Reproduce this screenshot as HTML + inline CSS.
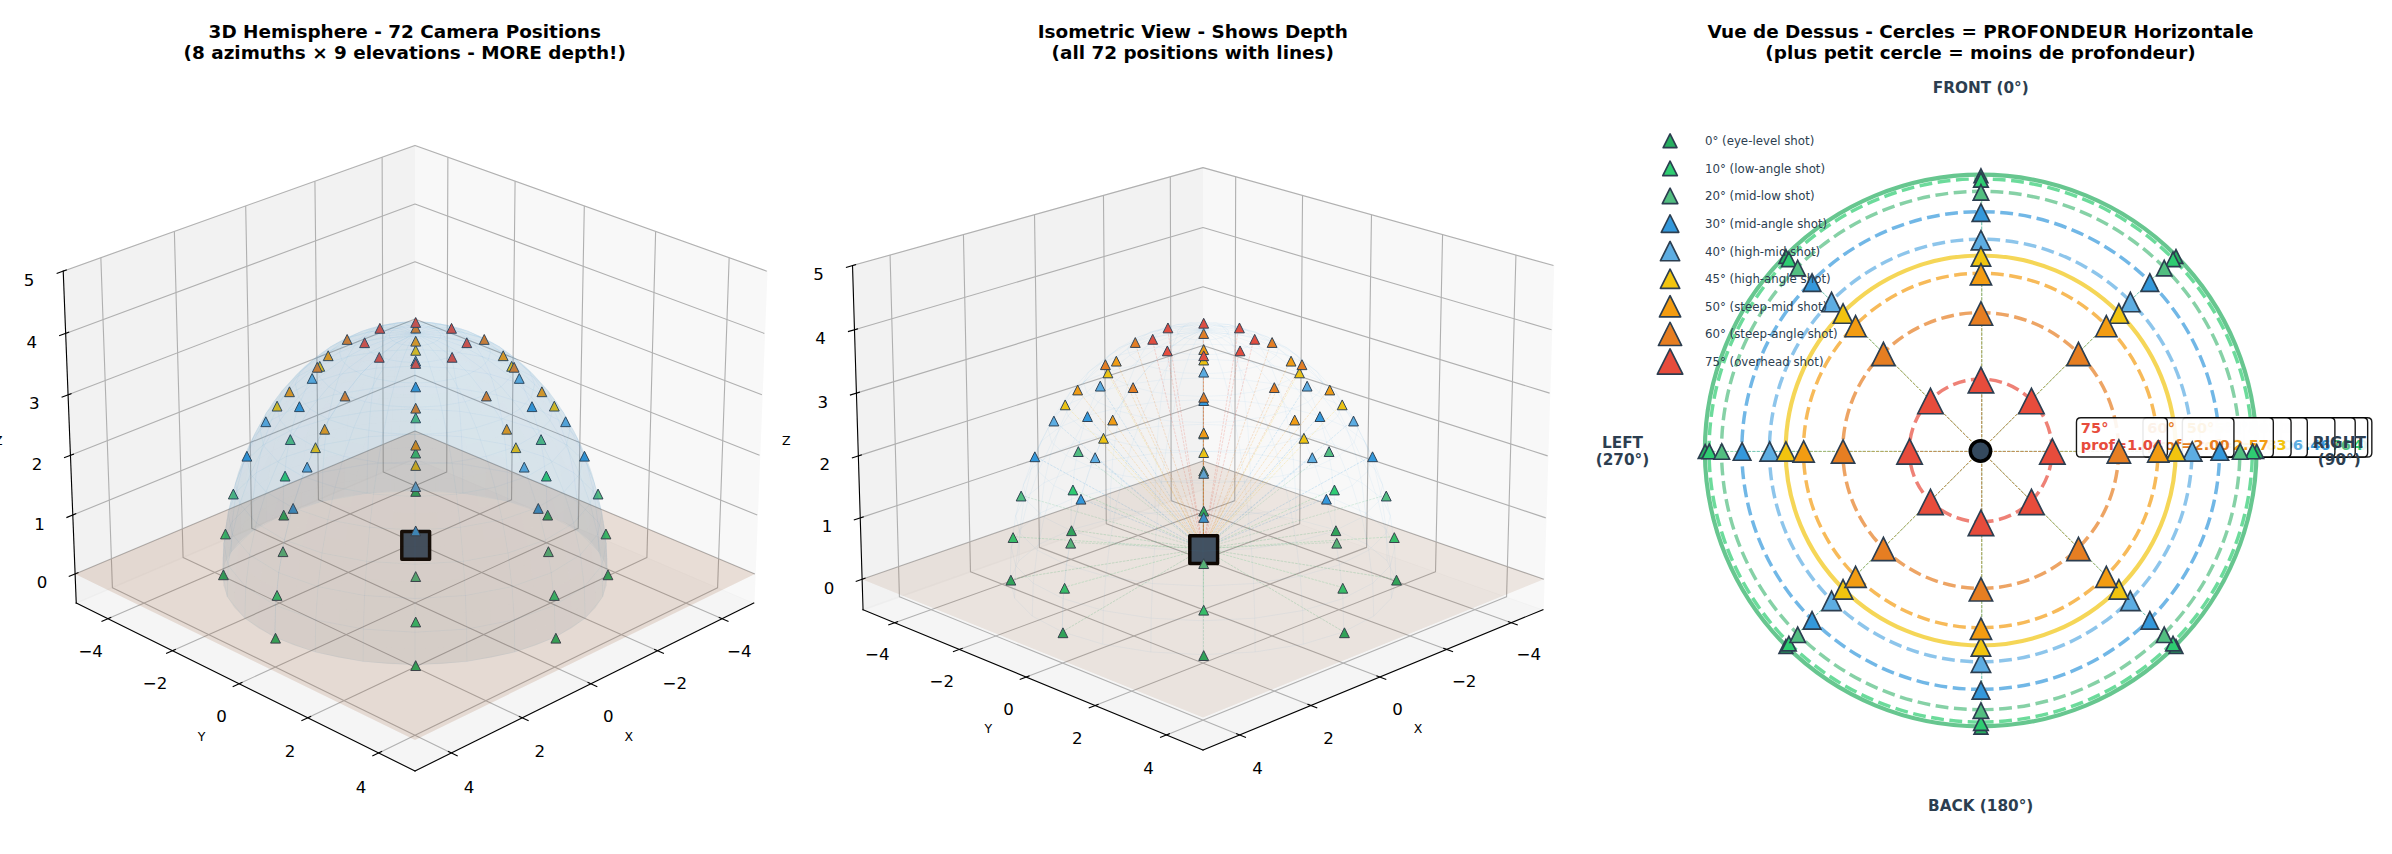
<!DOCTYPE html>
<html lang="en"><head><meta charset="utf-8"><title>72 Camera Positions</title>
<style>html,body{margin:0;padding:0;background:#fff;width:2392px;height:854px;overflow:hidden}svg{display:block}</style>
</head><body>
<svg width="2392" height="854" viewBox="0 0 1722.24 614.88" version="1.1">
<defs>
<style type="text/css">*{stroke-linejoin: round; stroke-linecap: butt}</style>
</defs>
<g id="figure_1">
<g id="patch_1">
<path d="M 0 614.88  L 1722.24 614.88  L 1722.24 0  L 0 0  z
" style="fill: #ffffff"/>
</g>
<g id="patch_2">
<path d="M 18.36 597.42  L 564.48 597.42  L 564.48 51.3  L 18.36 51.3  z
" style="fill: #ffffff"/>
</g>
<g id="pane3d_1">
<g id="patch_3">
<path d="M 298.8 330.15  L 542.7 434.21  L 552.08 195.24  L 298.8 104.71
" style="fill: #f2f2f2; opacity: 0.5; stroke: #f2f2f2; stroke-linejoin: miter"/>
</g>
</g>
<g id="pane3d_2">
<g id="patch_4">
<path d="M 298.8 330.15  L 54.9 434.21  L 45.52 195.24  L 298.8 104.71
" style="fill: #e6e6e6; opacity: 0.5; stroke: #e6e6e6; stroke-linejoin: miter"/>
</g>
</g>
<g id="pane3d_3">
<g id="patch_5">
<path d="M 298.8 330.15  L 54.9 434.21  L 298.8 555.11  L 542.7 434.21
" style="fill: #ececec; opacity: 0.5; stroke: #ececec; stroke-linejoin: miter"/>
</g>
</g>
<g id="grid3d_1">
<g id="Line3DCollection_1">
<path d="M 519.96 445.48  L 275.95 339.9  L 275.13 113.17
" style="fill: none; stroke: #b0b0b0; stroke-width: 0.8"/>
<path d="M 473.45 468.53  L 229.28 359.81  L 226.74 130.47
" style="fill: none; stroke: #b0b0b0; stroke-width: 0.8"/>
<path d="M 425.49 492.31  L 181.25 380.3  L 176.9 148.28
" style="fill: none; stroke: #b0b0b0; stroke-width: 0.8"/>
<path d="M 376.02 516.83  L 131.82 401.39  L 125.55 166.64
" style="fill: none; stroke: #b0b0b0; stroke-width: 0.8"/>
<path d="M 324.95 542.15  L 80.93 423.1  L 72.61 185.56
" style="fill: none; stroke: #b0b0b0; stroke-width: 0.8"/>
</g>
</g>
<g id="grid3d_2">
<g id="Line3DCollection_2">
<path d="M 322.47 113.17  L 321.65 339.9  L 77.64 445.48
" style="fill: none; stroke: #b0b0b0; stroke-width: 0.8"/>
<path d="M 370.86 130.47  L 368.32 359.81  L 124.15 468.53
" style="fill: none; stroke: #b0b0b0; stroke-width: 0.8"/>
<path d="M 420.7 148.28  L 416.35 380.3  L 172.11 492.31
" style="fill: none; stroke: #b0b0b0; stroke-width: 0.8"/>
<path d="M 472.05 166.64  L 465.78 401.39  L 221.58 516.83
" style="fill: none; stroke: #b0b0b0; stroke-width: 0.8"/>
<path d="M 524.99 185.56  L 516.67 423.1  L 272.65 542.15
" style="fill: none; stroke: #b0b0b0; stroke-width: 0.8"/>
</g>
</g>
<g id="grid3d_3">
<g id="Line3DCollection_3">
<path d="M 54.08 413.22  L 298.8 310.3  L 543.52 413.22
" style="fill: none; stroke: #b0b0b0; stroke-width: 0.8"/>
<path d="M 52.42 370.81  L 298.8 270.22  L 545.18 370.81
" style="fill: none; stroke: #b0b0b0; stroke-width: 0.8"/>
<path d="M 50.73 327.82  L 298.8 229.63  L 546.87 327.82
" style="fill: none; stroke: #b0b0b0; stroke-width: 0.8"/>
<path d="M 49.02 284.24  L 298.8 188.53  L 548.58 284.24
" style="fill: none; stroke: #b0b0b0; stroke-width: 0.8"/>
<path d="M 47.28 240.05  L 298.8 146.89  L 550.32 240.05
" style="fill: none; stroke: #b0b0b0; stroke-width: 0.8"/>
<path d="M 45.52 195.24  L 298.8 104.71  L 552.08 195.24
" style="fill: none; stroke: #b0b0b0; stroke-width: 0.8"/>
</g>
</g>
<g id="axis3d_1">
<g id="line2d_1">
<path d="M 542.7 434.21  L 298.8 555.11
" style="fill: none; stroke: #000000; stroke-width: 0.8; stroke-linecap: square"/>
</g>
<g id="xtick_1">
<g id="line2d_2">
<path d="M 517.86 444.57  L 524.17 447.3
" style="fill: none; stroke: #000000; stroke-width: 0.8; stroke-linecap: square"/>
</g>
<g id="text_1">
<text style="font-size: 12px; font-family: 'DejaVu Sans', 'Liberation Sans', sans-serif; text-anchor: middle" x="532.32" y="472.73" transform="rotate(-0 532.32 472.73)">−4</text>
</g>
</g>
<g id="xtick_2">
<g id="line2d_3">
<path d="M 471.35 467.6  L 477.66 470.41
" style="fill: none; stroke: #000000; stroke-width: 0.8; stroke-linecap: square"/>
</g>
<g id="text_2">
<text style="font-size: 12px; font-family: 'DejaVu Sans', 'Liberation Sans', sans-serif; text-anchor: middle" x="485.91" y="496.09" transform="rotate(-0 485.91 496.09)">−2</text>
</g>
</g>
<g id="xtick_3">
<g id="line2d_4">
<path d="M 423.39 491.34  L 429.71 494.24
" style="fill: none; stroke: #000000; stroke-width: 0.8; stroke-linecap: square"/>
</g>
<g id="text_3">
<text style="font-size: 12px; font-family: 'DejaVu Sans', 'Liberation Sans', sans-serif; text-anchor: middle" x="438.05" y="520.17" transform="rotate(-0 438.05 520.17)">0</text>
</g>
</g>
<g id="xtick_4">
<g id="line2d_5">
<path d="M 373.91 515.84  L 380.24 518.83
" style="fill: none; stroke: #000000; stroke-width: 0.8; stroke-linecap: square"/>
</g>
<g id="text_4">
<text style="font-size: 12px; font-family: 'DejaVu Sans', 'Liberation Sans', sans-serif; text-anchor: middle" x="388.68" y="545.02" transform="rotate(-0 388.68 545.02)">2</text>
</g>
</g>
<g id="xtick_5">
<g id="line2d_6">
<path d="M 322.84 541.12  L 329.18 544.21
" style="fill: none; stroke: #000000; stroke-width: 0.8; stroke-linecap: square"/>
</g>
<g id="text_5">
<text style="font-size: 12px; font-family: 'DejaVu Sans', 'Liberation Sans', sans-serif; text-anchor: middle" x="337.72" y="570.67" transform="rotate(-0 337.72 570.67)">4</text>
</g>
</g>
<g id="text_6">
<text style="font-size: 9px; font-family: 'DejaVu Sans', 'Liberation Sans', sans-serif; text-anchor: middle" x="452.67" y="533.77" transform="rotate(-0 452.67 533.77)">X</text>
</g>
</g>
<g id="axis3d_2">
<g id="line2d_7">
<path d="M 54.9 434.21  L 298.8 555.11
" style="fill: none; stroke: #000000; stroke-width: 0.8; stroke-linecap: square"/>
</g>
<g id="xtick_6">
<g id="line2d_8">
<path d="M 79.74 444.57  L 73.43 447.3
" style="fill: none; stroke: #000000; stroke-width: 0.8; stroke-linecap: square"/>
</g>
<g id="text_7">
<text style="font-size: 12px; font-family: 'DejaVu Sans', 'Liberation Sans', sans-serif; text-anchor: middle" x="65.28" y="472.73" transform="rotate(-0 65.28 472.73)">−4</text>
</g>
</g>
<g id="xtick_7">
<g id="line2d_9">
<path d="M 126.25 467.6  L 119.94 470.41
" style="fill: none; stroke: #000000; stroke-width: 0.8; stroke-linecap: square"/>
</g>
<g id="text_8">
<text style="font-size: 12px; font-family: 'DejaVu Sans', 'Liberation Sans', sans-serif; text-anchor: middle" x="111.69" y="496.09" transform="rotate(-0 111.69 496.09)">−2</text>
</g>
</g>
<g id="xtick_8">
<g id="line2d_10">
<path d="M 174.21 491.34  L 167.89 494.24
" style="fill: none; stroke: #000000; stroke-width: 0.8; stroke-linecap: square"/>
</g>
<g id="text_9">
<text style="font-size: 12px; font-family: 'DejaVu Sans', 'Liberation Sans', sans-serif; text-anchor: middle" x="159.55" y="520.17" transform="rotate(-0 159.55 520.17)">0</text>
</g>
</g>
<g id="xtick_9">
<g id="line2d_11">
<path d="M 223.69 515.84  L 217.36 518.83
" style="fill: none; stroke: #000000; stroke-width: 0.8; stroke-linecap: square"/>
</g>
<g id="text_10">
<text style="font-size: 12px; font-family: 'DejaVu Sans', 'Liberation Sans', sans-serif; text-anchor: middle" x="208.92" y="545.02" transform="rotate(-0 208.92 545.02)">2</text>
</g>
</g>
<g id="xtick_10">
<g id="line2d_12">
<path d="M 274.76 541.12  L 268.42 544.21
" style="fill: none; stroke: #000000; stroke-width: 0.8; stroke-linecap: square"/>
</g>
<g id="text_11">
<text style="font-size: 12px; font-family: 'DejaVu Sans', 'Liberation Sans', sans-serif; text-anchor: middle" x="259.88" y="570.67" transform="rotate(-0 259.88 570.67)">4</text>
</g>
</g>
<g id="text_12">
<text style="font-size: 9px; font-family: 'DejaVu Sans', 'Liberation Sans', sans-serif; text-anchor: middle" x="145.2" y="533.39" transform="rotate(-0 145.2 533.39)">Y</text>
</g>
</g>
<g id="axis3d_3">
<g id="line2d_13">
<path d="M 54.9 434.21  L 45.52 195.24
" style="fill: none; stroke: #000000; stroke-width: 0.8; stroke-linecap: square"/>
</g>
<g id="xtick_11">
<g id="line2d_14">
<path d="M 56.18 412.33  L 49.87 414.99
" style="fill: none; stroke: #000000; stroke-width: 0.8; stroke-linecap: square"/>
</g>
<g id="text_13">
<text style="font-size: 12px; font-family: 'DejaVu Sans', 'Liberation Sans', sans-serif; text-anchor: middle" x="30.33" y="423.7" transform="rotate(-0 30.33 423.7)">0</text>
</g>
</g>
<g id="xtick_12">
<g id="line2d_15">
<path d="M 54.53 369.94  L 48.17 372.54
" style="fill: none; stroke: #000000; stroke-width: 0.8; stroke-linecap: square"/>
</g>
<g id="text_14">
<text style="font-size: 12px; font-family: 'DejaVu Sans', 'Liberation Sans', sans-serif; text-anchor: middle" x="28.51" y="381.29" transform="rotate(-0 28.51 381.29)">1</text>
</g>
</g>
<g id="xtick_13">
<g id="line2d_16">
<path d="M 52.86 326.97  L 46.45 329.51
" style="fill: none; stroke: #000000; stroke-width: 0.8; stroke-linecap: square"/>
</g>
<g id="text_15">
<text style="font-size: 12px; font-family: 'DejaVu Sans', 'Liberation Sans', sans-serif; text-anchor: middle" x="26.66" y="338.31" transform="rotate(-0 26.66 338.31)">2</text>
</g>
</g>
<g id="xtick_14">
<g id="line2d_17">
<path d="M 51.17 283.41  L 44.71 285.89
" style="fill: none; stroke: #000000; stroke-width: 0.8; stroke-linecap: square"/>
</g>
<g id="text_16">
<text style="font-size: 12px; font-family: 'DejaVu Sans', 'Liberation Sans', sans-serif; text-anchor: middle" x="24.78" y="294.72" transform="rotate(-0 24.78 294.72)">3</text>
</g>
</g>
<g id="xtick_15">
<g id="line2d_18">
<path d="M 49.45 239.25  L 42.94 241.66
" style="fill: none; stroke: #000000; stroke-width: 0.8; stroke-linecap: square"/>
</g>
<g id="text_17">
<text style="font-size: 12px; font-family: 'DejaVu Sans', 'Liberation Sans', sans-serif; text-anchor: middle" x="22.88" y="250.54" transform="rotate(-0 22.88 250.54)">4</text>
</g>
</g>
<g id="xtick_16">
<g id="line2d_19">
<path d="M 47.71 194.46  L 41.15 196.81
" style="fill: none; stroke: #000000; stroke-width: 0.8; stroke-linecap: square"/>
</g>
<g id="text_18">
<text style="font-size: 12px; font-family: 'DejaVu Sans', 'Liberation Sans', sans-serif; text-anchor: middle" x="20.95" y="205.73" transform="rotate(-0 20.95 205.73)">5</text>
</g>
</g>
<g id="text_19">
<text style="font-size: 9px; font-family: 'DejaVu Sans', 'Liberation Sans', sans-serif; text-anchor: middle" x="-1.29" y="320.54" transform="rotate(-0 -1.29 320.54)">Z</text>
</g>
</g>
<g id="axes_1">
<g id="Path3DCollection_1">
<g clip-path="url(#pf00ca0ee67)">
<path d="M 0 -3.54 L -3.54 3.54 L 3.54 3.54 z" transform="translate(299.3 353.82)" style="fill: #27ae60; stroke: #2c3e50; stroke-width: 0.7"/>
</g>
</g>
<g id="Path3DCollection_2">
<g clip-path="url(#pf00ca0ee67)">
<path d="M 0 -3.54 L -3.54 3.54 L 3.54 3.54 z" transform="translate(299.3 326.22)" style="fill: #2ecc71; stroke: #2c3e50; stroke-width: 0.7"/>
</g>
</g>
<g id="Path3DCollection_3">
<g clip-path="url(#pf00ca0ee67)">
<path d="M 0 -3.54 L -3.54 3.54 L 3.54 3.54 z" transform="translate(299.3 300.89)" style="fill: #52be80; stroke: #2c3e50; stroke-width: 0.7"/>
</g>
</g>
<g id="Path3DCollection_4">
<g clip-path="url(#pf00ca0ee67)">
<path d="M 0 -3.54 L -3.54 3.54 L 3.54 3.54 z" transform="translate(204.27 370.89)" style="fill: #27ae60; stroke: #2c3e50; stroke-width: 0.7"/>
</g>
</g>
<g id="Path3DCollection_5">
<g clip-path="url(#pf00ca0ee67)">
<path d="M 0 -3.54 L -3.54 3.54 L 3.54 3.54 z" transform="translate(394.34 370.89)" style="fill: #27ae60; stroke: #2c3e50; stroke-width: 0.7"/>
</g>
</g>
<g id="Path3DCollection_6">
<g clip-path="url(#pf00ca0ee67)">
<path d="M 0 -3.54 L -3.54 3.54 L 3.54 3.54 z" transform="translate(205.25 342.79)" style="fill: #2ecc71; stroke: #2c3e50; stroke-width: 0.7"/>
</g>
</g>
<g id="Path3DCollection_7">
<g clip-path="url(#pf00ca0ee67)">
<path d="M 0 -3.54 L -3.54 3.54 L 3.54 3.54 z" transform="translate(393.36 342.79)" style="fill: #2ecc71; stroke: #2c3e50; stroke-width: 0.7"/>
</g>
</g>
<g id="Path3DCollection_8">
<g clip-path="url(#pf00ca0ee67)">
<path d="M 0 -3.54 L -3.54 3.54 L 3.54 3.54 z" transform="translate(299.3 278.56)" style="fill: #3498db; stroke: #2c3e50; stroke-width: 0.7"/>
</g>
</g>
<g id="Path3DCollection_9">
<g clip-path="url(#pf00ca0ee67)">
<path d="M 0 -3.54 L -3.54 3.54 L 3.54 3.54 z" transform="translate(209.03 316.5)" style="fill: #52be80; stroke: #2c3e50; stroke-width: 0.7"/>
</g>
</g>
<g id="Path3DCollection_10">
<g clip-path="url(#pf00ca0ee67)">
<path d="M 0 -3.54 L -3.54 3.54 L 3.54 3.54 z" transform="translate(389.57 316.5)" style="fill: #52be80; stroke: #2c3e50; stroke-width: 0.7"/>
</g>
</g>
<g id="Path3DCollection_11">
<g clip-path="url(#pf00ca0ee67)">
<path d="M 0 -3.54 L -3.54 3.54 L 3.54 3.54 z" transform="translate(299.3 259.95)" style="fill: #5dade2; stroke: #2c3e50; stroke-width: 0.7"/>
</g>
</g>
<g id="Path3DCollection_12">
<g clip-path="url(#pf00ca0ee67)">
<path d="M 0 -3.54 L -3.54 3.54 L 3.54 3.54 z" transform="translate(215.58 292.8)" style="fill: #3498db; stroke: #2c3e50; stroke-width: 0.7"/>
</g>
</g>
<g id="Path3DCollection_13">
<g clip-path="url(#pf00ca0ee67)">
<path d="M 0 -3.54 L -3.54 3.54 L 3.54 3.54 z" transform="translate(383.03 292.8)" style="fill: #3498db; stroke: #2c3e50; stroke-width: 0.7"/>
</g>
</g>
<g id="Path3DCollection_14">
<g clip-path="url(#pf00ca0ee67)">
<path d="M 0 -3.54 L -3.54 3.54 L 3.54 3.54 z" transform="translate(299.3 252.23)" style="fill: #f1c40f; stroke: #2c3e50; stroke-width: 0.7"/>
</g>
</g>
<g id="Path3DCollection_15">
<g clip-path="url(#pf00ca0ee67)">
<path d="M 0 -3.54 L -3.54 3.54 L 3.54 3.54 z" transform="translate(299.3 245.67)" style="fill: #f39c12; stroke: #2c3e50; stroke-width: 0.7"/>
</g>
</g>
<g id="Path3DCollection_16">
<g clip-path="url(#pf00ca0ee67)">
<path d="M 0 -3.54 L -3.54 3.54 L 3.54 3.54 z" transform="translate(224.74 272.46)" style="fill: #5dade2; stroke: #2c3e50; stroke-width: 0.7"/>
</g>
</g>
<g id="Path3DCollection_17">
<g clip-path="url(#pf00ca0ee67)">
<path d="M 0 -3.54 L -3.54 3.54 L 3.54 3.54 z" transform="translate(373.87 272.46)" style="fill: #5dade2; stroke: #2c3e50; stroke-width: 0.7"/>
</g>
</g>
<g id="Path3DCollection_18">
<g clip-path="url(#pf00ca0ee67)">
<path d="M 0 -3.54 L -3.54 3.54 L 3.54 3.54 z" transform="translate(230.23 263.75)" style="fill: #f1c40f; stroke: #2c3e50; stroke-width: 0.7"/>
</g>
</g>
<g id="Path3DCollection_19">
<g clip-path="url(#pf00ca0ee67)">
<path d="M 0 -3.54 L -3.54 3.54 L 3.54 3.54 z" transform="translate(368.37 263.75)" style="fill: #f1c40f; stroke: #2c3e50; stroke-width: 0.7"/>
</g>
</g>
<g id="Path3DCollection_20">
<g clip-path="url(#pf00ca0ee67)">
<path d="M 0 -3.54 L -3.54 3.54 L 3.54 3.54 z" transform="translate(160.87 413.86)" style="fill: #27ae60; stroke: #2c3e50; stroke-width: 0.7"/>
</g>
</g>
<g id="Path3DCollection_21">
<g clip-path="url(#pf00ca0ee67)">
<path d="M 0 -3.54 L -3.54 3.54 L 3.54 3.54 z" transform="translate(437.74 413.86)" style="fill: #27ae60; stroke: #2c3e50; stroke-width: 0.7"/>
</g>
</g>
<g id="Path3DCollection_22">
<g clip-path="url(#pf00ca0ee67)">
<path d="M 0 -3.54 L -3.54 3.54 L 3.54 3.54 z" transform="translate(362.31 256.13)" style="fill: #f39c12; stroke: #2c3e50; stroke-width: 0.7"/>
</g>
</g>
<g id="Path3DCollection_23">
<g clip-path="url(#pf00ca0ee67)">
<path d="M 0 -3.54 L -3.54 3.54 L 3.54 3.54 z" transform="translate(236.3 256.13)" style="fill: #f39c12; stroke: #2c3e50; stroke-width: 0.7"/>
</g>
</g>
<g id="Path3DCollection_24">
<g clip-path="url(#pf00ca0ee67)">
<path d="M 0 -3.54 L -3.54 3.54 L 3.54 3.54 z" transform="translate(299.3 236.27)" style="fill: #e67e22; stroke: #2c3e50; stroke-width: 0.7"/>
</g>
</g>
<g id="Path3DCollection_25">
<g clip-path="url(#pf00ca0ee67)">
<path d="M -10 10 L 10 10 L 10 -10 L -10 -10 z" transform="translate(299.3 392.73)" style="fill: #3a536a; stroke: #000000; stroke-width: 2.5"/>
</g>
</g>
<g id="Path3DCollection_26">
<g clip-path="url(#pf00ca0ee67)">
<path d="M 0 -3.54 L -3.54 3.54 L 3.54 3.54 z" transform="translate(436.28 384.47)" style="fill: #2ecc71; stroke: #2c3e50; stroke-width: 0.7"/>
</g>
</g>
<g id="Path3DCollection_27">
<g clip-path="url(#pf00ca0ee67)">
<path d="M 0 -3.54 L -3.54 3.54 L 3.54 3.54 z" transform="translate(162.33 384.47)" style="fill: #2ecc71; stroke: #2c3e50; stroke-width: 0.7"/>
</g>
</g>
<g id="Path3DCollection_28">
<g clip-path="url(#pf00ca0ee67)">
<path d="M 0 -3.54 L -3.54 3.54 L 3.54 3.54 z" transform="translate(249.95 244.4)" style="fill: #e67e22; stroke: #2c3e50; stroke-width: 0.7"/>
</g>
</g>
<g id="Path3DCollection_29">
<g clip-path="url(#pf00ca0ee67)">
<path d="M 0 -3.54 L -3.54 3.54 L 3.54 3.54 z" transform="translate(348.66 244.4)" style="fill: #e67e22; stroke: #2c3e50; stroke-width: 0.7"/>
</g>
</g>
<g id="Path3DCollection_30">
<g clip-path="url(#pf00ca0ee67)">
<path d="M 0 -3.54 L -3.54 3.54 L 3.54 3.54 z" transform="translate(430.6 355.7)" style="fill: #52be80; stroke: #2c3e50; stroke-width: 0.7"/>
</g>
</g>
<g id="Path3DCollection_31">
<g clip-path="url(#pf00ca0ee67)">
<path d="M 0 -3.54 L -3.54 3.54 L 3.54 3.54 z" transform="translate(168 355.7)" style="fill: #52be80; stroke: #2c3e50; stroke-width: 0.7"/>
</g>
</g>
<g id="Path3DCollection_32">
<g clip-path="url(#pf00ca0ee67)">
<path d="M 0 -3.54 L -3.54 3.54 L 3.54 3.54 z" transform="translate(420.83 328.47)" style="fill: #3498db; stroke: #2c3e50; stroke-width: 0.7"/>
</g>
</g>
<g id="Path3DCollection_33">
<g clip-path="url(#pf00ca0ee67)">
<path d="M 0 -3.54 L -3.54 3.54 L 3.54 3.54 z" transform="translate(177.77 328.47)" style="fill: #3498db; stroke: #2c3e50; stroke-width: 0.7"/>
</g>
</g>
<g id="Path3DCollection_34">
<g clip-path="url(#pf00ca0ee67)">
<path d="M 0 -3.54 L -3.54 3.54 L 3.54 3.54 z" transform="translate(299.3 232.17)" style="fill: #e74c3c; stroke: #2c3e50; stroke-width: 0.7"/>
</g>
</g>
<g id="Path3DCollection_35">
<g clip-path="url(#pf00ca0ee67)">
<path d="M 0 -3.54 L -3.54 3.54 L 3.54 3.54 z" transform="translate(407.23 303.65)" style="fill: #5dade2; stroke: #2c3e50; stroke-width: 0.7"/>
</g>
</g>
<g id="Path3DCollection_36">
<g clip-path="url(#pf00ca0ee67)">
<path d="M 0 -3.54 L -3.54 3.54 L 3.54 3.54 z" transform="translate(191.38 303.65)" style="fill: #5dade2; stroke: #2c3e50; stroke-width: 0.7"/>
</g>
</g>
<g id="Path3DCollection_37">
<g clip-path="url(#pf00ca0ee67)">
<path d="M 0 -3.54 L -3.54 3.54 L 3.54 3.54 z" transform="translate(273.5 236.41)" style="fill: #e74c3c; stroke: #2c3e50; stroke-width: 0.7"/>
</g>
</g>
<g id="Path3DCollection_38">
<g clip-path="url(#pf00ca0ee67)">
<path d="M 0 -3.54 L -3.54 3.54 L 3.54 3.54 z" transform="translate(325.11 236.41)" style="fill: #e74c3c; stroke: #2c3e50; stroke-width: 0.7"/>
</g>
</g>
<g id="Path3DCollection_39">
<g clip-path="url(#pf00ca0ee67)">
<path d="M 0 -3.54 L -3.54 3.54 L 3.54 3.54 z" transform="translate(199.51 292.41)" style="fill: #f1c40f; stroke: #2c3e50; stroke-width: 0.7"/>
</g>
</g>
<g id="Path3DCollection_40">
<g clip-path="url(#pf00ca0ee67)">
<path d="M 0 -3.54 L -3.54 3.54 L 3.54 3.54 z" transform="translate(399.1 292.41)" style="fill: #f1c40f; stroke: #2c3e50; stroke-width: 0.7"/>
</g>
</g>
<g id="Path3DCollection_41">
<g clip-path="url(#pf00ca0ee67)">
<path d="M 0 -3.54 L -3.54 3.54 L 3.54 3.54 z" transform="translate(208.44 282.07)" style="fill: #f39c12; stroke: #2c3e50; stroke-width: 0.7"/>
</g>
</g>
<g id="Path3DCollection_42">
<g clip-path="url(#pf00ca0ee67)">
<path d="M 0 -3.54 L -3.54 3.54 L 3.54 3.54 z" transform="translate(390.17 282.07)" style="fill: #f39c12; stroke: #2c3e50; stroke-width: 0.7"/>
</g>
</g>
<g id="Path3DCollection_43">
<g clip-path="url(#pf00ca0ee67)">
<path d="M 0 -3.54 L -3.54 3.54 L 3.54 3.54 z" transform="translate(228.43 264.45)" style="fill: #e67e22; stroke: #2c3e50; stroke-width: 0.7"/>
</g>
</g>
<g id="Path3DCollection_44">
<g clip-path="url(#pf00ca0ee67)">
<path d="M 0 -3.54 L -3.54 3.54 L 3.54 3.54 z" transform="translate(370.18 264.45)" style="fill: #e67e22; stroke: #2c3e50; stroke-width: 0.7"/>
</g>
</g>
<g id="Path3DCollection_45">
<g clip-path="url(#pf00ca0ee67)">
<path d="M 0 -3.54 L -3.54 3.54 L 3.54 3.54 z" transform="translate(336.09 246.76)" style="fill: #e74c3c; stroke: #2c3e50; stroke-width: 0.7"/>
</g>
</g>
<g id="Path3DCollection_46">
<g clip-path="url(#pf00ca0ee67)">
<path d="M 0 -3.54 L -3.54 3.54 L 3.54 3.54 z" transform="translate(262.51 246.76)" style="fill: #e74c3c; stroke: #2c3e50; stroke-width: 0.7"/>
</g>
</g>
<g id="Path3DCollection_47">
<g clip-path="url(#pf00ca0ee67)">
<path d="M 0 -3.54 L -3.54 3.54 L 3.54 3.54 z" transform="translate(400.22 459.5)" style="fill: #27ae60; stroke: #2c3e50; stroke-width: 0.7"/>
</g>
</g>
<g id="Path3DCollection_48">
<g clip-path="url(#pf00ca0ee67)">
<path d="M 0 -3.54 L -3.54 3.54 L 3.54 3.54 z" transform="translate(198.38 459.5)" style="fill: #27ae60; stroke: #2c3e50; stroke-width: 0.7"/>
</g>
</g>
<g id="Path3DCollection_49">
<g clip-path="url(#pf00ca0ee67)">
<path d="M 0 -3.54 L -3.54 3.54 L 3.54 3.54 z" transform="translate(325.53 257.27)" style="fill: #e74c3c; stroke: #2c3e50; stroke-width: 0.7"/>
</g>
</g>
<g id="Path3DCollection_50">
<g clip-path="url(#pf00ca0ee67)">
<path d="M 0 -3.54 L -3.54 3.54 L 3.54 3.54 z" transform="translate(273.08 257.27)" style="fill: #e74c3c; stroke: #2c3e50; stroke-width: 0.7"/>
</g>
</g>
<g id="Path3DCollection_51">
<g clip-path="url(#pf00ca0ee67)">
<path d="M 0 -3.54 L -3.54 3.54 L 3.54 3.54 z" transform="translate(399.13 428.71)" style="fill: #2ecc71; stroke: #2c3e50; stroke-width: 0.7"/>
</g>
</g>
<g id="Path3DCollection_52">
<g clip-path="url(#pf00ca0ee67)">
<path d="M 0 -3.54 L -3.54 3.54 L 3.54 3.54 z" transform="translate(199.48 428.71)" style="fill: #2ecc71; stroke: #2c3e50; stroke-width: 0.7"/>
</g>
</g>
<g id="Path3DCollection_53">
<g clip-path="url(#pf00ca0ee67)">
<path d="M 0 -3.54 L -3.54 3.54 L 3.54 3.54 z" transform="translate(299.3 261.67)" style="fill: #e74c3c; stroke: #2c3e50; stroke-width: 0.7"/>
</g>
</g>
<g id="Path3DCollection_54">
<g clip-path="url(#pf00ca0ee67)">
<path d="M 0 -3.54 L -3.54 3.54 L 3.54 3.54 z" transform="translate(203.74 397.21)" style="fill: #52be80; stroke: #2c3e50; stroke-width: 0.7"/>
</g>
</g>
<g id="Path3DCollection_55">
<g clip-path="url(#pf00ca0ee67)">
<path d="M 0 -3.54 L -3.54 3.54 L 3.54 3.54 z" transform="translate(394.87 397.21)" style="fill: #52be80; stroke: #2c3e50; stroke-width: 0.7"/>
</g>
</g>
<g id="Path3DCollection_56">
<g clip-path="url(#pf00ca0ee67)">
<path d="M 0 -3.54 L -3.54 3.54 L 3.54 3.54 z" transform="translate(350.2 285.13)" style="fill: #e67e22; stroke: #2c3e50; stroke-width: 0.7"/>
</g>
</g>
<g id="Path3DCollection_57">
<g clip-path="url(#pf00ca0ee67)">
<path d="M 0 -3.54 L -3.54 3.54 L 3.54 3.54 z" transform="translate(248.4 285.13)" style="fill: #e67e22; stroke: #2c3e50; stroke-width: 0.7"/>
</g>
</g>
<g id="Path3DCollection_58">
<g clip-path="url(#pf00ca0ee67)">
<path d="M 0 -3.54 L -3.54 3.54 L 3.54 3.54 z" transform="translate(387.57 366.06)" style="fill: #3498db; stroke: #2c3e50; stroke-width: 0.7"/>
</g>
</g>
<g id="Path3DCollection_59">
<g clip-path="url(#pf00ca0ee67)">
<path d="M 0 -3.54 L -3.54 3.54 L 3.54 3.54 z" transform="translate(211.04 366.06)" style="fill: #3498db; stroke: #2c3e50; stroke-width: 0.7"/>
</g>
</g>
<g id="Path3DCollection_60">
<g clip-path="url(#pf00ca0ee67)">
<path d="M 0 -3.54 L -3.54 3.54 L 3.54 3.54 z" transform="translate(364.85 309.05)" style="fill: #f39c12; stroke: #2c3e50; stroke-width: 0.7"/>
</g>
</g>
<g id="Path3DCollection_61">
<g clip-path="url(#pf00ca0ee67)">
<path d="M 0 -3.54 L -3.54 3.54 L 3.54 3.54 z" transform="translate(233.76 309.05)" style="fill: #f39c12; stroke: #2c3e50; stroke-width: 0.7"/>
</g>
</g>
<g id="Path3DCollection_62">
<g clip-path="url(#pf00ca0ee67)">
<path d="M 0 -3.54 L -3.54 3.54 L 3.54 3.54 z" transform="translate(371.43 322.33)" style="fill: #f1c40f; stroke: #2c3e50; stroke-width: 0.7"/>
</g>
</g>
<g id="Path3DCollection_63">
<g clip-path="url(#pf00ca0ee67)">
<path d="M 0 -3.54 L -3.54 3.54 L 3.54 3.54 z" transform="translate(227.18 322.33)" style="fill: #f1c40f; stroke: #2c3e50; stroke-width: 0.7"/>
</g>
</g>
<g id="Path3DCollection_64">
<g clip-path="url(#pf00ca0ee67)">
<path d="M 0 -3.54 L -3.54 3.54 L 3.54 3.54 z" transform="translate(377.45 336.34)" style="fill: #5dade2; stroke: #2c3e50; stroke-width: 0.7"/>
</g>
</g>
<g id="Path3DCollection_65">
<g clip-path="url(#pf00ca0ee67)">
<path d="M 0 -3.54 L -3.54 3.54 L 3.54 3.54 z" transform="translate(221.16 336.34)" style="fill: #5dade2; stroke: #2c3e50; stroke-width: 0.7"/>
</g>
</g>
<g id="Path3DCollection_66">
<g clip-path="url(#pf00ca0ee67)">
<path d="M 0 -3.54 L -3.54 3.54 L 3.54 3.54 z" transform="translate(299.3 479.24)" style="fill: #27ae60; stroke: #2c3e50; stroke-width: 0.7"/>
</g>
</g>
<g id="Path3DCollection_67">
<g clip-path="url(#pf00ca0ee67)">
<path d="M 0 -3.54 L -3.54 3.54 L 3.54 3.54 z" transform="translate(299.3 293.89)" style="fill: #e67e22; stroke: #2c3e50; stroke-width: 0.7"/>
</g>
</g>
<g id="Path3DCollection_68">
<g clip-path="url(#pf00ca0ee67)">
<path d="M 0 -3.54 L -3.54 3.54 L 3.54 3.54 z" transform="translate(299.3 447.83)" style="fill: #2ecc71; stroke: #2c3e50; stroke-width: 0.7"/>
</g>
</g>
<g id="Path3DCollection_69">
<g clip-path="url(#pf00ca0ee67)">
<path d="M 0 -3.54 L -3.54 3.54 L 3.54 3.54 z" transform="translate(299.3 320.55)" style="fill: #f39c12; stroke: #2c3e50; stroke-width: 0.7"/>
</g>
</g>
<g id="Path3DCollection_70">
<g clip-path="url(#pf00ca0ee67)">
<path d="M 0 -3.54 L -3.54 3.54 L 3.54 3.54 z" transform="translate(299.3 335.12)" style="fill: #f1c40f; stroke: #2c3e50; stroke-width: 0.7"/>
</g>
</g>
<g id="Path3DCollection_71">
<g clip-path="url(#pf00ca0ee67)">
<path d="M 0 -3.54 L -3.54 3.54 L 3.54 3.54 z" transform="translate(299.3 415.12)" style="fill: #52be80; stroke: #2c3e50; stroke-width: 0.7"/>
</g>
</g>
<g id="Path3DCollection_72">
<g clip-path="url(#pf00ca0ee67)">
<path d="M 0 -3.54 L -3.54 3.54 L 3.54 3.54 z" transform="translate(299.3 350.34)" style="fill: #5dade2; stroke: #2c3e50; stroke-width: 0.7"/>
</g>
</g>
<g id="Path3DCollection_73">
<g clip-path="url(#pf00ca0ee67)">
<path d="M 0 -3.54 L -3.54 3.54 L 3.54 3.54 z" transform="translate(299.3 382.24)" style="fill: #3498db; stroke: #2c3e50; stroke-width: 0.7"/>
</g>
</g>
<g id="Line3DCollection_4">
<path d="M 298.8 240.05  L 285.62 246.84  L 272.58 256.62  L 259.92 269.24  L 247.9 284.49  L 236.74 302.08  L 226.67 321.68  L 217.88 342.93  L 210.54 365.41  L 204.78 388.7  L 200.71 412.33  L 198.4 435.86  L 197.88 458.85
" clip-path="url(#pf00ca0ee67)" style="fill: none; stroke: #3498db; stroke-opacity: 0.09; stroke-width: 0.5"/>
<path d="M 298.8 240.05  L 289.47 248.03  L 280.22 259.01  L 271.24 272.82  L 262.68 289.22  L 254.73 307.93  L 247.54 328.59  L 241.26 350.81  L 236.01 374.15  L 231.88 398.15  L 228.97 422.36  L 227.31 446.29  L 226.94 469.5
" clip-path="url(#pf00ca0ee67)" style="fill: none; stroke: #3498db; stroke-opacity: 0.09; stroke-width: 0.5"/>
<path d="M 298.8 240.05  L 293.97 248.78  L 289.17 260.51  L 284.51 275.07  L 280.06 292.22  L 275.93 311.64  L 272.18 332.97  L 268.91 355.8  L 266.17 379.69  L 264.02 404.16  L 262.5 428.74  L 261.63 452.93  L 261.44 476.27
" clip-path="url(#pf00ca0ee67)" style="fill: none; stroke: #3498db; stroke-opacity: 0.09; stroke-width: 0.5"/>
<path d="M 298.8 240.05  L 298.8 249.03  L 298.8 261.02  L 298.8 275.85  L 298.8 293.24  L 298.8 312.91  L 298.8 334.47  L 298.8 357.51  L 298.8 381.59  L 298.8 406.22  L 298.8 430.92  L 298.8 455.2  L 298.8 478.59
" clip-path="url(#pf00ca0ee67)" style="fill: none; stroke: #3498db; stroke-opacity: 0.09; stroke-width: 0.5"/>
<path d="M 298.8 240.05  L 303.63 248.78  L 308.43 260.51  L 313.09 275.07  L 317.54 292.22  L 321.67 311.64  L 325.42 332.97  L 328.69 355.8  L 331.43 379.69  L 333.58 404.16  L 335.1 428.74  L 335.97 452.93  L 336.16 476.27
" clip-path="url(#pf00ca0ee67)" style="fill: none; stroke: #3498db; stroke-opacity: 0.09; stroke-width: 0.5"/>
<path d="M 298.8 240.05  L 308.13 248.03  L 317.38 259.01  L 326.36 272.82  L 334.92 289.22  L 342.87 307.93  L 350.06 328.59  L 356.34 350.81  L 361.59 374.15  L 365.72 398.15  L 368.63 422.36  L 370.29 446.29  L 370.66 469.5
" clip-path="url(#pf00ca0ee67)" style="fill: none; stroke: #3498db; stroke-opacity: 0.09; stroke-width: 0.5"/>
<path d="M 298.8 240.05  L 311.98 246.84  L 325.02 256.62  L 337.68 269.24  L 349.7 284.49  L 360.86 302.08  L 370.93 321.68  L 379.72 342.93  L 387.06 365.41  L 392.82 388.7  L 396.89 412.33  L 399.2 435.86  L 399.72 458.85
" clip-path="url(#pf00ca0ee67)" style="fill: none; stroke: #3498db; stroke-opacity: 0.09; stroke-width: 0.5"/>
<path d="M 298.8 240.05  L 314.93 245.29  L 330.84 253.52  L 346.25 264.61  L 360.86 278.36  L 374.38 294.52  L 386.57 312.78  L 397.19 332.8  L 406.05 354.19  L 412.98 376.56  L 417.88 399.46  L 420.66 422.48  L 421.29 445.19
" clip-path="url(#pf00ca0ee67)" style="fill: none; stroke: #3498db; stroke-opacity: 0.09; stroke-width: 0.5"/>
<path d="M 298.8 240.05  L 316.76 243.49  L 334.44 249.94  L 351.51 259.26  L 367.65 271.3  L 382.56 285.83  L 395.97 302.56  L 407.63 321.18  L 417.33 341.35  L 424.93 362.67  L 430.28 384.76  L 433.32 407.2  L 434 429.6
" clip-path="url(#pf00ca0ee67)" style="fill: none; stroke: #3498db; stroke-opacity: 0.09; stroke-width: 0.5"/>
<path d="M 298.8 240.05  L 317.37 241.57  L 335.59 246.11  L 353.13 253.57  L 369.68 263.81  L 384.92 276.62  L 398.6 291.76  L 410.46 308.93  L 420.33 327.82  L 428.03 348.07  L 433.46 369.3  L 436.54 391.15  L 437.23 413.22
" clip-path="url(#pf00ca0ee67)" style="fill: none; stroke: #3498db; stroke-opacity: 0.09; stroke-width: 0.5"/>
<path d="M 298.8 240.05  L 316.71 239.66  L 334.23 242.3  L 351.06 247.92  L 366.88 256.39  L 381.42 267.54  L 394.44 281.13  L 405.71 296.9  L 415.07 314.55  L 422.36 333.76  L 427.49 354.17  L 430.4 375.44  L 431.06 397.19
" clip-path="url(#pf00ca0ee67)" style="fill: none; stroke: #3498db; stroke-opacity: 0.09; stroke-width: 0.5"/>
<path d="M 298.8 240.05  L 314.83 237.87  L 330.48 238.78  L 345.46 242.71  L 359.52 249.56  L 372.41 259.18  L 383.92 271.37  L 393.87 285.87  L 402.12 302.41  L 408.54 320.68  L 413.06 340.36  L 415.61 361.11  L 416.19 382.57
" clip-path="url(#pf00ca0ee67)" style="fill: none; stroke: #3498db; stroke-opacity: 0.09; stroke-width: 0.5"/>
<path d="M 298.8 240.05  L 311.88 236.35  L 324.61 235.76  L 336.77 238.26  L 348.16 243.75  L 358.58 252.1  L 367.87 263.1  L 375.89 276.54  L 382.53 292.16  L 387.69 309.65  L 391.31 328.72  L 393.37 349.03  L 393.83 370.25
" clip-path="url(#pf00ca0ee67)" style="fill: none; stroke: #3498db; stroke-opacity: 0.09; stroke-width: 0.5"/>
<path d="M 298.8 240.05  L 308.04 235.18  L 317.02 233.46  L 325.58 234.87  L 333.58 239.33  L 340.9 246.71  L 347.41 256.83  L 353.02 269.47  L 357.66 284.39  L 361.27 301.31  L 363.8 319.91  L 365.24 339.9  L 365.56 360.93
" clip-path="url(#pf00ca0ee67)" style="fill: none; stroke: #3498db; stroke-opacity: 0.09; stroke-width: 0.5"/>
<path d="M 298.8 240.05  L 303.58 234.45  L 308.22 232.02  L 312.64 232.75  L 316.77 236.56  L 320.53 243.34  L 323.89 252.92  L 326.77 265.07  L 329.16 279.56  L 331.01 296.11  L 332.31 314.43  L 333.05 334.22  L 333.22 355.14
" clip-path="url(#pf00ca0ee67)" style="fill: none; stroke: #3498db; stroke-opacity: 0.09; stroke-width: 0.5"/>
<path d="M 298.8 240.05  L 298.8 234.2  L 298.8 231.53  L 298.8 232.02  L 298.8 235.62  L 298.8 242.2  L 298.8 251.59  L 298.8 263.57  L 298.8 277.92  L 298.8 294.35  L 298.8 312.57  L 298.8 332.29  L 298.8 353.17
" clip-path="url(#pf00ca0ee67)" style="fill: none; stroke: #3498db; stroke-opacity: 0.09; stroke-width: 0.5"/>
<path d="M 298.8 240.05  L 294.02 234.45  L 289.38 232.02  L 284.96 232.75  L 280.83 236.56  L 277.07 243.34  L 273.71 252.92  L 270.83 265.07  L 268.44 279.56  L 266.59 296.11  L 265.29 314.43  L 264.55 334.22  L 264.38 355.14
" clip-path="url(#pf00ca0ee67)" style="fill: none; stroke: #3498db; stroke-opacity: 0.09; stroke-width: 0.5"/>
<path d="M 298.8 240.05  L 289.56 235.18  L 280.58 233.46  L 272.02 234.87  L 264.02 239.33  L 256.7 246.71  L 250.19 256.83  L 244.58 269.47  L 239.94 284.39  L 236.33 301.31  L 233.8 319.91  L 232.36 339.9  L 232.04 360.93
" clip-path="url(#pf00ca0ee67)" style="fill: none; stroke: #3498db; stroke-opacity: 0.09; stroke-width: 0.5"/>
<path d="M 298.8 240.05  L 285.72 236.35  L 272.99 235.76  L 260.83 238.26  L 249.44 243.75  L 239.02 252.1  L 229.73 263.1  L 221.71 276.54  L 215.07 292.16  L 209.91 309.65  L 206.29 328.72  L 204.23 349.03  L 203.77 370.25
" clip-path="url(#pf00ca0ee67)" style="fill: none; stroke: #3498db; stroke-opacity: 0.09; stroke-width: 0.5"/>
<path d="M 298.8 240.05  L 282.77 237.87  L 267.12 238.78  L 252.14 242.71  L 238.08 249.56  L 225.19 259.18  L 213.68 271.37  L 203.73 285.87  L 195.48 302.41  L 189.06 320.68  L 184.54 340.36  L 181.99 361.11  L 181.41 382.57
" clip-path="url(#pf00ca0ee67)" style="fill: none; stroke: #3498db; stroke-opacity: 0.09; stroke-width: 0.5"/>
<path d="M 298.8 240.05  L 280.89 239.66  L 263.37 242.3  L 246.54 247.92  L 230.72 256.39  L 216.18 267.54  L 203.16 281.13  L 191.89 296.9  L 182.53 314.55  L 175.24 333.76  L 170.11 354.17  L 167.2 375.44  L 166.54 397.19
" clip-path="url(#pf00ca0ee67)" style="fill: none; stroke: #3498db; stroke-opacity: 0.09; stroke-width: 0.5"/>
<path d="M 298.8 240.05  L 280.23 241.57  L 262.01 246.11  L 244.47 253.57  L 227.92 263.81  L 212.68 276.62  L 199 291.76  L 187.14 308.93  L 177.27 327.82  L 169.57 348.07  L 164.14 369.3  L 161.06 391.15  L 160.37 413.22
" clip-path="url(#pf00ca0ee67)" style="fill: none; stroke: #3498db; stroke-opacity: 0.09; stroke-width: 0.5"/>
<path d="M 298.8 240.05  L 280.84 243.49  L 263.16 249.94  L 246.09 259.26  L 229.95 271.3  L 215.04 285.83  L 201.63 302.56  L 189.97 321.18  L 180.27 341.35  L 172.67 362.67  L 167.32 384.76  L 164.28 407.2  L 163.6 429.6
" clip-path="url(#pf00ca0ee67)" style="fill: none; stroke: #3498db; stroke-opacity: 0.09; stroke-width: 0.5"/>
<path d="M 298.8 240.05  L 282.67 245.29  L 266.76 253.52  L 251.35 264.61  L 236.74 278.36  L 223.22 294.52  L 211.03 312.78  L 200.41 332.8  L 191.55 354.19  L 184.62 376.56  L 179.72 399.46  L 176.94 422.48  L 176.31 445.19
" clip-path="url(#pf00ca0ee67)" style="fill: none; stroke: #3498db; stroke-opacity: 0.09; stroke-width: 0.5"/>
<path d="M 298.8 240.05  L 285.62 246.84  L 272.58 256.62  L 259.92 269.24  L 247.9 284.49  L 236.74 302.08  L 226.67 321.68  L 217.88 342.93  L 210.54 365.41  L 204.78 388.7  L 200.71 412.33  L 198.4 435.86  L 197.88 458.85
" clip-path="url(#pf00ca0ee67)" style="fill: none; stroke: #3498db; stroke-opacity: 0.09; stroke-width: 0.5"/>
<path d="M 298.8 240.05  L 298.8 240.05  L 298.8 240.05  L 298.8 240.05  L 298.8 240.05  L 298.8 240.05  L 298.8 240.05  L 298.8 240.05  L 298.8 240.05  L 298.8 240.05  L 298.8 240.05  L 298.8 240.05  L 298.8 240.05  L 298.8 240.05  L 298.8 240.05  L 298.8 240.05  L 298.8 240.05  L 298.8 240.05  L 298.8 240.05  L 298.8 240.05  L 298.8 240.05  L 298.8 240.05  L 298.8 240.05  L 298.8 240.05  L 298.8 240.05
" clip-path="url(#pf00ca0ee67)" style="fill: none; stroke: #3498db; stroke-opacity: 0.09; stroke-width: 0.5"/>
<path d="M 285.62 246.84  L 289.47 248.03  L 293.97 248.78  L 298.8 249.03  L 303.63 248.78  L 308.13 248.03  L 311.98 246.84  L 314.93 245.29  L 316.76 243.49  L 317.37 241.57  L 316.71 239.66  L 314.83 237.87  L 311.88 236.35  L 308.04 235.18  L 303.58 234.45  L 298.8 234.2  L 294.02 234.45  L 289.56 235.18  L 285.72 236.35  L 282.77 237.87  L 280.89 239.66  L 280.23 241.57  L 280.84 243.49  L 282.67 245.29  L 285.62 246.84
" clip-path="url(#pf00ca0ee67)" style="fill: none; stroke: #3498db; stroke-opacity: 0.09; stroke-width: 0.5"/>
<path d="M 272.58 256.62  L 280.22 259.01  L 289.17 260.51  L 298.8 261.02  L 308.43 260.51  L 317.38 259.01  L 325.02 256.62  L 330.84 253.52  L 334.44 249.94  L 335.59 246.11  L 334.23 242.3  L 330.48 238.78  L 324.61 235.76  L 317.02 233.46  L 308.22 232.02  L 298.8 231.53  L 289.38 232.02  L 280.58 233.46  L 272.99 235.76  L 267.12 238.78  L 263.37 242.3  L 262.01 246.11  L 263.16 249.94  L 266.76 253.52  L 272.58 256.62
" clip-path="url(#pf00ca0ee67)" style="fill: none; stroke: #3498db; stroke-opacity: 0.09; stroke-width: 0.5"/>
<path d="M 259.92 269.24  L 271.24 272.82  L 284.51 275.07  L 298.8 275.85  L 313.09 275.07  L 326.36 272.82  L 337.68 269.24  L 346.25 264.61  L 351.51 259.26  L 353.13 253.57  L 351.06 247.92  L 345.46 242.71  L 336.77 238.26  L 325.58 234.87  L 312.64 232.75  L 298.8 232.02  L 284.96 232.75  L 272.02 234.87  L 260.83 238.26  L 252.14 242.71  L 246.54 247.92  L 244.47 253.57  L 246.09 259.26  L 251.35 264.61  L 259.92 269.24
" clip-path="url(#pf00ca0ee67)" style="fill: none; stroke: #3498db; stroke-opacity: 0.09; stroke-width: 0.5"/>
<path d="M 247.9 284.49  L 262.68 289.22  L 280.06 292.22  L 298.8 293.24  L 317.54 292.22  L 334.92 289.22  L 349.7 284.49  L 360.86 278.36  L 367.65 271.3  L 369.68 263.81  L 366.88 256.39  L 359.52 249.56  L 348.16 243.75  L 333.58 239.33  L 316.77 236.56  L 298.8 235.62  L 280.83 236.56  L 264.02 239.33  L 249.44 243.75  L 238.08 249.56  L 230.72 256.39  L 227.92 263.81  L 229.95 271.3  L 236.74 278.36  L 247.9 284.49
" clip-path="url(#pf00ca0ee67)" style="fill: none; stroke: #3498db; stroke-opacity: 0.09; stroke-width: 0.5"/>
<path d="M 236.74 302.08  L 254.73 307.93  L 275.93 311.64  L 298.8 312.91  L 321.67 311.64  L 342.87 307.93  L 360.86 302.08  L 374.38 294.52  L 382.56 285.83  L 384.92 276.62  L 381.42 267.54  L 372.41 259.18  L 358.58 252.1  L 340.9 246.71  L 320.53 243.34  L 298.8 242.2  L 277.07 243.34  L 256.7 246.71  L 239.02 252.1  L 225.19 259.18  L 216.18 267.54  L 212.68 276.62  L 215.04 285.83  L 223.22 294.52  L 236.74 302.08
" clip-path="url(#pf00ca0ee67)" style="fill: none; stroke: #3498db; stroke-opacity: 0.09; stroke-width: 0.5"/>
<path d="M 226.67 321.68  L 247.54 328.59  L 272.18 332.97  L 298.8 334.47  L 325.42 332.97  L 350.06 328.59  L 370.93 321.68  L 386.57 312.78  L 395.97 302.56  L 398.6 291.76  L 394.44 281.13  L 383.92 271.37  L 367.87 263.1  L 347.41 256.83  L 323.89 252.92  L 298.8 251.59  L 273.71 252.92  L 250.19 256.83  L 229.73 263.1  L 213.68 271.37  L 203.16 281.13  L 199 291.76  L 201.63 302.56  L 211.03 312.78  L 226.67 321.68
" clip-path="url(#pf00ca0ee67)" style="fill: none; stroke: #3498db; stroke-opacity: 0.09; stroke-width: 0.5"/>
<path d="M 217.88 342.93  L 241.26 350.81  L 268.91 355.8  L 298.8 357.51  L 328.69 355.8  L 356.34 350.81  L 379.72 342.93  L 397.19 332.8  L 407.63 321.18  L 410.46 308.93  L 405.71 296.9  L 393.87 285.87  L 375.89 276.54  L 353.02 269.47  L 326.77 265.07  L 298.8 263.57  L 270.83 265.07  L 244.58 269.47  L 221.71 276.54  L 203.73 285.87  L 191.89 296.9  L 187.14 308.93  L 189.97 321.18  L 200.41 332.8  L 217.88 342.93
" clip-path="url(#pf00ca0ee67)" style="fill: none; stroke: #3498db; stroke-opacity: 0.09; stroke-width: 0.5"/>
<path d="M 210.54 365.41  L 236.01 374.15  L 266.17 379.69  L 298.8 381.59  L 331.43 379.69  L 361.59 374.15  L 387.06 365.41  L 406.05 354.19  L 417.33 341.35  L 420.33 327.82  L 415.07 314.55  L 402.12 302.41  L 382.53 292.16  L 357.66 284.39  L 329.16 279.56  L 298.8 277.92  L 268.44 279.56  L 239.94 284.39  L 215.07 292.16  L 195.48 302.41  L 182.53 314.55  L 177.27 327.82  L 180.27 341.35  L 191.55 354.19  L 210.54 365.41
" clip-path="url(#pf00ca0ee67)" style="fill: none; stroke: #3498db; stroke-opacity: 0.09; stroke-width: 0.5"/>
<path d="M 204.78 388.7  L 231.88 398.15  L 264.02 404.16  L 298.8 406.22  L 333.58 404.16  L 365.72 398.15  L 392.82 388.7  L 412.98 376.56  L 424.93 362.67  L 428.03 348.07  L 422.36 333.76  L 408.54 320.68  L 387.69 309.65  L 361.27 301.31  L 331.01 296.11  L 298.8 294.35  L 266.59 296.11  L 236.33 301.31  L 209.91 309.65  L 189.06 320.68  L 175.24 333.76  L 169.57 348.07  L 172.67 362.67  L 184.62 376.56  L 204.78 388.7
" clip-path="url(#pf00ca0ee67)" style="fill: none; stroke: #3498db; stroke-opacity: 0.09; stroke-width: 0.5"/>
<path d="M 200.71 412.33  L 228.97 422.36  L 262.5 428.74  L 298.8 430.92  L 335.1 428.74  L 368.63 422.36  L 396.89 412.33  L 417.88 399.46  L 430.28 384.76  L 433.46 369.3  L 427.49 354.17  L 413.06 340.36  L 391.31 328.72  L 363.8 319.91  L 332.31 314.43  L 298.8 312.57  L 265.29 314.43  L 233.8 319.91  L 206.29 328.72  L 184.54 340.36  L 170.11 354.17  L 164.14 369.3  L 167.32 384.76  L 179.72 399.46  L 200.71 412.33
" clip-path="url(#pf00ca0ee67)" style="fill: none; stroke: #3498db; stroke-opacity: 0.09; stroke-width: 0.5"/>
<path d="M 198.4 435.86  L 227.31 446.29  L 261.63 452.93  L 298.8 455.2  L 335.97 452.93  L 370.29 446.29  L 399.2 435.86  L 420.66 422.48  L 433.32 407.2  L 436.54 391.15  L 430.4 375.44  L 415.61 361.11  L 393.37 349.03  L 365.24 339.9  L 333.05 334.22  L 298.8 332.29  L 264.55 334.22  L 232.36 339.9  L 204.23 349.03  L 181.99 361.11  L 167.2 375.44  L 161.06 391.15  L 164.28 407.2  L 176.94 422.48  L 198.4 435.86
" clip-path="url(#pf00ca0ee67)" style="fill: none; stroke: #3498db; stroke-opacity: 0.09; stroke-width: 0.5"/>
<path d="M 197.88 458.85  L 226.94 469.5  L 261.44 476.27  L 298.8 478.59  L 336.16 476.27  L 370.66 469.5  L 399.72 458.85  L 421.29 445.19  L 434 429.6  L 437.23 413.22  L 431.06 397.19  L 416.19 382.57  L 393.83 370.25  L 365.56 360.93  L 333.22 355.14  L 298.8 353.17  L 264.38 355.14  L 232.04 360.93  L 203.77 370.25  L 181.41 382.57  L 166.54 397.19  L 160.37 413.22  L 163.6 429.6  L 176.31 445.19  L 197.88 458.85
" clip-path="url(#pf00ca0ee67)" style="fill: none; stroke: #3498db; stroke-opacity: 0.09; stroke-width: 0.5"/>
</g>
<g id="Poly3DCollection_1">
<path d="M 316.13 343.09  L 316.14 353.67  L 298.8 353.17  L 298.8 342.61  z
" clip-path="url(#pf00ca0ee67)" style="fill: #3395d7; fill-opacity: 0.08"/>
<path d="M 298.8 342.61  L 298.8 353.17  L 281.46 353.67  L 281.47 343.09  z
" clip-path="url(#pf00ca0ee67)" style="fill: #3395d7; fill-opacity: 0.08"/>
<path d="M 333.2 344.56  L 333.22 355.14  L 316.14 353.67  L 316.13 343.09  z
" clip-path="url(#pf00ca0ee67)" style="fill: #3395d6; fill-opacity: 0.08"/>
<path d="M 281.47 343.09  L 281.46 353.67  L 264.38 355.14  L 264.4 344.56  z
" clip-path="url(#pf00ca0ee67)" style="fill: #3395d6; fill-opacity: 0.08"/>
<path d="M 298.8 332.29  L 298.8 342.61  L 281.47 343.09  L 281.55 332.77  z
" clip-path="url(#pf00ca0ee67)" style="fill: #3396d9; fill-opacity: 0.08"/>
<path d="M 316.05 332.77  L 316.13 343.09  L 298.8 342.61  L 298.8 332.29  z
" clip-path="url(#pf00ca0ee67)" style="fill: #3396d9; fill-opacity: 0.08"/>
<path d="M 349.76 346.97  L 349.77 357.57  L 333.22 355.14  L 333.2 344.56  z
" clip-path="url(#pf00ca0ee67)" style="fill: #3293d4; fill-opacity: 0.08"/>
<path d="M 264.4 344.56  L 264.38 355.14  L 247.83 357.57  L 247.84 346.97  z
" clip-path="url(#pf00ca0ee67)" style="fill: #3293d4; fill-opacity: 0.08"/>
<path d="M 333.05 334.22  L 333.2 344.56  L 316.13 343.09  L 316.05 332.77  z
" clip-path="url(#pf00ca0ee67)" style="fill: #3395d7; fill-opacity: 0.08"/>
<path d="M 281.55 332.77  L 281.47 343.09  L 264.4 344.56  L 264.55 334.22  z
" clip-path="url(#pf00ca0ee67)" style="fill: #3395d7; fill-opacity: 0.08"/>
<path d="M 298.8 322.27  L 298.8 332.29  L 281.55 332.77  L 281.69 322.74  z
" clip-path="url(#pf00ca0ee67)" style="fill: #3497da; fill-opacity: 0.08"/>
<path d="M 315.91 322.74  L 316.05 332.77  L 298.8 332.29  L 298.8 322.27  z
" clip-path="url(#pf00ca0ee67)" style="fill: #3497da; fill-opacity: 0.08"/>
<path d="M 349.53 336.6  L 349.76 346.97  L 333.2 344.56  L 333.05 334.22  z
" clip-path="url(#pf00ca0ee67)" style="fill: #3394d5; fill-opacity: 0.08"/>
<path d="M 264.55 334.22  L 264.4 344.56  L 247.84 346.97  L 248.07 336.6  z
" clip-path="url(#pf00ca0ee67)" style="fill: #3394d5; fill-opacity: 0.08"/>
<path d="M 247.84 346.97  L 247.83 357.57  L 232.04 360.93  L 232.06 350.3  z
" clip-path="url(#pf00ca0ee67)" style="fill: #3190d0; fill-opacity: 0.08"/>
<path d="M 365.54 350.3  L 365.56 360.93  L 349.77 357.57  L 349.76 346.97  z
" clip-path="url(#pf00ca0ee67)" style="fill: #3190d0; fill-opacity: 0.08"/>
<path d="M 332.75 324.16  L 333.05 334.22  L 316.05 332.77  L 315.91 322.74  z
" clip-path="url(#pf00ca0ee67)" style="fill: #3396d8; fill-opacity: 0.08"/>
<path d="M 281.69 322.74  L 281.55 332.77  L 264.55 334.22  L 264.85 324.16  z
" clip-path="url(#pf00ca0ee67)" style="fill: #3396d8; fill-opacity: 0.08"/>
<path d="M 349.09 326.51  L 349.53 336.6  L 333.05 334.22  L 332.75 324.16  z
" clip-path="url(#pf00ca0ee67)" style="fill: #3395d6; fill-opacity: 0.08"/>
<path d="M 264.85 324.16  L 264.55 334.22  L 248.07 336.6  L 248.51 326.51  z
" clip-path="url(#pf00ca0ee67)" style="fill: #3395d6; fill-opacity: 0.08"/>
<path d="M 248.07 336.6  L 247.84 346.97  L 232.06 350.3  L 232.36 339.9  z
" clip-path="url(#pf00ca0ee67)" style="fill: #3291d1; fill-opacity: 0.08"/>
<path d="M 365.24 339.9  L 365.54 350.3  L 349.76 346.97  L 349.53 336.6  z
" clip-path="url(#pf00ca0ee67)" style="fill: #3291d1; fill-opacity: 0.08"/>
<path d="M 315.68 313.04  L 315.91 322.74  L 298.8 322.27  L 298.8 312.57  z
" clip-path="url(#pf00ca0ee67)" style="fill: #3498da; fill-opacity: 0.08"/>
<path d="M 298.8 312.57  L 298.8 322.27  L 281.69 322.74  L 281.92 313.04  z
" clip-path="url(#pf00ca0ee67)" style="fill: #3498da; fill-opacity: 0.08"/>
<path d="M 332.31 314.43  L 332.75 324.16  L 315.91 322.74  L 315.68 313.04  z
" clip-path="url(#pf00ca0ee67)" style="fill: #3497d9; fill-opacity: 0.08"/>
<path d="M 281.92 313.04  L 281.69 322.74  L 264.85 324.16  L 265.29 314.43  z
" clip-path="url(#pf00ca0ee67)" style="fill: #3497d9; fill-opacity: 0.08"/>
<path d="M 380.3 354.51  L 380.32 365.18  L 365.56 360.93  L 365.54 350.3  z
" clip-path="url(#pf00ca0ee67)" style="fill: #308dcb; fill-opacity: 0.08"/>
<path d="M 232.06 350.3  L 232.04 360.93  L 217.28 365.18  L 217.3 354.51  z
" clip-path="url(#pf00ca0ee67)" style="fill: #308dcb; fill-opacity: 0.08"/>
<path d="M 364.66 329.75  L 365.24 339.9  L 349.53 336.6  L 349.09 326.51  z
" clip-path="url(#pf00ca0ee67)" style="fill: #3292d2; fill-opacity: 0.08"/>
<path d="M 248.51 326.51  L 248.07 336.6  L 232.36 339.9  L 232.94 329.75  z
" clip-path="url(#pf00ca0ee67)" style="fill: #3292d2; fill-opacity: 0.08"/>
<path d="M 348.44 316.73  L 349.09 326.51  L 332.75 324.16  L 332.31 314.43  z
" clip-path="url(#pf00ca0ee67)" style="fill: #3395d7; fill-opacity: 0.08"/>
<path d="M 265.29 314.43  L 264.85 324.16  L 248.51 326.51  L 249.16 316.73  z
" clip-path="url(#pf00ca0ee67)" style="fill: #3395d7; fill-opacity: 0.08"/>
<path d="M 315.39 303.71  L 315.68 313.04  L 298.8 312.57  L 298.8 303.26  z
" clip-path="url(#pf00ca0ee67)" style="fill: #3498db; fill-opacity: 0.08"/>
<path d="M 298.8 303.26  L 298.8 312.57  L 281.92 313.04  L 282.21 303.71  z
" clip-path="url(#pf00ca0ee67)" style="fill: #3498db; fill-opacity: 0.08"/>
<path d="M 379.93 344.06  L 380.3 354.51  L 365.54 350.3  L 365.24 339.9  z
" clip-path="url(#pf00ca0ee67)" style="fill: #318ecd; fill-opacity: 0.08"/>
<path d="M 232.36 339.9  L 232.06 350.3  L 217.3 354.51  L 217.67 344.06  z
" clip-path="url(#pf00ca0ee67)" style="fill: #318ecd; fill-opacity: 0.08"/>
<path d="M 331.73 305.07  L 332.31 314.43  L 315.68 313.04  L 315.39 303.71  z
" clip-path="url(#pf00ca0ee67)" style="fill: #3497da; fill-opacity: 0.08"/>
<path d="M 282.21 303.71  L 281.92 313.04  L 265.29 314.43  L 265.87 305.07  z
" clip-path="url(#pf00ca0ee67)" style="fill: #3497da; fill-opacity: 0.08"/>
<path d="M 393.8 359.55  L 393.83 370.25  L 380.32 365.18  L 380.3 354.51  z
" clip-path="url(#pf00ca0ee67)" style="fill: #2f89c5; fill-opacity: 0.08"/>
<path d="M 217.3 354.51  L 217.28 365.18  L 203.77 370.25  L 203.8 359.55  z
" clip-path="url(#pf00ca0ee67)" style="fill: #2f89c5; fill-opacity: 0.08"/>
<path d="M 363.8 319.91  L 364.66 329.75  L 349.09 326.51  L 348.44 316.73  z
" clip-path="url(#pf00ca0ee67)" style="fill: #3293d3; fill-opacity: 0.08"/>
<path d="M 249.16 316.73  L 248.51 326.51  L 232.94 329.75  L 233.8 319.91  z
" clip-path="url(#pf00ca0ee67)" style="fill: #3293d3; fill-opacity: 0.08"/>
<path d="M 347.58 307.31  L 348.44 316.73  L 332.31 314.43  L 331.73 305.07  z
" clip-path="url(#pf00ca0ee67)" style="fill: #3395d7; fill-opacity: 0.08"/>
<path d="M 265.87 305.07  L 265.29 314.43  L 249.16 316.73  L 250.02 307.31  z
" clip-path="url(#pf00ca0ee67)" style="fill: #3395d7; fill-opacity: 0.08"/>
<path d="M 379.22 333.85  L 379.93 344.06  L 365.24 339.9  L 364.66 329.75  z
" clip-path="url(#pf00ca0ee67)" style="fill: #318fce; fill-opacity: 0.08"/>
<path d="M 232.94 329.75  L 232.36 339.9  L 217.67 344.06  L 218.38 333.85  z
" clip-path="url(#pf00ca0ee67)" style="fill: #318fce; fill-opacity: 0.08"/>
<path d="M 315.03 294.79  L 315.39 303.71  L 298.8 303.26  L 298.8 294.35  z
" clip-path="url(#pf00ca0ee67)" style="fill: #3498db; fill-opacity: 0.08"/>
<path d="M 298.8 294.35  L 298.8 303.26  L 282.21 303.71  L 282.57 294.79  z
" clip-path="url(#pf00ca0ee67)" style="fill: #3498db; fill-opacity: 0.08"/>
<path d="M 331.01 296.11  L 331.73 305.07  L 315.39 303.71  L 315.03 294.79  z
" clip-path="url(#pf00ca0ee67)" style="fill: #3497da; fill-opacity: 0.08"/>
<path d="M 282.57 294.79  L 282.21 303.71  L 265.87 305.07  L 266.59 296.11  z
" clip-path="url(#pf00ca0ee67)" style="fill: #3497da; fill-opacity: 0.08"/>
<path d="M 217.67 344.06  L 217.3 354.51  L 203.8 359.55  L 204.23 349.03  z
" clip-path="url(#pf00ca0ee67)" style="fill: #2f8ac7; fill-opacity: 0.08"/>
<path d="M 393.37 349.03  L 393.8 359.55  L 380.3 354.51  L 379.93 344.06  z
" clip-path="url(#pf00ca0ee67)" style="fill: #2f8ac7; fill-opacity: 0.08"/>
<path d="M 362.67 310.42  L 363.8 319.91  L 348.44 316.73  L 347.58 307.31  z
" clip-path="url(#pf00ca0ee67)" style="fill: #3293d4; fill-opacity: 0.08"/>
<path d="M 250.02 307.31  L 249.16 316.73  L 233.8 319.91  L 234.93 310.42  z
" clip-path="url(#pf00ca0ee67)" style="fill: #3293d4; fill-opacity: 0.08"/>
<path d="M 378.17 323.92  L 379.22 333.85  L 364.66 329.75  L 363.8 319.91  z
" clip-path="url(#pf00ca0ee67)" style="fill: #318fcf; fill-opacity: 0.08"/>
<path d="M 233.8 319.91  L 232.94 329.75  L 218.38 333.85  L 219.43 323.92  z
" clip-path="url(#pf00ca0ee67)" style="fill: #318fcf; fill-opacity: 0.08"/>
<path d="M 346.51 298.29  L 347.58 307.31  L 331.73 305.07  L 331.01 296.11  z
" clip-path="url(#pf00ca0ee67)" style="fill: #3395d7; fill-opacity: 0.08"/>
<path d="M 266.59 296.11  L 265.87 305.07  L 250.02 307.31  L 251.09 298.29  z
" clip-path="url(#pf00ca0ee67)" style="fill: #3395d7; fill-opacity: 0.08"/>
<path d="M 314.6 286.32  L 315.03 294.79  L 298.8 294.35  L 298.8 285.89  z
" clip-path="url(#pf00ca0ee67)" style="fill: #3498db; fill-opacity: 0.08"/>
<path d="M 298.8 285.89  L 298.8 294.35  L 282.57 294.79  L 283 286.32  z
" clip-path="url(#pf00ca0ee67)" style="fill: #3498db; fill-opacity: 0.08"/>
<path d="M 405.82 365.33  L 405.86 376.07  L 393.83 370.25  L 393.8 359.55  z
" clip-path="url(#pf00ca0ee67)" style="fill: #2d84bf; fill-opacity: 0.08"/>
<path d="M 203.8 359.55  L 203.77 370.25  L 191.74 376.07  L 191.78 365.33  z
" clip-path="url(#pf00ca0ee67)" style="fill: #2d84bf; fill-opacity: 0.08"/>
<path d="M 392.54 338.74  L 393.37 349.03  L 379.93 344.06  L 379.22 333.85  z
" clip-path="url(#pf00ca0ee67)" style="fill: #308bc8; fill-opacity: 0.08"/>
<path d="M 218.38 333.85  L 217.67 344.06  L 204.23 349.03  L 205.06 338.74  z
" clip-path="url(#pf00ca0ee67)" style="fill: #308bc8; fill-opacity: 0.08"/>
<path d="M 330.15 287.59  L 331.01 296.11  L 315.03 294.79  L 314.6 286.32  z
" clip-path="url(#pf00ca0ee67)" style="fill: #3497d9; fill-opacity: 0.08"/>
<path d="M 283 286.32  L 282.57 294.79  L 266.59 296.11  L 267.45 287.59  z
" clip-path="url(#pf00ca0ee67)" style="fill: #3497d9; fill-opacity: 0.08"/>
<path d="M 361.27 301.31  L 362.67 310.42  L 347.58 307.31  L 346.51 298.29  z
" clip-path="url(#pf00ca0ee67)" style="fill: #3293d4; fill-opacity: 0.08"/>
<path d="M 251.09 298.29  L 250.02 307.31  L 234.93 310.42  L 236.33 301.31  z
" clip-path="url(#pf00ca0ee67)" style="fill: #3293d4; fill-opacity: 0.08"/>
<path d="M 376.79 314.33  L 378.17 323.92  L 363.8 319.91  L 362.67 310.42  z
" clip-path="url(#pf00ca0ee67)" style="fill: #3190cf; fill-opacity: 0.08"/>
<path d="M 234.93 310.42  L 233.8 319.91  L 219.43 323.92  L 220.81 314.33  z
" clip-path="url(#pf00ca0ee67)" style="fill: #3190cf; fill-opacity: 0.08"/>
<path d="M 345.23 289.7  L 346.51 298.29  L 331.01 296.11  L 330.15 287.59  z
" clip-path="url(#pf00ca0ee67)" style="fill: #3395d7; fill-opacity: 0.08"/>
<path d="M 267.45 287.59  L 266.59 296.11  L 251.09 298.29  L 252.37 289.7  z
" clip-path="url(#pf00ca0ee67)" style="fill: #3395d7; fill-opacity: 0.08"/>
<path d="M 405.33 354.74  L 405.82 365.33  L 393.8 359.55  L 393.37 349.03  z
" clip-path="url(#pf00ca0ee67)" style="fill: #2e85c0; fill-opacity: 0.08"/>
<path d="M 204.23 349.03  L 203.8 359.55  L 191.78 365.33  L 192.27 354.74  z
" clip-path="url(#pf00ca0ee67)" style="fill: #2e85c0; fill-opacity: 0.08"/>
<path d="M 219.43 323.92  L 218.38 333.85  L 205.06 338.74  L 206.29 328.72  z
" clip-path="url(#pf00ca0ee67)" style="fill: #308cc9; fill-opacity: 0.08"/>
<path d="M 391.31 328.72  L 392.54 338.74  L 379.22 333.85  L 378.17 323.92  z
" clip-path="url(#pf00ca0ee67)" style="fill: #308cc9; fill-opacity: 0.08"/>
<path d="M 298.8 277.92  L 298.8 285.89  L 283 286.32  L 283.5 278.33  z
" clip-path="url(#pf00ca0ee67)" style="fill: #3497da; fill-opacity: 0.08"/>
<path d="M 314.1 278.33  L 314.6 286.32  L 298.8 285.89  L 298.8 277.92  z
" clip-path="url(#pf00ca0ee67)" style="fill: #3497da; fill-opacity: 0.08"/>
<path d="M 329.16 279.56  L 330.15 287.59  L 314.6 286.32  L 314.1 278.33  z
" clip-path="url(#pf00ca0ee67)" style="fill: #3497d9; fill-opacity: 0.08"/>
<path d="M 283.5 278.33  L 283 286.32  L 267.45 287.59  L 268.44 279.56  z
" clip-path="url(#pf00ca0ee67)" style="fill: #3497d9; fill-opacity: 0.08"/>
<path d="M 359.6 292.62  L 361.27 301.31  L 346.51 298.29  L 345.23 289.7  z
" clip-path="url(#pf00ca0ee67)" style="fill: #3293d4; fill-opacity: 0.08"/>
<path d="M 252.37 289.7  L 251.09 298.29  L 236.33 301.31  L 238 292.62  z
" clip-path="url(#pf00ca0ee67)" style="fill: #3293d4; fill-opacity: 0.08"/>
<path d="M 375.07 305.11  L 376.79 314.33  L 362.67 310.42  L 361.27 301.31  z
" clip-path="url(#pf00ca0ee67)" style="fill: #3190d0; fill-opacity: 0.08"/>
<path d="M 236.33 301.31  L 234.93 310.42  L 220.81 314.33  L 222.53 305.11  z
" clip-path="url(#pf00ca0ee67)" style="fill: #3190d0; fill-opacity: 0.08"/>
<path d="M 404.39 344.36  L 405.33 354.74  L 393.37 349.03  L 392.54 338.74  z
" clip-path="url(#pf00ca0ee67)" style="fill: #2e86c2; fill-opacity: 0.08"/>
<path d="M 205.06 338.74  L 204.23 349.03  L 192.27 354.74  L 193.21 344.36  z
" clip-path="url(#pf00ca0ee67)" style="fill: #2e86c2; fill-opacity: 0.08"/>
<path d="M 343.76 281.59  L 345.23 289.7  L 330.15 287.59  L 329.16 279.56  z
" clip-path="url(#pf00ca0ee67)" style="fill: #3395d7; fill-opacity: 0.08"/>
<path d="M 268.44 279.56  L 267.45 287.59  L 252.37 289.7  L 253.84 281.59  z
" clip-path="url(#pf00ca0ee67)" style="fill: #3395d7; fill-opacity: 0.08"/>
<path d="M 389.7 319.01  L 391.31 328.72  L 378.17 323.92  L 376.79 314.33  z
" clip-path="url(#pf00ca0ee67)" style="fill: #308cca; fill-opacity: 0.08"/>
<path d="M 220.81 314.33  L 219.43 323.92  L 206.29 328.72  L 207.9 319.01  z
" clip-path="url(#pf00ca0ee67)" style="fill: #308cca; fill-opacity: 0.08"/>
<path d="M 416.15 371.77  L 416.19 382.57  L 405.86 376.07  L 405.82 365.33  z
" clip-path="url(#pf00ca0ee67)" style="fill: #2c7fb7; fill-opacity: 0.08"/>
<path d="M 191.78 365.33  L 191.74 376.07  L 181.41 382.57  L 181.45 371.77  z
" clip-path="url(#pf00ca0ee67)" style="fill: #2c7fb7; fill-opacity: 0.08"/>
<path d="M 313.53 270.86  L 314.1 278.33  L 298.8 277.92  L 298.8 270.47  z
" clip-path="url(#pf00ca0ee67)" style="fill: #3497d9; fill-opacity: 0.08"/>
<path d="M 298.8 270.47  L 298.8 277.92  L 283.5 278.33  L 284.07 270.86  z
" clip-path="url(#pf00ca0ee67)" style="fill: #3497d9; fill-opacity: 0.08"/>
<path d="M 403.01 334.22  L 404.39 344.36  L 392.54 338.74  L 391.31 328.72  z
" clip-path="url(#pf00ca0ee67)" style="fill: #2e87c3; fill-opacity: 0.08"/>
<path d="M 206.29 328.72  L 205.06 338.74  L 193.21 344.36  L 194.59 334.22  z
" clip-path="url(#pf00ca0ee67)" style="fill: #2e87c3; fill-opacity: 0.08"/>
<path d="M 328.03 272.04  L 329.16 279.56  L 314.1 278.33  L 313.53 270.86  z
" clip-path="url(#pf00ca0ee67)" style="fill: #3396d8; fill-opacity: 0.08"/>
<path d="M 284.07 270.86  L 283.5 278.33  L 268.44 279.56  L 269.57 272.04  z
" clip-path="url(#pf00ca0ee67)" style="fill: #3396d8; fill-opacity: 0.08"/>
<path d="M 373.03 296.3  L 375.07 305.11  L 361.27 301.31  L 359.6 292.62  z
" clip-path="url(#pf00ca0ee67)" style="fill: #3190d0; fill-opacity: 0.08"/>
<path d="M 238 292.62  L 236.33 301.31  L 222.53 305.11  L 224.57 296.3  z
" clip-path="url(#pf00ca0ee67)" style="fill: #3190d0; fill-opacity: 0.08"/>
<path d="M 357.66 284.39  L 359.6 292.62  L 345.23 289.7  L 343.76 281.59  z
" clip-path="url(#pf00ca0ee67)" style="fill: #3293d4; fill-opacity: 0.08"/>
<path d="M 253.84 281.59  L 252.37 289.7  L 238 292.62  L 239.94 284.39  z
" clip-path="url(#pf00ca0ee67)" style="fill: #3293d4; fill-opacity: 0.08"/>
<path d="M 415.61 361.11  L 416.15 371.77  L 405.82 365.33  L 405.33 354.74  z
" clip-path="url(#pf00ca0ee67)" style="fill: #2c80b9; fill-opacity: 0.08"/>
<path d="M 192.27 354.74  L 191.78 365.33  L 181.45 371.77  L 181.99 361.11  z
" clip-path="url(#pf00ca0ee67)" style="fill: #2c80b9; fill-opacity: 0.08"/>
<path d="M 387.69 309.65  L 389.7 319.01  L 376.79 314.33  L 375.07 305.11  z
" clip-path="url(#pf00ca0ee67)" style="fill: #308cca; fill-opacity: 0.08"/>
<path d="M 222.53 305.11  L 220.81 314.33  L 207.9 319.01  L 209.91 309.65  z
" clip-path="url(#pf00ca0ee67)" style="fill: #308cca; fill-opacity: 0.08"/>
<path d="M 269.57 272.04  L 268.44 279.56  L 253.84 281.59  L 255.51 273.98  z
" clip-path="url(#pf00ca0ee67)" style="fill: #3395d6; fill-opacity: 0.08"/>
<path d="M 342.09 273.98  L 343.76 281.59  L 329.16 279.56  L 328.03 272.04  z
" clip-path="url(#pf00ca0ee67)" style="fill: #3395d6; fill-opacity: 0.08"/>
<path d="M 401.18 324.38  L 403.01 334.22  L 391.31 328.72  L 389.7 319.01  z
" clip-path="url(#pf00ca0ee67)" style="fill: #2e88c3; fill-opacity: 0.08"/>
<path d="M 207.9 319.01  L 206.29 328.72  L 194.59 334.22  L 196.42 324.38  z
" clip-path="url(#pf00ca0ee67)" style="fill: #2e88c3; fill-opacity: 0.08"/>
<path d="M 414.58 350.62  L 415.61 361.11  L 405.33 354.74  L 404.39 344.36  z
" clip-path="url(#pf00ca0ee67)" style="fill: #2c81ba; fill-opacity: 0.08"/>
<path d="M 193.21 344.36  L 192.27 354.74  L 181.99 361.11  L 183.02 350.62  z
" clip-path="url(#pf00ca0ee67)" style="fill: #2c81ba; fill-opacity: 0.08"/>
<path d="M 312.9 263.95  L 313.53 270.86  L 298.8 270.47  L 298.8 263.57  z
" clip-path="url(#pf00ca0ee67)" style="fill: #3396d8; fill-opacity: 0.08"/>
<path d="M 298.8 263.57  L 298.8 270.47  L 284.07 270.86  L 284.7 263.95  z
" clip-path="url(#pf00ca0ee67)" style="fill: #3396d8; fill-opacity: 0.08"/>
<path d="M 239.94 284.39  L 238 292.62  L 224.57 296.3  L 226.94 287.93  z
" clip-path="url(#pf00ca0ee67)" style="fill: #3190cf; fill-opacity: 0.08"/>
<path d="M 370.66 287.93  L 373.03 296.3  L 359.6 292.62  L 357.66 284.39  z
" clip-path="url(#pf00ca0ee67)" style="fill: #3190cf; fill-opacity: 0.08"/>
<path d="M 326.77 265.07  L 328.03 272.04  L 313.53 270.86  L 312.9 263.95  z
" clip-path="url(#pf00ca0ee67)" style="fill: #3395d7; fill-opacity: 0.08"/>
<path d="M 284.7 263.95  L 284.07 270.86  L 269.57 272.04  L 270.83 265.07  z
" clip-path="url(#pf00ca0ee67)" style="fill: #3395d7; fill-opacity: 0.08"/>
<path d="M 355.47 276.67  L 357.66 284.39  L 343.76 281.59  L 342.09 273.98  z
" clip-path="url(#pf00ca0ee67)" style="fill: #3292d3; fill-opacity: 0.08"/>
<path d="M 255.51 273.98  L 253.84 281.59  L 239.94 284.39  L 242.13 276.67  z
" clip-path="url(#pf00ca0ee67)" style="fill: #3292d3; fill-opacity: 0.08"/>
<path d="M 385.3 300.69  L 387.69 309.65  L 375.07 305.11  L 373.03 296.3  z
" clip-path="url(#pf00ca0ee67)" style="fill: #308cca; fill-opacity: 0.08"/>
<path d="M 224.57 296.3  L 222.53 305.11  L 209.91 309.65  L 212.3 300.69  z
" clip-path="url(#pf00ca0ee67)" style="fill: #308cca; fill-opacity: 0.08"/>
<path d="M 181.45 371.77  L 181.41 382.57  L 172.95 389.65  L 173 378.79  z
" clip-path="url(#pf00ca0ee67)" style="fill: #2a7aaf; fill-opacity: 0.08"/>
<path d="M 424.6 378.79  L 424.65 389.65  L 416.19 382.57  L 416.15 371.77  z
" clip-path="url(#pf00ca0ee67)" style="fill: #2a7aaf; fill-opacity: 0.08"/>
<path d="M 340.22 266.92  L 342.09 273.98  L 328.03 272.04  L 326.77 265.07  z
" clip-path="url(#pf00ca0ee67)" style="fill: #3394d5; fill-opacity: 0.08"/>
<path d="M 270.83 265.07  L 269.57 272.04  L 255.51 273.98  L 257.38 266.92  z
" clip-path="url(#pf00ca0ee67)" style="fill: #3394d5; fill-opacity: 0.08"/>
<path d="M 413.06 340.36  L 414.58 350.62  L 404.39 344.36  L 403.01 334.22  z
" clip-path="url(#pf00ca0ee67)" style="fill: #2c82bb; fill-opacity: 0.08"/>
<path d="M 194.59 334.22  L 193.21 344.36  L 183.02 350.62  L 184.54 340.36  z
" clip-path="url(#pf00ca0ee67)" style="fill: #2c82bb; fill-opacity: 0.08"/>
<path d="M 209.91 309.65  L 207.9 319.01  L 196.42 324.38  L 198.69 314.87  z
" clip-path="url(#pf00ca0ee67)" style="fill: #2f88c4; fill-opacity: 0.08"/>
<path d="M 398.91 314.87  L 401.18 324.38  L 389.7 319.01  L 387.69 309.65  z
" clip-path="url(#pf00ca0ee67)" style="fill: #2f88c4; fill-opacity: 0.08"/>
<path d="M 424.03 368.04  L 424.6 378.79  L 416.15 371.77  L 415.61 361.11  z
" clip-path="url(#pf00ca0ee67)" style="fill: #2a7bb1; fill-opacity: 0.08"/>
<path d="M 181.99 361.11  L 181.45 371.77  L 173 378.79  L 173.57 368.04  z
" clip-path="url(#pf00ca0ee67)" style="fill: #2a7bb1; fill-opacity: 0.08"/>
<path d="M 367.97 280.05  L 370.66 287.93  L 357.66 284.39  L 355.47 276.67  z
" clip-path="url(#pf00ca0ee67)" style="fill: #3190cf; fill-opacity: 0.08"/>
<path d="M 242.13 276.67  L 239.94 284.39  L 226.94 287.93  L 229.63 280.05  z
" clip-path="url(#pf00ca0ee67)" style="fill: #3190cf; fill-opacity: 0.08"/>
<path d="M 298.8 257.27  L 298.8 263.57  L 284.7 263.95  L 285.4 257.62  z
" clip-path="url(#pf00ca0ee67)" style="fill: #3395d6; fill-opacity: 0.08"/>
<path d="M 312.2 257.62  L 312.9 263.95  L 298.8 263.57  L 298.8 257.27  z
" clip-path="url(#pf00ca0ee67)" style="fill: #3395d6; fill-opacity: 0.08"/>
<path d="M 226.94 287.93  L 224.57 296.3  L 212.3 300.69  L 215.07 292.16  z
" clip-path="url(#pf00ca0ee67)" style="fill: #308cca; fill-opacity: 0.08"/>
<path d="M 382.53 292.16  L 385.3 300.69  L 373.03 296.3  L 370.66 287.93  z
" clip-path="url(#pf00ca0ee67)" style="fill: #308cca; fill-opacity: 0.08"/>
<path d="M 353.02 269.47  L 355.47 276.67  L 342.09 273.98  L 340.22 266.92  z
" clip-path="url(#pf00ca0ee67)" style="fill: #3292d2; fill-opacity: 0.08"/>
<path d="M 257.38 266.92  L 255.51 273.98  L 242.13 276.67  L 244.58 269.47  z
" clip-path="url(#pf00ca0ee67)" style="fill: #3292d2; fill-opacity: 0.08"/>
<path d="M 285.4 257.62  L 284.7 263.95  L 270.83 265.07  L 272.21 258.68  z
" clip-path="url(#pf00ca0ee67)" style="fill: #3394d5; fill-opacity: 0.08"/>
<path d="M 325.39 258.68  L 326.77 265.07  L 312.9 263.95  L 312.2 257.62  z
" clip-path="url(#pf00ca0ee67)" style="fill: #3394d5; fill-opacity: 0.08"/>
<path d="M 411.04 330.37  L 413.06 340.36  L 403.01 334.22  L 401.18 324.38  z
" clip-path="url(#pf00ca0ee67)" style="fill: #2d83bc; fill-opacity: 0.08"/>
<path d="M 196.42 324.38  L 194.59 334.22  L 184.54 340.36  L 186.56 330.37  z
" clip-path="url(#pf00ca0ee67)" style="fill: #2d83bc; fill-opacity: 0.08"/>
<path d="M 396.21 305.73  L 398.91 314.87  L 387.69 309.65  L 385.3 300.69  z
" clip-path="url(#pf00ca0ee67)" style="fill: #2f88c4; fill-opacity: 0.08"/>
<path d="M 212.3 300.69  L 209.91 309.65  L 198.69 314.87  L 201.39 305.73  z
" clip-path="url(#pf00ca0ee67)" style="fill: #2f88c4; fill-opacity: 0.08"/>
<path d="M 183.02 350.62  L 181.99 361.11  L 173.57 368.04  L 174.69 357.45  z
" clip-path="url(#pf00ca0ee67)" style="fill: #2a7cb2; fill-opacity: 0.08"/>
<path d="M 422.91 357.45  L 424.03 368.04  L 415.61 361.11  L 414.58 350.62  z
" clip-path="url(#pf00ca0ee67)" style="fill: #2a7cb2; fill-opacity: 0.08"/>
<path d="M 272.21 258.68  L 270.83 265.07  L 257.38 266.92  L 259.43 260.43  z
" clip-path="url(#pf00ca0ee67)" style="fill: #3293d3; fill-opacity: 0.08"/>
<path d="M 338.17 260.43  L 340.22 266.92  L 326.77 265.07  L 325.39 258.68  z
" clip-path="url(#pf00ca0ee67)" style="fill: #3293d3; fill-opacity: 0.08"/>
<path d="M 364.98 272.7  L 367.97 280.05  L 355.47 276.67  L 353.02 269.47  z
" clip-path="url(#pf00ca0ee67)" style="fill: #318fce; fill-opacity: 0.08"/>
<path d="M 244.58 269.47  L 242.13 276.67  L 229.63 280.05  L 232.62 272.7  z
" clip-path="url(#pf00ca0ee67)" style="fill: #318fce; fill-opacity: 0.08"/>
<path d="M 379.39 284.1  L 382.53 292.16  L 370.66 287.93  L 367.97 280.05  z
" clip-path="url(#pf00ca0ee67)" style="fill: #308cca; fill-opacity: 0.08"/>
<path d="M 229.63 280.05  L 226.94 287.93  L 215.07 292.16  L 218.21 284.1  z
" clip-path="url(#pf00ca0ee67)" style="fill: #308cca; fill-opacity: 0.08"/>
<path d="M 431.01 386.28  L 431.06 397.19  L 424.65 389.65  L 424.6 378.79  z
" clip-path="url(#pf00ca0ee67)" style="fill: #2873a6; fill-opacity: 0.08"/>
<path d="M 173 378.79  L 172.95 389.65  L 166.54 397.19  L 166.59 386.28  z
" clip-path="url(#pf00ca0ee67)" style="fill: #2873a6; fill-opacity: 0.08"/>
<path d="M 408.54 320.68  L 411.04 330.37  L 401.18 324.38  L 398.91 314.87  z
" clip-path="url(#pf00ca0ee67)" style="fill: #2d83bd; fill-opacity: 0.08"/>
<path d="M 198.69 314.87  L 196.42 324.38  L 186.56 330.37  L 189.06 320.68  z
" clip-path="url(#pf00ca0ee67)" style="fill: #2d83bd; fill-opacity: 0.08"/>
<path d="M 298.8 251.59  L 298.8 257.27  L 285.4 257.62  L 286.16 251.92  z
" clip-path="url(#pf00ca0ee67)" style="fill: #3293d4; fill-opacity: 0.08"/>
<path d="M 311.44 251.92  L 312.2 257.62  L 298.8 257.27  L 298.8 251.59  z
" clip-path="url(#pf00ca0ee67)" style="fill: #3293d4; fill-opacity: 0.08"/>
<path d="M 350.33 262.85  L 353.02 269.47  L 340.22 266.92  L 338.17 260.43  z
" clip-path="url(#pf00ca0ee67)" style="fill: #3291d1; fill-opacity: 0.08"/>
<path d="M 259.43 260.43  L 257.38 266.92  L 244.58 269.47  L 247.27 262.85  z
" clip-path="url(#pf00ca0ee67)" style="fill: #3291d1; fill-opacity: 0.08"/>
<path d="M 184.54 340.36  L 183.02 350.62  L 174.69 357.45  L 176.33 347.05  z
" clip-path="url(#pf00ca0ee67)" style="fill: #2b7cb3; fill-opacity: 0.08"/>
<path d="M 421.27 347.05  L 422.91 357.45  L 414.58 350.62  L 413.06 340.36  z
" clip-path="url(#pf00ca0ee67)" style="fill: #2b7cb3; fill-opacity: 0.08"/>
<path d="M 393.07 297.01  L 396.21 305.73  L 385.3 300.69  L 382.53 292.16  z
" clip-path="url(#pf00ca0ee67)" style="fill: #2f88c4; fill-opacity: 0.08"/>
<path d="M 215.07 292.16  L 212.3 300.69  L 201.39 305.73  L 204.53 297.01  z
" clip-path="url(#pf00ca0ee67)" style="fill: #2f88c4; fill-opacity: 0.08"/>
<path d="M 323.89 252.92  L 325.39 258.68  L 312.2 257.62  L 311.44 251.92  z
" clip-path="url(#pf00ca0ee67)" style="fill: #3293d4; fill-opacity: 0.08"/>
<path d="M 286.16 251.92  L 285.4 257.62  L 272.21 258.68  L 273.71 252.92  z
" clip-path="url(#pf00ca0ee67)" style="fill: #3293d4; fill-opacity: 0.08"/>
<path d="M 430.4 375.44  L 431.01 386.28  L 424.6 378.79  L 424.03 368.04  z
" clip-path="url(#pf00ca0ee67)" style="fill: #2875a8; fill-opacity: 0.08"/>
<path d="M 173.57 368.04  L 173 378.79  L 166.59 386.28  L 167.2 375.44  z
" clip-path="url(#pf00ca0ee67)" style="fill: #2875a8; fill-opacity: 0.08"/>
<path d="M 273.71 252.92  L 272.21 258.68  L 259.43 260.43  L 261.66 254.56  z
" clip-path="url(#pf00ca0ee67)" style="fill: #3292d2; fill-opacity: 0.08"/>
<path d="M 335.94 254.56  L 338.17 260.43  L 325.39 258.68  L 323.89 252.92  z
" clip-path="url(#pf00ca0ee67)" style="fill: #3292d2; fill-opacity: 0.08"/>
<path d="M 405.57 311.35  L 408.54 320.68  L 398.91 314.87  L 396.21 305.73  z
" clip-path="url(#pf00ca0ee67)" style="fill: #2d83bd; fill-opacity: 0.08"/>
<path d="M 201.39 305.73  L 198.69 314.87  L 189.06 320.68  L 192.03 311.35  z
" clip-path="url(#pf00ca0ee67)" style="fill: #2d83bd; fill-opacity: 0.08"/>
<path d="M 375.89 276.54  L 379.39 284.1  L 367.97 280.05  L 364.98 272.7  z
" clip-path="url(#pf00ca0ee67)" style="fill: #308cc9; fill-opacity: 0.08"/>
<path d="M 232.62 272.7  L 229.63 280.05  L 218.21 284.1  L 221.71 276.54  z
" clip-path="url(#pf00ca0ee67)" style="fill: #308cc9; fill-opacity: 0.08"/>
<path d="M 361.69 265.9  L 364.98 272.7  L 353.02 269.47  L 350.33 262.85  z
" clip-path="url(#pf00ca0ee67)" style="fill: #318ecd; fill-opacity: 0.08"/>
<path d="M 247.27 262.85  L 244.58 269.47  L 232.62 272.7  L 235.91 265.9  z
" clip-path="url(#pf00ca0ee67)" style="fill: #318ecd; fill-opacity: 0.08"/>
<path d="M 186.56 330.37  L 184.54 340.36  L 176.33 347.05  L 178.5 336.89  z
" clip-path="url(#pf00ca0ee67)" style="fill: #2b7db4; fill-opacity: 0.08"/>
<path d="M 419.1 336.89  L 421.27 347.05  L 413.06 340.36  L 411.04 330.37  z
" clip-path="url(#pf00ca0ee67)" style="fill: #2b7db4; fill-opacity: 0.08"/>
<path d="M 389.53 288.74  L 393.07 297.01  L 382.53 292.16  L 379.39 284.1  z
" clip-path="url(#pf00ca0ee67)" style="fill: #2f88c4; fill-opacity: 0.08"/>
<path d="M 218.21 284.1  L 215.07 292.16  L 204.53 297.01  L 208.07 288.74  z
" clip-path="url(#pf00ca0ee67)" style="fill: #2f88c4; fill-opacity: 0.08"/>
<path d="M 261.66 254.56  L 259.43 260.43  L 247.27 262.85  L 250.19 256.83  z
" clip-path="url(#pf00ca0ee67)" style="fill: #3190cf; fill-opacity: 0.08"/>
<path d="M 347.41 256.83  L 350.33 262.85  L 338.17 260.43  L 335.94 254.56  z
" clip-path="url(#pf00ca0ee67)" style="fill: #3190cf; fill-opacity: 0.08"/>
<path d="M 310.63 246.86  L 311.44 251.92  L 298.8 251.59  L 298.8 246.55  z
" clip-path="url(#pf00ca0ee67)" style="fill: #3292d2; fill-opacity: 0.08"/>
<path d="M 298.8 246.55  L 298.8 251.59  L 286.16 251.92  L 286.97 246.86  z
" clip-path="url(#pf00ca0ee67)" style="fill: #3292d2; fill-opacity: 0.08"/>
<path d="M 429.23 364.72  L 430.4 375.44  L 424.03 368.04  L 422.91 357.45  z
" clip-path="url(#pf00ca0ee67)" style="fill: #2876a9; fill-opacity: 0.08"/>
<path d="M 174.69 357.45  L 173.57 368.04  L 167.2 375.44  L 168.37 364.72  z
" clip-path="url(#pf00ca0ee67)" style="fill: #2876a9; fill-opacity: 0.08"/>
<path d="M 322.27 247.79  L 323.89 252.92  L 311.44 251.92  L 310.63 246.86  z
" clip-path="url(#pf00ca0ee67)" style="fill: #3291d1; fill-opacity: 0.08"/>
<path d="M 286.97 246.86  L 286.16 251.92  L 273.71 252.92  L 275.33 247.79  z
" clip-path="url(#pf00ca0ee67)" style="fill: #3291d1; fill-opacity: 0.08"/>
<path d="M 204.53 297.01  L 201.39 305.73  L 192.03 311.35  L 195.48 302.41  z
" clip-path="url(#pf00ca0ee67)" style="fill: #2d84be; fill-opacity: 0.08"/>
<path d="M 402.12 302.41  L 405.57 311.35  L 396.21 305.73  L 393.07 297.01  z
" clip-path="url(#pf00ca0ee67)" style="fill: #2d84be; fill-opacity: 0.08"/>
<path d="M 189.06 320.68  L 186.56 330.37  L 178.5 336.89  L 181.19 327.01  z
" clip-path="url(#pf00ca0ee67)" style="fill: #2b7eb5; fill-opacity: 0.08"/>
<path d="M 416.41 327.01  L 419.1 336.89  L 411.04 330.37  L 408.54 320.68  z
" clip-path="url(#pf00ca0ee67)" style="fill: #2b7eb5; fill-opacity: 0.08"/>
<path d="M 333.54 249.32  L 335.94 254.56  L 323.89 252.92  L 322.27 247.79  z
" clip-path="url(#pf00ca0ee67)" style="fill: #3190d0; fill-opacity: 0.08"/>
<path d="M 275.33 247.79  L 273.71 252.92  L 261.66 254.56  L 264.06 249.32  z
" clip-path="url(#pf00ca0ee67)" style="fill: #3190d0; fill-opacity: 0.08"/>
<path d="M 372.05 269.53  L 375.89 276.54  L 364.98 272.7  L 361.69 265.9  z
" clip-path="url(#pf00ca0ee67)" style="fill: #308bc9; fill-opacity: 0.08"/>
<path d="M 235.91 265.9  L 232.62 272.7  L 221.71 276.54  L 225.55 269.53  z
" clip-path="url(#pf00ca0ee67)" style="fill: #308bc9; fill-opacity: 0.08"/>
<path d="M 435.24 394.12  L 435.29 405.09  L 431.06 397.19  L 431.01 386.28  z
" clip-path="url(#pf00ca0ee67)" style="fill: #256d9d; fill-opacity: 0.08"/>
<path d="M 166.59 386.28  L 166.54 397.19  L 162.31 405.09  L 162.36 394.12  z
" clip-path="url(#pf00ca0ee67)" style="fill: #256d9d; fill-opacity: 0.08"/>
<path d="M 358.11 259.69  L 361.69 265.9  L 350.33 262.85  L 347.41 256.83  z
" clip-path="url(#pf00ca0ee67)" style="fill: #308dcc; fill-opacity: 0.08"/>
<path d="M 250.19 256.83  L 247.27 262.85  L 235.91 265.9  L 239.49 259.69  z
" clip-path="url(#pf00ca0ee67)" style="fill: #308dcc; fill-opacity: 0.08"/>
<path d="M 176.33 347.05  L 174.69 357.45  L 168.37 364.72  L 170.11 354.17  z
" clip-path="url(#pf00ca0ee67)" style="fill: #2977ab; fill-opacity: 0.08"/>
<path d="M 427.49 354.17  L 429.23 364.72  L 422.91 357.45  L 421.27 347.05  z
" clip-path="url(#pf00ca0ee67)" style="fill: #2977ab; fill-opacity: 0.08"/>
<path d="M 385.58 280.96  L 389.53 288.74  L 379.39 284.1  L 375.89 276.54  z
" clip-path="url(#pf00ca0ee67)" style="fill: #2f88c4; fill-opacity: 0.08"/>
<path d="M 221.71 276.54  L 218.21 284.1  L 208.07 288.74  L 212.02 280.96  z
" clip-path="url(#pf00ca0ee67)" style="fill: #2f88c4; fill-opacity: 0.08"/>
<path d="M 264.06 249.32  L 261.66 254.56  L 250.19 256.83  L 253.34 251.44  z
" clip-path="url(#pf00ca0ee67)" style="fill: #318fcd; fill-opacity: 0.08"/>
<path d="M 344.26 251.44  L 347.41 256.83  L 335.94 254.56  L 333.54 249.32  z
" clip-path="url(#pf00ca0ee67)" style="fill: #318fcd; fill-opacity: 0.08"/>
<path d="M 298.8 242.2  L 298.8 246.55  L 286.97 246.86  L 287.85 242.49  z
" clip-path="url(#pf00ca0ee67)" style="fill: #3190d0; fill-opacity: 0.08"/>
<path d="M 309.75 242.49  L 310.63 246.86  L 298.8 246.55  L 298.8 242.2  z
" clip-path="url(#pf00ca0ee67)" style="fill: #3190d0; fill-opacity: 0.08"/>
<path d="M 413.21 317.47  L 416.41 327.01  L 408.54 320.68  L 405.57 311.35  z
" clip-path="url(#pf00ca0ee67)" style="fill: #2b7eb6; fill-opacity: 0.08"/>
<path d="M 192.03 311.35  L 189.06 320.68  L 181.19 327.01  L 184.39 317.47  z
" clip-path="url(#pf00ca0ee67)" style="fill: #2b7eb6; fill-opacity: 0.08"/>
<path d="M 208.07 288.74  L 204.53 297.01  L 195.48 302.41  L 199.38 293.9  z
" clip-path="url(#pf00ca0ee67)" style="fill: #2d84be; fill-opacity: 0.08"/>
<path d="M 398.22 293.9  L 402.12 302.41  L 393.07 297.01  L 389.53 288.74  z
" clip-path="url(#pf00ca0ee67)" style="fill: #2d84be; fill-opacity: 0.08"/>
<path d="M 434.61 383.18  L 435.24 394.12  L 431.01 386.28  L 430.4 375.44  z
" clip-path="url(#pf00ca0ee67)" style="fill: #266e9f; fill-opacity: 0.08"/>
<path d="M 167.2 375.44  L 166.59 386.28  L 162.36 394.12  L 162.99 383.18  z
" clip-path="url(#pf00ca0ee67)" style="fill: #266e9f; fill-opacity: 0.08"/>
<path d="M 320.53 243.34  L 322.27 247.79  L 310.63 246.86  L 309.75 242.49  z
" clip-path="url(#pf00ca0ee67)" style="fill: #3190cf; fill-opacity: 0.08"/>
<path d="M 287.85 242.49  L 286.97 246.86  L 275.33 247.79  L 277.07 243.34  z
" clip-path="url(#pf00ca0ee67)" style="fill: #3190cf; fill-opacity: 0.08"/>
<path d="M 178.5 336.89  L 176.33 347.05  L 170.11 354.17  L 172.4 343.84  z
" clip-path="url(#pf00ca0ee67)" style="fill: #2977ac; fill-opacity: 0.08"/>
<path d="M 425.2 343.84  L 427.49 354.17  L 421.27 347.05  L 419.1 336.89  z
" clip-path="url(#pf00ca0ee67)" style="fill: #2977ac; fill-opacity: 0.08"/>
<path d="M 367.87 263.1  L 372.05 269.53  L 361.69 265.9  L 358.11 259.69  z
" clip-path="url(#pf00ca0ee67)" style="fill: #2f8ac7; fill-opacity: 0.08"/>
<path d="M 239.49 259.69  L 235.91 265.9  L 225.55 269.53  L 229.73 263.1  z
" clip-path="url(#pf00ca0ee67)" style="fill: #2f8ac7; fill-opacity: 0.08"/>
<path d="M 330.97 244.76  L 333.54 249.32  L 322.27 247.79  L 320.53 243.34  z
" clip-path="url(#pf00ca0ee67)" style="fill: #318fce; fill-opacity: 0.08"/>
<path d="M 277.07 243.34  L 275.33 247.79  L 264.06 249.32  L 266.63 244.76  z
" clip-path="url(#pf00ca0ee67)" style="fill: #318fce; fill-opacity: 0.08"/>
<path d="M 225.55 269.53  L 221.71 276.54  L 212.02 280.96  L 216.36 273.7  z
" clip-path="url(#pf00ca0ee67)" style="fill: #2e88c3; fill-opacity: 0.08"/>
<path d="M 381.24 273.7  L 385.58 280.96  L 375.89 276.54  L 372.05 269.53  z
" clip-path="url(#pf00ca0ee67)" style="fill: #2e88c3; fill-opacity: 0.08"/>
<path d="M 354.26 254.1  L 358.11 259.69  L 347.41 256.83  L 344.26 251.44  z
" clip-path="url(#pf00ca0ee67)" style="fill: #308cca; fill-opacity: 0.08"/>
<path d="M 253.34 251.44  L 250.19 256.83  L 239.49 259.69  L 243.34 254.1  z
" clip-path="url(#pf00ca0ee67)" style="fill: #308cca; fill-opacity: 0.08"/>
<path d="M 409.5 308.29  L 413.21 317.47  L 405.57 311.35  L 402.12 302.41  z
" clip-path="url(#pf00ca0ee67)" style="fill: #2b7fb7; fill-opacity: 0.08"/>
<path d="M 195.48 302.41  L 192.03 311.35  L 184.39 317.47  L 188.1 308.29  z
" clip-path="url(#pf00ca0ee67)" style="fill: #2b7fb7; fill-opacity: 0.08"/>
<path d="M 168.37 364.72  L 167.2 375.44  L 162.99 383.18  L 164.21 372.34  z
" clip-path="url(#pf00ca0ee67)" style="fill: #266fa0; fill-opacity: 0.08"/>
<path d="M 433.39 372.34  L 434.61 383.18  L 430.4 375.44  L 429.23 364.72  z
" clip-path="url(#pf00ca0ee67)" style="fill: #266fa0; fill-opacity: 0.08"/>
<path d="M 212.02 280.96  L 208.07 288.74  L 199.38 293.9  L 203.73 285.87  z
" clip-path="url(#pf00ca0ee67)" style="fill: #2d84be; fill-opacity: 0.08"/>
<path d="M 393.87 285.87  L 398.22 293.9  L 389.53 288.74  L 385.58 280.96  z
" clip-path="url(#pf00ca0ee67)" style="fill: #2d84be; fill-opacity: 0.08"/>
<path d="M 340.9 246.71  L 344.26 251.44  L 333.54 249.32  L 330.97 244.76  z
" clip-path="url(#pf00ca0ee67)" style="fill: #308dcb; fill-opacity: 0.08"/>
<path d="M 266.63 244.76  L 264.06 249.32  L 253.34 251.44  L 256.7 246.71  z
" clip-path="url(#pf00ca0ee67)" style="fill: #308dcb; fill-opacity: 0.08"/>
<path d="M 422.36 333.76  L 425.2 343.84  L 419.1 336.89  L 416.41 327.01  z
" clip-path="url(#pf00ca0ee67)" style="fill: #2978ad; fill-opacity: 0.08"/>
<path d="M 181.19 327.01  L 178.5 336.89  L 172.4 343.84  L 175.24 333.76  z
" clip-path="url(#pf00ca0ee67)" style="fill: #2978ad; fill-opacity: 0.08"/>
<path d="M 298.8 238.55  L 298.8 242.2  L 287.85 242.49  L 288.77 238.81  z
" clip-path="url(#pf00ca0ee67)" style="fill: #318ecd; fill-opacity: 0.08"/>
<path d="M 308.83 238.81  L 309.75 242.49  L 298.8 242.2  L 298.8 238.55  z
" clip-path="url(#pf00ca0ee67)" style="fill: #318ecd; fill-opacity: 0.08"/>
<path d="M 318.7 239.59  L 320.53 243.34  L 309.75 242.49  L 308.83 238.81  z
" clip-path="url(#pf00ca0ee67)" style="fill: #318ecc; fill-opacity: 0.08"/>
<path d="M 288.77 238.81  L 287.85 242.49  L 277.07 243.34  L 278.9 239.59  z
" clip-path="url(#pf00ca0ee67)" style="fill: #318ecc; fill-opacity: 0.08"/>
<path d="M 243.34 254.1  L 239.49 259.69  L 229.73 263.1  L 234.23 257.28  z
" clip-path="url(#pf00ca0ee67)" style="fill: #2f8ac6; fill-opacity: 0.08"/>
<path d="M 363.37 257.28  L 367.87 263.1  L 358.11 259.69  L 354.26 254.1  z
" clip-path="url(#pf00ca0ee67)" style="fill: #2f8ac6; fill-opacity: 0.08"/>
<path d="M 376.52 267.01  L 381.24 273.7  L 372.05 269.53  L 367.87 263.1  z
" clip-path="url(#pf00ca0ee67)" style="fill: #2e87c3; fill-opacity: 0.08"/>
<path d="M 229.73 263.1  L 225.55 269.53  L 216.36 273.7  L 221.08 267.01  z
" clip-path="url(#pf00ca0ee67)" style="fill: #2e87c3; fill-opacity: 0.08"/>
<path d="M 431.59 361.63  L 433.39 372.34  L 429.23 364.72  L 427.49 354.17  z
" clip-path="url(#pf00ca0ee67)" style="fill: #2670a2; fill-opacity: 0.08"/>
<path d="M 170.11 354.17  L 168.37 364.72  L 164.21 372.34  L 166.01 361.63  z
" clip-path="url(#pf00ca0ee67)" style="fill: #2670a2; fill-opacity: 0.08"/>
<path d="M 437.18 402.18  L 437.23 413.22  L 435.29 405.09  L 435.24 394.12  z
" clip-path="url(#pf00ca0ee67)" style="fill: #236794; fill-opacity: 0.08"/>
<path d="M 162.36 394.12  L 162.31 405.09  L 160.37 413.22  L 160.42 402.18  z
" clip-path="url(#pf00ca0ee67)" style="fill: #236794; fill-opacity: 0.08"/>
<path d="M 405.3 299.52  L 409.5 308.29  L 402.12 302.41  L 398.22 293.9  z
" clip-path="url(#pf00ca0ee67)" style="fill: #2b7fb7; fill-opacity: 0.08"/>
<path d="M 199.38 293.9  L 195.48 302.41  L 188.1 308.29  L 192.3 299.52  z
" clip-path="url(#pf00ca0ee67)" style="fill: #2b7fb7; fill-opacity: 0.08"/>
<path d="M 350.15 249.17  L 354.26 254.1  L 344.26 251.44  L 340.9 246.71  z
" clip-path="url(#pf00ca0ee67)" style="fill: #308bc8; fill-opacity: 0.08"/>
<path d="M 256.7 246.71  L 253.34 251.44  L 243.34 254.1  L 247.45 249.17  z
" clip-path="url(#pf00ca0ee67)" style="fill: #308bc8; fill-opacity: 0.08"/>
<path d="M 278.9 239.59  L 277.07 243.34  L 266.63 244.76  L 269.35 240.88  z
" clip-path="url(#pf00ca0ee67)" style="fill: #308dcb; fill-opacity: 0.08"/>
<path d="M 328.25 240.88  L 330.97 244.76  L 320.53 243.34  L 318.7 239.59  z
" clip-path="url(#pf00ca0ee67)" style="fill: #308dcb; fill-opacity: 0.08"/>
<path d="M 418.98 323.98  L 422.36 333.76  L 416.41 327.01  L 413.21 317.47  z
" clip-path="url(#pf00ca0ee67)" style="fill: #2979ae; fill-opacity: 0.08"/>
<path d="M 184.39 317.47  L 181.19 327.01  L 175.24 333.76  L 178.62 323.98  z
" clip-path="url(#pf00ca0ee67)" style="fill: #2979ae; fill-opacity: 0.08"/>
<path d="M 389.1 278.35  L 393.87 285.87  L 385.58 280.96  L 381.24 273.7  z
" clip-path="url(#pf00ca0ee67)" style="fill: #2d84be; fill-opacity: 0.08"/>
<path d="M 216.36 273.7  L 212.02 280.96  L 203.73 285.87  L 208.5 278.35  z
" clip-path="url(#pf00ca0ee67)" style="fill: #2d84be; fill-opacity: 0.08"/>
<path d="M 337.33 242.66  L 340.9 246.71  L 330.97 244.76  L 328.25 240.88  z
" clip-path="url(#pf00ca0ee67)" style="fill: #308bc9; fill-opacity: 0.08"/>
<path d="M 269.35 240.88  L 266.63 244.76  L 256.7 246.71  L 260.27 242.66  z
" clip-path="url(#pf00ca0ee67)" style="fill: #308bc9; fill-opacity: 0.08"/>
<path d="M 436.54 391.15  L 437.18 402.18  L 435.24 394.12  L 434.61 383.18  z
" clip-path="url(#pf00ca0ee67)" style="fill: #246896; fill-opacity: 0.08"/>
<path d="M 162.99 383.18  L 162.36 394.12  L 160.42 402.18  L 161.06 391.15  z
" clip-path="url(#pf00ca0ee67)" style="fill: #246896; fill-opacity: 0.08"/>
<path d="M 429.21 351.11  L 431.59 361.63  L 427.49 354.17  L 425.2 343.84  z
" clip-path="url(#pf00ca0ee67)" style="fill: #2771a3; fill-opacity: 0.08"/>
<path d="M 172.4 343.84  L 170.11 354.17  L 166.01 361.63  L 168.39 351.11  z
" clip-path="url(#pf00ca0ee67)" style="fill: #2771a3; fill-opacity: 0.08"/>
<path d="M 203.73 285.87  L 199.38 293.9  L 192.3 299.52  L 196.97 291.21  z
" clip-path="url(#pf00ca0ee67)" style="fill: #2c7fb7; fill-opacity: 0.08"/>
<path d="M 400.63 291.21  L 405.3 299.52  L 398.22 293.9  L 393.87 285.87  z
" clip-path="url(#pf00ca0ee67)" style="fill: #2c7fb7; fill-opacity: 0.08"/>
<path d="M 298.8 235.62  L 298.8 238.55  L 288.77 238.81  L 289.74 235.86  z
" clip-path="url(#pf00ca0ee67)" style="fill: #308cca; fill-opacity: 0.08"/>
<path d="M 307.86 235.86  L 308.83 238.81  L 298.8 238.55  L 298.8 235.62  z
" clip-path="url(#pf00ca0ee67)" style="fill: #308cca; fill-opacity: 0.08"/>
<path d="M 371.45 260.92  L 376.52 267.01  L 367.87 263.1  L 363.37 257.28  z
" clip-path="url(#pf00ca0ee67)" style="fill: #2e86c2; fill-opacity: 0.08"/>
<path d="M 234.23 257.28  L 229.73 263.1  L 221.08 267.01  L 226.15 260.92  z
" clip-path="url(#pf00ca0ee67)" style="fill: #2e86c2; fill-opacity: 0.08"/>
<path d="M 247.45 249.17  L 243.34 254.1  L 234.23 257.28  L 239.02 252.1  z
" clip-path="url(#pf00ca0ee67)" style="fill: #2f88c5; fill-opacity: 0.08"/>
<path d="M 358.58 252.1  L 363.37 257.28  L 354.26 254.1  L 350.15 249.17  z
" clip-path="url(#pf00ca0ee67)" style="fill: #2f88c5; fill-opacity: 0.08"/>
<path d="M 415.07 314.55  L 418.98 323.98  L 413.21 317.47  L 409.5 308.29  z
" clip-path="url(#pf00ca0ee67)" style="fill: #2a79af; fill-opacity: 0.08"/>
<path d="M 188.1 308.29  L 184.39 317.47  L 178.62 323.98  L 182.53 314.55  z
" clip-path="url(#pf00ca0ee67)" style="fill: #2a79af; fill-opacity: 0.08"/>
<path d="M 316.77 236.56  L 318.7 239.59  L 308.83 238.81  L 307.86 235.86  z
" clip-path="url(#pf00ca0ee67)" style="fill: #308cca; fill-opacity: 0.08"/>
<path d="M 289.74 235.86  L 288.77 238.81  L 278.9 239.59  L 280.83 236.56  z
" clip-path="url(#pf00ca0ee67)" style="fill: #308cca; fill-opacity: 0.08"/>
<path d="M 383.92 271.37  L 389.1 278.35  L 381.24 273.7  L 376.52 267.01  z
" clip-path="url(#pf00ca0ee67)" style="fill: #2d83bd; fill-opacity: 0.08"/>
<path d="M 221.08 267.01  L 216.36 273.7  L 208.5 278.35  L 213.68 271.37  z
" clip-path="url(#pf00ca0ee67)" style="fill: #2d83bd; fill-opacity: 0.08"/>
<path d="M 260.27 242.66  L 256.7 246.71  L 247.45 249.17  L 251.8 244.91  z
" clip-path="url(#pf00ca0ee67)" style="fill: #2f8ac6; fill-opacity: 0.08"/>
<path d="M 345.8 244.91  L 350.15 249.17  L 340.9 246.71  L 337.33 242.66  z
" clip-path="url(#pf00ca0ee67)" style="fill: #2f8ac6; fill-opacity: 0.08"/>
<path d="M 435.29 380.17  L 436.54 391.15  L 434.61 383.18  L 433.39 372.34  z
" clip-path="url(#pf00ca0ee67)" style="fill: #246997; fill-opacity: 0.08"/>
<path d="M 164.21 372.34  L 162.99 383.18  L 161.06 391.15  L 162.31 380.17  z
" clip-path="url(#pf00ca0ee67)" style="fill: #246997; fill-opacity: 0.08"/>
<path d="M 325.39 237.73  L 328.25 240.88  L 318.7 239.59  L 316.77 236.56  z
" clip-path="url(#pf00ca0ee67)" style="fill: #308bc8; fill-opacity: 0.08"/>
<path d="M 280.83 236.56  L 278.9 239.59  L 269.35 240.88  L 272.21 237.73  z
" clip-path="url(#pf00ca0ee67)" style="fill: #308bc8; fill-opacity: 0.08"/>
<path d="M 426.27 340.81  L 429.21 351.11  L 425.2 343.84  L 422.36 333.76  z
" clip-path="url(#pf00ca0ee67)" style="fill: #2772a5; fill-opacity: 0.08"/>
<path d="M 175.24 333.76  L 172.4 343.84  L 168.39 351.11  L 171.33 340.81  z
" clip-path="url(#pf00ca0ee67)" style="fill: #2772a5; fill-opacity: 0.08"/>
<path d="M 395.5 283.39  L 400.63 291.21  L 393.87 285.87  L 389.1 278.35  z
" clip-path="url(#pf00ca0ee67)" style="fill: #2c7fb7; fill-opacity: 0.08"/>
<path d="M 208.5 278.35  L 203.73 285.87  L 196.97 291.21  L 202.1 283.39  z
" clip-path="url(#pf00ca0ee67)" style="fill: #2c7fb7; fill-opacity: 0.08"/>
<path d="M 410.64 305.51  L 415.07 314.55  L 409.5 308.29  L 405.3 299.52  z
" clip-path="url(#pf00ca0ee67)" style="fill: #2a7ab0; fill-opacity: 0.08"/>
<path d="M 192.3 299.52  L 188.1 308.29  L 182.53 314.55  L 186.96 305.51  z
" clip-path="url(#pf00ca0ee67)" style="fill: #2a7ab0; fill-opacity: 0.08"/>
<path d="M 333.58 239.33  L 337.33 242.66  L 328.25 240.88  L 325.39 237.73  z
" clip-path="url(#pf00ca0ee67)" style="fill: #2f8ac6; fill-opacity: 0.08"/>
<path d="M 272.21 237.73  L 269.35 240.88  L 260.27 242.66  L 264.02 239.33  z
" clip-path="url(#pf00ca0ee67)" style="fill: #2f8ac6; fill-opacity: 0.08"/>
<path d="M 366.04 255.45  L 371.45 260.92  L 363.37 257.28  L 358.58 252.1  z
" clip-path="url(#pf00ca0ee67)" style="fill: #2e86c0; fill-opacity: 0.08"/>
<path d="M 239.02 252.1  L 234.23 257.28  L 226.15 260.92  L 231.56 255.45  z
" clip-path="url(#pf00ca0ee67)" style="fill: #2e86c0; fill-opacity: 0.08"/>
<path d="M 353.5 247.58  L 358.58 252.1  L 350.15 249.17  L 345.8 244.91  z
" clip-path="url(#pf00ca0ee67)" style="fill: #2e87c3; fill-opacity: 0.08"/>
<path d="M 251.8 244.91  L 247.45 249.17  L 239.02 252.1  L 244.1 247.58  z
" clip-path="url(#pf00ca0ee67)" style="fill: #2e87c3; fill-opacity: 0.08"/>
<path d="M 433.46 369.3  L 435.29 380.17  L 433.39 372.34  L 431.59 361.63  z
" clip-path="url(#pf00ca0ee67)" style="fill: #246a99; fill-opacity: 0.08"/>
<path d="M 166.01 361.63  L 164.21 372.34  L 162.31 380.17  L 164.14 369.3  z
" clip-path="url(#pf00ca0ee67)" style="fill: #246a99; fill-opacity: 0.08"/>
<path d="M 378.35 264.97  L 383.92 271.37  L 376.52 267.01  L 371.45 260.92  z
" clip-path="url(#pf00ca0ee67)" style="fill: #2d83bc; fill-opacity: 0.08"/>
<path d="M 226.15 260.92  L 221.08 267.01  L 213.68 271.37  L 219.25 264.97  z
" clip-path="url(#pf00ca0ee67)" style="fill: #2d83bc; fill-opacity: 0.08"/>
<path d="M 422.76 330.79  L 426.27 340.81  L 422.36 333.76  L 418.98 323.98  z
" clip-path="url(#pf00ca0ee67)" style="fill: #2773a6; fill-opacity: 0.08"/>
<path d="M 178.62 323.98  L 175.24 333.76  L 171.33 340.81  L 174.84 330.79  z
" clip-path="url(#pf00ca0ee67)" style="fill: #2773a6; fill-opacity: 0.08"/>
<path d="M 160.42 402.18  L 160.37 413.22  L 160.78 421.43  L 160.84 410.33  z
" clip-path="url(#pf00ca0ee67)" style="fill: #21608a; fill-opacity: 0.08"/>
<path d="M 436.76 410.33  L 436.82 421.43  L 437.23 413.22  L 437.18 402.18  z
" clip-path="url(#pf00ca0ee67)" style="fill: #21608a; fill-opacity: 0.08"/>
<path d="M 306.84 233.65  L 307.86 235.86  L 298.8 235.62  L 298.8 233.44  z
" clip-path="url(#pf00ca0ee67)" style="fill: #2f8ac7; fill-opacity: 0.08"/>
<path d="M 298.8 233.44  L 298.8 235.62  L 289.74 235.86  L 290.76 233.65  z
" clip-path="url(#pf00ca0ee67)" style="fill: #2f8ac7; fill-opacity: 0.08"/>
<path d="M 290.76 233.65  L 289.74 235.86  L 280.83 236.56  L 282.86 234.28  z
" clip-path="url(#pf00ca0ee67)" style="fill: #2f8ac6; fill-opacity: 0.08"/>
<path d="M 314.74 234.28  L 316.77 236.56  L 307.86 235.86  L 306.84 233.65  z
" clip-path="url(#pf00ca0ee67)" style="fill: #2f8ac6; fill-opacity: 0.08"/>
<path d="M 264.02 239.33  L 260.27 242.66  L 251.8 244.91  L 256.39 241.35  z
" clip-path="url(#pf00ca0ee67)" style="fill: #2e88c4; fill-opacity: 0.08"/>
<path d="M 341.21 241.35  L 345.8 244.91  L 337.33 242.66  L 333.58 239.33  z
" clip-path="url(#pf00ca0ee67)" style="fill: #2e88c4; fill-opacity: 0.08"/>
<path d="M 405.71 296.9  L 410.64 305.51  L 405.3 299.52  L 400.63 291.21  z
" clip-path="url(#pf00ca0ee67)" style="fill: #2a7ab0; fill-opacity: 0.08"/>
<path d="M 196.97 291.21  L 192.3 299.52  L 186.96 305.51  L 191.89 296.9  z
" clip-path="url(#pf00ca0ee67)" style="fill: #2a7ab0; fill-opacity: 0.08"/>
<path d="M 213.68 271.37  L 208.5 278.35  L 202.1 283.39  L 207.67 276.1  z
" clip-path="url(#pf00ca0ee67)" style="fill: #2b7fb7; fill-opacity: 0.08"/>
<path d="M 389.93 276.1  L 395.5 283.39  L 389.1 278.35  L 383.92 271.37  z
" clip-path="url(#pf00ca0ee67)" style="fill: #2b7fb7; fill-opacity: 0.08"/>
<path d="M 322.39 235.31  L 325.39 237.73  L 316.77 236.56  L 314.74 234.28  z
" clip-path="url(#pf00ca0ee67)" style="fill: #2f89c5; fill-opacity: 0.08"/>
<path d="M 282.86 234.28  L 280.83 236.56  L 272.21 237.73  L 275.21 235.31  z
" clip-path="url(#pf00ca0ee67)" style="fill: #2f89c5; fill-opacity: 0.08"/>
<path d="M 168.39 351.11  L 166.01 361.63  L 164.14 369.3  L 166.56 358.58  z
" clip-path="url(#pf00ca0ee67)" style="fill: #256b9a; fill-opacity: 0.08"/>
<path d="M 431.04 358.58  L 433.46 369.3  L 431.59 361.63  L 429.21 351.11  z
" clip-path="url(#pf00ca0ee67)" style="fill: #256b9a; fill-opacity: 0.08"/>
<path d="M 161.06 391.15  L 160.42 402.18  L 160.84 410.33  L 161.48 399.2  z
" clip-path="url(#pf00ca0ee67)" style="fill: #21618c; fill-opacity: 0.08"/>
<path d="M 436.12 399.2  L 436.76 410.33  L 437.18 402.18  L 436.54 391.15  z
" clip-path="url(#pf00ca0ee67)" style="fill: #21618c; fill-opacity: 0.08"/>
<path d="M 418.71 321.1  L 422.76 330.79  L 418.98 323.98  L 415.07 314.55  z
" clip-path="url(#pf00ca0ee67)" style="fill: #2874a7; fill-opacity: 0.08"/>
<path d="M 182.53 314.55  L 178.62 323.98  L 174.84 330.79  L 178.89 321.1  z
" clip-path="url(#pf00ca0ee67)" style="fill: #2874a7; fill-opacity: 0.08"/>
<path d="M 360.31 250.64  L 366.04 255.45  L 358.58 252.1  L 353.5 247.58  z
" clip-path="url(#pf00ca0ee67)" style="fill: #2d84bf; fill-opacity: 0.08"/>
<path d="M 244.1 247.58  L 239.02 252.1  L 231.56 255.45  L 237.29 250.64  z
" clip-path="url(#pf00ca0ee67)" style="fill: #2d84bf; fill-opacity: 0.08"/>
<path d="M 329.66 236.72  L 333.58 239.33  L 325.39 237.73  L 322.39 235.31  z
" clip-path="url(#pf00ca0ee67)" style="fill: #2e88c3; fill-opacity: 0.08"/>
<path d="M 275.21 235.31  L 272.21 237.73  L 264.02 239.33  L 267.94 236.72  z
" clip-path="url(#pf00ca0ee67)" style="fill: #2e88c3; fill-opacity: 0.08"/>
<path d="M 372.41 259.18  L 378.35 264.97  L 371.45 260.92  L 366.04 255.45  z
" clip-path="url(#pf00ca0ee67)" style="fill: #2d82bc; fill-opacity: 0.08"/>
<path d="M 231.56 255.45  L 226.15 260.92  L 219.25 264.97  L 225.19 259.18  z
" clip-path="url(#pf00ca0ee67)" style="fill: #2d82bc; fill-opacity: 0.08"/>
<path d="M 348.16 243.75  L 353.5 247.58  L 345.8 244.91  L 341.21 241.35  z
" clip-path="url(#pf00ca0ee67)" style="fill: #2e86c1; fill-opacity: 0.08"/>
<path d="M 256.39 241.35  L 251.8 244.91  L 244.1 247.58  L 249.44 243.75  z
" clip-path="url(#pf00ca0ee67)" style="fill: #2e86c1; fill-opacity: 0.08"/>
<path d="M 400.3 288.76  L 405.71 296.9  L 400.63 291.21  L 395.5 283.39  z
" clip-path="url(#pf00ca0ee67)" style="fill: #2a7bb1; fill-opacity: 0.08"/>
<path d="M 202.1 283.39  L 196.97 291.21  L 191.89 296.9  L 197.3 288.76  z
" clip-path="url(#pf00ca0ee67)" style="fill: #2a7bb1; fill-opacity: 0.08"/>
<path d="M 219.25 264.97  L 213.68 271.37  L 207.67 276.1  L 213.65 269.37  z
" clip-path="url(#pf00ca0ee67)" style="fill: #2b7fb7; fill-opacity: 0.08"/>
<path d="M 383.95 269.37  L 389.93 276.1  L 383.92 271.37  L 378.35 264.97  z
" clip-path="url(#pf00ca0ee67)" style="fill: #2b7fb7; fill-opacity: 0.08"/>
<path d="M 428.03 348.07  L 431.04 358.58  L 429.21 351.11  L 426.27 340.81  z
" clip-path="url(#pf00ca0ee67)" style="fill: #256c9c; fill-opacity: 0.08"/>
<path d="M 171.33 340.81  L 168.39 351.11  L 166.56 358.58  L 169.57 348.07  z
" clip-path="url(#pf00ca0ee67)" style="fill: #256c9c; fill-opacity: 0.08"/>
<path d="M 434.87 388.09  L 436.12 399.2  L 436.54 391.15  L 435.29 380.17  z
" clip-path="url(#pf00ca0ee67)" style="fill: #22628e; fill-opacity: 0.08"/>
<path d="M 162.31 380.17  L 161.06 391.15  L 161.48 399.2  L 162.73 388.09  z
" clip-path="url(#pf00ca0ee67)" style="fill: #22628e; fill-opacity: 0.08"/>
<path d="M 305.78 232.21  L 306.84 233.65  L 298.8 233.44  L 298.8 232.02  z
" clip-path="url(#pf00ca0ee67)" style="fill: #2e88c3; fill-opacity: 0.08"/>
<path d="M 298.8 232.02  L 298.8 233.44  L 290.76 233.65  L 291.82 232.21  z
" clip-path="url(#pf00ca0ee67)" style="fill: #2e88c3; fill-opacity: 0.08"/>
<path d="M 336.42 238.51  L 341.21 241.35  L 333.58 239.33  L 329.66 236.72  z
" clip-path="url(#pf00ca0ee67)" style="fill: #2e86c1; fill-opacity: 0.08"/>
<path d="M 267.94 236.72  L 264.02 239.33  L 256.39 241.35  L 261.18 238.51  z
" clip-path="url(#pf00ca0ee67)" style="fill: #2e86c1; fill-opacity: 0.08"/>
<path d="M 414.12 311.76  L 418.71 321.1  L 415.07 314.55  L 410.64 305.51  z
" clip-path="url(#pf00ca0ee67)" style="fill: #2874a8; fill-opacity: 0.08"/>
<path d="M 186.96 305.51  L 182.53 314.55  L 178.89 321.1  L 183.48 311.76  z
" clip-path="url(#pf00ca0ee67)" style="fill: #2874a8; fill-opacity: 0.08"/>
<path d="M 312.64 232.75  L 314.74 234.28  L 306.84 233.65  L 305.78 232.21  z
" clip-path="url(#pf00ca0ee67)" style="fill: #2e87c3; fill-opacity: 0.08"/>
<path d="M 291.82 232.21  L 290.76 233.65  L 282.86 234.28  L 284.96 232.75  z
" clip-path="url(#pf00ca0ee67)" style="fill: #2e87c3; fill-opacity: 0.08"/>
<path d="M 319.28 233.64  L 322.39 235.31  L 314.74 234.28  L 312.64 232.75  z
" clip-path="url(#pf00ca0ee67)" style="fill: #2e87c2; fill-opacity: 0.08"/>
<path d="M 284.96 232.75  L 282.86 234.28  L 275.21 235.31  L 278.32 233.64  z
" clip-path="url(#pf00ca0ee67)" style="fill: #2e87c2; fill-opacity: 0.08"/>
<path d="M 249.44 243.75  L 244.1 247.58  L 237.29 250.64  L 243.31 246.51  z
" clip-path="url(#pf00ca0ee67)" style="fill: #2d83bd; fill-opacity: 0.08"/>
<path d="M 354.29 246.51  L 360.31 250.64  L 353.5 247.58  L 348.16 243.75  z
" clip-path="url(#pf00ca0ee67)" style="fill: #2d83bd; fill-opacity: 0.08"/>
<path d="M 366.12 254.04  L 372.41 259.18  L 366.04 255.45  L 360.31 250.64  z
" clip-path="url(#pf00ca0ee67)" style="fill: #2c81bb; fill-opacity: 0.08"/>
<path d="M 237.29 250.64  L 231.56 255.45  L 225.19 259.18  L 231.48 254.04  z
" clip-path="url(#pf00ca0ee67)" style="fill: #2c81bb; fill-opacity: 0.08"/>
<path d="M 394.44 281.13  L 400.3 288.76  L 395.5 283.39  L 389.93 276.1  z
" clip-path="url(#pf00ca0ee67)" style="fill: #2a7bb1; fill-opacity: 0.08"/>
<path d="M 207.67 276.1  L 202.1 283.39  L 197.3 288.76  L 203.16 281.13  z
" clip-path="url(#pf00ca0ee67)" style="fill: #2a7bb1; fill-opacity: 0.08"/>
<path d="M 424.46 337.8  L 428.03 348.07  L 426.27 340.81  L 422.76 330.79  z
" clip-path="url(#pf00ca0ee67)" style="fill: #256d9d; fill-opacity: 0.08"/>
<path d="M 174.84 330.79  L 171.33 340.81  L 169.57 348.07  L 173.14 337.8  z
" clip-path="url(#pf00ca0ee67)" style="fill: #256d9d; fill-opacity: 0.08"/>
<path d="M 342.57 240.64  L 348.16 243.75  L 341.21 241.35  L 336.42 238.51  z
" clip-path="url(#pf00ca0ee67)" style="fill: #2d84bf; fill-opacity: 0.08"/>
<path d="M 261.18 238.51  L 256.39 241.35  L 249.44 243.75  L 255.03 240.64  z
" clip-path="url(#pf00ca0ee67)" style="fill: #2d84bf; fill-opacity: 0.08"/>
<path d="M 164.14 369.3  L 162.31 380.17  L 162.73 388.09  L 164.57 377.05  z
" clip-path="url(#pf00ca0ee67)" style="fill: #226490; fill-opacity: 0.08"/>
<path d="M 433.03 377.05  L 434.87 388.09  L 435.29 380.17  L 433.46 369.3  z
" clip-path="url(#pf00ca0ee67)" style="fill: #226490; fill-opacity: 0.08"/>
<path d="M 278.32 233.64  L 275.21 235.31  L 267.94 236.72  L 272.02 234.87  z
" clip-path="url(#pf00ca0ee67)" style="fill: #2e86c0; fill-opacity: 0.08"/>
<path d="M 325.58 234.87  L 329.66 236.72  L 322.39 235.31  L 319.28 233.64  z
" clip-path="url(#pf00ca0ee67)" style="fill: #2e86c0; fill-opacity: 0.08"/>
<path d="M 377.57 263.23  L 383.95 269.37  L 378.35 264.97  L 372.41 259.18  z
" clip-path="url(#pf00ca0ee67)" style="fill: #2b7fb6; fill-opacity: 0.08"/>
<path d="M 225.19 259.18  L 219.25 264.97  L 213.65 269.37  L 220.03 263.23  z
" clip-path="url(#pf00ca0ee67)" style="fill: #2b7fb6; fill-opacity: 0.08"/>
<path d="M 191.89 296.9  L 186.96 305.51  L 183.48 311.76  L 188.58 302.84  z
" clip-path="url(#pf00ca0ee67)" style="fill: #2875a9; fill-opacity: 0.08"/>
<path d="M 409.02 302.84  L 414.12 311.76  L 410.64 305.51  L 405.71 296.9  z
" clip-path="url(#pf00ca0ee67)" style="fill: #2875a9; fill-opacity: 0.08"/>
<path d="M 433.95 418.43  L 434 429.6  L 436.82 421.43  L 436.76 410.33  z
" clip-path="url(#pf00ca0ee67)" style="fill: #1f5a81; fill-opacity: 0.08"/>
<path d="M 160.84 410.33  L 160.78 421.43  L 163.6 429.6  L 163.65 418.43  z
" clip-path="url(#pf00ca0ee67)" style="fill: #1f5a81; fill-opacity: 0.08"/>
<path d="M 272.02 234.87  L 267.94 236.72  L 261.18 238.51  L 266.16 236.42  z
" clip-path="url(#pf00ca0ee67)" style="fill: #2d84be; fill-opacity: 0.08"/>
<path d="M 331.44 236.42  L 336.42 238.51  L 329.66 236.72  L 325.58 234.87  z
" clip-path="url(#pf00ca0ee67)" style="fill: #2d84be; fill-opacity: 0.08"/>
<path d="M 178.89 321.1  L 174.84 330.79  L 173.14 337.8  L 177.27 327.82  z
" clip-path="url(#pf00ca0ee67)" style="fill: #266e9f; fill-opacity: 0.08"/>
<path d="M 420.33 327.82  L 424.46 337.8  L 422.76 330.79  L 418.71 321.1  z
" clip-path="url(#pf00ca0ee67)" style="fill: #266e9f; fill-opacity: 0.08"/>
<path d="M 304.68 231.53  L 305.78 232.21  L 298.8 232.02  L 298.8 231.38  z
" clip-path="url(#pf00ca0ee67)" style="fill: #2e85c0; fill-opacity: 0.08"/>
<path d="M 298.8 231.38  L 298.8 232.02  L 291.82 232.21  L 292.92 231.53  z
" clip-path="url(#pf00ca0ee67)" style="fill: #2e85c0; fill-opacity: 0.08"/>
<path d="M 388.13 274.04  L 394.44 281.13  L 389.93 276.1  L 383.95 269.37  z
" clip-path="url(#pf00ca0ee67)" style="fill: #2a7bb1; fill-opacity: 0.08"/>
<path d="M 213.65 269.37  L 207.67 276.1  L 203.16 281.13  L 209.47 274.04  z
" clip-path="url(#pf00ca0ee67)" style="fill: #2a7bb1; fill-opacity: 0.08"/>
<path d="M 430.6 366.14  L 433.03 377.05  L 433.46 369.3  L 431.04 358.58  z
" clip-path="url(#pf00ca0ee67)" style="fill: #226591; fill-opacity: 0.08"/>
<path d="M 166.56 358.58  L 164.14 369.3  L 164.57 377.05  L 167 366.14  z
" clip-path="url(#pf00ca0ee67)" style="fill: #226591; fill-opacity: 0.08"/>
<path d="M 359.52 249.56  L 366.12 254.04  L 360.31 250.64  L 354.29 246.51  z
" clip-path="url(#pf00ca0ee67)" style="fill: #2c81b9; fill-opacity: 0.08"/>
<path d="M 243.31 246.51  L 237.29 250.64  L 231.48 254.04  L 238.08 249.56  z
" clip-path="url(#pf00ca0ee67)" style="fill: #2c81b9; fill-opacity: 0.08"/>
<path d="M 292.92 231.53  L 291.82 232.21  L 284.96 232.75  L 287.14 231.99  z
" clip-path="url(#pf00ca0ee67)" style="fill: #2d85bf; fill-opacity: 0.08"/>
<path d="M 310.46 231.99  L 312.64 232.75  L 305.78 232.21  L 304.68 231.53  z
" clip-path="url(#pf00ca0ee67)" style="fill: #2d85bf; fill-opacity: 0.08"/>
<path d="M 348.01 243.07  L 354.29 246.51  L 348.16 243.75  L 342.57 240.64  z
" clip-path="url(#pf00ca0ee67)" style="fill: #2c82bb; fill-opacity: 0.08"/>
<path d="M 255.03 240.64  L 249.44 243.75  L 243.31 246.51  L 249.59 243.07  z
" clip-path="url(#pf00ca0ee67)" style="fill: #2c82bb; fill-opacity: 0.08"/>
<path d="M 197.3 288.76  L 191.89 296.9  L 188.58 302.84  L 194.18 294.36  z
" clip-path="url(#pf00ca0ee67)" style="fill: #2876a9; fill-opacity: 0.08"/>
<path d="M 403.42 294.36  L 409.02 302.84  L 405.71 296.9  L 400.3 288.76  z
" clip-path="url(#pf00ca0ee67)" style="fill: #2876a9; fill-opacity: 0.08"/>
<path d="M 433.32 407.2  L 433.95 418.43  L 436.76 410.33  L 436.12 399.2  z
" clip-path="url(#pf00ca0ee67)" style="fill: #1f5b83; fill-opacity: 0.08"/>
<path d="M 161.48 399.2  L 160.84 410.33  L 163.65 418.43  L 164.28 407.2  z
" clip-path="url(#pf00ca0ee67)" style="fill: #1f5b83; fill-opacity: 0.08"/>
<path d="M 231.48 254.04  L 225.19 259.18  L 220.03 263.23  L 226.78 257.73  z
" clip-path="url(#pf00ca0ee67)" style="fill: #2b7eb6; fill-opacity: 0.08"/>
<path d="M 370.82 257.73  L 377.57 263.23  L 372.41 259.18  L 366.12 254.04  z
" clip-path="url(#pf00ca0ee67)" style="fill: #2b7eb6; fill-opacity: 0.08"/>
<path d="M 316.05 232.74  L 319.28 233.64  L 312.64 232.75  L 310.46 231.99  z
" clip-path="url(#pf00ca0ee67)" style="fill: #2d84be; fill-opacity: 0.08"/>
<path d="M 287.14 231.99  L 284.96 232.75  L 278.32 233.64  L 281.55 232.74  z
" clip-path="url(#pf00ca0ee67)" style="fill: #2d84be; fill-opacity: 0.08"/>
<path d="M 336.77 238.26  L 342.57 240.64  L 336.42 238.51  L 331.44 236.42  z
" clip-path="url(#pf00ca0ee67)" style="fill: #2d83bc; fill-opacity: 0.08"/>
<path d="M 266.16 236.42  L 261.18 238.51  L 255.03 240.64  L 260.83 238.26  z
" clip-path="url(#pf00ca0ee67)" style="fill: #2d83bc; fill-opacity: 0.08"/>
<path d="M 321.36 233.78  L 325.58 234.87  L 319.28 233.64  L 316.05 232.74  z
" clip-path="url(#pf00ca0ee67)" style="fill: #2d83bd; fill-opacity: 0.08"/>
<path d="M 281.55 232.74  L 278.32 233.64  L 272.02 234.87  L 276.24 233.78  z
" clip-path="url(#pf00ca0ee67)" style="fill: #2d83bd; fill-opacity: 0.08"/>
<path d="M 415.66 318.18  L 420.33 327.82  L 418.71 321.1  L 414.12 311.76  z
" clip-path="url(#pf00ca0ee67)" style="fill: #266fa0; fill-opacity: 0.08"/>
<path d="M 183.48 311.76  L 178.89 321.1  L 177.27 327.82  L 181.94 318.18  z
" clip-path="url(#pf00ca0ee67)" style="fill: #266fa0; fill-opacity: 0.08"/>
<path d="M 427.59 355.39  L 430.6 366.14  L 431.04 358.58  L 428.03 348.07  z
" clip-path="url(#pf00ca0ee67)" style="fill: #236693; fill-opacity: 0.08"/>
<path d="M 169.57 348.07  L 166.56 358.58  L 167 366.14  L 170.01 355.39  z
" clip-path="url(#pf00ca0ee67)" style="fill: #236693; fill-opacity: 0.08"/>
<path d="M 381.42 267.54  L 388.13 274.04  L 383.95 269.37  L 377.57 263.23  z
" clip-path="url(#pf00ca0ee67)" style="fill: #2a7bb1; fill-opacity: 0.08"/>
<path d="M 220.03 263.23  L 213.65 269.37  L 209.47 274.04  L 216.18 267.54  z
" clip-path="url(#pf00ca0ee67)" style="fill: #2a7bb1; fill-opacity: 0.08"/>
<path d="M 397.35 286.37  L 403.42 294.36  L 400.3 288.76  L 394.44 281.13  z
" clip-path="url(#pf00ca0ee67)" style="fill: #2876aa; fill-opacity: 0.08"/>
<path d="M 203.16 281.13  L 197.3 288.76  L 194.18 294.36  L 200.25 286.37  z
" clip-path="url(#pf00ca0ee67)" style="fill: #2876aa; fill-opacity: 0.08"/>
<path d="M 162.73 388.09  L 161.48 399.2  L 164.28 407.2  L 165.51 395.96  z
" clip-path="url(#pf00ca0ee67)" style="fill: #1f5c85; fill-opacity: 0.08"/>
<path d="M 432.09 395.96  L 433.32 407.2  L 436.12 399.2  L 434.87 388.09  z
" clip-path="url(#pf00ca0ee67)" style="fill: #1f5c85; fill-opacity: 0.08"/>
<path d="M 249.59 243.07  L 243.31 246.51  L 238.08 249.56  L 244.98 245.78  z
" clip-path="url(#pf00ca0ee67)" style="fill: #2c80b8; fill-opacity: 0.08"/>
<path d="M 352.62 245.78  L 359.52 249.56  L 354.29 246.51  L 348.01 243.07  z
" clip-path="url(#pf00ca0ee67)" style="fill: #2c80b8; fill-opacity: 0.08"/>
<path d="M 326.29 235.08  L 331.44 236.42  L 325.58 234.87  L 321.36 233.78  z
" clip-path="url(#pf00ca0ee67)" style="fill: #2d82bb; fill-opacity: 0.08"/>
<path d="M 276.24 233.78  L 272.02 234.87  L 266.16 236.42  L 271.31 235.08  z
" clip-path="url(#pf00ca0ee67)" style="fill: #2d82bb; fill-opacity: 0.08"/>
<path d="M 238.08 249.56  L 231.48 254.04  L 226.78 257.73  L 233.86 252.88  z
" clip-path="url(#pf00ca0ee67)" style="fill: #2b7eb5; fill-opacity: 0.08"/>
<path d="M 363.74 252.88  L 370.82 257.73  L 366.12 254.04  L 359.52 249.56  z
" clip-path="url(#pf00ca0ee67)" style="fill: #2b7eb5; fill-opacity: 0.08"/>
<path d="M 341.47 240.37  L 348.01 243.07  L 342.57 240.64  L 336.77 238.26  z
" clip-path="url(#pf00ca0ee67)" style="fill: #2c81b9; fill-opacity: 0.08"/>
<path d="M 260.83 238.26  L 255.03 240.64  L 249.59 243.07  L 256.13 240.37  z
" clip-path="url(#pf00ca0ee67)" style="fill: #2c81b9; fill-opacity: 0.08"/>
<path d="M 188.58 302.84  L 183.48 311.76  L 181.94 318.18  L 187.14 308.93  z
" clip-path="url(#pf00ca0ee67)" style="fill: #2670a1; fill-opacity: 0.08"/>
<path d="M 410.46 308.93  L 415.66 318.18  L 414.12 311.76  L 409.02 302.84  z
" clip-path="url(#pf00ca0ee67)" style="fill: #2670a1; fill-opacity: 0.08"/>
<path d="M 303.55 231.65  L 304.68 231.53  L 298.8 231.38  L 298.8 231.53  z
" clip-path="url(#pf00ca0ee67)" style="fill: #2d82bc; fill-opacity: 0.08"/>
<path d="M 298.8 231.53  L 298.8 231.38  L 292.92 231.53  L 294.05 231.65  z
" clip-path="url(#pf00ca0ee67)" style="fill: #2d82bc; fill-opacity: 0.08"/>
<path d="M 173.14 337.8  L 169.57 348.07  L 170.01 355.39  L 173.58 344.87  z
" clip-path="url(#pf00ca0ee67)" style="fill: #236795; fill-opacity: 0.08"/>
<path d="M 424.02 344.87  L 427.59 355.39  L 428.03 348.07  L 424.46 337.8  z
" clip-path="url(#pf00ca0ee67)" style="fill: #236795; fill-opacity: 0.08"/>
<path d="M 294.05 231.65  L 292.92 231.53  L 287.14 231.99  L 289.38 232.02  z
" clip-path="url(#pf00ca0ee67)" style="fill: #2c82bb; fill-opacity: 0.08"/>
<path d="M 308.22 232.02  L 310.46 231.99  L 304.68 231.53  L 303.55 231.65  z
" clip-path="url(#pf00ca0ee67)" style="fill: #2c82bb; fill-opacity: 0.08"/>
<path d="M 226.78 257.73  L 220.03 263.23  L 216.18 267.54  L 223.28 261.64  z
" clip-path="url(#pf00ca0ee67)" style="fill: #2a7bb1; fill-opacity: 0.08"/>
<path d="M 374.32 261.64  L 381.42 267.54  L 377.57 263.23  L 370.82 257.73  z
" clip-path="url(#pf00ca0ee67)" style="fill: #2a7bb1; fill-opacity: 0.08"/>
<path d="M 271.31 235.08  L 266.16 236.42  L 260.83 238.26  L 266.83 236.63  z
" clip-path="url(#pf00ca0ee67)" style="fill: #2c81b9; fill-opacity: 0.08"/>
<path d="M 330.77 236.63  L 336.77 238.26  L 331.44 236.42  L 326.29 235.08  z
" clip-path="url(#pf00ca0ee67)" style="fill: #2c81b9; fill-opacity: 0.08"/>
<path d="M 390.83 278.92  L 397.35 286.37  L 394.44 281.13  L 388.13 274.04  z
" clip-path="url(#pf00ca0ee67)" style="fill: #2976ab; fill-opacity: 0.08"/>
<path d="M 209.47 274.04  L 203.16 281.13  L 200.25 286.37  L 206.77 278.92  z
" clip-path="url(#pf00ca0ee67)" style="fill: #2976ab; fill-opacity: 0.08"/>
<path d="M 164.57 377.05  L 162.73 388.09  L 165.51 395.96  L 167.32 384.76  z
" clip-path="url(#pf00ca0ee67)" style="fill: #205d86; fill-opacity: 0.08"/>
<path d="M 430.28 384.76  L 432.09 395.96  L 434.87 388.09  L 433.03 377.05  z
" clip-path="url(#pf00ca0ee67)" style="fill: #205d86; fill-opacity: 0.08"/>
<path d="M 312.73 232.62  L 316.05 232.74  L 310.46 231.99  L 308.22 232.02  z
" clip-path="url(#pf00ca0ee67)" style="fill: #2c82bb; fill-opacity: 0.08"/>
<path d="M 289.38 232.02  L 287.14 231.99  L 281.55 232.74  L 284.87 232.62  z
" clip-path="url(#pf00ca0ee67)" style="fill: #2c82bb; fill-opacity: 0.08"/>
<path d="M 163.65 418.43  L 163.6 429.6  L 168.79 437.57  L 168.84 426.34  z
" clip-path="url(#pf00ca0ee67)" style="fill: #1c5378; fill-opacity: 0.08"/>
<path d="M 428.76 426.34  L 428.81 437.57  L 434 429.6  L 433.95 418.43  z
" clip-path="url(#pf00ca0ee67)" style="fill: #1c5378; fill-opacity: 0.08"/>
<path d="M 317.02 233.46  L 321.36 233.78  L 316.05 232.74  L 312.73 232.62  z
" clip-path="url(#pf00ca0ee67)" style="fill: #2c81ba; fill-opacity: 0.08"/>
<path d="M 284.87 232.62  L 281.55 232.74  L 276.24 233.78  L 280.58 233.46  z
" clip-path="url(#pf00ca0ee67)" style="fill: #2c81ba; fill-opacity: 0.08"/>
<path d="M 345.46 242.71  L 352.62 245.78  L 348.01 243.07  L 341.47 240.37  z
" clip-path="url(#pf00ca0ee67)" style="fill: #2b7eb6; fill-opacity: 0.08"/>
<path d="M 256.13 240.37  L 249.59 243.07  L 244.98 245.78  L 252.14 242.71  z
" clip-path="url(#pf00ca0ee67)" style="fill: #2b7eb6; fill-opacity: 0.08"/>
<path d="M 244.98 245.78  L 238.08 249.56  L 233.86 252.88  L 241.25 248.71  z
" clip-path="url(#pf00ca0ee67)" style="fill: #2b7db4; fill-opacity: 0.08"/>
<path d="M 356.35 248.71  L 363.74 252.88  L 359.52 249.56  L 352.62 245.78  z
" clip-path="url(#pf00ca0ee67)" style="fill: #2b7db4; fill-opacity: 0.08"/>
<path d="M 194.18 294.36  L 188.58 302.84  L 187.14 308.93  L 192.83 300.11  z
" clip-path="url(#pf00ca0ee67)" style="fill: #2771a2; fill-opacity: 0.08"/>
<path d="M 404.77 300.11  L 410.46 308.93  L 409.02 302.84  L 403.42 294.36  z
" clip-path="url(#pf00ca0ee67)" style="fill: #2771a2; fill-opacity: 0.08"/>
<path d="M 419.88 334.61  L 424.02 344.87  L 424.46 337.8  L 420.33 327.82  z
" clip-path="url(#pf00ca0ee67)" style="fill: #246896; fill-opacity: 0.08"/>
<path d="M 177.27 327.82  L 173.14 337.8  L 173.58 344.87  L 177.72 334.61  z
" clip-path="url(#pf00ca0ee67)" style="fill: #246896; fill-opacity: 0.08"/>
<path d="M 334.72 238.4  L 341.47 240.37  L 336.77 238.26  L 330.77 236.63  z
" clip-path="url(#pf00ca0ee67)" style="fill: #2b7fb7; fill-opacity: 0.08"/>
<path d="M 266.83 236.63  L 260.83 238.26  L 256.13 240.37  L 262.88 238.4  z
" clip-path="url(#pf00ca0ee67)" style="fill: #2b7fb7; fill-opacity: 0.08"/>
<path d="M 321 234.51  L 326.29 235.08  L 321.36 233.78  L 317.02 233.46  z
" clip-path="url(#pf00ca0ee67)" style="fill: #2c80b8; fill-opacity: 0.08"/>
<path d="M 280.58 233.46  L 276.24 233.78  L 271.31 235.08  L 276.6 234.51  z
" clip-path="url(#pf00ca0ee67)" style="fill: #2c80b8; fill-opacity: 0.08"/>
<path d="M 383.89 272.02  L 390.83 278.92  L 388.13 274.04  L 381.42 267.54  z
" clip-path="url(#pf00ca0ee67)" style="fill: #2977ab; fill-opacity: 0.08"/>
<path d="M 216.18 267.54  L 209.47 274.04  L 206.77 278.92  L 213.71 272.02  z
" clip-path="url(#pf00ca0ee67)" style="fill: #2977ab; fill-opacity: 0.08"/>
<path d="M 366.88 256.39  L 374.32 261.64  L 370.82 257.73  L 363.74 252.88  z
" clip-path="url(#pf00ca0ee67)" style="fill: #2a7ab0; fill-opacity: 0.08"/>
<path d="M 233.86 252.88  L 226.78 257.73  L 223.28 261.64  L 230.72 256.39  z
" clip-path="url(#pf00ca0ee67)" style="fill: #2a7ab0; fill-opacity: 0.08"/>
<path d="M 427.89 373.64  L 430.28 384.76  L 433.03 377.05  L 430.6 366.14  z
" clip-path="url(#pf00ca0ee67)" style="fill: #205f88; fill-opacity: 0.08"/>
<path d="M 167 366.14  L 164.57 377.05  L 167.32 384.76  L 169.71 373.64  z
" clip-path="url(#pf00ca0ee67)" style="fill: #205f88; fill-opacity: 0.08"/>
<path d="M 428.14 415.01  L 428.76 426.34  L 433.95 418.43  L 433.32 407.2  z
" clip-path="url(#pf00ca0ee67)" style="fill: #1d547a; fill-opacity: 0.08"/>
<path d="M 164.28 407.2  L 163.65 418.43  L 168.84 426.34  L 169.46 415.01  z
" clip-path="url(#pf00ca0ee67)" style="fill: #1d547a; fill-opacity: 0.08"/>
<path d="M 398.6 291.76  L 404.77 300.11  L 403.42 294.36  L 397.35 286.37  z
" clip-path="url(#pf00ca0ee67)" style="fill: #2771a3; fill-opacity: 0.08"/>
<path d="M 200.25 286.37  L 194.18 294.36  L 192.83 300.11  L 199 291.76  z
" clip-path="url(#pf00ca0ee67)" style="fill: #2771a3; fill-opacity: 0.08"/>
<path d="M 324.61 235.76  L 330.77 236.63  L 326.29 235.08  L 321 234.51  z
" clip-path="url(#pf00ca0ee67)" style="fill: #2b7fb7; fill-opacity: 0.08"/>
<path d="M 276.6 234.51  L 271.31 235.08  L 266.83 236.63  L 272.99 235.76  z
" clip-path="url(#pf00ca0ee67)" style="fill: #2b7fb7; fill-opacity: 0.08"/>
<path d="M 415.2 324.67  L 419.88 334.61  L 420.33 327.82  L 415.66 318.18  z
" clip-path="url(#pf00ca0ee67)" style="fill: #246998; fill-opacity: 0.08"/>
<path d="M 181.94 318.18  L 177.27 327.82  L 177.72 334.61  L 182.4 324.67  z
" clip-path="url(#pf00ca0ee67)" style="fill: #246998; fill-opacity: 0.08"/>
<path d="M 302.39 232.56  L 303.55 231.65  L 298.8 231.53  L 298.8 232.46  z
" clip-path="url(#pf00ca0ee67)" style="fill: #2c7fb8; fill-opacity: 0.08"/>
<path d="M 298.8 232.46  L 298.8 231.53  L 294.05 231.65  L 295.21 232.56  z
" clip-path="url(#pf00ca0ee67)" style="fill: #2c7fb8; fill-opacity: 0.08"/>
<path d="M 295.21 232.56  L 294.05 231.65  L 289.38 232.02  L 291.68 232.84  z
" clip-path="url(#pf00ca0ee67)" style="fill: #2c7fb7; fill-opacity: 0.08"/>
<path d="M 305.92 232.84  L 308.22 232.02  L 303.55 231.65  L 302.39 232.56  z
" clip-path="url(#pf00ca0ee67)" style="fill: #2c7fb7; fill-opacity: 0.08"/>
<path d="M 348.68 245.24  L 356.35 248.71  L 352.62 245.78  L 345.46 242.71  z
" clip-path="url(#pf00ca0ee67)" style="fill: #2a7cb3; fill-opacity: 0.08"/>
<path d="M 252.14 242.71  L 244.98 245.78  L 241.25 248.71  L 248.92 245.24  z
" clip-path="url(#pf00ca0ee67)" style="fill: #2a7cb3; fill-opacity: 0.08"/>
<path d="M 338.07 240.37  L 345.46 242.71  L 341.47 240.37  L 334.72 238.4  z
" clip-path="url(#pf00ca0ee67)" style="fill: #2b7db4; fill-opacity: 0.08"/>
<path d="M 262.88 238.4  L 256.13 240.37  L 252.14 242.71  L 259.53 240.37  z
" clip-path="url(#pf00ca0ee67)" style="fill: #2b7db4; fill-opacity: 0.08"/>
<path d="M 376.56 265.73  L 383.89 272.02  L 381.42 267.54  L 374.32 261.64  z
" clip-path="url(#pf00ca0ee67)" style="fill: #2977ab; fill-opacity: 0.08"/>
<path d="M 223.28 261.64  L 216.18 267.54  L 213.71 272.02  L 221.04 265.73  z
" clip-path="url(#pf00ca0ee67)" style="fill: #2977ab; fill-opacity: 0.08"/>
<path d="M 309.33 233.29  L 312.73 232.62  L 308.22 232.02  L 305.92 232.84  z
" clip-path="url(#pf00ca0ee67)" style="fill: #2b7fb7; fill-opacity: 0.08"/>
<path d="M 291.68 232.84  L 289.38 232.02  L 284.87 232.62  L 288.27 233.29  z
" clip-path="url(#pf00ca0ee67)" style="fill: #2b7fb7; fill-opacity: 0.08"/>
<path d="M 424.93 362.67  L 427.89 373.64  L 430.6 366.14  L 427.59 355.39  z
" clip-path="url(#pf00ca0ee67)" style="fill: #21608a; fill-opacity: 0.08"/>
<path d="M 170.01 355.39  L 167 366.14  L 169.71 373.64  L 172.67 362.67  z
" clip-path="url(#pf00ca0ee67)" style="fill: #21608a; fill-opacity: 0.08"/>
<path d="M 359.11 251.81  L 366.88 256.39  L 363.74 252.88  L 356.35 248.71  z
" clip-path="url(#pf00ca0ee67)" style="fill: #2a7ab0; fill-opacity: 0.08"/>
<path d="M 241.25 248.71  L 233.86 252.88  L 230.72 256.39  L 238.49 251.81  z
" clip-path="url(#pf00ca0ee67)" style="fill: #2a7ab0; fill-opacity: 0.08"/>
<path d="M 312.57 233.93  L 317.02 233.46  L 312.73 232.62  L 309.33 233.29  z
" clip-path="url(#pf00ca0ee67)" style="fill: #2b7eb6; fill-opacity: 0.08"/>
<path d="M 288.27 233.29  L 284.87 232.62  L 280.58 233.46  L 285.03 233.93  z
" clip-path="url(#pf00ca0ee67)" style="fill: #2b7eb6; fill-opacity: 0.08"/>
<path d="M 327.79 237.19  L 334.72 238.4  L 330.77 236.63  L 324.61 235.76  z
" clip-path="url(#pf00ca0ee67)" style="fill: #2b7db5; fill-opacity: 0.08"/>
<path d="M 272.99 235.76  L 266.83 236.63  L 262.88 238.4  L 269.81 237.19  z
" clip-path="url(#pf00ca0ee67)" style="fill: #2b7db5; fill-opacity: 0.08"/>
<path d="M 391.97 283.91  L 398.6 291.76  L 397.35 286.37  L 390.83 278.92  z
" clip-path="url(#pf00ca0ee67)" style="fill: #2772a4; fill-opacity: 0.08"/>
<path d="M 206.77 278.92  L 200.25 286.37  L 199 291.76  L 205.63 283.91  z
" clip-path="url(#pf00ca0ee67)" style="fill: #2772a4; fill-opacity: 0.08"/>
<path d="M 426.96 403.64  L 428.14 415.01  L 433.32 407.2  L 432.09 395.96  z
" clip-path="url(#pf00ca0ee67)" style="fill: #1d567c; fill-opacity: 0.08"/>
<path d="M 165.51 395.96  L 164.28 407.2  L 169.46 415.01  L 170.64 403.64  z
" clip-path="url(#pf00ca0ee67)" style="fill: #1d567c; fill-opacity: 0.08"/>
<path d="M 410.01 315.08  L 415.2 324.67  L 415.66 318.18  L 410.46 308.93  z
" clip-path="url(#pf00ca0ee67)" style="fill: #246a99; fill-opacity: 0.08"/>
<path d="M 187.14 308.93  L 181.94 318.18  L 182.4 324.67  L 187.59 315.08  z
" clip-path="url(#pf00ca0ee67)" style="fill: #246a99; fill-opacity: 0.08"/>
<path d="M 315.58 234.72  L 321 234.51  L 317.02 233.46  L 312.57 233.93  z
" clip-path="url(#pf00ca0ee67)" style="fill: #2b7eb5; fill-opacity: 0.08"/>
<path d="M 285.03 233.93  L 280.58 233.46  L 276.6 234.51  L 282.02 234.72  z
" clip-path="url(#pf00ca0ee67)" style="fill: #2b7eb5; fill-opacity: 0.08"/>
<path d="M 368.87 260.06  L 376.56 265.73  L 374.32 261.64  L 366.88 256.39  z
" clip-path="url(#pf00ca0ee67)" style="fill: #2977ab; fill-opacity: 0.08"/>
<path d="M 230.72 256.39  L 223.28 261.64  L 221.04 265.73  L 228.73 260.06  z
" clip-path="url(#pf00ca0ee67)" style="fill: #2977ab; fill-opacity: 0.08"/>
<path d="M 340.77 242.5  L 348.68 245.24  L 345.46 242.71  L 338.07 240.37  z
" clip-path="url(#pf00ca0ee67)" style="fill: #2a7bb2; fill-opacity: 0.08"/>
<path d="M 259.53 240.37  L 252.14 242.71  L 248.92 245.24  L 256.83 242.5  z
" clip-path="url(#pf00ca0ee67)" style="fill: #2a7bb2; fill-opacity: 0.08"/>
<path d="M 421.4 351.89  L 424.93 362.67  L 427.59 355.39  L 424.02 344.87  z
" clip-path="url(#pf00ca0ee67)" style="fill: #21618c; fill-opacity: 0.08"/>
<path d="M 173.58 344.87  L 170.01 355.39  L 172.67 362.67  L 176.2 351.89  z
" clip-path="url(#pf00ca0ee67)" style="fill: #21618c; fill-opacity: 0.08"/>
<path d="M 351.06 247.92  L 359.11 251.81  L 356.35 248.71  L 348.68 245.24  z
" clip-path="url(#pf00ca0ee67)" style="fill: #2a7aaf; fill-opacity: 0.08"/>
<path d="M 248.92 245.24  L 241.25 248.71  L 238.49 251.81  L 246.54 247.92  z
" clip-path="url(#pf00ca0ee67)" style="fill: #2a7aaf; fill-opacity: 0.08"/>
<path d="M 330.48 238.78  L 338.07 240.37  L 334.72 238.4  L 327.79 237.19  z
" clip-path="url(#pf00ca0ee67)" style="fill: #2a7cb2; fill-opacity: 0.08"/>
<path d="M 269.81 237.19  L 262.88 238.4  L 259.53 240.37  L 267.12 238.78  z
" clip-path="url(#pf00ca0ee67)" style="fill: #2a7cb2; fill-opacity: 0.08"/>
<path d="M 318.3 235.67  L 324.61 235.76  L 321 234.51  L 315.58 234.72  z
" clip-path="url(#pf00ca0ee67)" style="fill: #2b7db4; fill-opacity: 0.08"/>
<path d="M 282.02 234.72  L 276.6 234.51  L 272.99 235.76  L 279.3 235.67  z
" clip-path="url(#pf00ca0ee67)" style="fill: #2b7db4; fill-opacity: 0.08"/>
<path d="M 384.92 276.62  L 391.97 283.91  L 390.83 278.92  L 383.89 272.02  z
" clip-path="url(#pf00ca0ee67)" style="fill: #2773a5; fill-opacity: 0.08"/>
<path d="M 213.71 272.02  L 206.77 278.92  L 205.63 283.91  L 212.68 276.62  z
" clip-path="url(#pf00ca0ee67)" style="fill: #2773a5; fill-opacity: 0.08"/>
<path d="M 404.31 305.91  L 410.01 315.08  L 410.46 308.93  L 404.77 300.11  z
" clip-path="url(#pf00ca0ee67)" style="fill: #256b9b; fill-opacity: 0.08"/>
<path d="M 192.83 300.11  L 187.14 308.93  L 187.59 315.08  L 193.29 305.91  z
" clip-path="url(#pf00ca0ee67)" style="fill: #256b9b; fill-opacity: 0.08"/>
<path d="M 425.21 392.27  L 426.96 403.64  L 432.09 395.96  L 430.28 384.76  z
" clip-path="url(#pf00ca0ee67)" style="fill: #1e577e; fill-opacity: 0.08"/>
<path d="M 167.32 384.76  L 165.51 395.96  L 170.64 403.64  L 172.39 392.27  z
" clip-path="url(#pf00ca0ee67)" style="fill: #1e577e; fill-opacity: 0.08"/>
<path d="M 421.24 433.9  L 421.29 445.19  L 428.81 437.57  L 428.76 426.34  z
" clip-path="url(#pf00ca0ee67)" style="fill: #1a4d6f; fill-opacity: 0.08"/>
<path d="M 168.84 426.34  L 168.79 437.57  L 176.31 445.19  L 176.36 433.9  z
" clip-path="url(#pf00ca0ee67)" style="fill: #1a4d6f; fill-opacity: 0.08"/>
<path d="M 301.21 234.26  L 302.39 232.56  L 298.8 232.46  L 298.8 234.2  z
" clip-path="url(#pf00ca0ee67)" style="fill: #2b7cb3; fill-opacity: 0.08"/>
<path d="M 298.8 234.2  L 298.8 232.46  L 295.21 232.56  L 296.39 234.26  z
" clip-path="url(#pf00ca0ee67)" style="fill: #2b7cb3; fill-opacity: 0.08"/>
<path d="M 303.58 234.45  L 305.92 232.84  L 302.39 232.56  L 301.21 234.26  z
" clip-path="url(#pf00ca0ee67)" style="fill: #2b7cb3; fill-opacity: 0.08"/>
<path d="M 296.39 234.26  L 295.21 232.56  L 291.68 232.84  L 294.02 234.45  z
" clip-path="url(#pf00ca0ee67)" style="fill: #2b7cb3; fill-opacity: 0.08"/>
<path d="M 360.86 255.05  L 368.87 260.06  L 366.88 256.39  L 359.11 251.81  z
" clip-path="url(#pf00ca0ee67)" style="fill: #2977ac; fill-opacity: 0.08"/>
<path d="M 238.49 251.81  L 230.72 256.39  L 228.73 260.06  L 236.74 255.05  z
" clip-path="url(#pf00ca0ee67)" style="fill: #2977ac; fill-opacity: 0.08"/>
<path d="M 320.7 236.75  L 327.79 237.19  L 324.61 235.76  L 318.3 235.67  z
" clip-path="url(#pf00ca0ee67)" style="fill: #2a7cb2; fill-opacity: 0.08"/>
<path d="M 279.3 235.67  L 272.99 235.76  L 269.81 237.19  L 276.9 236.75  z
" clip-path="url(#pf00ca0ee67)" style="fill: #2a7cb2; fill-opacity: 0.08"/>
<path d="M 417.33 341.35  L 421.4 351.89  L 424.02 344.87  L 419.88 334.61  z
" clip-path="url(#pf00ca0ee67)" style="fill: #22638e; fill-opacity: 0.08"/>
<path d="M 177.72 334.61  L 173.58 344.87  L 176.2 351.89  L 180.27 341.35  z
" clip-path="url(#pf00ca0ee67)" style="fill: #22638e; fill-opacity: 0.08"/>
<path d="M 305.87 234.76  L 309.33 233.29  L 305.92 232.84  L 303.58 234.45  z
" clip-path="url(#pf00ca0ee67)" style="fill: #2a7cb3; fill-opacity: 0.08"/>
<path d="M 294.02 234.45  L 291.68 232.84  L 288.27 233.29  L 291.73 234.76  z
" clip-path="url(#pf00ca0ee67)" style="fill: #2a7cb3; fill-opacity: 0.08"/>
<path d="M 377.48 269.9  L 384.92 276.62  L 383.89 272.02  L 376.56 265.73  z
" clip-path="url(#pf00ca0ee67)" style="fill: #2773a6; fill-opacity: 0.08"/>
<path d="M 221.04 265.73  L 213.71 272.02  L 212.68 276.62  L 220.12 269.9  z
" clip-path="url(#pf00ca0ee67)" style="fill: #2773a6; fill-opacity: 0.08"/>
<path d="M 332.64 240.49  L 340.77 242.5  L 338.07 240.37  L 330.48 238.78  z
" clip-path="url(#pf00ca0ee67)" style="fill: #2a7ab0; fill-opacity: 0.08"/>
<path d="M 267.12 238.78  L 259.53 240.37  L 256.83 242.5  L 264.96 240.49  z
" clip-path="url(#pf00ca0ee67)" style="fill: #2a7ab0; fill-opacity: 0.08"/>
<path d="M 308.04 235.18  L 312.57 233.93  L 309.33 233.29  L 305.87 234.76  z
" clip-path="url(#pf00ca0ee67)" style="fill: #2a7cb2; fill-opacity: 0.08"/>
<path d="M 291.73 234.76  L 288.27 233.29  L 285.03 233.93  L 289.56 235.18  z
" clip-path="url(#pf00ca0ee67)" style="fill: #2a7cb2; fill-opacity: 0.08"/>
<path d="M 342.75 244.75  L 351.06 247.92  L 348.68 245.24  L 340.77 242.5  z
" clip-path="url(#pf00ca0ee67)" style="fill: #2979ae; fill-opacity: 0.08"/>
<path d="M 256.83 242.5  L 248.92 245.24  L 246.54 247.92  L 254.85 244.75  z
" clip-path="url(#pf00ca0ee67)" style="fill: #2979ae; fill-opacity: 0.08"/>
<path d="M 199 291.76  L 192.83 300.11  L 193.29 305.91  L 199.46 297.18  z
" clip-path="url(#pf00ca0ee67)" style="fill: #256d9c; fill-opacity: 0.08"/>
<path d="M 398.14 297.18  L 404.31 305.91  L 404.77 300.11  L 398.6 291.76  z
" clip-path="url(#pf00ca0ee67)" style="fill: #256d9c; fill-opacity: 0.08"/>
<path d="M 422.9 380.96  L 425.21 392.27  L 430.28 384.76  L 427.89 373.64  z
" clip-path="url(#pf00ca0ee67)" style="fill: #1e5980; fill-opacity: 0.08"/>
<path d="M 169.71 373.64  L 167.32 384.76  L 172.39 392.27  L 174.7 380.96  z
" clip-path="url(#pf00ca0ee67)" style="fill: #1e5980; fill-opacity: 0.08"/>
<path d="M 310.05 235.71  L 315.58 234.72  L 312.57 233.93  L 308.04 235.18  z
" clip-path="url(#pf00ca0ee67)" style="fill: #2a7bb1; fill-opacity: 0.08"/>
<path d="M 289.56 235.18  L 285.03 233.93  L 282.02 234.72  L 287.55 235.71  z
" clip-path="url(#pf00ca0ee67)" style="fill: #2a7bb1; fill-opacity: 0.08"/>
<path d="M 322.72 237.94  L 330.48 238.78  L 327.79 237.19  L 320.7 236.75  z
" clip-path="url(#pf00ca0ee67)" style="fill: #2a7ab0; fill-opacity: 0.08"/>
<path d="M 276.9 236.75  L 269.81 237.19  L 267.12 238.78  L 274.88 237.94  z
" clip-path="url(#pf00ca0ee67)" style="fill: #2a7ab0; fill-opacity: 0.08"/>
<path d="M 352.55 250.72  L 360.86 255.05  L 359.11 251.81  L 351.06 247.92  z
" clip-path="url(#pf00ca0ee67)" style="fill: #2977ab; fill-opacity: 0.08"/>
<path d="M 246.54 247.92  L 238.49 251.81  L 236.74 255.05  L 245.05 250.72  z
" clip-path="url(#pf00ca0ee67)" style="fill: #2977ab; fill-opacity: 0.08"/>
<path d="M 412.73 331.1  L 417.33 341.35  L 419.88 334.61  L 415.2 324.67  z
" clip-path="url(#pf00ca0ee67)" style="fill: #226490; fill-opacity: 0.08"/>
<path d="M 182.4 324.67  L 177.72 334.61  L 180.27 341.35  L 184.87 331.1  z
" clip-path="url(#pf00ca0ee67)" style="fill: #226490; fill-opacity: 0.08"/>
<path d="M 420.66 422.48  L 421.24 433.9  L 428.76 426.34  L 428.14 415.01  z
" clip-path="url(#pf00ca0ee67)" style="fill: #1b4e71; fill-opacity: 0.08"/>
<path d="M 169.46 415.01  L 168.84 426.34  L 176.36 433.9  L 176.94 422.48  z
" clip-path="url(#pf00ca0ee67)" style="fill: #1b4e71; fill-opacity: 0.08"/>
<path d="M 311.88 236.35  L 318.3 235.67  L 315.58 234.72  L 310.05 235.71  z
" clip-path="url(#pf00ca0ee67)" style="fill: #2a7ab0; fill-opacity: 0.08"/>
<path d="M 287.55 235.71  L 282.02 234.72  L 279.3 235.67  L 285.72 236.35  z
" clip-path="url(#pf00ca0ee67)" style="fill: #2a7ab0; fill-opacity: 0.08"/>
<path d="M 369.68 263.81  L 377.48 269.9  L 376.56 265.73  L 368.87 260.06  z
" clip-path="url(#pf00ca0ee67)" style="fill: #2874a7; fill-opacity: 0.08"/>
<path d="M 228.73 260.06  L 221.04 265.73  L 220.12 269.9  L 227.92 263.81  z
" clip-path="url(#pf00ca0ee67)" style="fill: #2874a7; fill-opacity: 0.08"/>
<path d="M 391.52 288.95  L 398.14 297.18  L 398.6 291.76  L 391.97 283.91  z
" clip-path="url(#pf00ca0ee67)" style="fill: #256d9e; fill-opacity: 0.08"/>
<path d="M 205.63 283.91  L 199 291.76  L 199.46 297.18  L 206.08 288.95  z
" clip-path="url(#pf00ca0ee67)" style="fill: #256d9e; fill-opacity: 0.08"/>
<path d="M 334.23 242.3  L 342.75 244.75  L 340.77 242.5  L 332.64 240.49  z
" clip-path="url(#pf00ca0ee67)" style="fill: #2978ae; fill-opacity: 0.08"/>
<path d="M 264.96 240.49  L 256.83 242.5  L 254.85 244.75  L 263.37 242.3  z
" clip-path="url(#pf00ca0ee67)" style="fill: #2978ae; fill-opacity: 0.08"/>
<path d="M 324.35 239.23  L 332.64 240.49  L 330.48 238.78  L 322.72 237.94  z
" clip-path="url(#pf00ca0ee67)" style="fill: #2979af; fill-opacity: 0.08"/>
<path d="M 274.88 237.94  L 267.12 238.78  L 264.96 240.49  L 273.25 239.23  z
" clip-path="url(#pf00ca0ee67)" style="fill: #2979af; fill-opacity: 0.08"/>
<path d="M 313.48 237.07  L 320.7 236.75  L 318.3 235.67  L 311.88 236.35  z
" clip-path="url(#pf00ca0ee67)" style="fill: #2a7aaf; fill-opacity: 0.08"/>
<path d="M 285.72 236.35  L 279.3 235.67  L 276.9 236.75  L 284.12 237.07  z
" clip-path="url(#pf00ca0ee67)" style="fill: #2a7aaf; fill-opacity: 0.08"/>
<path d="M 420.04 369.77  L 422.9 380.96  L 427.89 373.64  L 424.93 362.67  z
" clip-path="url(#pf00ca0ee67)" style="fill: #1f5a82; fill-opacity: 0.08"/>
<path d="M 172.67 362.67  L 169.71 373.64  L 174.7 380.96  L 177.56 369.77  z
" clip-path="url(#pf00ca0ee67)" style="fill: #1f5a82; fill-opacity: 0.08"/>
<path d="M 343.99 247.09  L 352.55 250.72  L 351.06 247.92  L 342.75 244.75  z
" clip-path="url(#pf00ca0ee67)" style="fill: #2977ab; fill-opacity: 0.08"/>
<path d="M 254.85 244.75  L 246.54 247.92  L 245.05 250.72  L 253.61 247.09  z
" clip-path="url(#pf00ca0ee67)" style="fill: #2977ab; fill-opacity: 0.08"/>
<path d="M 187.59 315.08  L 182.4 324.67  L 184.87 331.1  L 189.97 321.18  z
" clip-path="url(#pf00ca0ee67)" style="fill: #236592; fill-opacity: 0.08"/>
<path d="M 407.63 321.18  L 412.73 331.1  L 415.2 324.67  L 410.01 315.08  z
" clip-path="url(#pf00ca0ee67)" style="fill: #236592; fill-opacity: 0.08"/>
<path d="M 361.55 258.35  L 369.68 263.81  L 368.87 260.06  L 360.86 255.05  z
" clip-path="url(#pf00ca0ee67)" style="fill: #2874a7; fill-opacity: 0.08"/>
<path d="M 236.74 255.05  L 228.73 260.06  L 227.92 263.81  L 236.05 258.35  z
" clip-path="url(#pf00ca0ee67)" style="fill: #2874a7; fill-opacity: 0.08"/>
<path d="M 384.48 281.25  L 391.52 288.95  L 391.97 283.91  L 384.92 276.62  z
" clip-path="url(#pf00ca0ee67)" style="fill: #266e9f; fill-opacity: 0.08"/>
<path d="M 212.68 276.62  L 205.63 283.91  L 206.08 288.95  L 213.12 281.25  z
" clip-path="url(#pf00ca0ee67)" style="fill: #266e9f; fill-opacity: 0.08"/>
<path d="M 300.01 236.76  L 301.21 234.26  L 298.8 234.2  L 298.8 236.73  z
" clip-path="url(#pf00ca0ee67)" style="fill: #2a79af; fill-opacity: 0.08"/>
<path d="M 298.8 236.73  L 298.8 234.2  L 296.39 234.26  L 297.59 236.76  z
" clip-path="url(#pf00ca0ee67)" style="fill: #2a79af; fill-opacity: 0.08"/>
<path d="M 301.2 236.85  L 303.58 234.45  L 301.21 234.26  L 300.01 236.76  z
" clip-path="url(#pf00ca0ee67)" style="fill: #2979af; fill-opacity: 0.08"/>
<path d="M 297.59 236.76  L 296.39 234.26  L 294.02 234.45  L 296.4 236.85  z
" clip-path="url(#pf00ca0ee67)" style="fill: #2979af; fill-opacity: 0.08"/>
<path d="M 314.83 237.87  L 322.72 237.94  L 320.7 236.75  L 313.48 237.07  z
" clip-path="url(#pf00ca0ee67)" style="fill: #2979ae; fill-opacity: 0.08"/>
<path d="M 284.12 237.07  L 276.9 236.75  L 274.88 237.94  L 282.77 237.87  z
" clip-path="url(#pf00ca0ee67)" style="fill: #2979ae; fill-opacity: 0.08"/>
<path d="M 419.54 410.98  L 420.66 422.48  L 428.14 415.01  L 426.96 403.64  z
" clip-path="url(#pf00ca0ee67)" style="fill: #1b5073; fill-opacity: 0.08"/>
<path d="M 170.64 403.64  L 169.46 415.01  L 176.94 422.48  L 178.06 410.98  z
" clip-path="url(#pf00ca0ee67)" style="fill: #1b5073; fill-opacity: 0.08"/>
<path d="M 302.35 237.01  L 305.87 234.76  L 303.58 234.45  L 301.2 236.85  z
" clip-path="url(#pf00ca0ee67)" style="fill: #2979ae; fill-opacity: 0.08"/>
<path d="M 296.4 236.85  L 294.02 234.45  L 291.73 234.76  L 295.25 237.01  z
" clip-path="url(#pf00ca0ee67)" style="fill: #2979ae; fill-opacity: 0.08"/>
<path d="M 303.44 237.22  L 308.04 235.18  L 305.87 234.76  L 302.35 237.01  z
" clip-path="url(#pf00ca0ee67)" style="fill: #2979ae; fill-opacity: 0.08"/>
<path d="M 295.25 237.01  L 291.73 234.76  L 289.56 235.18  L 294.16 237.22  z
" clip-path="url(#pf00ca0ee67)" style="fill: #2979ae; fill-opacity: 0.08"/>
<path d="M 325.54 240.6  L 334.23 242.3  L 332.64 240.49  L 324.35 239.23  z
" clip-path="url(#pf00ca0ee67)" style="fill: #2978ad; fill-opacity: 0.08"/>
<path d="M 273.25 239.23  L 264.96 240.49  L 263.37 242.3  L 272.06 240.6  z
" clip-path="url(#pf00ca0ee67)" style="fill: #2978ad; fill-opacity: 0.08"/>
<path d="M 304.45 237.49  L 310.05 235.71  L 308.04 235.18  L 303.44 237.22  z
" clip-path="url(#pf00ca0ee67)" style="fill: #2979ae; fill-opacity: 0.08"/>
<path d="M 294.16 237.22  L 289.56 235.18  L 287.55 235.71  L 293.15 237.49  z
" clip-path="url(#pf00ca0ee67)" style="fill: #2979ae; fill-opacity: 0.08"/>
<path d="M 335.22 244.19  L 343.99 247.09  L 342.75 244.75  L 334.23 242.3  z
" clip-path="url(#pf00ca0ee67)" style="fill: #2977ab; fill-opacity: 0.08"/>
<path d="M 263.37 242.3  L 254.85 244.75  L 253.61 247.09  L 262.38 244.19  z
" clip-path="url(#pf00ca0ee67)" style="fill: #2977ab; fill-opacity: 0.08"/>
<path d="M 353.13 253.57  L 361.55 258.35  L 360.86 255.05  L 352.55 250.72  z
" clip-path="url(#pf00ca0ee67)" style="fill: #2874a8; fill-opacity: 0.08"/>
<path d="M 245.05 250.72  L 236.74 255.05  L 236.05 258.35  L 244.47 253.57  z
" clip-path="url(#pf00ca0ee67)" style="fill: #2874a8; fill-opacity: 0.08"/>
<path d="M 402.03 311.66  L 407.63 321.18  L 410.01 315.08  L 404.31 305.91  z
" clip-path="url(#pf00ca0ee67)" style="fill: #236694; fill-opacity: 0.08"/>
<path d="M 193.29 305.91  L 187.59 315.08  L 189.97 321.18  L 195.57 311.66  z
" clip-path="url(#pf00ca0ee67)" style="fill: #236694; fill-opacity: 0.08"/>
<path d="M 416.63 358.73  L 420.04 369.77  L 424.93 362.67  L 421.4 351.89  z
" clip-path="url(#pf00ca0ee67)" style="fill: #1f5b84; fill-opacity: 0.08"/>
<path d="M 176.2 351.89  L 172.67 362.67  L 177.56 369.77  L 180.97 358.73  z
" clip-path="url(#pf00ca0ee67)" style="fill: #1f5b84; fill-opacity: 0.08"/>
<path d="M 377.05 274.11  L 384.48 281.25  L 384.92 276.62  L 377.48 269.9  z
" clip-path="url(#pf00ca0ee67)" style="fill: #266fa0; fill-opacity: 0.08"/>
<path d="M 220.12 269.9  L 212.68 276.62  L 213.12 281.25  L 220.55 274.11  z
" clip-path="url(#pf00ca0ee67)" style="fill: #266fa0; fill-opacity: 0.08"/>
<path d="M 315.92 238.74  L 324.35 239.23  L 322.72 237.94  L 314.83 237.87  z
" clip-path="url(#pf00ca0ee67)" style="fill: #2978ad; fill-opacity: 0.08"/>
<path d="M 282.77 237.87  L 274.88 237.94  L 273.25 239.23  L 281.68 238.74  z
" clip-path="url(#pf00ca0ee67)" style="fill: #2978ad; fill-opacity: 0.08"/>
<path d="M 305.37 237.81  L 311.88 236.35  L 310.05 235.71  L 304.45 237.49  z
" clip-path="url(#pf00ca0ee67)" style="fill: #2978ad; fill-opacity: 0.08"/>
<path d="M 293.15 237.49  L 287.55 235.71  L 285.72 236.35  L 292.23 237.81  z
" clip-path="url(#pf00ca0ee67)" style="fill: #2978ad; fill-opacity: 0.08"/>
<path d="M 306.17 238.17  L 313.48 237.07  L 311.88 236.35  L 305.37 237.81  z
" clip-path="url(#pf00ca0ee67)" style="fill: #2978ac; fill-opacity: 0.08"/>
<path d="M 292.23 237.81  L 285.72 236.35  L 284.12 237.07  L 291.43 238.17  z
" clip-path="url(#pf00ca0ee67)" style="fill: #2978ac; fill-opacity: 0.08"/>
<path d="M 344.47 249.48  L 353.13 253.57  L 352.55 250.72  L 343.99 247.09  z
" clip-path="url(#pf00ca0ee67)" style="fill: #2875a8; fill-opacity: 0.08"/>
<path d="M 253.61 247.09  L 245.05 250.72  L 244.47 253.57  L 253.13 249.48  z
" clip-path="url(#pf00ca0ee67)" style="fill: #2875a8; fill-opacity: 0.08"/>
<path d="M 417.88 399.46  L 419.54 410.98  L 426.96 403.64  L 425.21 392.27  z
" clip-path="url(#pf00ca0ee67)" style="fill: #1c5175; fill-opacity: 0.08"/>
<path d="M 172.39 392.27  L 170.64 403.64  L 178.06 410.98  L 179.72 399.46  z
" clip-path="url(#pf00ca0ee67)" style="fill: #1c5175; fill-opacity: 0.08"/>
<path d="M 369.27 267.58  L 377.05 274.11  L 377.48 269.9  L 369.68 263.81  z
" clip-path="url(#pf00ca0ee67)" style="fill: #2670a2; fill-opacity: 0.08"/>
<path d="M 227.92 263.81  L 220.12 269.9  L 220.55 274.11  L 228.33 267.58  z
" clip-path="url(#pf00ca0ee67)" style="fill: #2670a2; fill-opacity: 0.08"/>
<path d="M 411.5 440.99  L 411.54 452.33  L 421.29 445.19  L 421.24 433.9  z
" clip-path="url(#pf00ca0ee67)" style="fill: #184867; fill-opacity: 0.08"/>
<path d="M 176.36 433.9  L 176.31 445.19  L 186.06 452.33  L 186.1 440.99  z
" clip-path="url(#pf00ca0ee67)" style="fill: #184867; fill-opacity: 0.08"/>
<path d="M 326.27 242.02  L 335.22 244.19  L 334.23 242.3  L 325.54 240.6  z
" clip-path="url(#pf00ca0ee67)" style="fill: #2876aa; fill-opacity: 0.08"/>
<path d="M 272.06 240.6  L 263.37 242.3  L 262.38 244.19  L 271.33 242.02  z
" clip-path="url(#pf00ca0ee67)" style="fill: #2876aa; fill-opacity: 0.08"/>
<path d="M 316.71 239.66  L 325.54 240.6  L 324.35 239.23  L 315.92 238.74  z
" clip-path="url(#pf00ca0ee67)" style="fill: #2977ab; fill-opacity: 0.08"/>
<path d="M 281.68 238.74  L 273.25 239.23  L 272.06 240.6  L 280.89 239.66  z
" clip-path="url(#pf00ca0ee67)" style="fill: #2977ab; fill-opacity: 0.08"/>
<path d="M 395.97 302.56  L 402.03 311.66  L 404.31 305.91  L 398.14 297.18  z
" clip-path="url(#pf00ca0ee67)" style="fill: #236895; fill-opacity: 0.08"/>
<path d="M 199.46 297.18  L 193.29 305.91  L 195.57 311.66  L 201.63 302.56  z
" clip-path="url(#pf00ca0ee67)" style="fill: #236895; fill-opacity: 0.08"/>
<path d="M 306.85 238.58  L 314.83 237.87  L 313.48 237.07  L 306.17 238.17  z
" clip-path="url(#pf00ca0ee67)" style="fill: #2977ac; fill-opacity: 0.08"/>
<path d="M 291.43 238.17  L 284.12 237.07  L 282.77 237.87  L 290.75 238.58  z
" clip-path="url(#pf00ca0ee67)" style="fill: #2977ac; fill-opacity: 0.08"/>
<path d="M 180.27 341.35  L 176.2 351.89  L 180.97 358.73  L 184.89 347.92  z
" clip-path="url(#pf00ca0ee67)" style="fill: #205d86; fill-opacity: 0.08"/>
<path d="M 412.71 347.92  L 416.63 358.73  L 421.4 351.89  L 417.33 341.35  z
" clip-path="url(#pf00ca0ee67)" style="fill: #205d86; fill-opacity: 0.08"/>
<path d="M 307.39 239.01  L 315.92 238.74  L 314.83 237.87  L 306.85 238.58  z
" clip-path="url(#pf00ca0ee67)" style="fill: #2977ab; fill-opacity: 0.08"/>
<path d="M 290.75 238.58  L 282.77 237.87  L 281.68 238.74  L 290.21 239.01  z
" clip-path="url(#pf00ca0ee67)" style="fill: #2977ab; fill-opacity: 0.08"/>
<path d="M 335.59 246.11  L 344.47 249.48  L 343.99 247.09  L 335.22 244.19  z
" clip-path="url(#pf00ca0ee67)" style="fill: #2875a8; fill-opacity: 0.08"/>
<path d="M 262.38 244.19  L 253.61 247.09  L 253.13 249.48  L 262.01 246.11  z
" clip-path="url(#pf00ca0ee67)" style="fill: #2875a8; fill-opacity: 0.08"/>
<path d="M 236.05 258.35  L 227.92 263.81  L 228.33 267.58  L 236.43 261.67  z
" clip-path="url(#pf00ca0ee67)" style="fill: #2771a3; fill-opacity: 0.08"/>
<path d="M 361.17 261.67  L 369.27 267.58  L 369.68 263.81  L 361.55 258.35  z
" clip-path="url(#pf00ca0ee67)" style="fill: #2771a3; fill-opacity: 0.08"/>
<path d="M 280.89 239.66  L 272.06 240.6  L 271.33 242.02  L 280.41 240.6  z
" clip-path="url(#pf00ca0ee67)" style="fill: #2876aa; fill-opacity: 0.08"/>
<path d="M 317.19 240.6  L 326.27 242.02  L 325.54 240.6  L 316.71 239.66  z
" clip-path="url(#pf00ca0ee67)" style="fill: #2876aa; fill-opacity: 0.08"/>
<path d="M 389.47 293.93  L 395.97 302.56  L 398.14 297.18  L 391.52 288.95  z
" clip-path="url(#pf00ca0ee67)" style="fill: #246997; fill-opacity: 0.08"/>
<path d="M 206.08 288.95  L 199.46 297.18  L 201.63 302.56  L 208.13 293.93  z
" clip-path="url(#pf00ca0ee67)" style="fill: #246997; fill-opacity: 0.08"/>
<path d="M 307.78 239.47  L 316.71 239.66  L 315.92 238.74  L 307.39 239.01  z
" clip-path="url(#pf00ca0ee67)" style="fill: #2876aa; fill-opacity: 0.08"/>
<path d="M 290.21 239.01  L 281.68 238.74  L 280.89 239.66  L 289.82 239.47  z
" clip-path="url(#pf00ca0ee67)" style="fill: #2876aa; fill-opacity: 0.08"/>
<path d="M 298.8 240.05  L 300.01 236.76  L 298.8 236.73  L 298.8 240.05  z
" clip-path="url(#pf00ca0ee67)" style="fill: #2876aa; fill-opacity: 0.08"/>
<path d="M 298.8 240.05  L 298.8 236.73  L 297.59 236.76  L 298.8 240.05  z
" clip-path="url(#pf00ca0ee67)" style="fill: #2876aa; fill-opacity: 0.08"/>
<path d="M 298.8 240.05  L 301.2 236.85  L 300.01 236.76  L 298.8 240.05  z
" clip-path="url(#pf00ca0ee67)" style="fill: #2876aa; fill-opacity: 0.08"/>
<path d="M 298.8 240.05  L 297.59 236.76  L 296.4 236.85  L 298.8 240.05  z
" clip-path="url(#pf00ca0ee67)" style="fill: #2876aa; fill-opacity: 0.08"/>
<path d="M 326.54 243.47  L 335.59 246.11  L 335.22 244.19  L 326.27 242.02  z
" clip-path="url(#pf00ca0ee67)" style="fill: #2875a8; fill-opacity: 0.08"/>
<path d="M 271.33 242.02  L 262.38 244.19  L 262.01 246.11  L 271.06 243.47  z
" clip-path="url(#pf00ca0ee67)" style="fill: #2875a8; fill-opacity: 0.08"/>
<path d="M 298.8 240.05  L 302.35 237.01  L 301.2 236.85  L 298.8 240.05  z
" clip-path="url(#pf00ca0ee67)" style="fill: #2876aa; fill-opacity: 0.08"/>
<path d="M 298.8 240.05  L 296.4 236.85  L 295.25 237.01  L 298.8 240.05  z
" clip-path="url(#pf00ca0ee67)" style="fill: #2876aa; fill-opacity: 0.08"/>
<path d="M 352.79 256.43  L 361.17 261.67  L 361.55 258.35  L 353.13 253.57  z
" clip-path="url(#pf00ca0ee67)" style="fill: #2772a4; fill-opacity: 0.08"/>
<path d="M 244.47 253.57  L 236.05 258.35  L 236.43 261.67  L 244.81 256.43  z
" clip-path="url(#pf00ca0ee67)" style="fill: #2772a4; fill-opacity: 0.08"/>
<path d="M 298.8 240.05  L 303.44 237.22  L 302.35 237.01  L 298.8 240.05  z
" clip-path="url(#pf00ca0ee67)" style="fill: #2876aa; fill-opacity: 0.08"/>
<path d="M 298.8 240.05  L 295.25 237.01  L 294.16 237.22  L 298.8 240.05  z
" clip-path="url(#pf00ca0ee67)" style="fill: #2876aa; fill-opacity: 0.08"/>
<path d="M 415.69 387.97  L 417.88 399.46  L 425.21 392.27  L 422.9 380.96  z
" clip-path="url(#pf00ca0ee67)" style="fill: #1c5377; fill-opacity: 0.08"/>
<path d="M 174.7 380.96  L 172.39 392.27  L 179.72 399.46  L 181.91 387.97  z
" clip-path="url(#pf00ca0ee67)" style="fill: #1c5377; fill-opacity: 0.08"/>
<path d="M 184.87 331.1  L 180.27 341.35  L 184.89 347.92  L 189.33 337.36  z
" clip-path="url(#pf00ca0ee67)" style="fill: #205e88; fill-opacity: 0.08"/>
<path d="M 408.27 337.36  L 412.71 347.92  L 417.33 341.35  L 412.73 331.1  z
" clip-path="url(#pf00ca0ee67)" style="fill: #205e88; fill-opacity: 0.08"/>
<path d="M 298.8 240.05  L 294.16 237.22  L 293.15 237.49  L 298.8 240.05  z
" clip-path="url(#pf00ca0ee67)" style="fill: #2876aa; fill-opacity: 0.08"/>
<path d="M 298.8 240.05  L 304.45 237.49  L 303.44 237.22  L 298.8 240.05  z
" clip-path="url(#pf00ca0ee67)" style="fill: #2876aa; fill-opacity: 0.08"/>
<path d="M 298.8 240.05  L 305.37 237.81  L 304.45 237.49  L 298.8 240.05  z
" clip-path="url(#pf00ca0ee67)" style="fill: #2876aa; fill-opacity: 0.08"/>
<path d="M 298.8 240.05  L 293.15 237.49  L 292.23 237.81  L 298.8 240.05  z
" clip-path="url(#pf00ca0ee67)" style="fill: #2876aa; fill-opacity: 0.08"/>
<path d="M 308.02 239.95  L 317.19 240.6  L 316.71 239.66  L 307.78 239.47  z
" clip-path="url(#pf00ca0ee67)" style="fill: #2875a9; fill-opacity: 0.08"/>
<path d="M 289.82 239.47  L 280.89 239.66  L 280.41 240.6  L 289.58 239.95  z
" clip-path="url(#pf00ca0ee67)" style="fill: #2875a9; fill-opacity: 0.08"/>
<path d="M 298.8 240.05  L 292.23 237.81  L 291.43 238.17  L 298.8 240.05  z
" clip-path="url(#pf00ca0ee67)" style="fill: #2876a9; fill-opacity: 0.08"/>
<path d="M 298.8 240.05  L 306.17 238.17  L 305.37 237.81  L 298.8 240.05  z
" clip-path="url(#pf00ca0ee67)" style="fill: #2876a9; fill-opacity: 0.08"/>
<path d="M 410.96 429.48  L 411.5 440.99  L 421.24 433.9  L 420.66 422.48  z
" clip-path="url(#pf00ca0ee67)" style="fill: #194969; fill-opacity: 0.08"/>
<path d="M 176.94 422.48  L 176.36 433.9  L 186.1 440.99  L 186.64 429.48  z
" clip-path="url(#pf00ca0ee67)" style="fill: #194969; fill-opacity: 0.08"/>
<path d="M 382.56 285.83  L 389.47 293.93  L 391.52 288.95  L 384.48 281.25  z
" clip-path="url(#pf00ca0ee67)" style="fill: #246a99; fill-opacity: 0.08"/>
<path d="M 213.12 281.25  L 206.08 288.95  L 208.13 293.93  L 215.04 285.83  z
" clip-path="url(#pf00ca0ee67)" style="fill: #246a99; fill-opacity: 0.08"/>
<path d="M 317.37 241.57  L 326.54 243.47  L 326.27 242.02  L 317.19 240.6  z
" clip-path="url(#pf00ca0ee67)" style="fill: #2875a8; fill-opacity: 0.08"/>
<path d="M 280.41 240.6  L 271.33 242.02  L 271.06 243.47  L 280.23 241.57  z
" clip-path="url(#pf00ca0ee67)" style="fill: #2875a8; fill-opacity: 0.08"/>
<path d="M 298.8 240.05  L 306.85 238.58  L 306.17 238.17  L 298.8 240.05  z
" clip-path="url(#pf00ca0ee67)" style="fill: #2875a9; fill-opacity: 0.08"/>
<path d="M 298.8 240.05  L 291.43 238.17  L 290.75 238.58  L 298.8 240.05  z
" clip-path="url(#pf00ca0ee67)" style="fill: #2875a9; fill-opacity: 0.08"/>
<path d="M 344.16 251.88  L 352.79 256.43  L 353.13 253.57  L 344.47 249.48  z
" clip-path="url(#pf00ca0ee67)" style="fill: #2772a5; fill-opacity: 0.08"/>
<path d="M 253.13 249.48  L 244.47 253.57  L 244.81 256.43  L 253.44 251.88  z
" clip-path="url(#pf00ca0ee67)" style="fill: #2772a5; fill-opacity: 0.08"/>
<path d="M 298.8 240.05  L 307.39 239.01  L 306.85 238.58  L 298.8 240.05  z
" clip-path="url(#pf00ca0ee67)" style="fill: #2875a9; fill-opacity: 0.08"/>
<path d="M 298.8 240.05  L 290.75 238.58  L 290.21 239.01  L 298.8 240.05  z
" clip-path="url(#pf00ca0ee67)" style="fill: #2875a9; fill-opacity: 0.08"/>
<path d="M 298.8 240.05  L 307.78 239.47  L 307.39 239.01  L 298.8 240.05  z
" clip-path="url(#pf00ca0ee67)" style="fill: #2875a9; fill-opacity: 0.08"/>
<path d="M 298.8 240.05  L 290.21 239.01  L 289.82 239.47  L 298.8 240.05  z
" clip-path="url(#pf00ca0ee67)" style="fill: #2875a9; fill-opacity: 0.08"/>
<path d="M 308.1 240.43  L 317.37 241.57  L 317.19 240.6  L 308.02 239.95  z
" clip-path="url(#pf00ca0ee67)" style="fill: #2875a8; fill-opacity: 0.08"/>
<path d="M 289.58 239.95  L 280.41 240.6  L 280.23 241.57  L 289.5 240.43  z
" clip-path="url(#pf00ca0ee67)" style="fill: #2875a8; fill-opacity: 0.08"/>
<path d="M 335.33 248.04  L 344.16 251.88  L 344.47 249.48  L 335.59 246.11  z
" clip-path="url(#pf00ca0ee67)" style="fill: #2773a5; fill-opacity: 0.08"/>
<path d="M 262.01 246.11  L 253.13 249.48  L 253.44 251.88  L 262.27 248.04  z
" clip-path="url(#pf00ca0ee67)" style="fill: #2773a5; fill-opacity: 0.08"/>
<path d="M 298.8 240.05  L 308.02 239.95  L 307.78 239.47  L 298.8 240.05  z
" clip-path="url(#pf00ca0ee67)" style="fill: #2875a8; fill-opacity: 0.08"/>
<path d="M 298.8 240.05  L 289.82 239.47  L 289.58 239.95  L 298.8 240.05  z
" clip-path="url(#pf00ca0ee67)" style="fill: #2875a8; fill-opacity: 0.08"/>
<path d="M 375.28 278.27  L 382.56 285.83  L 384.48 281.25  L 377.05 274.11  z
" clip-path="url(#pf00ca0ee67)" style="fill: #256b9b; fill-opacity: 0.08"/>
<path d="M 220.55 274.11  L 213.12 281.25  L 215.04 285.83  L 222.32 278.27  z
" clip-path="url(#pf00ca0ee67)" style="fill: #256b9b; fill-opacity: 0.08"/>
<path d="M 403.34 327.13  L 408.27 337.36  L 412.73 331.1  L 407.63 321.18  z
" clip-path="url(#pf00ca0ee67)" style="fill: #21608a; fill-opacity: 0.08"/>
<path d="M 189.97 321.18  L 184.87 331.1  L 189.33 337.36  L 194.26 327.13  z
" clip-path="url(#pf00ca0ee67)" style="fill: #21608a; fill-opacity: 0.08"/>
<path d="M 298.8 240.05  L 308.1 240.43  L 308.02 239.95  L 298.8 240.05  z
" clip-path="url(#pf00ca0ee67)" style="fill: #2875a8; fill-opacity: 0.08"/>
<path d="M 298.8 240.05  L 289.58 239.95  L 289.5 240.43  L 298.8 240.05  z
" clip-path="url(#pf00ca0ee67)" style="fill: #2875a8; fill-opacity: 0.08"/>
<path d="M 326.34 244.92  L 335.33 248.04  L 335.59 246.11  L 326.54 243.47  z
" clip-path="url(#pf00ca0ee67)" style="fill: #2773a6; fill-opacity: 0.08"/>
<path d="M 271.06 243.47  L 262.01 246.11  L 262.27 248.04  L 271.26 244.92  z
" clip-path="url(#pf00ca0ee67)" style="fill: #2773a6; fill-opacity: 0.08"/>
<path d="M 412.98 376.56  L 415.69 387.97  L 422.9 380.96  L 420.04 369.77  z
" clip-path="url(#pf00ca0ee67)" style="fill: #1d5479; fill-opacity: 0.08"/>
<path d="M 177.56 369.77  L 174.7 380.96  L 181.91 387.97  L 184.62 376.56  z
" clip-path="url(#pf00ca0ee67)" style="fill: #1d5479; fill-opacity: 0.08"/>
<path d="M 298.8 240.05  L 308.03 240.92  L 308.1 240.43  L 298.8 240.05  z
" clip-path="url(#pf00ca0ee67)" style="fill: #2874a8; fill-opacity: 0.08"/>
<path d="M 298.8 240.05  L 289.5 240.43  L 289.57 240.92  L 298.8 240.05  z
" clip-path="url(#pf00ca0ee67)" style="fill: #2874a8; fill-opacity: 0.08"/>
<path d="M 317.22 242.54  L 326.34 244.92  L 326.54 243.47  L 317.37 241.57  z
" clip-path="url(#pf00ca0ee67)" style="fill: #2874a7; fill-opacity: 0.08"/>
<path d="M 280.23 241.57  L 271.06 243.47  L 271.26 244.92  L 280.38 242.54  z
" clip-path="url(#pf00ca0ee67)" style="fill: #2874a7; fill-opacity: 0.08"/>
<path d="M 308.03 240.92  L 317.22 242.54  L 317.37 241.57  L 308.1 240.43  z
" clip-path="url(#pf00ca0ee67)" style="fill: #2874a7; fill-opacity: 0.08"/>
<path d="M 289.5 240.43  L 280.23 241.57  L 280.38 242.54  L 289.57 240.92  z
" clip-path="url(#pf00ca0ee67)" style="fill: #2874a7; fill-opacity: 0.08"/>
<path d="M 298.8 240.05  L 307.79 241.39  L 308.03 240.92  L 298.8 240.05  z
" clip-path="url(#pf00ca0ee67)" style="fill: #2874a7; fill-opacity: 0.08"/>
<path d="M 298.8 240.05  L 289.57 240.92  L 289.81 241.39  L 298.8 240.05  z
" clip-path="url(#pf00ca0ee67)" style="fill: #2874a7; fill-opacity: 0.08"/>
<path d="M 367.65 271.3  L 375.28 278.27  L 377.05 274.11  L 369.27 267.58  z
" clip-path="url(#pf00ca0ee67)" style="fill: #256d9d; fill-opacity: 0.08"/>
<path d="M 228.33 267.58  L 220.55 274.11  L 222.32 278.27  L 229.95 271.3  z
" clip-path="url(#pf00ca0ee67)" style="fill: #256d9d; fill-opacity: 0.08"/>
<path d="M 298.8 240.05  L 307.41 241.85  L 307.79 241.39  L 298.8 240.05  z
" clip-path="url(#pf00ca0ee67)" style="fill: #2874a7; fill-opacity: 0.08"/>
<path d="M 298.8 240.05  L 289.81 241.39  L 290.19 241.85  L 298.8 240.05  z
" clip-path="url(#pf00ca0ee67)" style="fill: #2874a7; fill-opacity: 0.08"/>
<path d="M 298.8 240.05  L 306.87 242.29  L 307.41 241.85  L 298.8 240.05  z
" clip-path="url(#pf00ca0ee67)" style="fill: #2874a7; fill-opacity: 0.08"/>
<path d="M 298.8 240.05  L 290.19 241.85  L 290.73 242.29  L 298.8 240.05  z
" clip-path="url(#pf00ca0ee67)" style="fill: #2874a7; fill-opacity: 0.08"/>
<path d="M 409.92 417.86  L 410.96 429.48  L 420.66 422.48  L 419.54 410.98  z
" clip-path="url(#pf00ca0ee67)" style="fill: #194a6b; fill-opacity: 0.08"/>
<path d="M 178.06 410.98  L 176.94 422.48  L 186.64 429.48  L 187.68 417.86  z
" clip-path="url(#pf00ca0ee67)" style="fill: #194a6b; fill-opacity: 0.08"/>
<path d="M 397.94 317.25  L 403.34 327.13  L 407.63 321.18  L 402.03 311.66  z
" clip-path="url(#pf00ca0ee67)" style="fill: #21628d; fill-opacity: 0.08"/>
<path d="M 195.57 311.66  L 189.97 321.18  L 194.26 327.13  L 199.66 317.25  z
" clip-path="url(#pf00ca0ee67)" style="fill: #21628d; fill-opacity: 0.08"/>
<path d="M 307.79 241.39  L 316.76 243.49  L 317.22 242.54  L 308.03 240.92  z
" clip-path="url(#pf00ca0ee67)" style="fill: #2873a6; fill-opacity: 0.08"/>
<path d="M 289.57 240.92  L 280.38 242.54  L 280.84 243.49  L 289.81 241.39  z
" clip-path="url(#pf00ca0ee67)" style="fill: #2873a6; fill-opacity: 0.08"/>
<path d="M 359.71 264.96  L 367.65 271.3  L 369.27 267.58  L 361.17 261.67  z
" clip-path="url(#pf00ca0ee67)" style="fill: #266e9e; fill-opacity: 0.08"/>
<path d="M 236.43 261.67  L 228.33 267.58  L 229.95 271.3  L 237.89 264.96  z
" clip-path="url(#pf00ca0ee67)" style="fill: #266e9e; fill-opacity: 0.08"/>
<path d="M 298.8 240.05  L 306.19 242.7  L 306.87 242.29  L 298.8 240.05  z
" clip-path="url(#pf00ca0ee67)" style="fill: #2874a7; fill-opacity: 0.08"/>
<path d="M 298.8 240.05  L 290.73 242.29  L 291.41 242.7  L 298.8 240.05  z
" clip-path="url(#pf00ca0ee67)" style="fill: #2874a7; fill-opacity: 0.08"/>
<path d="M 298.8 240.05  L 305.39 243.06  L 306.19 242.7  L 298.8 240.05  z
" clip-path="url(#pf00ca0ee67)" style="fill: #2773a6; fill-opacity: 0.08"/>
<path d="M 298.8 240.05  L 291.41 242.7  L 292.21 243.06  L 298.8 240.05  z
" clip-path="url(#pf00ca0ee67)" style="fill: #2773a6; fill-opacity: 0.08"/>
<path d="M 316.76 243.49  L 325.66 246.35  L 326.34 244.92  L 317.22 242.54  z
" clip-path="url(#pf00ca0ee67)" style="fill: #2773a5; fill-opacity: 0.08"/>
<path d="M 280.38 242.54  L 271.26 244.92  L 271.94 246.35  L 280.84 243.49  z
" clip-path="url(#pf00ca0ee67)" style="fill: #2773a5; fill-opacity: 0.08"/>
<path d="M 244.81 256.43  L 236.43 261.67  L 237.89 264.96  L 246.09 259.26  z
" clip-path="url(#pf00ca0ee67)" style="fill: #266fa0; fill-opacity: 0.08"/>
<path d="M 351.51 259.26  L 359.71 264.96  L 361.17 261.67  L 352.79 256.43  z
" clip-path="url(#pf00ca0ee67)" style="fill: #266fa0; fill-opacity: 0.08"/>
<path d="M 298.8 240.05  L 292.21 243.06  L 293.12 243.38  L 298.8 240.05  z
" clip-path="url(#pf00ca0ee67)" style="fill: #2773a6; fill-opacity: 0.08"/>
<path d="M 298.8 240.05  L 304.48 243.38  L 305.39 243.06  L 298.8 240.05  z
" clip-path="url(#pf00ca0ee67)" style="fill: #2773a6; fill-opacity: 0.08"/>
<path d="M 298.8 240.05  L 293.12 243.38  L 294.14 243.66  L 298.8 240.05  z
" clip-path="url(#pf00ca0ee67)" style="fill: #2773a6; fill-opacity: 0.08"/>
<path d="M 298.8 240.05  L 303.46 243.66  L 304.48 243.38  L 298.8 240.05  z
" clip-path="url(#pf00ca0ee67)" style="fill: #2773a6; fill-opacity: 0.08"/>
<path d="M 325.66 246.35  L 334.44 249.94  L 335.33 248.04  L 326.34 244.92  z
" clip-path="url(#pf00ca0ee67)" style="fill: #2772a4; fill-opacity: 0.08"/>
<path d="M 271.26 244.92  L 262.27 248.04  L 263.16 249.94  L 271.94 246.35  z
" clip-path="url(#pf00ca0ee67)" style="fill: #2772a4; fill-opacity: 0.08"/>
<path d="M 343.07 254.25  L 351.51 259.26  L 352.79 256.43  L 344.16 251.88  z
" clip-path="url(#pf00ca0ee67)" style="fill: #2670a1; fill-opacity: 0.08"/>
<path d="M 253.44 251.88  L 244.81 256.43  L 246.09 259.26  L 254.53 254.25  z
" clip-path="url(#pf00ca0ee67)" style="fill: #2670a1; fill-opacity: 0.08"/>
<path d="M 307.41 241.85  L 315.99 244.42  L 316.76 243.49  L 307.79 241.39  z
" clip-path="url(#pf00ca0ee67)" style="fill: #2773a5; fill-opacity: 0.08"/>
<path d="M 289.81 241.39  L 280.84 243.49  L 281.61 244.42  L 290.19 241.85  z
" clip-path="url(#pf00ca0ee67)" style="fill: #2773a5; fill-opacity: 0.08"/>
<path d="M 409.77 365.28  L 412.98 376.56  L 420.04 369.77  L 416.63 358.73  z
" clip-path="url(#pf00ca0ee67)" style="fill: #1d567c; fill-opacity: 0.08"/>
<path d="M 180.97 358.73  L 177.56 369.77  L 184.62 376.56  L 187.83 365.28  z
" clip-path="url(#pf00ca0ee67)" style="fill: #1d567c; fill-opacity: 0.08"/>
<path d="M 298.8 240.05  L 294.14 243.66  L 295.23 243.87  L 298.8 240.05  z
" clip-path="url(#pf00ca0ee67)" style="fill: #2773a6; fill-opacity: 0.08"/>
<path d="M 298.8 240.05  L 302.37 243.87  L 303.46 243.66  L 298.8 240.05  z
" clip-path="url(#pf00ca0ee67)" style="fill: #2773a6; fill-opacity: 0.08"/>
<path d="M 334.44 249.94  L 343.07 254.25  L 344.16 251.88  L 335.33 248.04  z
" clip-path="url(#pf00ca0ee67)" style="fill: #2771a3; fill-opacity: 0.08"/>
<path d="M 262.27 248.04  L 253.44 251.88  L 254.53 254.25  L 263.16 249.94  z
" clip-path="url(#pf00ca0ee67)" style="fill: #2771a3; fill-opacity: 0.08"/>
<path d="M 298.8 240.05  L 295.23 243.87  L 296.39 244.03  L 298.8 240.05  z
" clip-path="url(#pf00ca0ee67)" style="fill: #2773a6; fill-opacity: 0.08"/>
<path d="M 298.8 240.05  L 301.21 244.03  L 302.37 243.87  L 298.8 240.05  z
" clip-path="url(#pf00ca0ee67)" style="fill: #2773a6; fill-opacity: 0.08"/>
<path d="M 298.8 240.05  L 296.39 244.03  L 297.58 244.12  L 298.8 240.05  z
" clip-path="url(#pf00ca0ee67)" style="fill: #2773a6; fill-opacity: 0.08"/>
<path d="M 298.8 240.05  L 300.02 244.12  L 301.21 244.03  L 298.8 240.05  z
" clip-path="url(#pf00ca0ee67)" style="fill: #2773a6; fill-opacity: 0.08"/>
<path d="M 298.8 240.05  L 297.58 244.12  L 298.8 244.16  L 298.8 240.05  z
" clip-path="url(#pf00ca0ee67)" style="fill: #2773a6; fill-opacity: 0.08"/>
<path d="M 298.8 240.05  L 298.8 244.16  L 300.02 244.12  L 298.8 240.05  z
" clip-path="url(#pf00ca0ee67)" style="fill: #2773a6; fill-opacity: 0.08"/>
<path d="M 201.63 302.56  L 195.57 311.66  L 199.66 317.25  L 205.51 307.79  z
" clip-path="url(#pf00ca0ee67)" style="fill: #22638f; fill-opacity: 0.08"/>
<path d="M 392.09 307.79  L 397.94 317.25  L 402.03 311.66  L 395.97 302.56  z
" clip-path="url(#pf00ca0ee67)" style="fill: #22638f; fill-opacity: 0.08"/>
<path d="M 306.87 242.29  L 314.93 245.29  L 315.99 244.42  L 307.41 241.85  z
" clip-path="url(#pf00ca0ee67)" style="fill: #2772a5; fill-opacity: 0.08"/>
<path d="M 290.19 241.85  L 281.61 244.42  L 282.67 245.29  L 290.73 242.29  z
" clip-path="url(#pf00ca0ee67)" style="fill: #2772a5; fill-opacity: 0.08"/>
<path d="M 399.68 447.45  L 399.72 458.85  L 411.54 452.33  L 411.5 440.99  z
" clip-path="url(#pf00ca0ee67)" style="fill: #174260; fill-opacity: 0.08"/>
<path d="M 186.1 440.99  L 186.06 452.33  L 197.88 458.85  L 197.92 447.45  z
" clip-path="url(#pf00ca0ee67)" style="fill: #174260; fill-opacity: 0.08"/>
<path d="M 315.99 244.42  L 324.51 247.73  L 325.66 246.35  L 316.76 243.49  z
" clip-path="url(#pf00ca0ee67)" style="fill: #2772a4; fill-opacity: 0.08"/>
<path d="M 280.84 243.49  L 271.94 246.35  L 273.09 247.73  L 281.61 244.42  z
" clip-path="url(#pf00ca0ee67)" style="fill: #2772a4; fill-opacity: 0.08"/>
<path d="M 385.83 298.78  L 392.09 307.79  L 395.97 302.56  L 389.47 293.93  z
" clip-path="url(#pf00ca0ee67)" style="fill: #226591; fill-opacity: 0.08"/>
<path d="M 208.13 293.93  L 201.63 302.56  L 205.51 307.79  L 211.77 298.78  z
" clip-path="url(#pf00ca0ee67)" style="fill: #226591; fill-opacity: 0.08"/>
<path d="M 408.39 406.19  L 409.92 417.86  L 419.54 410.98  L 417.88 399.46  z
" clip-path="url(#pf00ca0ee67)" style="fill: #1a4c6d; fill-opacity: 0.08"/>
<path d="M 179.72 399.46  L 178.06 410.98  L 187.68 417.86  L 189.21 406.19  z
" clip-path="url(#pf00ca0ee67)" style="fill: #1a4c6d; fill-opacity: 0.08"/>
<path d="M 306.19 242.7  L 313.58 246.1  L 314.93 245.29  L 306.87 242.29  z
" clip-path="url(#pf00ca0ee67)" style="fill: #2772a4; fill-opacity: 0.08"/>
<path d="M 290.73 242.29  L 282.67 245.29  L 284.02 246.1  L 291.41 242.7  z
" clip-path="url(#pf00ca0ee67)" style="fill: #2772a4; fill-opacity: 0.08"/>
<path d="M 406.05 354.19  L 409.77 365.28  L 416.63 358.73  L 412.71 347.92  z
" clip-path="url(#pf00ca0ee67)" style="fill: #1e587e; fill-opacity: 0.08"/>
<path d="M 184.89 347.92  L 180.97 358.73  L 187.83 365.28  L 191.55 354.19  z
" clip-path="url(#pf00ca0ee67)" style="fill: #1e587e; fill-opacity: 0.08"/>
<path d="M 324.51 247.73  L 332.94 251.78  L 334.44 249.94  L 325.66 246.35  z
" clip-path="url(#pf00ca0ee67)" style="fill: #2670a2; fill-opacity: 0.08"/>
<path d="M 271.94 246.35  L 263.16 249.94  L 264.66 251.78  L 273.09 247.73  z
" clip-path="url(#pf00ca0ee67)" style="fill: #2670a2; fill-opacity: 0.08"/>
<path d="M 379.18 290.28  L 385.83 298.78  L 389.47 293.93  L 382.56 285.83  z
" clip-path="url(#pf00ca0ee67)" style="fill: #236693; fill-opacity: 0.08"/>
<path d="M 215.04 285.83  L 208.13 293.93  L 211.77 298.78  L 218.42 290.28  z
" clip-path="url(#pf00ca0ee67)" style="fill: #236693; fill-opacity: 0.08"/>
<path d="M 305.39 243.06  L 311.98 246.84  L 313.58 246.1  L 306.19 242.7  z
" clip-path="url(#pf00ca0ee67)" style="fill: #2771a3; fill-opacity: 0.08"/>
<path d="M 291.41 242.7  L 284.02 246.1  L 285.62 246.84  L 292.21 243.06  z
" clip-path="url(#pf00ca0ee67)" style="fill: #2771a3; fill-opacity: 0.08"/>
<path d="M 314.93 245.29  L 322.93 249.04  L 324.51 247.73  L 315.99 244.42  z
" clip-path="url(#pf00ca0ee67)" style="fill: #2771a2; fill-opacity: 0.08"/>
<path d="M 281.61 244.42  L 273.09 247.73  L 274.67 249.04  L 282.67 245.29  z
" clip-path="url(#pf00ca0ee67)" style="fill: #2771a2; fill-opacity: 0.08"/>
<path d="M 332.94 251.78  L 341.22 256.54  L 343.07 254.25  L 334.44 249.94  z
" clip-path="url(#pf00ca0ee67)" style="fill: #266fa0; fill-opacity: 0.08"/>
<path d="M 263.16 249.94  L 254.53 254.25  L 256.38 256.54  L 264.66 251.78  z
" clip-path="url(#pf00ca0ee67)" style="fill: #266fa0; fill-opacity: 0.08"/>
<path d="M 372.17 282.31  L 379.18 290.28  L 382.56 285.83  L 375.28 278.27  z
" clip-path="url(#pf00ca0ee67)" style="fill: #246896; fill-opacity: 0.08"/>
<path d="M 222.32 278.27  L 215.04 285.83  L 218.42 290.28  L 225.43 282.31  z
" clip-path="url(#pf00ca0ee67)" style="fill: #246896; fill-opacity: 0.08"/>
<path d="M 292.21 243.06  L 285.62 246.84  L 287.45 247.48  L 293.12 243.38  z
" clip-path="url(#pf00ca0ee67)" style="fill: #2771a2; fill-opacity: 0.08"/>
<path d="M 304.48 243.38  L 310.15 247.48  L 311.98 246.84  L 305.39 243.06  z
" clip-path="url(#pf00ca0ee67)" style="fill: #2771a2; fill-opacity: 0.08"/>
<path d="M 341.22 256.54  L 349.32 262.01  L 351.51 259.26  L 343.07 254.25  z
" clip-path="url(#pf00ca0ee67)" style="fill: #266e9e; fill-opacity: 0.08"/>
<path d="M 254.53 254.25  L 246.09 259.26  L 248.28 262.01  L 256.38 256.54  z
" clip-path="url(#pf00ca0ee67)" style="fill: #266e9e; fill-opacity: 0.08"/>
<path d="M 364.83 274.92  L 372.17 282.31  L 375.28 278.27  L 367.65 271.3  z
" clip-path="url(#pf00ca0ee67)" style="fill: #246998; fill-opacity: 0.08"/>
<path d="M 229.95 271.3  L 222.32 278.27  L 225.43 282.31  L 232.77 274.92  z
" clip-path="url(#pf00ca0ee67)" style="fill: #246998; fill-opacity: 0.08"/>
<path d="M 189.33 337.36  L 184.89 347.92  L 191.55 354.19  L 195.75 343.35  z
" clip-path="url(#pf00ca0ee67)" style="fill: #1f5981; fill-opacity: 0.08"/>
<path d="M 401.85 343.35  L 406.05 354.19  L 412.71 347.92  L 408.27 337.36  z
" clip-path="url(#pf00ca0ee67)" style="fill: #1f5981; fill-opacity: 0.08"/>
<path d="M 349.32 262.01  L 357.2 268.14  L 359.71 264.96  L 351.51 259.26  z
" clip-path="url(#pf00ca0ee67)" style="fill: #256c9c; fill-opacity: 0.08"/>
<path d="M 246.09 259.26  L 237.89 264.96  L 240.4 268.14  L 248.28 262.01  z
" clip-path="url(#pf00ca0ee67)" style="fill: #256c9c; fill-opacity: 0.08"/>
<path d="M 357.2 268.14  L 364.83 274.92  L 367.65 271.3  L 359.71 264.96  z
" clip-path="url(#pf00ca0ee67)" style="fill: #256b9a; fill-opacity: 0.08"/>
<path d="M 237.89 264.96  L 229.95 271.3  L 232.77 274.92  L 240.4 268.14  z
" clip-path="url(#pf00ca0ee67)" style="fill: #256b9a; fill-opacity: 0.08"/>
<path d="M 293.12 243.38  L 287.45 247.48  L 289.47 248.03  L 294.14 243.66  z
" clip-path="url(#pf00ca0ee67)" style="fill: #2670a2; fill-opacity: 0.08"/>
<path d="M 303.46 243.66  L 308.13 248.03  L 310.15 247.48  L 304.48 243.38  z
" clip-path="url(#pf00ca0ee67)" style="fill: #2670a2; fill-opacity: 0.08"/>
<path d="M 406.37 394.52  L 408.39 406.19  L 417.88 399.46  L 415.69 387.97  z
" clip-path="url(#pf00ca0ee67)" style="fill: #1a4d6f; fill-opacity: 0.08"/>
<path d="M 181.91 387.97  L 179.72 399.46  L 189.21 406.19  L 191.23 394.52  z
" clip-path="url(#pf00ca0ee67)" style="fill: #1a4d6f; fill-opacity: 0.08"/>
<path d="M 186.64 429.48  L 186.1 440.99  L 197.92 447.45  L 198.4 435.86  z
" clip-path="url(#pf00ca0ee67)" style="fill: #174461; fill-opacity: 0.08"/>
<path d="M 399.2 435.86  L 399.68 447.45  L 411.5 440.99  L 410.96 429.48  z
" clip-path="url(#pf00ca0ee67)" style="fill: #174461; fill-opacity: 0.08"/>
<path d="M 313.58 246.1  L 320.92 250.26  L 322.93 249.04  L 314.93 245.29  z
" clip-path="url(#pf00ca0ee67)" style="fill: #2670a1; fill-opacity: 0.08"/>
<path d="M 282.67 245.29  L 274.67 249.04  L 276.68 250.26  L 284.02 246.1  z
" clip-path="url(#pf00ca0ee67)" style="fill: #2670a1; fill-opacity: 0.08"/>
<path d="M 322.93 249.04  L 330.84 253.52  L 332.94 251.78  L 324.51 247.73  z
" clip-path="url(#pf00ca0ee67)" style="fill: #266fa0; fill-opacity: 0.08"/>
<path d="M 273.09 247.73  L 264.66 251.78  L 266.76 253.52  L 274.67 249.04  z
" clip-path="url(#pf00ca0ee67)" style="fill: #266fa0; fill-opacity: 0.08"/>
<path d="M 294.14 243.66  L 289.47 248.03  L 291.66 248.46  L 295.23 243.87  z
" clip-path="url(#pf00ca0ee67)" style="fill: #2670a1; fill-opacity: 0.08"/>
<path d="M 302.37 243.87  L 305.94 248.46  L 308.13 248.03  L 303.46 243.66  z
" clip-path="url(#pf00ca0ee67)" style="fill: #2670a1; fill-opacity: 0.08"/>
<path d="M 295.23 243.87  L 291.66 248.46  L 293.97 248.78  L 296.39 244.03  z
" clip-path="url(#pf00ca0ee67)" style="fill: #2670a1; fill-opacity: 0.08"/>
<path d="M 301.21 244.03  L 303.63 248.78  L 305.94 248.46  L 302.37 243.87  z
" clip-path="url(#pf00ca0ee67)" style="fill: #2670a1; fill-opacity: 0.08"/>
<path d="M 296.39 244.03  L 293.97 248.78  L 296.36 248.97  L 297.58 244.12  z
" clip-path="url(#pf00ca0ee67)" style="fill: #2670a1; fill-opacity: 0.08"/>
<path d="M 300.02 244.12  L 301.24 248.97  L 303.63 248.78  L 301.21 244.03  z
" clip-path="url(#pf00ca0ee67)" style="fill: #2670a1; fill-opacity: 0.08"/>
<path d="M 397.19 332.8  L 401.85 343.35  L 408.27 337.36  L 403.34 327.13  z
" clip-path="url(#pf00ca0ee67)" style="fill: #1f5b83; fill-opacity: 0.08"/>
<path d="M 194.26 327.13  L 189.33 337.36  L 195.75 343.35  L 200.41 332.8  z
" clip-path="url(#pf00ca0ee67)" style="fill: #1f5b83; fill-opacity: 0.08"/>
<path d="M 297.58 244.12  L 296.36 248.97  L 298.8 249.03  L 298.8 244.16  z
" clip-path="url(#pf00ca0ee67)" style="fill: #2670a1; fill-opacity: 0.08"/>
<path d="M 298.8 244.16  L 298.8 249.03  L 301.24 248.97  L 300.02 244.12  z
" clip-path="url(#pf00ca0ee67)" style="fill: #2670a1; fill-opacity: 0.08"/>
<path d="M 311.98 246.84  L 318.54 251.36  L 320.92 250.26  L 313.58 246.1  z
" clip-path="url(#pf00ca0ee67)" style="fill: #266fa0; fill-opacity: 0.08"/>
<path d="M 284.02 246.1  L 276.68 250.26  L 279.06 251.36  L 285.62 246.84  z
" clip-path="url(#pf00ca0ee67)" style="fill: #266fa0; fill-opacity: 0.08"/>
<path d="M 330.84 253.52  L 338.63 258.72  L 341.22 256.54  L 332.94 251.78  z
" clip-path="url(#pf00ca0ee67)" style="fill: #256d9d; fill-opacity: 0.08"/>
<path d="M 264.66 251.78  L 256.38 256.54  L 258.97 258.72  L 266.76 253.52  z
" clip-path="url(#pf00ca0ee67)" style="fill: #256d9d; fill-opacity: 0.08"/>
<path d="M 403.87 382.91  L 406.37 394.52  L 415.69 387.97  L 412.98 376.56  z
" clip-path="url(#pf00ca0ee67)" style="fill: #1b4f72; fill-opacity: 0.08"/>
<path d="M 184.62 376.56  L 181.91 387.97  L 191.23 394.52  L 193.73 382.91  z
" clip-path="url(#pf00ca0ee67)" style="fill: #1b4f72; fill-opacity: 0.08"/>
<path d="M 392.09 322.59  L 397.19 332.8  L 403.34 327.13  L 397.94 317.25  z
" clip-path="url(#pf00ca0ee67)" style="fill: #205d86; fill-opacity: 0.08"/>
<path d="M 199.66 317.25  L 194.26 327.13  L 200.41 332.8  L 205.51 322.59  z
" clip-path="url(#pf00ca0ee67)" style="fill: #205d86; fill-opacity: 0.08"/>
<path d="M 274.67 249.04  L 266.76 253.52  L 269.41 255.15  L 276.68 250.26  z
" clip-path="url(#pf00ca0ee67)" style="fill: #266e9e; fill-opacity: 0.08"/>
<path d="M 320.92 250.26  L 328.19 255.15  L 330.84 253.52  L 322.93 249.04  z
" clip-path="url(#pf00ca0ee67)" style="fill: #266e9e; fill-opacity: 0.08"/>
<path d="M 285.62 246.84  L 279.06 251.36  L 281.8 252.33  L 287.45 247.48  z
" clip-path="url(#pf00ca0ee67)" style="fill: #266e9f; fill-opacity: 0.08"/>
<path d="M 310.15 247.48  L 315.8 252.33  L 318.54 251.36  L 311.98 246.84  z
" clip-path="url(#pf00ca0ee67)" style="fill: #266e9f; fill-opacity: 0.08"/>
<path d="M 338.63 258.72  L 346.25 264.61  L 349.32 262.01  L 341.22 256.54  z
" clip-path="url(#pf00ca0ee67)" style="fill: #256c9b; fill-opacity: 0.08"/>
<path d="M 256.38 256.54  L 248.28 262.01  L 251.35 264.61  L 258.97 258.72  z
" clip-path="url(#pf00ca0ee67)" style="fill: #256c9b; fill-opacity: 0.08"/>
<path d="M 398.26 424.14  L 399.2 435.86  L 410.96 429.48  L 409.92 417.86  z
" clip-path="url(#pf00ca0ee67)" style="fill: #184563; fill-opacity: 0.08"/>
<path d="M 187.68 417.86  L 186.64 429.48  L 198.4 435.86  L 199.34 424.14  z
" clip-path="url(#pf00ca0ee67)" style="fill: #184563; fill-opacity: 0.08"/>
<path d="M 386.57 312.78  L 392.09 322.59  L 397.94 317.25  L 392.09 307.79  z
" clip-path="url(#pf00ca0ee67)" style="fill: #205f88; fill-opacity: 0.08"/>
<path d="M 205.51 307.79  L 199.66 317.25  L 205.51 322.59  L 211.03 312.78  z
" clip-path="url(#pf00ca0ee67)" style="fill: #205f88; fill-opacity: 0.08"/>
<path d="M 346.25 264.61  L 353.67 271.17  L 357.2 268.14  L 349.32 262.01  z
" clip-path="url(#pf00ca0ee67)" style="fill: #246a98; fill-opacity: 0.08"/>
<path d="M 248.28 262.01  L 240.4 268.14  L 243.93 271.17  L 251.35 264.61  z
" clip-path="url(#pf00ca0ee67)" style="fill: #246a98; fill-opacity: 0.08"/>
<path d="M 287.45 247.48  L 281.8 252.33  L 284.83 253.15  L 289.47 248.03  z
" clip-path="url(#pf00ca0ee67)" style="fill: #256d9e; fill-opacity: 0.08"/>
<path d="M 308.13 248.03  L 312.77 253.15  L 315.8 252.33  L 310.15 247.48  z
" clip-path="url(#pf00ca0ee67)" style="fill: #256d9e; fill-opacity: 0.08"/>
<path d="M 380.66 303.41  L 386.57 312.78  L 392.09 307.79  L 385.83 298.78  z
" clip-path="url(#pf00ca0ee67)" style="fill: #21618b; fill-opacity: 0.08"/>
<path d="M 211.77 298.78  L 205.51 307.79  L 211.03 312.78  L 216.94 303.41  z
" clip-path="url(#pf00ca0ee67)" style="fill: #21618b; fill-opacity: 0.08"/>
<path d="M 400.89 371.4  L 403.87 382.91  L 412.98 376.56  L 409.77 365.28  z
" clip-path="url(#pf00ca0ee67)" style="fill: #1c5174; fill-opacity: 0.08"/>
<path d="M 187.83 365.28  L 184.62 376.56  L 193.73 382.91  L 196.71 371.4  z
" clip-path="url(#pf00ca0ee67)" style="fill: #1c5174; fill-opacity: 0.08"/>
<path d="M 318.54 251.36  L 325.02 256.62  L 328.19 255.15  L 320.92 250.26  z
" clip-path="url(#pf00ca0ee67)" style="fill: #256d9c; fill-opacity: 0.08"/>
<path d="M 276.68 250.26  L 269.41 255.15  L 272.58 256.62  L 279.06 251.36  z
" clip-path="url(#pf00ca0ee67)" style="fill: #256d9c; fill-opacity: 0.08"/>
<path d="M 240.4 268.14  L 232.77 274.92  L 236.74 278.36  L 243.93 271.17  z
" clip-path="url(#pf00ca0ee67)" style="fill: #246896; fill-opacity: 0.08"/>
<path d="M 353.67 271.17  L 360.86 278.36  L 364.83 274.92  L 357.2 268.14  z
" clip-path="url(#pf00ca0ee67)" style="fill: #246896; fill-opacity: 0.08"/>
<path d="M 328.19 255.15  L 335.34 260.75  L 338.63 258.72  L 330.84 253.52  z
" clip-path="url(#pf00ca0ee67)" style="fill: #256c9b; fill-opacity: 0.08"/>
<path d="M 266.76 253.52  L 258.97 258.72  L 262.26 260.75  L 269.41 255.15  z
" clip-path="url(#pf00ca0ee67)" style="fill: #256c9b; fill-opacity: 0.08"/>
<path d="M 197.92 447.45  L 197.88 458.85  L 211.59 464.61  L 211.62 453.17  z
" clip-path="url(#pf00ca0ee67)" style="fill: #153e59; fill-opacity: 0.08"/>
<path d="M 385.98 453.17  L 386.01 464.61  L 399.72 458.85  L 399.68 447.45  z
" clip-path="url(#pf00ca0ee67)" style="fill: #153e59; fill-opacity: 0.08"/>
<path d="M 374.38 294.52  L 380.66 303.41  L 385.83 298.78  L 379.18 290.28  z
" clip-path="url(#pf00ca0ee67)" style="fill: #22628e; fill-opacity: 0.08"/>
<path d="M 218.42 290.28  L 211.77 298.78  L 216.94 303.41  L 223.22 294.52  z
" clip-path="url(#pf00ca0ee67)" style="fill: #22628e; fill-opacity: 0.08"/>
<path d="M 360.86 278.36  L 367.77 286.16  L 372.17 282.31  L 364.83 274.92  z
" clip-path="url(#pf00ca0ee67)" style="fill: #236693; fill-opacity: 0.08"/>
<path d="M 232.77 274.92  L 225.43 282.31  L 229.83 286.16  L 236.74 278.36  z
" clip-path="url(#pf00ca0ee67)" style="fill: #236693; fill-opacity: 0.08"/>
<path d="M 289.47 248.03  L 284.83 253.15  L 288.1 253.8  L 291.66 248.46  z
" clip-path="url(#pf00ca0ee67)" style="fill: #256d9d; fill-opacity: 0.08"/>
<path d="M 305.94 248.46  L 309.5 253.8  L 312.77 253.15  L 308.13 248.03  z
" clip-path="url(#pf00ca0ee67)" style="fill: #256d9d; fill-opacity: 0.08"/>
<path d="M 367.77 286.16  L 374.38 294.52  L 379.18 290.28  L 372.17 282.31  z
" clip-path="url(#pf00ca0ee67)" style="fill: #226490; fill-opacity: 0.08"/>
<path d="M 225.43 282.31  L 218.42 290.28  L 223.22 294.52  L 229.83 286.16  z
" clip-path="url(#pf00ca0ee67)" style="fill: #226490; fill-opacity: 0.08"/>
<path d="M 291.66 248.46  L 288.1 253.8  L 291.56 254.28  L 293.97 248.78  z
" clip-path="url(#pf00ca0ee67)" style="fill: #256d9c; fill-opacity: 0.08"/>
<path d="M 303.63 248.78  L 306.04 254.28  L 309.5 253.8  L 305.94 248.46  z
" clip-path="url(#pf00ca0ee67)" style="fill: #256d9c; fill-opacity: 0.08"/>
<path d="M 189.21 406.19  L 187.68 417.86  L 199.34 424.14  L 200.71 412.33  z
" clip-path="url(#pf00ca0ee67)" style="fill: #184766; fill-opacity: 0.08"/>
<path d="M 396.89 412.33  L 398.26 424.14  L 409.92 417.86  L 408.39 406.19  z
" clip-path="url(#pf00ca0ee67)" style="fill: #184766; fill-opacity: 0.08"/>
<path d="M 301.24 248.97  L 302.45 254.57  L 306.04 254.28  L 303.63 248.78  z
" clip-path="url(#pf00ca0ee67)" style="fill: #256c9c; fill-opacity: 0.08"/>
<path d="M 293.97 248.78  L 291.56 254.28  L 295.15 254.57  L 296.36 248.97  z
" clip-path="url(#pf00ca0ee67)" style="fill: #256c9c; fill-opacity: 0.08"/>
<path d="M 397.46 360.06  L 400.89 371.4  L 409.77 365.28  L 406.05 354.19  z
" clip-path="url(#pf00ca0ee67)" style="fill: #1c5377; fill-opacity: 0.08"/>
<path d="M 191.55 354.19  L 187.83 365.28  L 196.71 371.4  L 200.14 360.06  z
" clip-path="url(#pf00ca0ee67)" style="fill: #1c5377; fill-opacity: 0.08"/>
<path d="M 296.36 248.97  L 295.15 254.57  L 298.8 254.66  L 298.8 249.03  z
" clip-path="url(#pf00ca0ee67)" style="fill: #256c9c; fill-opacity: 0.08"/>
<path d="M 298.8 249.03  L 298.8 254.66  L 302.45 254.57  L 301.24 248.97  z
" clip-path="url(#pf00ca0ee67)" style="fill: #256c9c; fill-opacity: 0.08"/>
<path d="M 279.06 251.36  L 272.58 256.62  L 276.2 257.91  L 281.8 252.33  z
" clip-path="url(#pf00ca0ee67)" style="fill: #256b9b; fill-opacity: 0.08"/>
<path d="M 315.8 252.33  L 321.4 257.91  L 325.02 256.62  L 318.54 251.36  z
" clip-path="url(#pf00ca0ee67)" style="fill: #256b9b; fill-opacity: 0.08"/>
<path d="M 335.34 260.75  L 342.35 267.04  L 346.25 264.61  L 338.63 258.72  z
" clip-path="url(#pf00ca0ee67)" style="fill: #246a98; fill-opacity: 0.08"/>
<path d="M 258.97 258.72  L 251.35 264.61  L 255.25 267.04  L 262.26 260.75  z
" clip-path="url(#pf00ca0ee67)" style="fill: #246a98; fill-opacity: 0.08"/>
<path d="M 325.02 256.62  L 331.41 262.59  L 335.34 260.75  L 328.19 255.15  z
" clip-path="url(#pf00ca0ee67)" style="fill: #246a99; fill-opacity: 0.08"/>
<path d="M 269.41 255.15  L 262.26 260.75  L 266.19 262.59  L 272.58 256.62  z
" clip-path="url(#pf00ca0ee67)" style="fill: #246a99; fill-opacity: 0.08"/>
<path d="M 393.58 348.95  L 397.46 360.06  L 406.05 354.19  L 401.85 343.35  z
" clip-path="url(#pf00ca0ee67)" style="fill: #1d547a; fill-opacity: 0.08"/>
<path d="M 195.75 343.35  L 191.55 354.19  L 200.14 360.06  L 204.02 348.95  z
" clip-path="url(#pf00ca0ee67)" style="fill: #1d547a; fill-opacity: 0.08"/>
<path d="M 281.8 252.33  L 276.2 257.91  L 280.22 259.01  L 284.83 253.15  z
" clip-path="url(#pf00ca0ee67)" style="fill: #246b9a; fill-opacity: 0.08"/>
<path d="M 312.77 253.15  L 317.38 259.01  L 321.4 257.91  L 315.8 252.33  z
" clip-path="url(#pf00ca0ee67)" style="fill: #246b9a; fill-opacity: 0.08"/>
<path d="M 342.35 267.04  L 349.17 273.99  L 353.67 271.17  L 346.25 264.61  z
" clip-path="url(#pf00ca0ee67)" style="fill: #236795; fill-opacity: 0.08"/>
<path d="M 251.35 264.61  L 243.93 271.17  L 248.43 273.99  L 255.25 267.04  z
" clip-path="url(#pf00ca0ee67)" style="fill: #236795; fill-opacity: 0.08"/>
<path d="M 385.56 441.51  L 385.98 453.17  L 399.68 447.45  L 399.2 435.86  z
" clip-path="url(#pf00ca0ee67)" style="fill: #163f5b; fill-opacity: 0.08"/>
<path d="M 198.4 435.86  L 197.92 447.45  L 211.62 453.17  L 212.04 441.51  z
" clip-path="url(#pf00ca0ee67)" style="fill: #163f5b; fill-opacity: 0.08"/>
<path d="M 395.07 400.5  L 396.89 412.33  L 408.39 406.19  L 406.37 394.52  z
" clip-path="url(#pf00ca0ee67)" style="fill: #194868; fill-opacity: 0.08"/>
<path d="M 191.23 394.52  L 189.21 406.19  L 200.71 412.33  L 202.53 400.5  z
" clip-path="url(#pf00ca0ee67)" style="fill: #194868; fill-opacity: 0.08"/>
<path d="M 389.28 338.1  L 393.58 348.95  L 401.85 343.35  L 397.19 332.8  z
" clip-path="url(#pf00ca0ee67)" style="fill: #1e567d; fill-opacity: 0.08"/>
<path d="M 200.41 332.8  L 195.75 343.35  L 204.02 348.95  L 208.32 338.1  z
" clip-path="url(#pf00ca0ee67)" style="fill: #1e567d; fill-opacity: 0.08"/>
<path d="M 349.17 273.99  L 355.78 281.57  L 360.86 278.36  L 353.67 271.17  z
" clip-path="url(#pf00ca0ee67)" style="fill: #236592; fill-opacity: 0.08"/>
<path d="M 243.93 271.17  L 236.74 278.36  L 241.82 281.57  L 248.43 273.99  z
" clip-path="url(#pf00ca0ee67)" style="fill: #236592; fill-opacity: 0.08"/>
<path d="M 284.83 253.15  L 280.22 259.01  L 284.57 259.88  L 288.1 253.8  z
" clip-path="url(#pf00ca0ee67)" style="fill: #246a98; fill-opacity: 0.08"/>
<path d="M 309.5 253.8  L 313.03 259.88  L 317.38 259.01  L 312.77 253.15  z
" clip-path="url(#pf00ca0ee67)" style="fill: #246a98; fill-opacity: 0.08"/>
<path d="M 272.58 256.62  L 266.19 262.59  L 270.69 264.21  L 276.2 257.91  z
" clip-path="url(#pf00ca0ee67)" style="fill: #246997; fill-opacity: 0.08"/>
<path d="M 321.4 257.91  L 326.91 264.21  L 331.41 262.59  L 325.02 256.62  z
" clip-path="url(#pf00ca0ee67)" style="fill: #246997; fill-opacity: 0.08"/>
<path d="M 331.41 262.59  L 337.68 269.24  L 342.35 267.04  L 335.34 260.75  z
" clip-path="url(#pf00ca0ee67)" style="fill: #236895; fill-opacity: 0.08"/>
<path d="M 262.26 260.75  L 255.25 267.04  L 259.92 269.24  L 266.19 262.59  z
" clip-path="url(#pf00ca0ee67)" style="fill: #236895; fill-opacity: 0.08"/>
<path d="M 205.51 322.59  L 200.41 332.8  L 208.32 338.1  L 213.03 327.58  z
" clip-path="url(#pf00ca0ee67)" style="fill: #1e587f; fill-opacity: 0.08"/>
<path d="M 384.57 327.58  L 389.28 338.1  L 397.19 332.8  L 392.09 322.59  z
" clip-path="url(#pf00ca0ee67)" style="fill: #1e587f; fill-opacity: 0.08"/>
<path d="M 355.78 281.57  L 362.15 289.75  L 367.77 286.16  L 360.86 278.36  z
" clip-path="url(#pf00ca0ee67)" style="fill: #22638f; fill-opacity: 0.08"/>
<path d="M 236.74 278.36  L 229.83 286.16  L 235.45 289.75  L 241.82 281.57  z
" clip-path="url(#pf00ca0ee67)" style="fill: #22638f; fill-opacity: 0.08"/>
<path d="M 288.1 253.8  L 284.57 259.88  L 289.17 260.51  L 291.56 254.28  z
" clip-path="url(#pf00ca0ee67)" style="fill: #246998; fill-opacity: 0.08"/>
<path d="M 306.04 254.28  L 308.43 260.51  L 313.03 259.88  L 309.5 253.8  z
" clip-path="url(#pf00ca0ee67)" style="fill: #246998; fill-opacity: 0.08"/>
<path d="M 379.48 317.44  L 384.57 327.58  L 392.09 322.59  L 386.57 312.78  z
" clip-path="url(#pf00ca0ee67)" style="fill: #1f5b82; fill-opacity: 0.08"/>
<path d="M 211.03 312.78  L 205.51 322.59  L 213.03 327.58  L 218.12 317.44  z
" clip-path="url(#pf00ca0ee67)" style="fill: #1f5b82; fill-opacity: 0.08"/>
<path d="M 362.15 289.75  L 368.24 298.48  L 374.38 294.52  L 367.77 286.16  z
" clip-path="url(#pf00ca0ee67)" style="fill: #21618c; fill-opacity: 0.08"/>
<path d="M 229.83 286.16  L 223.22 294.52  L 229.36 298.48  L 235.45 289.75  z
" clip-path="url(#pf00ca0ee67)" style="fill: #21618c; fill-opacity: 0.08"/>
<path d="M 392.82 388.7  L 395.07 400.5  L 406.37 394.52  L 403.87 382.91  z
" clip-path="url(#pf00ca0ee67)" style="fill: #194a6b; fill-opacity: 0.08"/>
<path d="M 193.73 382.91  L 191.23 394.52  L 202.53 400.5  L 204.78 388.7  z
" clip-path="url(#pf00ca0ee67)" style="fill: #194a6b; fill-opacity: 0.08"/>
<path d="M 291.56 254.28  L 289.17 260.51  L 293.94 260.9  L 295.15 254.57  z
" clip-path="url(#pf00ca0ee67)" style="fill: #246997; fill-opacity: 0.08"/>
<path d="M 302.45 254.57  L 303.66 260.9  L 308.43 260.51  L 306.04 254.28  z
" clip-path="url(#pf00ca0ee67)" style="fill: #246997; fill-opacity: 0.08"/>
<path d="M 374.03 307.72  L 379.48 317.44  L 386.57 312.78  L 380.66 303.41  z
" clip-path="url(#pf00ca0ee67)" style="fill: #205d86; fill-opacity: 0.08"/>
<path d="M 216.94 303.41  L 211.03 312.78  L 218.12 317.44  L 223.57 307.72  z
" clip-path="url(#pf00ca0ee67)" style="fill: #205d86; fill-opacity: 0.08"/>
<path d="M 368.24 298.48  L 374.03 307.72  L 380.66 303.41  L 374.38 294.52  z
" clip-path="url(#pf00ca0ee67)" style="fill: #205f89; fill-opacity: 0.08"/>
<path d="M 223.22 294.52  L 216.94 303.41  L 223.57 307.72  L 229.36 298.48  z
" clip-path="url(#pf00ca0ee67)" style="fill: #205f89; fill-opacity: 0.08"/>
<path d="M 199.34 424.14  L 198.4 435.86  L 212.04 441.51  L 212.85 429.68  z
" clip-path="url(#pf00ca0ee67)" style="fill: #16405d; fill-opacity: 0.08"/>
<path d="M 384.75 429.68  L 385.56 441.51  L 399.2 435.86  L 398.26 424.14  z
" clip-path="url(#pf00ca0ee67)" style="fill: #16405d; fill-opacity: 0.08"/>
<path d="M 295.15 254.57  L 293.94 260.9  L 298.8 261.02  L 298.8 254.66  z
" clip-path="url(#pf00ca0ee67)" style="fill: #246997; fill-opacity: 0.08"/>
<path d="M 298.8 254.66  L 298.8 261.02  L 303.66 260.9  L 302.45 254.57  z
" clip-path="url(#pf00ca0ee67)" style="fill: #246997; fill-opacity: 0.08"/>
<path d="M 276.2 257.91  L 270.69 264.21  L 275.69 265.57  L 280.22 259.01  z
" clip-path="url(#pf00ca0ee67)" style="fill: #236895; fill-opacity: 0.08"/>
<path d="M 317.38 259.01  L 321.91 265.57  L 326.91 264.21  L 321.4 257.91  z
" clip-path="url(#pf00ca0ee67)" style="fill: #236895; fill-opacity: 0.08"/>
<path d="M 370.63 458.01  L 370.66 469.5  L 386.01 464.61  L 385.98 453.17  z
" clip-path="url(#pf00ca0ee67)" style="fill: #143a53; fill-opacity: 0.08"/>
<path d="M 211.62 453.17  L 211.59 464.61  L 226.94 469.5  L 226.97 458.01  z
" clip-path="url(#pf00ca0ee67)" style="fill: #143a53; fill-opacity: 0.08"/>
<path d="M 255.25 267.04  L 248.43 273.99  L 253.82 276.55  L 259.92 269.24  z
" clip-path="url(#pf00ca0ee67)" style="fill: #236592; fill-opacity: 0.08"/>
<path d="M 337.68 269.24  L 343.78 276.55  L 349.17 273.99  L 342.35 267.04  z
" clip-path="url(#pf00ca0ee67)" style="fill: #236592; fill-opacity: 0.08"/>
<path d="M 326.91 264.21  L 332.32 271.18  L 337.68 269.24  L 331.41 262.59  z
" clip-path="url(#pf00ca0ee67)" style="fill: #236693; fill-opacity: 0.08"/>
<path d="M 266.19 262.59  L 259.92 269.24  L 265.28 271.18  L 270.69 264.21  z
" clip-path="url(#pf00ca0ee67)" style="fill: #236693; fill-opacity: 0.08"/>
<path d="M 196.71 371.4  L 193.73 382.91  L 204.78 388.7  L 207.45 376.98  z
" clip-path="url(#pf00ca0ee67)" style="fill: #1a4c6d; fill-opacity: 0.08"/>
<path d="M 390.15 376.98  L 392.82 388.7  L 403.87 382.91  L 400.89 371.4  z
" clip-path="url(#pf00ca0ee67)" style="fill: #1a4c6d; fill-opacity: 0.08"/>
<path d="M 280.22 259.01  L 275.69 265.57  L 281.09 266.66  L 284.57 259.88  z
" clip-path="url(#pf00ca0ee67)" style="fill: #236794; fill-opacity: 0.08"/>
<path d="M 313.03 259.88  L 316.51 266.66  L 321.91 265.57  L 317.38 259.01  z
" clip-path="url(#pf00ca0ee67)" style="fill: #236794; fill-opacity: 0.08"/>
<path d="M 343.78 276.55  L 349.7 284.49  L 355.78 281.57  L 349.17 273.99  z
" clip-path="url(#pf00ca0ee67)" style="fill: #22638e; fill-opacity: 0.08"/>
<path d="M 248.43 273.99  L 241.82 281.57  L 247.9 284.49  L 253.82 276.55  z
" clip-path="url(#pf00ca0ee67)" style="fill: #22638e; fill-opacity: 0.08"/>
<path d="M 200.71 412.33  L 199.34 424.14  L 212.85 429.68  L 214.04 417.76  z
" clip-path="url(#pf00ca0ee67)" style="fill: #17425f; fill-opacity: 0.08"/>
<path d="M 383.56 417.76  L 384.75 429.68  L 398.26 424.14  L 396.89 412.33  z
" clip-path="url(#pf00ca0ee67)" style="fill: #17425f; fill-opacity: 0.08"/>
<path d="M 200.14 360.06  L 196.71 371.4  L 207.45 376.98  L 210.54 365.41  z
" clip-path="url(#pf00ca0ee67)" style="fill: #1b4e70; fill-opacity: 0.08"/>
<path d="M 387.06 365.41  L 390.15 376.98  L 400.89 371.4  L 397.46 360.06  z
" clip-path="url(#pf00ca0ee67)" style="fill: #1b4e70; fill-opacity: 0.08"/>
<path d="M 284.57 259.88  L 281.09 266.66  L 286.82 267.45  L 289.17 260.51  z
" clip-path="url(#pf00ca0ee67)" style="fill: #236693; fill-opacity: 0.08"/>
<path d="M 308.43 260.51  L 310.78 267.45  L 316.51 266.66  L 313.03 259.88  z
" clip-path="url(#pf00ca0ee67)" style="fill: #236693; fill-opacity: 0.08"/>
<path d="M 270.69 264.21  L 265.28 271.18  L 271.24 272.82  L 275.69 265.57  z
" clip-path="url(#pf00ca0ee67)" style="fill: #226591; fill-opacity: 0.08"/>
<path d="M 321.91 265.57  L 326.36 272.82  L 332.32 271.18  L 326.91 264.21  z
" clip-path="url(#pf00ca0ee67)" style="fill: #226591; fill-opacity: 0.08"/>
<path d="M 349.7 284.49  L 355.4 293.01  L 362.15 289.75  L 355.78 281.57  z
" clip-path="url(#pf00ca0ee67)" style="fill: #21608b; fill-opacity: 0.08"/>
<path d="M 241.82 281.57  L 235.45 289.75  L 242.2 293.01  L 247.9 284.49  z
" clip-path="url(#pf00ca0ee67)" style="fill: #21608b; fill-opacity: 0.08"/>
<path d="M 212.04 441.51  L 211.62 453.17  L 226.97 458.01  L 227.31 446.29  z
" clip-path="url(#pf00ca0ee67)" style="fill: #143b55; fill-opacity: 0.08"/>
<path d="M 370.29 446.29  L 370.63 458.01  L 385.98 453.17  L 385.56 441.51  z
" clip-path="url(#pf00ca0ee67)" style="fill: #143b55; fill-opacity: 0.08"/>
<path d="M 259.92 269.24  L 253.82 276.55  L 260.01 278.81  L 265.28 271.18  z
" clip-path="url(#pf00ca0ee67)" style="fill: #22638f; fill-opacity: 0.08"/>
<path d="M 332.32 271.18  L 337.59 278.81  L 343.78 276.55  L 337.68 269.24  z
" clip-path="url(#pf00ca0ee67)" style="fill: #22638f; fill-opacity: 0.08"/>
<path d="M 289.17 260.51  L 286.82 267.45  L 292.76 267.93  L 293.94 260.9  z
" clip-path="url(#pf00ca0ee67)" style="fill: #236592; fill-opacity: 0.08"/>
<path d="M 303.66 260.9  L 304.84 267.93  L 310.78 267.45  L 308.43 260.51  z
" clip-path="url(#pf00ca0ee67)" style="fill: #236592; fill-opacity: 0.08"/>
<path d="M 383.58 354.05  L 387.06 365.41  L 397.46 360.06  L 393.58 348.95  z
" clip-path="url(#pf00ca0ee67)" style="fill: #1b5073; fill-opacity: 0.08"/>
<path d="M 204.02 348.95  L 200.14 360.06  L 210.54 365.41  L 214.02 354.05  z
" clip-path="url(#pf00ca0ee67)" style="fill: #1b5073; fill-opacity: 0.08"/>
<path d="M 293.94 260.9  L 292.76 267.93  L 298.8 268.1  L 298.8 261.02  z
" clip-path="url(#pf00ca0ee67)" style="fill: #236592; fill-opacity: 0.08"/>
<path d="M 298.8 261.02  L 298.8 268.1  L 304.84 267.93  L 303.66 260.9  z
" clip-path="url(#pf00ca0ee67)" style="fill: #236592; fill-opacity: 0.08"/>
<path d="M 355.4 293.01  L 360.86 302.08  L 368.24 298.48  L 362.15 289.75  z
" clip-path="url(#pf00ca0ee67)" style="fill: #205e87; fill-opacity: 0.08"/>
<path d="M 235.45 289.75  L 229.36 298.48  L 236.74 302.08  L 242.2 293.01  z
" clip-path="url(#pf00ca0ee67)" style="fill: #205e87; fill-opacity: 0.08"/>
<path d="M 202.53 400.5  L 200.71 412.33  L 214.04 417.76  L 215.62 405.78  z
" clip-path="url(#pf00ca0ee67)" style="fill: #174462; fill-opacity: 0.08"/>
<path d="M 381.98 405.78  L 383.56 417.76  L 396.89 412.33  L 395.07 400.5  z
" clip-path="url(#pf00ca0ee67)" style="fill: #174462; fill-opacity: 0.08"/>
<path d="M 379.72 342.93  L 383.58 354.05  L 393.58 348.95  L 389.28 338.1  z
" clip-path="url(#pf00ca0ee67)" style="fill: #1c5276; fill-opacity: 0.08"/>
<path d="M 208.32 338.1  L 204.02 348.95  L 214.02 354.05  L 217.88 342.93  z
" clip-path="url(#pf00ca0ee67)" style="fill: #1c5276; fill-opacity: 0.08"/>
<path d="M 360.86 302.08  L 366.04 311.65  L 374.03 307.72  L 368.24 298.48  z
" clip-path="url(#pf00ca0ee67)" style="fill: #1f5b84; fill-opacity: 0.08"/>
<path d="M 229.36 298.48  L 223.57 307.72  L 231.56 311.65  L 236.74 302.08  z
" clip-path="url(#pf00ca0ee67)" style="fill: #1f5b84; fill-opacity: 0.08"/>
<path d="M 316.51 266.66  L 319.92 274.12  L 326.36 272.82  L 321.91 265.57  z
" clip-path="url(#pf00ca0ee67)" style="fill: #22648f; fill-opacity: 0.08"/>
<path d="M 275.69 265.57  L 271.24 272.82  L 277.68 274.12  L 281.09 266.66  z
" clip-path="url(#pf00ca0ee67)" style="fill: #22648f; fill-opacity: 0.08"/>
<path d="M 213.03 327.58  L 208.32 338.1  L 217.88 342.93  L 222.1 332.13  z
" clip-path="url(#pf00ca0ee67)" style="fill: #1d547a; fill-opacity: 0.08"/>
<path d="M 375.5 332.13  L 379.72 342.93  L 389.28 338.1  L 384.57 327.58  z
" clip-path="url(#pf00ca0ee67)" style="fill: #1d547a; fill-opacity: 0.08"/>
<path d="M 223.57 307.72  L 218.12 317.44  L 226.67 321.68  L 231.56 311.65  z
" clip-path="url(#pf00ca0ee67)" style="fill: #1e5980; fill-opacity: 0.08"/>
<path d="M 366.04 311.65  L 370.93 321.68  L 379.48 317.44  L 374.03 307.72  z
" clip-path="url(#pf00ca0ee67)" style="fill: #1e5980; fill-opacity: 0.08"/>
<path d="M 253.82 276.55  L 247.9 284.49  L 254.9 287.05  L 260.01 278.81  z
" clip-path="url(#pf00ca0ee67)" style="fill: #21618b; fill-opacity: 0.08"/>
<path d="M 337.59 278.81  L 342.7 287.05  L 349.7 284.49  L 343.78 276.55  z
" clip-path="url(#pf00ca0ee67)" style="fill: #21618b; fill-opacity: 0.08"/>
<path d="M 218.12 317.44  L 213.03 327.58  L 222.1 332.13  L 226.67 321.68  z
" clip-path="url(#pf00ca0ee67)" style="fill: #1e577d; fill-opacity: 0.08"/>
<path d="M 370.93 321.68  L 375.5 332.13  L 384.57 327.58  L 379.48 317.44  z
" clip-path="url(#pf00ca0ee67)" style="fill: #1e577d; fill-opacity: 0.08"/>
<path d="M 226.97 458.01  L 226.94 469.5  L 243.66 473.41  L 243.68 461.9  z
" clip-path="url(#pf00ca0ee67)" style="fill: #13364e; fill-opacity: 0.08"/>
<path d="M 353.92 461.9  L 353.94 473.41  L 370.66 469.5  L 370.63 458.01  z
" clip-path="url(#pf00ca0ee67)" style="fill: #13364e; fill-opacity: 0.08"/>
<path d="M 265.28 271.18  L 260.01 278.81  L 266.89 280.71  L 271.24 272.82  z
" clip-path="url(#pf00ca0ee67)" style="fill: #21628d; fill-opacity: 0.08"/>
<path d="M 326.36 272.82  L 330.71 280.71  L 337.59 278.81  L 332.32 271.18  z
" clip-path="url(#pf00ca0ee67)" style="fill: #21628d; fill-opacity: 0.08"/>
<path d="M 369.62 434.39  L 370.29 446.29  L 385.56 441.51  L 384.75 429.68  z
" clip-path="url(#pf00ca0ee67)" style="fill: #153d57; fill-opacity: 0.08"/>
<path d="M 212.85 429.68  L 212.04 441.51  L 227.31 446.29  L 227.98 434.39  z
" clip-path="url(#pf00ca0ee67)" style="fill: #153d57; fill-opacity: 0.08"/>
<path d="M 204.78 388.7  L 202.53 400.5  L 215.62 405.78  L 217.57 393.81  z
" clip-path="url(#pf00ca0ee67)" style="fill: #184664; fill-opacity: 0.08"/>
<path d="M 380.03 393.81  L 381.98 405.78  L 395.07 400.5  L 392.82 388.7  z
" clip-path="url(#pf00ca0ee67)" style="fill: #184664; fill-opacity: 0.08"/>
<path d="M 281.09 266.66  L 277.68 274.12  L 284.51 275.07  L 286.82 267.45  z
" clip-path="url(#pf00ca0ee67)" style="fill: #22638e; fill-opacity: 0.08"/>
<path d="M 310.78 267.45  L 313.09 275.07  L 319.92 274.12  L 316.51 266.66  z
" clip-path="url(#pf00ca0ee67)" style="fill: #22638e; fill-opacity: 0.08"/>
<path d="M 247.9 284.49  L 242.2 293.01  L 249.97 295.88  L 254.9 287.05  z
" clip-path="url(#pf00ca0ee67)" style="fill: #205e87; fill-opacity: 0.08"/>
<path d="M 342.7 287.05  L 347.63 295.88  L 355.4 293.01  L 349.7 284.49  z
" clip-path="url(#pf00ca0ee67)" style="fill: #205e87; fill-opacity: 0.08"/>
<path d="M 286.82 267.45  L 284.51 275.07  L 291.59 275.65  L 292.76 267.93  z
" clip-path="url(#pf00ca0ee67)" style="fill: #22628d; fill-opacity: 0.08"/>
<path d="M 304.84 267.93  L 306.01 275.65  L 313.09 275.07  L 310.78 267.45  z
" clip-path="url(#pf00ca0ee67)" style="fill: #22628d; fill-opacity: 0.08"/>
<path d="M 377.71 381.91  L 380.03 393.81  L 392.82 388.7  L 390.15 376.98  z
" clip-path="url(#pf00ca0ee67)" style="fill: #194867; fill-opacity: 0.08"/>
<path d="M 207.45 376.98  L 204.78 388.7  L 217.57 393.81  L 219.89 381.91  z
" clip-path="url(#pf00ca0ee67)" style="fill: #194867; fill-opacity: 0.08"/>
<path d="M 292.76 267.93  L 291.59 275.65  L 298.8 275.85  L 298.8 268.1  z
" clip-path="url(#pf00ca0ee67)" style="fill: #21628d; fill-opacity: 0.08"/>
<path d="M 298.8 268.1  L 298.8 275.85  L 306.01 275.65  L 304.84 267.93  z
" clip-path="url(#pf00ca0ee67)" style="fill: #21628d; fill-opacity: 0.08"/>
<path d="M 319.92 274.12  L 323.25 282.23  L 330.71 280.71  L 326.36 272.82  z
" clip-path="url(#pf00ca0ee67)" style="fill: #21608b; fill-opacity: 0.08"/>
<path d="M 271.24 272.82  L 266.89 280.71  L 274.35 282.23  L 277.68 274.12  z
" clip-path="url(#pf00ca0ee67)" style="fill: #21608b; fill-opacity: 0.08"/>
<path d="M 260.01 278.81  L 254.9 287.05  L 262.68 289.22  L 266.89 280.71  z
" clip-path="url(#pf00ca0ee67)" style="fill: #205f89; fill-opacity: 0.08"/>
<path d="M 330.71 280.71  L 334.92 289.22  L 342.7 287.05  L 337.59 278.81  z
" clip-path="url(#pf00ca0ee67)" style="fill: #205f89; fill-opacity: 0.08"/>
<path d="M 368.63 422.36  L 369.62 434.39  L 384.75 429.68  L 383.56 417.76  z
" clip-path="url(#pf00ca0ee67)" style="fill: #153e5a; fill-opacity: 0.08"/>
<path d="M 214.04 417.76  L 212.85 429.68  L 227.98 434.39  L 228.97 422.36  z
" clip-path="url(#pf00ca0ee67)" style="fill: #153e5a; fill-opacity: 0.08"/>
<path d="M 227.31 446.29  L 226.97 458.01  L 243.68 461.9  L 243.95 450.13  z
" clip-path="url(#pf00ca0ee67)" style="fill: #133850; fill-opacity: 0.08"/>
<path d="M 353.65 450.13  L 353.92 461.9  L 370.63 458.01  L 370.29 446.29  z
" clip-path="url(#pf00ca0ee67)" style="fill: #133850; fill-opacity: 0.08"/>
<path d="M 242.2 293.01  L 236.74 302.08  L 245.25 305.25  L 249.97 295.88  z
" clip-path="url(#pf00ca0ee67)" style="fill: #1f5b83; fill-opacity: 0.08"/>
<path d="M 347.63 295.88  L 352.35 305.25  L 360.86 302.08  L 355.4 293.01  z
" clip-path="url(#pf00ca0ee67)" style="fill: #1f5b83; fill-opacity: 0.08"/>
<path d="M 210.54 365.41  L 207.45 376.98  L 219.89 381.91  L 222.56 370.14  z
" clip-path="url(#pf00ca0ee67)" style="fill: #194a6a; fill-opacity: 0.08"/>
<path d="M 375.04 370.14  L 377.71 381.91  L 390.15 376.98  L 387.06 365.41  z
" clip-path="url(#pf00ca0ee67)" style="fill: #194a6a; fill-opacity: 0.08"/>
<path d="M 243.68 461.9  L 243.66 473.41  L 261.44 476.27  L 261.45 464.73  z
" clip-path="url(#pf00ca0ee67)" style="fill: #12344b; fill-opacity: 0.08"/>
<path d="M 336.15 464.73  L 336.16 476.27  L 353.94 473.41  L 353.92 461.9  z
" clip-path="url(#pf00ca0ee67)" style="fill: #12344b; fill-opacity: 0.08"/>
<path d="M 236.74 302.08  L 231.56 311.65  L 240.77 315.11  L 245.25 305.25  z
" clip-path="url(#pf00ca0ee67)" style="fill: #1e5980; fill-opacity: 0.08"/>
<path d="M 352.35 305.25  L 356.83 315.11  L 366.04 311.65  L 360.86 302.08  z
" clip-path="url(#pf00ca0ee67)" style="fill: #1e5980; fill-opacity: 0.08"/>
<path d="M 277.68 274.12  L 274.35 282.23  L 282.25 283.34  L 284.51 275.07  z
" clip-path="url(#pf00ca0ee67)" style="fill: #215f89; fill-opacity: 0.08"/>
<path d="M 313.09 275.07  L 315.35 283.34  L 323.25 282.23  L 319.92 274.12  z
" clip-path="url(#pf00ca0ee67)" style="fill: #215f89; fill-opacity: 0.08"/>
<path d="M 214.02 354.05  L 210.54 365.41  L 222.56 370.14  L 225.58 358.55  z
" clip-path="url(#pf00ca0ee67)" style="fill: #1a4c6e; fill-opacity: 0.08"/>
<path d="M 372.02 358.55  L 375.04 370.14  L 387.06 365.41  L 383.58 354.05  z
" clip-path="url(#pf00ca0ee67)" style="fill: #1a4c6e; fill-opacity: 0.08"/>
<path d="M 231.56 311.65  L 226.67 321.68  L 236.54 325.42  L 240.77 315.11  z
" clip-path="url(#pf00ca0ee67)" style="fill: #1d567c; fill-opacity: 0.08"/>
<path d="M 356.83 315.11  L 361.06 325.42  L 370.93 321.68  L 366.04 311.65  z
" clip-path="url(#pf00ca0ee67)" style="fill: #1d567c; fill-opacity: 0.08"/>
<path d="M 254.9 287.05  L 249.97 295.88  L 258.62 298.31  L 262.68 289.22  z
" clip-path="url(#pf00ca0ee67)" style="fill: #1f5c84; fill-opacity: 0.08"/>
<path d="M 334.92 289.22  L 338.98 298.31  L 347.63 295.88  L 342.7 287.05  z
" clip-path="url(#pf00ca0ee67)" style="fill: #1f5c84; fill-opacity: 0.08"/>
<path d="M 215.62 405.78  L 214.04 417.76  L 228.97 422.36  L 230.27 410.26  z
" clip-path="url(#pf00ca0ee67)" style="fill: #16405c; fill-opacity: 0.08"/>
<path d="M 367.33 410.26  L 368.63 422.36  L 383.56 417.76  L 381.98 405.78  z
" clip-path="url(#pf00ca0ee67)" style="fill: #16405c; fill-opacity: 0.08"/>
<path d="M 217.88 342.93  L 214.02 354.05  L 225.58 358.55  L 228.92 347.19  z
" clip-path="url(#pf00ca0ee67)" style="fill: #1b4e71; fill-opacity: 0.08"/>
<path d="M 368.68 347.19  L 372.02 358.55  L 383.58 354.05  L 379.72 342.93  z
" clip-path="url(#pf00ca0ee67)" style="fill: #1b4e71; fill-opacity: 0.08"/>
<path d="M 226.67 321.68  L 222.1 332.13  L 232.58 336.13  L 236.54 325.42  z
" clip-path="url(#pf00ca0ee67)" style="fill: #1d5378; fill-opacity: 0.08"/>
<path d="M 361.06 325.42  L 365.02 336.13  L 375.5 332.13  L 370.93 321.68  z
" clip-path="url(#pf00ca0ee67)" style="fill: #1d5378; fill-opacity: 0.08"/>
<path d="M 266.89 280.71  L 262.68 289.22  L 271.12 290.96  L 274.35 282.23  z
" clip-path="url(#pf00ca0ee67)" style="fill: #205d86; fill-opacity: 0.08"/>
<path d="M 323.25 282.23  L 326.48 290.96  L 334.92 289.22  L 330.71 280.71  z
" clip-path="url(#pf00ca0ee67)" style="fill: #205d86; fill-opacity: 0.08"/>
<path d="M 306.01 275.65  L 307.15 284.01  L 315.35 283.34  L 313.09 275.07  z
" clip-path="url(#pf00ca0ee67)" style="fill: #205f88; fill-opacity: 0.08"/>
<path d="M 284.51 275.07  L 282.25 283.34  L 290.45 284.01  L 291.59 275.65  z
" clip-path="url(#pf00ca0ee67)" style="fill: #205f88; fill-opacity: 0.08"/>
<path d="M 222.1 332.13  L 217.88 342.93  L 228.92 347.19  L 232.58 336.13  z
" clip-path="url(#pf00ca0ee67)" style="fill: #1c5175; fill-opacity: 0.08"/>
<path d="M 365.02 336.13  L 368.68 347.19  L 379.72 342.93  L 375.5 332.13  z
" clip-path="url(#pf00ca0ee67)" style="fill: #1c5175; fill-opacity: 0.08"/>
<path d="M 227.98 434.39  L 227.31 446.29  L 243.95 450.13  L 244.46 438.16  z
" clip-path="url(#pf00ca0ee67)" style="fill: #143953; fill-opacity: 0.08"/>
<path d="M 353.14 438.16  L 353.65 450.13  L 370.29 446.29  L 369.62 434.39  z
" clip-path="url(#pf00ca0ee67)" style="fill: #143953; fill-opacity: 0.08"/>
<path d="M 291.59 275.65  L 290.45 284.01  L 298.8 284.24  L 298.8 275.85  z
" clip-path="url(#pf00ca0ee67)" style="fill: #205e88; fill-opacity: 0.08"/>
<path d="M 298.8 275.85  L 298.8 284.24  L 307.15 284.01  L 306.01 275.65  z
" clip-path="url(#pf00ca0ee67)" style="fill: #205e88; fill-opacity: 0.08"/>
<path d="M 261.45 464.73  L 261.44 476.27  L 279.94 478.01  L 279.94 466.46  z
" clip-path="url(#pf00ca0ee67)" style="fill: #113248; fill-opacity: 0.08"/>
<path d="M 317.66 466.46  L 317.66 478.01  L 336.16 476.27  L 336.15 464.73  z
" clip-path="url(#pf00ca0ee67)" style="fill: #113248; fill-opacity: 0.08"/>
<path d="M 249.97 295.88  L 245.25 305.25  L 254.73 307.93  L 258.62 298.31  z
" clip-path="url(#pf00ca0ee67)" style="fill: #1e5980; fill-opacity: 0.08"/>
<path d="M 338.98 298.31  L 342.87 307.93  L 352.35 305.25  L 347.63 295.88  z
" clip-path="url(#pf00ca0ee67)" style="fill: #1e5980; fill-opacity: 0.08"/>
<path d="M 217.57 393.81  L 215.62 405.78  L 230.27 410.26  L 231.88 398.15  z
" clip-path="url(#pf00ca0ee67)" style="fill: #17425f; fill-opacity: 0.08"/>
<path d="M 365.72 398.15  L 367.33 410.26  L 381.98 405.78  L 380.03 393.81  z
" clip-path="url(#pf00ca0ee67)" style="fill: #17425f; fill-opacity: 0.08"/>
<path d="M 335.97 452.93  L 336.15 464.73  L 353.92 461.9  L 353.65 450.13  z
" clip-path="url(#pf00ca0ee67)" style="fill: #12354d; fill-opacity: 0.08"/>
<path d="M 243.95 450.13  L 243.68 461.9  L 261.45 464.73  L 261.63 452.93  z
" clip-path="url(#pf00ca0ee67)" style="fill: #12354d; fill-opacity: 0.08"/>
<path d="M 274.35 282.23  L 271.12 290.96  L 280.06 292.22  L 282.25 283.34  z
" clip-path="url(#pf00ca0ee67)" style="fill: #1f5c85; fill-opacity: 0.08"/>
<path d="M 315.35 283.34  L 317.54 292.22  L 326.48 290.96  L 323.25 282.23  z
" clip-path="url(#pf00ca0ee67)" style="fill: #1f5c85; fill-opacity: 0.08"/>
<path d="M 262.68 289.22  L 258.62 298.31  L 268 300.25  L 271.12 290.96  z
" clip-path="url(#pf00ca0ee67)" style="fill: #1f5a82; fill-opacity: 0.08"/>
<path d="M 326.48 290.96  L 329.6 300.25  L 338.98 298.31  L 334.92 289.22  z
" clip-path="url(#pf00ca0ee67)" style="fill: #1f5a82; fill-opacity: 0.08"/>
<path d="M 352.38 426.05  L 353.14 438.16  L 369.62 434.39  L 368.63 422.36  z
" clip-path="url(#pf00ca0ee67)" style="fill: #143b55; fill-opacity: 0.08"/>
<path d="M 228.97 422.36  L 227.98 434.39  L 244.46 438.16  L 245.22 426.05  z
" clip-path="url(#pf00ca0ee67)" style="fill: #143b55; fill-opacity: 0.08"/>
<path d="M 279.94 466.46  L 279.94 478.01  L 298.8 478.59  L 298.8 467.04  z
" clip-path="url(#pf00ca0ee67)" style="fill: #113147; fill-opacity: 0.08"/>
<path d="M 298.8 467.04  L 298.8 478.59  L 317.66 478.01  L 317.66 466.46  z
" clip-path="url(#pf00ca0ee67)" style="fill: #113147; fill-opacity: 0.08"/>
<path d="M 245.25 305.25  L 240.77 315.11  L 251.03 318.04  L 254.73 307.93  z
" clip-path="url(#pf00ca0ee67)" style="fill: #1d567c; fill-opacity: 0.08"/>
<path d="M 342.87 307.93  L 346.57 318.04  L 356.83 315.11  L 352.35 305.25  z
" clip-path="url(#pf00ca0ee67)" style="fill: #1d567c; fill-opacity: 0.08"/>
<path d="M 219.89 381.91  L 217.57 393.81  L 231.88 398.15  L 233.8 386.1  z
" clip-path="url(#pf00ca0ee67)" style="fill: #174462; fill-opacity: 0.08"/>
<path d="M 363.8 386.1  L 365.72 398.15  L 380.03 393.81  L 377.71 381.91  z
" clip-path="url(#pf00ca0ee67)" style="fill: #174462; fill-opacity: 0.08"/>
<path d="M 282.25 283.34  L 280.06 292.22  L 289.34 292.99  L 290.45 284.01  z
" clip-path="url(#pf00ca0ee67)" style="fill: #1f5b83; fill-opacity: 0.08"/>
<path d="M 307.15 284.01  L 308.26 292.99  L 317.54 292.22  L 315.35 283.34  z
" clip-path="url(#pf00ca0ee67)" style="fill: #1f5b83; fill-opacity: 0.08"/>
<path d="M 290.45 284.01  L 289.34 292.99  L 298.8 293.24  L 298.8 284.24  z
" clip-path="url(#pf00ca0ee67)" style="fill: #1f5b83; fill-opacity: 0.08"/>
<path d="M 298.8 284.24  L 298.8 293.24  L 308.26 292.99  L 307.15 284.01  z
" clip-path="url(#pf00ca0ee67)" style="fill: #1f5b83; fill-opacity: 0.08"/>
<path d="M 240.77 315.11  L 236.54 325.42  L 247.54 328.59  L 251.03 318.04  z
" clip-path="url(#pf00ca0ee67)" style="fill: #1c5378; fill-opacity: 0.08"/>
<path d="M 346.57 318.04  L 350.06 328.59  L 361.06 325.42  L 356.83 315.11  z
" clip-path="url(#pf00ca0ee67)" style="fill: #1c5378; fill-opacity: 0.08"/>
<path d="M 222.56 370.14  L 219.89 381.91  L 233.8 386.1  L 236.01 374.15  z
" clip-path="url(#pf00ca0ee67)" style="fill: #184665; fill-opacity: 0.08"/>
<path d="M 361.59 374.15  L 363.8 386.1  L 377.71 381.91  L 375.04 370.14  z
" clip-path="url(#pf00ca0ee67)" style="fill: #184665; fill-opacity: 0.08"/>
<path d="M 244.46 438.16  L 243.95 450.13  L 261.63 452.93  L 261.98 440.91  z
" clip-path="url(#pf00ca0ee67)" style="fill: #13374f; fill-opacity: 0.08"/>
<path d="M 335.62 440.91  L 335.97 452.93  L 353.65 450.13  L 353.14 438.16  z
" clip-path="url(#pf00ca0ee67)" style="fill: #13374f; fill-opacity: 0.08"/>
<path d="M 261.63 452.93  L 261.45 464.73  L 279.94 466.46  L 280.04 454.63  z
" clip-path="url(#pf00ca0ee67)" style="fill: #12344a; fill-opacity: 0.08"/>
<path d="M 317.56 454.63  L 317.66 466.46  L 336.15 464.73  L 335.97 452.93  z
" clip-path="url(#pf00ca0ee67)" style="fill: #12344a; fill-opacity: 0.08"/>
<path d="M 258.62 298.31  L 254.73 307.93  L 265.02 310.08  L 268 300.25  z
" clip-path="url(#pf00ca0ee67)" style="fill: #1e577d; fill-opacity: 0.08"/>
<path d="M 329.6 300.25  L 332.58 310.08  L 342.87 307.93  L 338.98 298.31  z
" clip-path="url(#pf00ca0ee67)" style="fill: #1e577d; fill-opacity: 0.08"/>
<path d="M 271.12 290.96  L 268 300.25  L 277.95 301.67  L 280.06 292.22  z
" clip-path="url(#pf00ca0ee67)" style="fill: #1e5980; fill-opacity: 0.08"/>
<path d="M 317.54 292.22  L 319.65 301.67  L 329.6 300.25  L 326.48 290.96  z
" clip-path="url(#pf00ca0ee67)" style="fill: #1e5980; fill-opacity: 0.08"/>
<path d="M 350.06 328.59  L 353.32 339.53  L 365.02 336.13  L 361.06 325.42  z
" clip-path="url(#pf00ca0ee67)" style="fill: #1c5074; fill-opacity: 0.08"/>
<path d="M 236.54 325.42  L 232.58 336.13  L 244.28 339.53  L 247.54 328.59  z
" clip-path="url(#pf00ca0ee67)" style="fill: #1c5074; fill-opacity: 0.08"/>
<path d="M 359.1 362.36  L 361.59 374.15  L 375.04 370.14  L 372.02 358.55  z
" clip-path="url(#pf00ca0ee67)" style="fill: #194969; fill-opacity: 0.08"/>
<path d="M 225.58 358.55  L 222.56 370.14  L 236.01 374.15  L 238.5 362.36  z
" clip-path="url(#pf00ca0ee67)" style="fill: #194969; fill-opacity: 0.08"/>
<path d="M 230.27 410.26  L 228.97 422.36  L 245.22 426.05  L 246.22 413.85  z
" clip-path="url(#pf00ca0ee67)" style="fill: #153d58; fill-opacity: 0.08"/>
<path d="M 351.38 413.85  L 352.38 426.05  L 368.63 422.36  L 367.33 410.26  z
" clip-path="url(#pf00ca0ee67)" style="fill: #153d58; fill-opacity: 0.08"/>
<path d="M 232.58 336.13  L 228.92 347.19  L 241.26 350.81  L 244.28 339.53  z
" clip-path="url(#pf00ca0ee67)" style="fill: #1b4e70; fill-opacity: 0.08"/>
<path d="M 353.32 339.53  L 356.34 350.81  L 368.68 347.19  L 365.02 336.13  z
" clip-path="url(#pf00ca0ee67)" style="fill: #1b4e70; fill-opacity: 0.08"/>
<path d="M 228.92 347.19  L 225.58 358.55  L 238.5 362.36  L 241.26 350.81  z
" clip-path="url(#pf00ca0ee67)" style="fill: #1a4b6c; fill-opacity: 0.08"/>
<path d="M 356.34 350.81  L 359.1 362.36  L 372.02 358.55  L 368.68 347.19  z
" clip-path="url(#pf00ca0ee67)" style="fill: #1a4b6c; fill-opacity: 0.08"/>
<path d="M 280.04 454.63  L 279.94 466.46  L 298.8 467.04  L 298.8 455.2  z
" clip-path="url(#pf00ca0ee67)" style="fill: #113349; fill-opacity: 0.08"/>
<path d="M 298.8 455.2  L 298.8 467.04  L 317.66 466.46  L 317.56 454.63  z
" clip-path="url(#pf00ca0ee67)" style="fill: #113349; fill-opacity: 0.08"/>
<path d="M 280.06 292.22  L 277.95 301.67  L 288.28 302.52  L 289.34 292.99  z
" clip-path="url(#pf00ca0ee67)" style="fill: #1e587f; fill-opacity: 0.08"/>
<path d="M 308.26 292.99  L 309.32 302.52  L 319.65 301.67  L 317.54 292.22  z
" clip-path="url(#pf00ca0ee67)" style="fill: #1e587f; fill-opacity: 0.08"/>
<path d="M 254.73 307.93  L 251.03 318.04  L 262.18 320.38  L 265.02 310.08  z
" clip-path="url(#pf00ca0ee67)" style="fill: #1d5479; fill-opacity: 0.08"/>
<path d="M 332.58 310.08  L 335.42 320.38  L 346.57 318.04  L 342.87 307.93  z
" clip-path="url(#pf00ca0ee67)" style="fill: #1d5479; fill-opacity: 0.08"/>
<path d="M 231.88 398.15  L 230.27 410.26  L 246.22 413.85  L 247.46 401.63  z
" clip-path="url(#pf00ca0ee67)" style="fill: #163f5b; fill-opacity: 0.08"/>
<path d="M 350.14 401.63  L 351.38 413.85  L 367.33 410.26  L 365.72 398.15  z
" clip-path="url(#pf00ca0ee67)" style="fill: #163f5b; fill-opacity: 0.08"/>
<path d="M 245.22 426.05  L 244.46 438.16  L 261.98 440.91  L 262.5 428.74  z
" clip-path="url(#pf00ca0ee67)" style="fill: #133951; fill-opacity: 0.08"/>
<path d="M 335.1 428.74  L 335.62 440.91  L 353.14 438.16  L 352.38 426.05  z
" clip-path="url(#pf00ca0ee67)" style="fill: #133951; fill-opacity: 0.08"/>
<path d="M 298.8 293.24  L 298.8 302.81  L 309.32 302.52  L 308.26 292.99  z
" clip-path="url(#pf00ca0ee67)" style="fill: #1e577e; fill-opacity: 0.08"/>
<path d="M 289.34 292.99  L 288.28 302.52  L 298.8 302.81  L 298.8 293.24  z
" clip-path="url(#pf00ca0ee67)" style="fill: #1e577e; fill-opacity: 0.08"/>
<path d="M 268 300.25  L 265.02 310.08  L 275.93 311.64  L 277.95 301.67  z
" clip-path="url(#pf00ca0ee67)" style="fill: #1d557b; fill-opacity: 0.08"/>
<path d="M 319.65 301.67  L 321.67 311.64  L 332.58 310.08  L 329.6 300.25  z
" clip-path="url(#pf00ca0ee67)" style="fill: #1d557b; fill-opacity: 0.08"/>
<path d="M 261.98 440.91  L 261.63 452.93  L 280.04 454.63  L 280.21 442.58  z
" clip-path="url(#pf00ca0ee67)" style="fill: #12354d; fill-opacity: 0.08"/>
<path d="M 317.39 442.58  L 317.56 454.63  L 335.97 452.93  L 335.62 440.91  z
" clip-path="url(#pf00ca0ee67)" style="fill: #12354d; fill-opacity: 0.08"/>
<path d="M 251.03 318.04  L 247.54 328.59  L 259.5 331.12  L 262.18 320.38  z
" clip-path="url(#pf00ca0ee67)" style="fill: #1c5175; fill-opacity: 0.08"/>
<path d="M 335.42 320.38  L 338.1 331.12  L 350.06 328.59  L 346.57 318.04  z
" clip-path="url(#pf00ca0ee67)" style="fill: #1c5175; fill-opacity: 0.08"/>
<path d="M 233.8 386.1  L 231.88 398.15  L 247.46 401.63  L 248.93 389.44  z
" clip-path="url(#pf00ca0ee67)" style="fill: #16415e; fill-opacity: 0.08"/>
<path d="M 348.67 389.44  L 350.14 401.63  L 365.72 398.15  L 363.8 386.1  z
" clip-path="url(#pf00ca0ee67)" style="fill: #16415e; fill-opacity: 0.08"/>
<path d="M 280.21 442.58  L 280.04 454.63  L 298.8 455.2  L 298.8 443.14  z
" clip-path="url(#pf00ca0ee67)" style="fill: #12344b; fill-opacity: 0.08"/>
<path d="M 298.8 443.14  L 298.8 455.2  L 317.56 454.63  L 317.39 442.58  z
" clip-path="url(#pf00ca0ee67)" style="fill: #12344b; fill-opacity: 0.08"/>
<path d="M 277.95 301.67  L 275.93 311.64  L 287.26 312.59  L 288.28 302.52  z
" clip-path="url(#pf00ca0ee67)" style="fill: #1d557a; fill-opacity: 0.08"/>
<path d="M 309.32 302.52  L 310.34 312.59  L 321.67 311.64  L 319.65 301.67  z
" clip-path="url(#pf00ca0ee67)" style="fill: #1d557a; fill-opacity: 0.08"/>
<path d="M 247.54 328.59  L 244.28 339.53  L 256.99 342.25  L 259.5 331.12  z
" clip-path="url(#pf00ca0ee67)" style="fill: #1b4e70; fill-opacity: 0.08"/>
<path d="M 338.1 331.12  L 340.61 342.25  L 353.32 339.53  L 350.06 328.59  z
" clip-path="url(#pf00ca0ee67)" style="fill: #1b4e70; fill-opacity: 0.08"/>
<path d="M 246.22 413.85  L 245.22 426.05  L 262.5 428.74  L 263.18 416.47  z
" clip-path="url(#pf00ca0ee67)" style="fill: #143a54; fill-opacity: 0.08"/>
<path d="M 334.42 416.47  L 335.1 428.74  L 352.38 426.05  L 351.38 413.85  z
" clip-path="url(#pf00ca0ee67)" style="fill: #143a54; fill-opacity: 0.08"/>
<path d="M 236.01 374.15  L 233.8 386.1  L 248.93 389.44  L 250.63 377.35  z
" clip-path="url(#pf00ca0ee67)" style="fill: #174361; fill-opacity: 0.08"/>
<path d="M 346.97 377.35  L 348.67 389.44  L 363.8 386.1  L 361.59 374.15  z
" clip-path="url(#pf00ca0ee67)" style="fill: #174361; fill-opacity: 0.08"/>
<path d="M 265.02 310.08  L 262.18 320.38  L 274 322.09  L 275.93 311.64  z
" clip-path="url(#pf00ca0ee67)" style="fill: #1c5277; fill-opacity: 0.08"/>
<path d="M 321.67 311.64  L 323.6 322.09  L 335.42 320.38  L 332.58 310.08  z
" clip-path="url(#pf00ca0ee67)" style="fill: #1c5277; fill-opacity: 0.08"/>
<path d="M 244.28 339.53  L 241.26 350.81  L 254.67 353.69  L 256.99 342.25  z
" clip-path="url(#pf00ca0ee67)" style="fill: #1a4b6c; fill-opacity: 0.08"/>
<path d="M 340.61 342.25  L 342.93 353.69  L 356.34 350.81  L 353.32 339.53  z
" clip-path="url(#pf00ca0ee67)" style="fill: #1a4b6c; fill-opacity: 0.08"/>
<path d="M 238.5 362.36  L 236.01 374.15  L 250.63 377.35  L 252.55 365.42  z
" clip-path="url(#pf00ca0ee67)" style="fill: #184665; fill-opacity: 0.08"/>
<path d="M 345.05 365.42  L 346.97 377.35  L 361.59 374.15  L 359.1 362.36  z
" clip-path="url(#pf00ca0ee67)" style="fill: #184665; fill-opacity: 0.08"/>
<path d="M 288.28 302.52  L 287.26 312.59  L 298.8 312.91  L 298.8 302.81  z
" clip-path="url(#pf00ca0ee67)" style="fill: #1d5479; fill-opacity: 0.08"/>
<path d="M 298.8 302.81  L 298.8 312.91  L 310.34 312.59  L 309.32 302.52  z
" clip-path="url(#pf00ca0ee67)" style="fill: #1d5479; fill-opacity: 0.08"/>
<path d="M 262.5 428.74  L 261.98 440.91  L 280.21 442.58  L 280.47 430.37  z
" clip-path="url(#pf00ca0ee67)" style="fill: #13374f; fill-opacity: 0.08"/>
<path d="M 317.13 430.37  L 317.39 442.58  L 335.62 440.91  L 335.1 428.74  z
" clip-path="url(#pf00ca0ee67)" style="fill: #13374f; fill-opacity: 0.08"/>
<path d="M 241.26 350.81  L 238.5 362.36  L 252.55 365.42  L 254.67 353.69  z
" clip-path="url(#pf00ca0ee67)" style="fill: #194968; fill-opacity: 0.08"/>
<path d="M 342.93 353.69  L 345.05 365.42  L 359.1 362.36  L 356.34 350.81  z
" clip-path="url(#pf00ca0ee67)" style="fill: #194968; fill-opacity: 0.08"/>
<path d="M 247.46 401.63  L 246.22 413.85  L 263.18 416.47  L 264.02 404.16  z
" clip-path="url(#pf00ca0ee67)" style="fill: #153d57; fill-opacity: 0.08"/>
<path d="M 333.58 404.16  L 334.42 416.47  L 351.38 413.85  L 350.14 401.63  z
" clip-path="url(#pf00ca0ee67)" style="fill: #153d57; fill-opacity: 0.08"/>
<path d="M 262.18 320.38  L 259.5 331.12  L 272.18 332.97  L 274 322.09  z
" clip-path="url(#pf00ca0ee67)" style="fill: #1b4f72; fill-opacity: 0.08"/>
<path d="M 323.6 322.09  L 325.42 332.97  L 338.1 331.12  L 335.42 320.38  z
" clip-path="url(#pf00ca0ee67)" style="fill: #1b4f72; fill-opacity: 0.08"/>
<path d="M 275.93 311.64  L 274 322.09  L 286.28 323.13  L 287.26 312.59  z
" clip-path="url(#pf00ca0ee67)" style="fill: #1c5175; fill-opacity: 0.08"/>
<path d="M 310.34 312.59  L 311.32 323.13  L 323.6 322.09  L 321.67 311.64  z
" clip-path="url(#pf00ca0ee67)" style="fill: #1c5175; fill-opacity: 0.08"/>
<path d="M 280.47 430.37  L 280.21 442.58  L 298.8 443.14  L 298.8 430.92  z
" clip-path="url(#pf00ca0ee67)" style="fill: #12364e; fill-opacity: 0.08"/>
<path d="M 298.8 430.92  L 298.8 443.14  L 317.39 442.58  L 317.13 430.37  z
" clip-path="url(#pf00ca0ee67)" style="fill: #12364e; fill-opacity: 0.08"/>
<path d="M 263.18 416.47  L 262.5 428.74  L 280.47 430.37  L 280.82 418.06  z
" clip-path="url(#pf00ca0ee67)" style="fill: #133952; fill-opacity: 0.08"/>
<path d="M 316.78 418.06  L 317.13 430.37  L 335.1 428.74  L 334.42 416.47  z
" clip-path="url(#pf00ca0ee67)" style="fill: #133952; fill-opacity: 0.08"/>
<path d="M 248.93 389.44  L 247.46 401.63  L 264.02 404.16  L 265.02 391.88  z
" clip-path="url(#pf00ca0ee67)" style="fill: #153f5b; fill-opacity: 0.08"/>
<path d="M 332.58 391.88  L 333.58 404.16  L 350.14 401.63  L 348.67 389.44  z
" clip-path="url(#pf00ca0ee67)" style="fill: #153f5b; fill-opacity: 0.08"/>
<path d="M 287.26 312.59  L 286.28 323.13  L 298.8 323.48  L 298.8 312.91  z
" clip-path="url(#pf00ca0ee67)" style="fill: #1c5174; fill-opacity: 0.08"/>
<path d="M 298.8 312.91  L 298.8 323.48  L 311.32 323.13  L 310.34 312.59  z
" clip-path="url(#pf00ca0ee67)" style="fill: #1c5174; fill-opacity: 0.08"/>
<path d="M 259.5 331.12  L 256.99 342.25  L 270.48 344.22  L 272.18 332.97  z
" clip-path="url(#pf00ca0ee67)" style="fill: #1a4c6e; fill-opacity: 0.08"/>
<path d="M 325.42 332.97  L 327.12 344.22  L 340.61 342.25  L 338.1 331.12  z
" clip-path="url(#pf00ca0ee67)" style="fill: #1a4c6e; fill-opacity: 0.08"/>
<path d="M 250.63 377.35  L 248.93 389.44  L 265.02 391.88  L 266.17 379.69  z
" clip-path="url(#pf00ca0ee67)" style="fill: #16415e; fill-opacity: 0.08"/>
<path d="M 331.43 379.69  L 332.58 391.88  L 348.67 389.44  L 346.97 377.35  z
" clip-path="url(#pf00ca0ee67)" style="fill: #16415e; fill-opacity: 0.08"/>
<path d="M 274 322.09  L 272.18 332.97  L 285.37 334.09  L 286.28 323.13  z
" clip-path="url(#pf00ca0ee67)" style="fill: #1b4e70; fill-opacity: 0.08"/>
<path d="M 311.32 323.13  L 312.23 334.09  L 325.42 332.97  L 323.6 322.09  z
" clip-path="url(#pf00ca0ee67)" style="fill: #1b4e70; fill-opacity: 0.08"/>
<path d="M 327.12 344.22  L 328.69 355.8  L 342.93 353.69  L 340.61 342.25  z
" clip-path="url(#pf00ca0ee67)" style="fill: #19496a; fill-opacity: 0.08"/>
<path d="M 256.99 342.25  L 254.67 353.69  L 268.91 355.8  L 270.48 344.22  z
" clip-path="url(#pf00ca0ee67)" style="fill: #19496a; fill-opacity: 0.08"/>
<path d="M 280.82 418.06  L 280.47 430.37  L 298.8 430.92  L 298.8 418.59  z
" clip-path="url(#pf00ca0ee67)" style="fill: #133851; fill-opacity: 0.08"/>
<path d="M 298.8 418.59  L 298.8 430.92  L 317.13 430.37  L 316.78 418.06  z
" clip-path="url(#pf00ca0ee67)" style="fill: #133851; fill-opacity: 0.08"/>
<path d="M 252.55 365.42  L 250.63 377.35  L 266.17 379.69  L 267.47 367.64  z
" clip-path="url(#pf00ca0ee67)" style="fill: #174462; fill-opacity: 0.08"/>
<path d="M 330.13 367.64  L 331.43 379.69  L 346.97 377.35  L 345.05 365.42  z
" clip-path="url(#pf00ca0ee67)" style="fill: #174462; fill-opacity: 0.08"/>
<path d="M 328.69 355.8  L 330.13 367.64  L 345.05 365.42  L 342.93 353.69  z
" clip-path="url(#pf00ca0ee67)" style="fill: #184666; fill-opacity: 0.08"/>
<path d="M 254.67 353.69  L 252.55 365.42  L 267.47 367.64  L 268.91 355.8  z
" clip-path="url(#pf00ca0ee67)" style="fill: #184666; fill-opacity: 0.08"/>
<path d="M 264.02 404.16  L 263.18 416.47  L 280.82 418.06  L 281.24 405.71  z
" clip-path="url(#pf00ca0ee67)" style="fill: #143b55; fill-opacity: 0.08"/>
<path d="M 316.36 405.71  L 316.78 418.06  L 334.42 416.47  L 333.58 404.16  z
" clip-path="url(#pf00ca0ee67)" style="fill: #143b55; fill-opacity: 0.08"/>
<path d="M 286.28 323.13  L 285.37 334.09  L 298.8 334.47  L 298.8 323.48  z
" clip-path="url(#pf00ca0ee67)" style="fill: #1b4d70; fill-opacity: 0.08"/>
<path d="M 298.8 323.48  L 298.8 334.47  L 312.23 334.09  L 311.32 323.13  z
" clip-path="url(#pf00ca0ee67)" style="fill: #1b4d70; fill-opacity: 0.08"/>
<path d="M 272.18 332.97  L 270.48 344.22  L 284.51 345.43  L 285.37 334.09  z
" clip-path="url(#pf00ca0ee67)" style="fill: #1a4b6c; fill-opacity: 0.08"/>
<path d="M 312.23 334.09  L 313.09 345.43  L 327.12 344.22  L 325.42 332.97  z
" clip-path="url(#pf00ca0ee67)" style="fill: #1a4b6c; fill-opacity: 0.08"/>
<path d="M 265.02 391.88  L 264.02 404.16  L 281.24 405.71  L 281.75 393.37  z
" clip-path="url(#pf00ca0ee67)" style="fill: #153d58; fill-opacity: 0.08"/>
<path d="M 315.85 393.37  L 316.36 405.71  L 333.58 404.16  L 332.58 391.88  z
" clip-path="url(#pf00ca0ee67)" style="fill: #153d58; fill-opacity: 0.08"/>
<path d="M 281.24 405.71  L 280.82 418.06  L 298.8 418.59  L 298.8 406.22  z
" clip-path="url(#pf00ca0ee67)" style="fill: #143a54; fill-opacity: 0.08"/>
<path d="M 298.8 406.22  L 298.8 418.59  L 316.78 418.06  L 316.36 405.71  z
" clip-path="url(#pf00ca0ee67)" style="fill: #143a54; fill-opacity: 0.08"/>
<path d="M 270.48 344.22  L 268.91 355.8  L 283.71 357.08  L 284.51 345.43  z
" clip-path="url(#pf00ca0ee67)" style="fill: #194868; fill-opacity: 0.08"/>
<path d="M 313.09 345.43  L 313.89 357.08  L 328.69 355.8  L 327.12 344.22  z
" clip-path="url(#pf00ca0ee67)" style="fill: #194868; fill-opacity: 0.08"/>
<path d="M 285.37 334.09  L 284.51 345.43  L 298.8 345.83  L 298.8 334.47  z
" clip-path="url(#pf00ca0ee67)" style="fill: #194a6b; fill-opacity: 0.08"/>
<path d="M 298.8 334.47  L 298.8 345.83  L 313.09 345.43  L 312.23 334.09  z
" clip-path="url(#pf00ca0ee67)" style="fill: #194a6b; fill-opacity: 0.08"/>
<path d="M 266.17 379.69  L 265.02 391.88  L 281.75 393.37  L 282.33 381.11  z
" clip-path="url(#pf00ca0ee67)" style="fill: #16405c; fill-opacity: 0.08"/>
<path d="M 315.27 381.11  L 315.85 393.37  L 332.58 391.88  L 331.43 379.69  z
" clip-path="url(#pf00ca0ee67)" style="fill: #16405c; fill-opacity: 0.08"/>
<path d="M 268.91 355.8  L 267.47 367.64  L 282.98 369  L 283.71 357.08  z
" clip-path="url(#pf00ca0ee67)" style="fill: #184564; fill-opacity: 0.08"/>
<path d="M 313.89 357.08  L 314.62 369  L 330.13 367.64  L 328.69 355.8  z
" clip-path="url(#pf00ca0ee67)" style="fill: #184564; fill-opacity: 0.08"/>
<path d="M 267.47 367.64  L 266.17 379.69  L 282.33 381.11  L 282.98 369  z
" clip-path="url(#pf00ca0ee67)" style="fill: #174260; fill-opacity: 0.08"/>
<path d="M 314.62 369  L 315.27 381.11  L 331.43 379.69  L 330.13 367.64  z
" clip-path="url(#pf00ca0ee67)" style="fill: #174260; fill-opacity: 0.08"/>
<path d="M 298.8 393.87  L 298.8 406.22  L 316.36 405.71  L 315.85 393.37  z
" clip-path="url(#pf00ca0ee67)" style="fill: #153d57; fill-opacity: 0.08"/>
<path d="M 281.75 393.37  L 281.24 405.71  L 298.8 406.22  L 298.8 393.87  z
" clip-path="url(#pf00ca0ee67)" style="fill: #153d57; fill-opacity: 0.08"/>
<path d="M 284.51 345.43  L 283.71 357.08  L 298.8 357.51  L 298.8 345.83  z
" clip-path="url(#pf00ca0ee67)" style="fill: #184767; fill-opacity: 0.08"/>
<path d="M 298.8 345.83  L 298.8 357.51  L 313.89 357.08  L 313.09 345.43  z
" clip-path="url(#pf00ca0ee67)" style="fill: #184767; fill-opacity: 0.08"/>
<path d="M 282.33 381.11  L 281.75 393.37  L 298.8 393.87  L 298.8 381.59  z
" clip-path="url(#pf00ca0ee67)" style="fill: #163f5b; fill-opacity: 0.08"/>
<path d="M 298.8 381.59  L 298.8 393.87  L 315.85 393.37  L 315.27 381.11  z
" clip-path="url(#pf00ca0ee67)" style="fill: #163f5b; fill-opacity: 0.08"/>
<path d="M 283.71 357.08  L 282.98 369  L 298.8 369.45  L 298.8 357.51  z
" clip-path="url(#pf00ca0ee67)" style="fill: #174463; fill-opacity: 0.08"/>
<path d="M 298.8 357.51  L 298.8 369.45  L 314.62 369  L 313.89 357.08  z
" clip-path="url(#pf00ca0ee67)" style="fill: #174463; fill-opacity: 0.08"/>
<path d="M 282.98 369  L 282.33 381.11  L 298.8 381.59  L 298.8 369.45  z
" clip-path="url(#pf00ca0ee67)" style="fill: #16425f; fill-opacity: 0.08"/>
<path d="M 298.8 369.45  L 298.8 381.59  L 315.27 381.11  L 314.62 369  z
" clip-path="url(#pf00ca0ee67)" style="fill: #16425f; fill-opacity: 0.08"/>
</g>
<g id="Poly3DCollection_2">
<path d="M 298.8 310.3  L 54.08 413.22  L 298.8 532.86  L 543.52 413.22  z
" clip-path="url(#pf00ca0ee67)" style="fill: #8b4513; fill-opacity: 0.15"/>
</g>
</g>
<g id="patch_6">
<path d="M 585.72 597.42  L 1131.84 597.42  L 1131.84 51.3  L 585.72 51.3  z
" style="fill: #ffffff"/>
</g>
<g id="pane3d_4">
<g id="patch_7">
<path d="M 866.16 352.48  L 1110.92 438.96  L 1118.51 191.22  L 866.16 120.68
" style="fill: #f2f2f2; opacity: 0.5; stroke: #f2f2f2; stroke-linejoin: miter"/>
</g>
</g>
<g id="pane3d_5">
<g id="patch_8">
<path d="M 866.16 352.48  L 621.4 438.96  L 613.81 191.22  L 866.16 120.68
" style="fill: #e6e6e6; opacity: 0.5; stroke: #e6e6e6; stroke-linejoin: miter"/>
</g>
</g>
<g id="pane3d_6">
<g id="patch_9">
<path d="M 866.16 352.48  L 621.4 438.96  L 866.16 540.05  L 1110.92 438.96
" style="fill: #ececec; opacity: 0.5; stroke: #ececec; stroke-linejoin: miter"/>
</g>
</g>
<g id="grid3d_4">
<g id="Line3DCollection_5">
<path d="M 1088.17 448.35  L 843.29 360.56  L 842.63 127.26
" style="fill: none; stroke: #b0b0b0; stroke-width: 0.8"/>
<path d="M 1041.59 467.59  L 796.53 377.08  L 794.49 140.72
" style="fill: none; stroke: #b0b0b0; stroke-width: 0.8"/>
<path d="M 993.5 487.45  L 748.37 394.1  L 744.86 154.59
" style="fill: none; stroke: #b0b0b0; stroke-width: 0.8"/>
<path d="M 943.82 507.97  L 698.74 411.63  L 693.67 168.9
" style="fill: none; stroke: #b0b0b0; stroke-width: 0.8"/>
<path d="M 892.48 529.18  L 647.58 429.71  L 640.85 183.66
" style="fill: none; stroke: #b0b0b0; stroke-width: 0.8"/>
</g>
</g>
<g id="grid3d_5">
<g id="Line3DCollection_6">
<path d="M 889.69 127.26  L 889.03 360.56  L 644.15 448.35
" style="fill: none; stroke: #b0b0b0; stroke-width: 0.8"/>
<path d="M 937.83 140.72  L 935.79 377.08  L 690.73 467.59
" style="fill: none; stroke: #b0b0b0; stroke-width: 0.8"/>
<path d="M 987.46 154.59  L 983.95 394.1  L 738.82 487.45
" style="fill: none; stroke: #b0b0b0; stroke-width: 0.8"/>
<path d="M 1038.65 168.9  L 1033.58 411.63  L 788.5 507.97
" style="fill: none; stroke: #b0b0b0; stroke-width: 0.8"/>
<path d="M 1091.47 183.66  L 1084.74 429.71  L 839.84 529.18
" style="fill: none; stroke: #b0b0b0; stroke-width: 0.8"/>
</g>
</g>
<g id="grid3d_6">
<g id="Line3DCollection_7">
<path d="M 620.73 417.05  L 866.16 331.94  L 1111.59 417.05
" style="fill: none; stroke: #b0b0b0; stroke-width: 0.8"/>
<path d="M 619.38 372.88  L 866.16 290.55  L 1112.94 372.88
" style="fill: none; stroke: #b0b0b0; stroke-width: 0.8"/>
<path d="M 618.01 328.22  L 866.16 248.74  L 1114.31 328.22
" style="fill: none; stroke: #b0b0b0; stroke-width: 0.8"/>
<path d="M 616.62 283.06  L 866.16 206.49  L 1115.7 283.06
" style="fill: none; stroke: #b0b0b0; stroke-width: 0.8"/>
<path d="M 615.22 237.4  L 866.16 163.81  L 1117.1 237.4
" style="fill: none; stroke: #b0b0b0; stroke-width: 0.8"/>
<path d="M 613.81 191.22  L 866.16 120.68  L 1118.51 191.22
" style="fill: none; stroke: #b0b0b0; stroke-width: 0.8"/>
</g>
</g>
<g id="axis3d_4">
<g id="line2d_20">
<path d="M 1110.92 438.96  L 866.16 540.05
" style="fill: none; stroke: #000000; stroke-width: 0.8; stroke-linecap: square"/>
</g>
<g id="xtick_17">
<g id="line2d_21">
<path d="M 1086.06 447.59  L 1092.41 449.87
" style="fill: none; stroke: #000000; stroke-width: 0.8; stroke-linecap: square"/>
</g>
<g id="text_20">
<text style="font-size: 12px; font-family: 'DejaVu Sans', 'Liberation Sans', sans-serif; text-anchor: middle" x="1100.69" y="475.2" transform="rotate(-0 1100.69 475.2)">−4</text>
</g>
</g>
<g id="xtick_18">
<g id="line2d_22">
<path d="M 1039.48 466.81  L 1045.83 469.16
" style="fill: none; stroke: #000000; stroke-width: 0.8; stroke-linecap: square"/>
</g>
<g id="text_21">
<text style="font-size: 12px; font-family: 'DejaVu Sans', 'Liberation Sans', sans-serif; text-anchor: middle" x="1054.2" y="494.75" transform="rotate(-0 1054.2 494.75)">−2</text>
</g>
</g>
<g id="xtick_19">
<g id="line2d_23">
<path d="M 991.38 486.65  L 997.75 489.07
" style="fill: none; stroke: #000000; stroke-width: 0.8; stroke-linecap: square"/>
</g>
<g id="text_22">
<text style="font-size: 12px; font-family: 'DejaVu Sans', 'Liberation Sans', sans-serif; text-anchor: middle" x="1006.2" y="514.93" transform="rotate(-0 1006.2 514.93)">0</text>
</g>
</g>
<g id="xtick_20">
<g id="line2d_24">
<path d="M 941.7 507.14  L 948.07 509.64
" style="fill: none; stroke: #000000; stroke-width: 0.8; stroke-linecap: square"/>
</g>
<g id="text_23">
<text style="font-size: 12px; font-family: 'DejaVu Sans', 'Liberation Sans', sans-serif; text-anchor: middle" x="956.61" y="535.78" transform="rotate(-0 956.61 535.78)">2</text>
</g>
</g>
<g id="xtick_21">
<g id="line2d_25">
<path d="M 890.36 528.32  L 896.73 530.9
" style="fill: none; stroke: #000000; stroke-width: 0.8; stroke-linecap: square"/>
</g>
<g id="text_24">
<text style="font-size: 12px; font-family: 'DejaVu Sans', 'Liberation Sans', sans-serif; text-anchor: middle" x="905.35" y="557.33" transform="rotate(-0 905.35 557.33)">4</text>
</g>
</g>
<g id="text_25">
<text style="font-size: 9px; font-family: 'DejaVu Sans', 'Liberation Sans', sans-serif; text-anchor: middle" x="1020.99" y="528.11" transform="rotate(-0 1020.99 528.11)">X</text>
</g>
</g>
<g id="axis3d_5">
<g id="line2d_26">
<path d="M 621.4 438.96  L 866.16 540.05
" style="fill: none; stroke: #000000; stroke-width: 0.8; stroke-linecap: square"/>
</g>
<g id="xtick_22">
<g id="line2d_27">
<path d="M 646.26 447.59  L 639.91 449.87
" style="fill: none; stroke: #000000; stroke-width: 0.8; stroke-linecap: square"/>
</g>
<g id="text_26">
<text style="font-size: 12px; font-family: 'DejaVu Sans', 'Liberation Sans', sans-serif; text-anchor: middle" x="631.63" y="475.2" transform="rotate(-0 631.63 475.2)">−4</text>
</g>
</g>
<g id="xtick_23">
<g id="line2d_28">
<path d="M 692.84 466.81  L 686.49 469.16
" style="fill: none; stroke: #000000; stroke-width: 0.8; stroke-linecap: square"/>
</g>
<g id="text_27">
<text style="font-size: 12px; font-family: 'DejaVu Sans', 'Liberation Sans', sans-serif; text-anchor: middle" x="678.12" y="494.75" transform="rotate(-0 678.12 494.75)">−2</text>
</g>
</g>
<g id="xtick_24">
<g id="line2d_29">
<path d="M 740.94 486.65  L 734.57 489.07
" style="fill: none; stroke: #000000; stroke-width: 0.8; stroke-linecap: square"/>
</g>
<g id="text_28">
<text style="font-size: 12px; font-family: 'DejaVu Sans', 'Liberation Sans', sans-serif; text-anchor: middle" x="726.12" y="514.93" transform="rotate(-0 726.12 514.93)">0</text>
</g>
</g>
<g id="xtick_25">
<g id="line2d_30">
<path d="M 790.62 507.14  L 784.25 509.64
" style="fill: none; stroke: #000000; stroke-width: 0.8; stroke-linecap: square"/>
</g>
<g id="text_29">
<text style="font-size: 12px; font-family: 'DejaVu Sans', 'Liberation Sans', sans-serif; text-anchor: middle" x="775.71" y="535.78" transform="rotate(-0 775.71 535.78)">2</text>
</g>
</g>
<g id="xtick_26">
<g id="line2d_31">
<path d="M 841.96 528.32  L 835.59 530.9
" style="fill: none; stroke: #000000; stroke-width: 0.8; stroke-linecap: square"/>
</g>
<g id="text_30">
<text style="font-size: 12px; font-family: 'DejaVu Sans', 'Liberation Sans', sans-serif; text-anchor: middle" x="826.97" y="557.33" transform="rotate(-0 826.97 557.33)">4</text>
</g>
</g>
<g id="text_31">
<text style="font-size: 9px; font-family: 'DejaVu Sans', 'Liberation Sans', sans-serif; text-anchor: middle" x="711.61" y="527.73" transform="rotate(-0 711.61 527.73)">Y</text>
</g>
</g>
<g id="axis3d_6">
<g id="line2d_32">
<path d="M 621.4 438.96  L 613.81 191.22
" style="fill: none; stroke: #000000; stroke-width: 0.8; stroke-linecap: square"/>
</g>
<g id="xtick_27">
<g id="line2d_33">
<path d="M 622.84 416.32  L 616.49 418.52
" style="fill: none; stroke: #000000; stroke-width: 0.8; stroke-linecap: square"/>
</g>
<g id="text_32">
<text style="font-size: 12px; font-family: 'DejaVu Sans', 'Liberation Sans', sans-serif; text-anchor: middle" x="596.91" y="427.54" transform="rotate(-0 596.91 427.54)">0</text>
</g>
</g>
<g id="xtick_28">
<g id="line2d_34">
<path d="M 621.5 372.17  L 615.11 374.3
" style="fill: none; stroke: #000000; stroke-width: 0.8; stroke-linecap: square"/>
</g>
<g id="text_33">
<text style="font-size: 12px; font-family: 'DejaVu Sans', 'Liberation Sans', sans-serif; text-anchor: middle" x="595.43" y="383.37" transform="rotate(-0 595.43 383.37)">1</text>
</g>
</g>
<g id="xtick_29">
<g id="line2d_35">
<path d="M 620.15 327.54  L 613.72 329.6
" style="fill: none; stroke: #000000; stroke-width: 0.8; stroke-linecap: square"/>
</g>
<g id="text_34">
<text style="font-size: 12px; font-family: 'DejaVu Sans', 'Liberation Sans', sans-serif; text-anchor: middle" x="593.93" y="338.71" transform="rotate(-0 593.93 338.71)">2</text>
</g>
</g>
<g id="xtick_30">
<g id="line2d_36">
<path d="M 618.78 282.4  L 612.31 284.39
" style="fill: none; stroke: #000000; stroke-width: 0.8; stroke-linecap: square"/>
</g>
<g id="text_35">
<text style="font-size: 12px; font-family: 'DejaVu Sans', 'Liberation Sans', sans-serif; text-anchor: middle" x="592.41" y="293.55" transform="rotate(-0 592.41 293.55)">3</text>
</g>
</g>
<g id="xtick_31">
<g id="line2d_37">
<path d="M 617.39 236.77  L 610.88 238.67
" style="fill: none; stroke: #000000; stroke-width: 0.8; stroke-linecap: square"/>
</g>
<g id="text_36">
<text style="font-size: 12px; font-family: 'DejaVu Sans', 'Liberation Sans', sans-serif; text-anchor: middle" x="590.88" y="247.89" transform="rotate(-0 590.88 247.89)">4</text>
</g>
</g>
<g id="xtick_32">
<g id="line2d_38">
<path d="M 615.99 190.61  L 609.44 192.44
" style="fill: none; stroke: #000000; stroke-width: 0.8; stroke-linecap: square"/>
</g>
<g id="text_37">
<text style="font-size: 12px; font-family: 'DejaVu Sans', 'Liberation Sans', sans-serif; text-anchor: middle" x="589.32" y="201.71" transform="rotate(-0 589.32 201.71)">5</text>
</g>
</g>
<g id="text_38">
<text style="font-size: 9px; font-family: 'DejaVu Sans', 'Liberation Sans', sans-serif; text-anchor: middle" x="566.07" y="320.54" transform="rotate(-0 566.07 320.54)">Z</text>
</g>
</g>
<g id="axes_2">
<g id="line2d_39">
<path d="M 967.5 454.94  L 866.16 395.03
" clip-path="url(#p967771afbb)" style="fill: none; stroke-dasharray: 1.85,0.8; stroke-dashoffset: 0; stroke: #27ae60; stroke-opacity: 0.3; stroke-width: 0.5"/>
</g>
<g id="line2d_40">
<path d="M 866.48 471.36  L 866.48 395.03
" clip-path="url(#p967771afbb)" style="fill: none; stroke-dasharray: 1.85,0.8; stroke-dashoffset: 0; stroke: #27ae60; stroke-opacity: 0.3; stroke-width: 0.5"/>
</g>
<g id="line2d_41">
<path d="M 764.82 454.94  L 866.16 395.03
" clip-path="url(#p967771afbb)" style="fill: none; stroke-dasharray: 1.85,0.8; stroke-dashoffset: 0; stroke: #27ae60; stroke-opacity: 0.3; stroke-width: 0.5"/>
</g>
<g id="line2d_42">
<path d="M 727.32 417.05  L 866.16 395.03
" clip-path="url(#p967771afbb)" style="fill: none; stroke-dasharray: 1.85,0.8; stroke-dashoffset: 0; stroke: #27ae60; stroke-opacity: 0.3; stroke-width: 0.5"/>
</g>
<g id="line2d_43">
<path d="M 770.96 381.46  L 866.16 395.03
" clip-path="url(#p967771afbb)" style="fill: none; stroke-dasharray: 1.85,0.8; stroke-dashoffset: 0; stroke: #27ae60; stroke-opacity: 0.3; stroke-width: 0.5"/>
</g>
<g id="line2d_44">
<path d="M 866.48 367.34  L 866.48 395.03
" clip-path="url(#p967771afbb)" style="fill: none; stroke-dasharray: 1.85,0.8; stroke-dashoffset: 0; stroke: #27ae60; stroke-opacity: 0.3; stroke-width: 0.5"/>
</g>
<g id="line2d_45">
<path d="M 961.36 381.46  L 866.16 395.03
" clip-path="url(#p967771afbb)" style="fill: none; stroke-dasharray: 1.85,0.8; stroke-dashoffset: 0; stroke: #27ae60; stroke-opacity: 0.3; stroke-width: 0.5"/>
</g>
<g id="line2d_46">
<path d="M 1005 417.05  L 866.16 395.03
" clip-path="url(#p967771afbb)" style="fill: none; stroke-dasharray: 1.85,0.8; stroke-dashoffset: 0; stroke: #27ae60; stroke-opacity: 0.3; stroke-width: 0.5"/>
</g>
<g id="line2d_47">
<path d="M 966.3 422.89  L 866.16 395.03
" clip-path="url(#p967771afbb)" style="fill: none; stroke-dasharray: 1.85,0.8; stroke-dashoffset: 0; stroke: #2ecc71; stroke-opacity: 0.3; stroke-width: 0.5"/>
</g>
<g id="line2d_48">
<path d="M 866.48 438.68  L 866.48 395.03
" clip-path="url(#p967771afbb)" style="fill: none; stroke-dasharray: 1.85,0.8; stroke-dashoffset: 0; stroke: #2ecc71; stroke-opacity: 0.3; stroke-width: 0.5"/>
</g>
<g id="line2d_49">
<path d="M 766.02 422.89  L 866.16 395.03
" clip-path="url(#p967771afbb)" style="fill: none; stroke-dasharray: 1.85,0.8; stroke-dashoffset: 0; stroke: #2ecc71; stroke-opacity: 0.3; stroke-width: 0.5"/>
</g>
<g id="line2d_50">
<path d="M 728.91 386.42  L 866.16 395.03
" clip-path="url(#p967771afbb)" style="fill: none; stroke-dasharray: 1.85,0.8; stroke-dashoffset: 0; stroke: #2ecc71; stroke-opacity: 0.3; stroke-width: 0.5"/>
</g>
<g id="line2d_51">
<path d="M 772.02 352.14  L 866.16 395.03
" clip-path="url(#p967771afbb)" style="fill: none; stroke-dasharray: 1.85,0.8; stroke-dashoffset: 0; stroke: #2ecc71; stroke-opacity: 0.3; stroke-width: 0.5"/>
</g>
<g id="line2d_52">
<path d="M 866.48 338.54  L 866.48 395.03
" clip-path="url(#p967771afbb)" style="fill: none; stroke-dasharray: 1.85,0.8; stroke-dashoffset: 0; stroke: #2ecc71; stroke-opacity: 0.3; stroke-width: 0.5"/>
</g>
<g id="line2d_53">
<path d="M 960.3 352.14  L 866.16 395.03
" clip-path="url(#p967771afbb)" style="fill: none; stroke-dasharray: 1.85,0.8; stroke-dashoffset: 0; stroke: #2ecc71; stroke-opacity: 0.3; stroke-width: 0.5"/>
</g>
<g id="line2d_54">
<path d="M 1003.41 386.42  L 866.16 395.03
" clip-path="url(#p967771afbb)" style="fill: none; stroke-dasharray: 1.85,0.8; stroke-dashoffset: 0; stroke: #2ecc71; stroke-opacity: 0.3; stroke-width: 0.5"/>
</g>
<g id="line2d_55">
<path d="M 961.94 390.47  L 866.16 395.03
" clip-path="url(#p967771afbb)" style="fill: none; stroke-dasharray: 1.85,0.8; stroke-dashoffset: 0; stroke: #52be80; stroke-opacity: 0.3; stroke-width: 0.5"/>
</g>
<g id="line2d_56">
<path d="M 866.48 405.15  L 866.48 395.03
" clip-path="url(#p967771afbb)" style="fill: none; stroke-dasharray: 1.85,0.8; stroke-dashoffset: 0; stroke: #52be80; stroke-opacity: 0.3; stroke-width: 0.5"/>
</g>
<g id="line2d_57">
<path d="M 770.38 390.47  L 866.16 395.03
" clip-path="url(#p967771afbb)" style="fill: none; stroke-dasharray: 1.85,0.8; stroke-dashoffset: 0; stroke: #52be80; stroke-opacity: 0.3; stroke-width: 0.5"/>
</g>
<g id="line2d_58">
<path d="M 734.71 356.5  L 866.16 395.03
" clip-path="url(#p967771afbb)" style="fill: none; stroke-dasharray: 1.85,0.8; stroke-dashoffset: 0; stroke: #52be80; stroke-opacity: 0.3; stroke-width: 0.5"/>
</g>
<g id="line2d_59">
<path d="M 775.88 324.49  L 866.16 395.03
" clip-path="url(#p967771afbb)" style="fill: none; stroke-dasharray: 1.85,0.8; stroke-dashoffset: 0; stroke: #52be80; stroke-opacity: 0.3; stroke-width: 0.5"/>
</g>
<g id="line2d_60">
<path d="M 866.48 311.76  L 866.48 395.03
" clip-path="url(#p967771afbb)" style="fill: none; stroke-dasharray: 1.85,0.8; stroke-dashoffset: 0; stroke: #52be80; stroke-opacity: 0.3; stroke-width: 0.5"/>
</g>
<g id="line2d_61">
<path d="M 956.44 324.49  L 866.16 395.03
" clip-path="url(#p967771afbb)" style="fill: none; stroke-dasharray: 1.85,0.8; stroke-dashoffset: 0; stroke: #52be80; stroke-opacity: 0.3; stroke-width: 0.5"/>
</g>
<g id="line2d_62">
<path d="M 997.61 356.5  L 866.16 395.03
" clip-path="url(#p967771afbb)" style="fill: none; stroke-dasharray: 1.85,0.8; stroke-dashoffset: 0; stroke: #52be80; stroke-opacity: 0.3; stroke-width: 0.5"/>
</g>
<g id="line2d_63">
<path d="M 954.54 358.77  L 866.16 395.03
" clip-path="url(#p967771afbb)" style="fill: none; stroke-dasharray: 1.85,0.8; stroke-dashoffset: 0; stroke: #3498db; stroke-opacity: 0.3; stroke-width: 0.5"/>
</g>
<g id="line2d_64">
<path d="M 866.48 371.93  L 866.48 395.03
" clip-path="url(#p967771afbb)" style="fill: none; stroke-dasharray: 1.85,0.8; stroke-dashoffset: 0; stroke: #3498db; stroke-opacity: 0.3; stroke-width: 0.5"/>
</g>
<g id="line2d_65">
<path d="M 777.78 358.77  L 866.16 395.03
" clip-path="url(#p967771afbb)" style="fill: none; stroke-dasharray: 1.85,0.8; stroke-dashoffset: 0; stroke: #3498db; stroke-opacity: 0.3; stroke-width: 0.5"/>
</g>
<g id="line2d_66">
<path d="M 744.59 328.22  L 866.16 395.03
" clip-path="url(#p967771afbb)" style="fill: none; stroke-dasharray: 1.85,0.8; stroke-dashoffset: 0; stroke: #3498db; stroke-opacity: 0.3; stroke-width: 0.5"/>
</g>
<g id="line2d_67">
<path d="M 782.49 299.31  L 866.16 395.03
" clip-path="url(#p967771afbb)" style="fill: none; stroke-dasharray: 1.85,0.8; stroke-dashoffset: 0; stroke: #3498db; stroke-opacity: 0.3; stroke-width: 0.5"/>
</g>
<g id="line2d_68">
<path d="M 866.48 287.77  L 866.48 395.03
" clip-path="url(#p967771afbb)" style="fill: none; stroke-dasharray: 1.85,0.8; stroke-dashoffset: 0; stroke: #3498db; stroke-opacity: 0.3; stroke-width: 0.5"/>
</g>
<g id="line2d_69">
<path d="M 949.83 299.31  L 866.16 395.03
" clip-path="url(#p967771afbb)" style="fill: none; stroke-dasharray: 1.85,0.8; stroke-dashoffset: 0; stroke: #3498db; stroke-opacity: 0.3; stroke-width: 0.5"/>
</g>
<g id="line2d_70">
<path d="M 987.73 328.22  L 866.16 395.03
" clip-path="url(#p967771afbb)" style="fill: none; stroke-dasharray: 1.85,0.8; stroke-dashoffset: 0; stroke: #3498db; stroke-opacity: 0.3; stroke-width: 0.5"/>
</g>
<g id="line2d_71">
<path d="M 944.34 328.87  L 866.16 395.03
" clip-path="url(#p967771afbb)" style="fill: none; stroke-dasharray: 1.85,0.8; stroke-dashoffset: 0; stroke: #5dade2; stroke-opacity: 0.3; stroke-width: 0.5"/>
</g>
<g id="line2d_72">
<path d="M 866.48 340.18  L 866.48 395.03
" clip-path="url(#p967771afbb)" style="fill: none; stroke-dasharray: 1.85,0.8; stroke-dashoffset: 0; stroke: #5dade2; stroke-opacity: 0.3; stroke-width: 0.5"/>
</g>
<g id="line2d_73">
<path d="M 787.98 328.87  L 866.16 395.03
" clip-path="url(#p967771afbb)" style="fill: none; stroke-dasharray: 1.85,0.8; stroke-dashoffset: 0; stroke: #5dade2; stroke-opacity: 0.3; stroke-width: 0.5"/>
</g>
<g id="line2d_74">
<path d="M 758.28 302.49  L 866.16 395.03
" clip-path="url(#p967771afbb)" style="fill: none; stroke-dasharray: 1.85,0.8; stroke-dashoffset: 0; stroke: #5dade2; stroke-opacity: 0.3; stroke-width: 0.5"/>
</g>
<g id="line2d_75">
<path d="M 791.69 277.36  L 866.16 395.03
" clip-path="url(#p967771afbb)" style="fill: none; stroke-dasharray: 1.85,0.8; stroke-dashoffset: 0; stroke: #5dade2; stroke-opacity: 0.3; stroke-width: 0.5"/>
</g>
<g id="line2d_76">
<path d="M 866.48 267.3  L 866.48 395.03
" clip-path="url(#p967771afbb)" style="fill: none; stroke-dasharray: 1.85,0.8; stroke-dashoffset: 0; stroke: #5dade2; stroke-opacity: 0.3; stroke-width: 0.5"/>
</g>
<g id="line2d_77">
<path d="M 940.63 277.36  L 866.16 395.03
" clip-path="url(#p967771afbb)" style="fill: none; stroke-dasharray: 1.85,0.8; stroke-dashoffset: 0; stroke: #5dade2; stroke-opacity: 0.3; stroke-width: 0.5"/>
</g>
<g id="line2d_78">
<path d="M 974.04 302.49  L 866.16 395.03
" clip-path="url(#p967771afbb)" style="fill: none; stroke-dasharray: 1.85,0.8; stroke-dashoffset: 0; stroke: #5dade2; stroke-opacity: 0.3; stroke-width: 0.5"/>
</g>
<g id="line2d_79">
<path d="M 938.29 314.92  L 866.16 395.03
" clip-path="url(#p967771afbb)" style="fill: none; stroke-dasharray: 1.85,0.8; stroke-dashoffset: 0; stroke: #f1c40f; stroke-opacity: 0.3; stroke-width: 0.5"/>
</g>
<g id="line2d_80">
<path d="M 866.48 325.22  L 866.48 395.03
" clip-path="url(#p967771afbb)" style="fill: none; stroke-dasharray: 1.85,0.8; stroke-dashoffset: 0; stroke: #f1c40f; stroke-opacity: 0.3; stroke-width: 0.5"/>
</g>
<g id="line2d_81">
<path d="M 794.03 314.92  L 866.16 395.03
" clip-path="url(#p967771afbb)" style="fill: none; stroke-dasharray: 1.85,0.8; stroke-dashoffset: 0; stroke: #f1c40f; stroke-opacity: 0.3; stroke-width: 0.5"/>
</g>
<g id="line2d_82">
<path d="M 766.44 290.85  L 866.16 395.03
" clip-path="url(#p967771afbb)" style="fill: none; stroke-dasharray: 1.85,0.8; stroke-dashoffset: 0; stroke: #f1c40f; stroke-opacity: 0.3; stroke-width: 0.5"/>
</g>
<g id="line2d_83">
<path d="M 797.2 267.83  L 866.16 395.03
" clip-path="url(#p967771afbb)" style="fill: none; stroke-dasharray: 1.85,0.8; stroke-dashoffset: 0; stroke: #f1c40f; stroke-opacity: 0.3; stroke-width: 0.5"/>
</g>
<g id="line2d_84">
<path d="M 866.48 258.6  L 866.48 395.03
" clip-path="url(#p967771afbb)" style="fill: none; stroke-dasharray: 1.85,0.8; stroke-dashoffset: 0; stroke: #f1c40f; stroke-opacity: 0.3; stroke-width: 0.5"/>
</g>
<g id="line2d_85">
<path d="M 935.12 267.83  L 866.16 395.03
" clip-path="url(#p967771afbb)" style="fill: none; stroke-dasharray: 1.85,0.8; stroke-dashoffset: 0; stroke: #f1c40f; stroke-opacity: 0.3; stroke-width: 0.5"/>
</g>
<g id="line2d_86">
<path d="M 965.88 290.85  L 866.16 395.03
" clip-path="url(#p967771afbb)" style="fill: none; stroke-dasharray: 1.85,0.8; stroke-dashoffset: 0; stroke: #f1c40f; stroke-opacity: 0.3; stroke-width: 0.5"/>
</g>
<g id="line2d_87">
<path d="M 931.68 301.79  L 866.16 395.03
" clip-path="url(#p967771afbb)" style="fill: none; stroke-dasharray: 1.85,0.8; stroke-dashoffset: 0; stroke: #f39c12; stroke-opacity: 0.3; stroke-width: 0.5"/>
</g>
<g id="line2d_88">
<path d="M 866.48 311.02  L 866.48 395.03
" clip-path="url(#p967771afbb)" style="fill: none; stroke-dasharray: 1.85,0.8; stroke-dashoffset: 0; stroke: #f39c12; stroke-opacity: 0.3; stroke-width: 0.5"/>
</g>
<g id="line2d_89">
<path d="M 800.64 301.79  L 866.16 395.03
" clip-path="url(#p967771afbb)" style="fill: none; stroke-dasharray: 1.85,0.8; stroke-dashoffset: 0; stroke: #f39c12; stroke-opacity: 0.3; stroke-width: 0.5"/>
</g>
<g id="line2d_90">
<path d="M 775.39 280.15  L 866.16 395.03
" clip-path="url(#p967771afbb)" style="fill: none; stroke-dasharray: 1.85,0.8; stroke-dashoffset: 0; stroke: #f39c12; stroke-opacity: 0.3; stroke-width: 0.5"/>
</g>
<g id="line2d_91">
<path d="M 803.26 259.37  L 866.16 395.03
" clip-path="url(#p967771afbb)" style="fill: none; stroke-dasharray: 1.85,0.8; stroke-dashoffset: 0; stroke: #f39c12; stroke-opacity: 0.3; stroke-width: 0.5"/>
</g>
<g id="line2d_92">
<path d="M 866.48 251.01  L 866.48 395.03
" clip-path="url(#p967771afbb)" style="fill: none; stroke-dasharray: 1.85,0.8; stroke-dashoffset: 0; stroke: #f39c12; stroke-opacity: 0.3; stroke-width: 0.5"/>
</g>
<g id="line2d_93">
<path d="M 929.06 259.37  L 866.16 395.03
" clip-path="url(#p967771afbb)" style="fill: none; stroke-dasharray: 1.85,0.8; stroke-dashoffset: 0; stroke: #f39c12; stroke-opacity: 0.3; stroke-width: 0.5"/>
</g>
<g id="line2d_94">
<path d="M 956.93 280.15  L 866.16 395.03
" clip-path="url(#p967771afbb)" style="fill: none; stroke-dasharray: 1.85,0.8; stroke-dashoffset: 0; stroke: #f39c12; stroke-opacity: 0.3; stroke-width: 0.5"/>
</g>
<g id="line2d_95">
<path d="M 917.01 278.44  L 866.16 395.03
" clip-path="url(#p967771afbb)" style="fill: none; stroke-dasharray: 1.85,0.8; stroke-dashoffset: 0; stroke: #e67e22; stroke-opacity: 0.3; stroke-width: 0.5"/>
</g>
<g id="line2d_96">
<path d="M 866.48 285.43  L 866.48 395.03
" clip-path="url(#p967771afbb)" style="fill: none; stroke-dasharray: 1.85,0.8; stroke-dashoffset: 0; stroke: #e67e22; stroke-opacity: 0.3; stroke-width: 0.5"/>
</g>
<g id="line2d_97">
<path d="M 815.31 278.44  L 866.16 395.03
" clip-path="url(#p967771afbb)" style="fill: none; stroke-dasharray: 1.85,0.8; stroke-dashoffset: 0; stroke: #e67e22; stroke-opacity: 0.3; stroke-width: 0.5"/>
</g>
<g id="line2d_98">
<path d="M 795.4 261.94  L 866.16 395.03
" clip-path="url(#p967771afbb)" style="fill: none; stroke-dasharray: 1.85,0.8; stroke-dashoffset: 0; stroke: #e67e22; stroke-opacity: 0.3; stroke-width: 0.5"/>
</g>
<g id="line2d_99">
<path d="M 816.91 245.95  L 866.16 395.03
" clip-path="url(#p967771afbb)" style="fill: none; stroke-dasharray: 1.85,0.8; stroke-dashoffset: 0; stroke: #e67e22; stroke-opacity: 0.3; stroke-width: 0.5"/>
</g>
<g id="line2d_100">
<path d="M 866.48 239.48  L 866.48 395.03
" clip-path="url(#p967771afbb)" style="fill: none; stroke-dasharray: 1.85,0.8; stroke-dashoffset: 0; stroke: #e67e22; stroke-opacity: 0.3; stroke-width: 0.5"/>
</g>
<g id="line2d_101">
<path d="M 915.41 245.95  L 866.16 395.03
" clip-path="url(#p967771afbb)" style="fill: none; stroke-dasharray: 1.85,0.8; stroke-dashoffset: 0; stroke: #e67e22; stroke-opacity: 0.3; stroke-width: 0.5"/>
</g>
<g id="line2d_102">
<path d="M 936.92 261.94  L 866.16 395.03
" clip-path="url(#p967771afbb)" style="fill: none; stroke-dasharray: 1.85,0.8; stroke-dashoffset: 0; stroke: #e67e22; stroke-opacity: 0.3; stroke-width: 0.5"/>
</g>
<g id="line2d_103">
<path d="M 892.34 252  L 866.16 395.03
" clip-path="url(#p967771afbb)" style="fill: none; stroke-dasharray: 1.85,0.8; stroke-dashoffset: 0; stroke: #e74c3c; stroke-opacity: 0.3; stroke-width: 0.5"/>
</g>
<g id="line2d_104">
<path d="M 866.48 255.49  L 866.48 395.03
" clip-path="url(#p967771afbb)" style="fill: none; stroke-dasharray: 1.85,0.8; stroke-dashoffset: 0; stroke: #e74c3c; stroke-opacity: 0.3; stroke-width: 0.5"/>
</g>
<g id="line2d_105">
<path d="M 839.98 252  L 866.16 395.03
" clip-path="url(#p967771afbb)" style="fill: none; stroke-dasharray: 1.85,0.8; stroke-dashoffset: 0; stroke: #e74c3c; stroke-opacity: 0.3; stroke-width: 0.5"/>
</g>
<g id="line2d_106">
<path d="M 829.45 243.65  L 866.16 395.03
" clip-path="url(#p967771afbb)" style="fill: none; stroke-dasharray: 1.85,0.8; stroke-dashoffset: 0; stroke: #e74c3c; stroke-opacity: 0.3; stroke-width: 0.5"/>
</g>
<g id="line2d_107">
<path d="M 840.41 235.45  L 866.16 395.03
" clip-path="url(#p967771afbb)" style="fill: none; stroke-dasharray: 1.85,0.8; stroke-dashoffset: 0; stroke: #e74c3c; stroke-opacity: 0.3; stroke-width: 0.5"/>
</g>
<g id="line2d_108">
<path d="M 866.48 232.09  L 866.48 395.03
" clip-path="url(#p967771afbb)" style="fill: none; stroke-dasharray: 1.85,0.8; stroke-dashoffset: 0; stroke: #e74c3c; stroke-opacity: 0.3; stroke-width: 0.5"/>
</g>
<g id="line2d_109">
<path d="M 891.91 235.45  L 866.16 395.03
" clip-path="url(#p967771afbb)" style="fill: none; stroke-dasharray: 1.85,0.8; stroke-dashoffset: 0; stroke: #e74c3c; stroke-opacity: 0.3; stroke-width: 0.5"/>
</g>
<g id="line2d_110">
<path d="M 902.87 243.65  L 866.16 395.03
" clip-path="url(#p967771afbb)" style="fill: none; stroke-dasharray: 1.85,0.8; stroke-dashoffset: 0; stroke: #e74c3c; stroke-opacity: 0.3; stroke-width: 0.5"/>
</g>
<g id="Path3DCollection_74">
<g clip-path="url(#p967771afbb)">
<path d="M 0 -3.54 L -3.54 3.54 L 3.54 3.54 z" transform="translate(866.66 367.99)" style="fill: #27ae60; stroke: #2c3e50; stroke-width: 0.7"/>
</g>
</g>
<g id="Path3DCollection_75">
<g clip-path="url(#p967771afbb)">
<path d="M 0 -3.54 L -3.54 3.54 L 3.54 3.54 z" transform="translate(866.66 339.19)" style="fill: #2ecc71; stroke: #2c3e50; stroke-width: 0.7"/>
</g>
</g>
<g id="Path3DCollection_76">
<g clip-path="url(#p967771afbb)">
<path d="M 0 -3.54 L -3.54 3.54 L 3.54 3.54 z" transform="translate(866.66 312.41)" style="fill: #52be80; stroke: #2c3e50; stroke-width: 0.7"/>
</g>
</g>
<g id="Path3DCollection_77">
<g clip-path="url(#p967771afbb)">
<path d="M 0 -3.54 L -3.54 3.54 L 3.54 3.54 z" transform="translate(771.47 382.11)" style="fill: #27ae60; stroke: #2c3e50; stroke-width: 0.7"/>
</g>
</g>
<g id="Path3DCollection_78">
<g clip-path="url(#p967771afbb)">
<path d="M 0 -3.54 L -3.54 3.54 L 3.54 3.54 z" transform="translate(961.86 382.11)" style="fill: #27ae60; stroke: #2c3e50; stroke-width: 0.7"/>
</g>
</g>
<g id="Path3DCollection_79">
<g clip-path="url(#p967771afbb)">
<path d="M 0 -3.54 L -3.54 3.54 L 3.54 3.54 z" transform="translate(866.66 288.42)" style="fill: #3498db; stroke: #2c3e50; stroke-width: 0.7"/>
</g>
</g>
<g id="Path3DCollection_80">
<g clip-path="url(#p967771afbb)">
<path d="M 0 -3.54 L -3.54 3.54 L 3.54 3.54 z" transform="translate(772.52 352.79)" style="fill: #2ecc71; stroke: #2c3e50; stroke-width: 0.7"/>
</g>
</g>
<g id="Path3DCollection_81">
<g clip-path="url(#p967771afbb)">
<path d="M 0 -3.54 L -3.54 3.54 L 3.54 3.54 z" transform="translate(960.81 352.79)" style="fill: #2ecc71; stroke: #2c3e50; stroke-width: 0.7"/>
</g>
</g>
<g id="Path3DCollection_82">
<g clip-path="url(#p967771afbb)">
<path d="M 0 -3.54 L -3.54 3.54 L 3.54 3.54 z" transform="translate(776.39 325.14)" style="fill: #52be80; stroke: #2c3e50; stroke-width: 0.7"/>
</g>
</g>
<g id="Path3DCollection_83">
<g clip-path="url(#p967771afbb)">
<path d="M 0 -3.54 L -3.54 3.54 L 3.54 3.54 z" transform="translate(956.94 325.14)" style="fill: #52be80; stroke: #2c3e50; stroke-width: 0.7"/>
</g>
</g>
<g id="Path3DCollection_84">
<g clip-path="url(#p967771afbb)">
<path d="M 0 -3.54 L -3.54 3.54 L 3.54 3.54 z" transform="translate(866.66 267.95)" style="fill: #5dade2; stroke: #2c3e50; stroke-width: 0.7"/>
</g>
</g>
<g id="Path3DCollection_85">
<g clip-path="url(#p967771afbb)">
<path d="M 0 -3.54 L -3.54 3.54 L 3.54 3.54 z" transform="translate(782.99 299.95)" style="fill: #3498db; stroke: #2c3e50; stroke-width: 0.7"/>
</g>
</g>
<g id="Path3DCollection_86">
<g clip-path="url(#p967771afbb)">
<path d="M 0 -3.54 L -3.54 3.54 L 3.54 3.54 z" transform="translate(950.34 299.95)" style="fill: #3498db; stroke: #2c3e50; stroke-width: 0.7"/>
</g>
</g>
<g id="Path3DCollection_87">
<g clip-path="url(#p967771afbb)">
<path d="M 0 -3.54 L -3.54 3.54 L 3.54 3.54 z" transform="translate(866.66 259.24)" style="fill: #f1c40f; stroke: #2c3e50; stroke-width: 0.7"/>
</g>
</g>
<g id="Path3DCollection_88">
<g clip-path="url(#p967771afbb)">
<path d="M 0 -3.54 L -3.54 3.54 L 3.54 3.54 z" transform="translate(866.66 251.66)" style="fill: #f39c12; stroke: #2c3e50; stroke-width: 0.7"/>
</g>
</g>
<g id="Path3DCollection_89">
<g clip-path="url(#p967771afbb)">
<path d="M 0 -3.54 L -3.54 3.54 L 3.54 3.54 z" transform="translate(792.19 278.01)" style="fill: #5dade2; stroke: #2c3e50; stroke-width: 0.7"/>
</g>
</g>
<g id="Path3DCollection_90">
<g clip-path="url(#p967771afbb)">
<path d="M 0 -3.54 L -3.54 3.54 L 3.54 3.54 z" transform="translate(941.14 278.01)" style="fill: #5dade2; stroke: #2c3e50; stroke-width: 0.7"/>
</g>
</g>
<g id="Path3DCollection_91">
<g clip-path="url(#p967771afbb)">
<path d="M 0 -3.54 L -3.54 3.54 L 3.54 3.54 z" transform="translate(797.7 268.48)" style="fill: #f1c40f; stroke: #2c3e50; stroke-width: 0.7"/>
</g>
</g>
<g id="Path3DCollection_92">
<g clip-path="url(#p967771afbb)">
<path d="M 0 -3.54 L -3.54 3.54 L 3.54 3.54 z" transform="translate(935.63 268.48)" style="fill: #f1c40f; stroke: #2c3e50; stroke-width: 0.7"/>
</g>
</g>
<g id="Path3DCollection_93">
<g clip-path="url(#p967771afbb)">
<path d="M 0 -3.54 L -3.54 3.54 L 3.54 3.54 z" transform="translate(803.77 260.02)" style="fill: #f39c12; stroke: #2c3e50; stroke-width: 0.7"/>
</g>
</g>
<g id="Path3DCollection_94">
<g clip-path="url(#p967771afbb)">
<path d="M 0 -3.54 L -3.54 3.54 L 3.54 3.54 z" transform="translate(929.56 260.02)" style="fill: #f39c12; stroke: #2c3e50; stroke-width: 0.7"/>
</g>
</g>
<g id="Path3DCollection_95">
<g clip-path="url(#p967771afbb)">
<path d="M 0 -3.54 L -3.54 3.54 L 3.54 3.54 z" transform="translate(866.66 240.13)" style="fill: #e67e22; stroke: #2c3e50; stroke-width: 0.7"/>
</g>
</g>
<g id="Path3DCollection_96">
<g clip-path="url(#p967771afbb)">
<path d="M 0 -3.54 L -3.54 3.54 L 3.54 3.54 z" transform="translate(727.83 417.7)" style="fill: #27ae60; stroke: #2c3e50; stroke-width: 0.7"/>
</g>
</g>
<g id="Path3DCollection_97">
<g clip-path="url(#p967771afbb)">
<path d="M 0 -3.54 L -3.54 3.54 L 3.54 3.54 z" transform="translate(1005.5 417.7)" style="fill: #27ae60; stroke: #2c3e50; stroke-width: 0.7"/>
</g>
</g>
<g id="Path3DCollection_98">
<g clip-path="url(#p967771afbb)">
<path d="M -10 10 L 10 10 L 10 -10 L -10 -10 z" transform="translate(866.66 395.68)" style="fill: #3a536a; stroke: #000000; stroke-width: 2.5"/>
</g>
</g>
<g id="Path3DCollection_99">
<g clip-path="url(#p967771afbb)">
<path d="M 0 -3.54 L -3.54 3.54 L 3.54 3.54 z" transform="translate(817.41 246.6)" style="fill: #e67e22; stroke: #2c3e50; stroke-width: 0.7"/>
</g>
</g>
<g id="Path3DCollection_100">
<g clip-path="url(#p967771afbb)">
<path d="M 0 -3.54 L -3.54 3.54 L 3.54 3.54 z" transform="translate(915.92 246.6)" style="fill: #e67e22; stroke: #2c3e50; stroke-width: 0.7"/>
</g>
</g>
<g id="Path3DCollection_101">
<g clip-path="url(#p967771afbb)">
<path d="M 0 -3.54 L -3.54 3.54 L 3.54 3.54 z" transform="translate(729.41 387.07)" style="fill: #2ecc71; stroke: #2c3e50; stroke-width: 0.7"/>
</g>
</g>
<g id="Path3DCollection_102">
<g clip-path="url(#p967771afbb)">
<path d="M 0 -3.54 L -3.54 3.54 L 3.54 3.54 z" transform="translate(1003.91 387.07)" style="fill: #2ecc71; stroke: #2c3e50; stroke-width: 0.7"/>
</g>
</g>
<g id="Path3DCollection_103">
<g clip-path="url(#p967771afbb)">
<path d="M 0 -3.54 L -3.54 3.54 L 3.54 3.54 z" transform="translate(998.11 357.15)" style="fill: #52be80; stroke: #2c3e50; stroke-width: 0.7"/>
</g>
</g>
<g id="Path3DCollection_104">
<g clip-path="url(#p967771afbb)">
<path d="M 0 -3.54 L -3.54 3.54 L 3.54 3.54 z" transform="translate(735.21 357.15)" style="fill: #52be80; stroke: #2c3e50; stroke-width: 0.7"/>
</g>
</g>
<g id="Path3DCollection_105">
<g clip-path="url(#p967771afbb)">
<path d="M 0 -3.54 L -3.54 3.54 L 3.54 3.54 z" transform="translate(866.66 232.74)" style="fill: #e74c3c; stroke: #2c3e50; stroke-width: 0.7"/>
</g>
</g>
<g id="Path3DCollection_106">
<g clip-path="url(#p967771afbb)">
<path d="M 0 -3.54 L -3.54 3.54 L 3.54 3.54 z" transform="translate(988.23 328.87)" style="fill: #3498db; stroke: #2c3e50; stroke-width: 0.7"/>
</g>
</g>
<g id="Path3DCollection_107">
<g clip-path="url(#p967771afbb)">
<path d="M 0 -3.54 L -3.54 3.54 L 3.54 3.54 z" transform="translate(745.09 328.87)" style="fill: #3498db; stroke: #2c3e50; stroke-width: 0.7"/>
</g>
</g>
<g id="Path3DCollection_108">
<g clip-path="url(#p967771afbb)">
<path d="M 0 -3.54 L -3.54 3.54 L 3.54 3.54 z" transform="translate(840.92 236.1)" style="fill: #e74c3c; stroke: #2c3e50; stroke-width: 0.7"/>
</g>
</g>
<g id="Path3DCollection_109">
<g clip-path="url(#p967771afbb)">
<path d="M 0 -3.54 L -3.54 3.54 L 3.54 3.54 z" transform="translate(892.41 236.1)" style="fill: #e74c3c; stroke: #2c3e50; stroke-width: 0.7"/>
</g>
</g>
<g id="Path3DCollection_110">
<g clip-path="url(#p967771afbb)">
<path d="M 0 -3.54 L -3.54 3.54 L 3.54 3.54 z" transform="translate(758.79 303.14)" style="fill: #5dade2; stroke: #2c3e50; stroke-width: 0.7"/>
</g>
</g>
<g id="Path3DCollection_111">
<g clip-path="url(#p967771afbb)">
<path d="M 0 -3.54 L -3.54 3.54 L 3.54 3.54 z" transform="translate(974.54 303.14)" style="fill: #5dade2; stroke: #2c3e50; stroke-width: 0.7"/>
</g>
</g>
<g id="Path3DCollection_112">
<g clip-path="url(#p967771afbb)">
<path d="M 0 -3.54 L -3.54 3.54 L 3.54 3.54 z" transform="translate(766.94 291.5)" style="fill: #f1c40f; stroke: #2c3e50; stroke-width: 0.7"/>
</g>
</g>
<g id="Path3DCollection_113">
<g clip-path="url(#p967771afbb)">
<path d="M 0 -3.54 L -3.54 3.54 L 3.54 3.54 z" transform="translate(966.38 291.5)" style="fill: #f1c40f; stroke: #2c3e50; stroke-width: 0.7"/>
</g>
</g>
<g id="Path3DCollection_114">
<g clip-path="url(#p967771afbb)">
<path d="M 0 -3.54 L -3.54 3.54 L 3.54 3.54 z" transform="translate(957.43 280.8)" style="fill: #f39c12; stroke: #2c3e50; stroke-width: 0.7"/>
</g>
</g>
<g id="Path3DCollection_115">
<g clip-path="url(#p967771afbb)">
<path d="M 0 -3.54 L -3.54 3.54 L 3.54 3.54 z" transform="translate(775.9 280.8)" style="fill: #f39c12; stroke: #2c3e50; stroke-width: 0.7"/>
</g>
</g>
<g id="Path3DCollection_116">
<g clip-path="url(#p967771afbb)">
<path d="M 0 -3.54 L -3.54 3.54 L 3.54 3.54 z" transform="translate(795.9 262.58)" style="fill: #e67e22; stroke: #2c3e50; stroke-width: 0.7"/>
</g>
</g>
<g id="Path3DCollection_117">
<g clip-path="url(#p967771afbb)">
<path d="M 0 -3.54 L -3.54 3.54 L 3.54 3.54 z" transform="translate(937.43 262.58)" style="fill: #e67e22; stroke: #2c3e50; stroke-width: 0.7"/>
</g>
</g>
<g id="Path3DCollection_118">
<g clip-path="url(#p967771afbb)">
<path d="M 0 -3.54 L -3.54 3.54 L 3.54 3.54 z" transform="translate(829.95 244.3)" style="fill: #e74c3c; stroke: #2c3e50; stroke-width: 0.7"/>
</g>
</g>
<g id="Path3DCollection_119">
<g clip-path="url(#p967771afbb)">
<path d="M 0 -3.54 L -3.54 3.54 L 3.54 3.54 z" transform="translate(903.38 244.3)" style="fill: #e74c3c; stroke: #2c3e50; stroke-width: 0.7"/>
</g>
</g>
<g id="Path3DCollection_120">
<g clip-path="url(#p967771afbb)">
<path d="M 0 -3.54 L -3.54 3.54 L 3.54 3.54 z" transform="translate(892.84 252.64)" style="fill: #e74c3c; stroke: #2c3e50; stroke-width: 0.7"/>
</g>
</g>
<g id="Path3DCollection_121">
<g clip-path="url(#p967771afbb)">
<path d="M 0 -3.54 L -3.54 3.54 L 3.54 3.54 z" transform="translate(840.49 252.64)" style="fill: #e74c3c; stroke: #2c3e50; stroke-width: 0.7"/>
</g>
</g>
<g id="Path3DCollection_122">
<g clip-path="url(#p967771afbb)">
<path d="M 0 -3.54 L -3.54 3.54 L 3.54 3.54 z" transform="translate(968 455.59)" style="fill: #27ae60; stroke: #2c3e50; stroke-width: 0.7"/>
</g>
</g>
<g id="Path3DCollection_123">
<g clip-path="url(#p967771afbb)">
<path d="M 0 -3.54 L -3.54 3.54 L 3.54 3.54 z" transform="translate(765.32 455.59)" style="fill: #27ae60; stroke: #2c3e50; stroke-width: 0.7"/>
</g>
</g>
<g id="Path3DCollection_124">
<g clip-path="url(#p967771afbb)">
<path d="M 0 -3.54 L -3.54 3.54 L 3.54 3.54 z" transform="translate(866.66 256.14)" style="fill: #e74c3c; stroke: #2c3e50; stroke-width: 0.7"/>
</g>
</g>
<g id="Path3DCollection_125">
<g clip-path="url(#p967771afbb)">
<path d="M 0 -3.54 L -3.54 3.54 L 3.54 3.54 z" transform="translate(966.81 423.54)" style="fill: #2ecc71; stroke: #2c3e50; stroke-width: 0.7"/>
</g>
</g>
<g id="Path3DCollection_126">
<g clip-path="url(#p967771afbb)">
<path d="M 0 -3.54 L -3.54 3.54 L 3.54 3.54 z" transform="translate(766.52 423.54)" style="fill: #2ecc71; stroke: #2c3e50; stroke-width: 0.7"/>
</g>
</g>
<g id="Path3DCollection_127">
<g clip-path="url(#p967771afbb)">
<path d="M 0 -3.54 L -3.54 3.54 L 3.54 3.54 z" transform="translate(917.51 279.08)" style="fill: #e67e22; stroke: #2c3e50; stroke-width: 0.7"/>
</g>
</g>
<g id="Path3DCollection_128">
<g clip-path="url(#p967771afbb)">
<path d="M 0 -3.54 L -3.54 3.54 L 3.54 3.54 z" transform="translate(815.82 279.08)" style="fill: #e67e22; stroke: #2c3e50; stroke-width: 0.7"/>
</g>
</g>
<g id="Path3DCollection_129">
<g clip-path="url(#p967771afbb)">
<path d="M 0 -3.54 L -3.54 3.54 L 3.54 3.54 z" transform="translate(962.45 391.11)" style="fill: #52be80; stroke: #2c3e50; stroke-width: 0.7"/>
</g>
</g>
<g id="Path3DCollection_130">
<g clip-path="url(#p967771afbb)">
<path d="M 0 -3.54 L -3.54 3.54 L 3.54 3.54 z" transform="translate(770.88 391.11)" style="fill: #52be80; stroke: #2c3e50; stroke-width: 0.7"/>
</g>
</g>
<g id="Path3DCollection_131">
<g clip-path="url(#p967771afbb)">
<path d="M 0 -3.54 L -3.54 3.54 L 3.54 3.54 z" transform="translate(932.19 302.44)" style="fill: #f39c12; stroke: #2c3e50; stroke-width: 0.7"/>
</g>
</g>
<g id="Path3DCollection_132">
<g clip-path="url(#p967771afbb)">
<path d="M 0 -3.54 L -3.54 3.54 L 3.54 3.54 z" transform="translate(801.14 302.44)" style="fill: #f39c12; stroke: #2c3e50; stroke-width: 0.7"/>
</g>
</g>
<g id="Path3DCollection_133">
<g clip-path="url(#p967771afbb)">
<path d="M 0 -3.54 L -3.54 3.54 L 3.54 3.54 z" transform="translate(938.8 315.57)" style="fill: #f1c40f; stroke: #2c3e50; stroke-width: 0.7"/>
</g>
</g>
<g id="Path3DCollection_134">
<g clip-path="url(#p967771afbb)">
<path d="M 0 -3.54 L -3.54 3.54 L 3.54 3.54 z" transform="translate(794.53 315.57)" style="fill: #f1c40f; stroke: #2c3e50; stroke-width: 0.7"/>
</g>
</g>
<g id="Path3DCollection_135">
<g clip-path="url(#p967771afbb)">
<path d="M 0 -3.54 L -3.54 3.54 L 3.54 3.54 z" transform="translate(955.05 359.41)" style="fill: #3498db; stroke: #2c3e50; stroke-width: 0.7"/>
</g>
</g>
<g id="Path3DCollection_136">
<g clip-path="url(#p967771afbb)">
<path d="M 0 -3.54 L -3.54 3.54 L 3.54 3.54 z" transform="translate(778.28 359.41)" style="fill: #3498db; stroke: #2c3e50; stroke-width: 0.7"/>
</g>
</g>
<g id="Path3DCollection_137">
<g clip-path="url(#p967771afbb)">
<path d="M 0 -3.54 L -3.54 3.54 L 3.54 3.54 z" transform="translate(788.49 329.52)" style="fill: #5dade2; stroke: #2c3e50; stroke-width: 0.7"/>
</g>
</g>
<g id="Path3DCollection_138">
<g clip-path="url(#p967771afbb)">
<path d="M 0 -3.54 L -3.54 3.54 L 3.54 3.54 z" transform="translate(944.84 329.52)" style="fill: #5dade2; stroke: #2c3e50; stroke-width: 0.7"/>
</g>
</g>
<g id="Path3DCollection_139">
<g clip-path="url(#p967771afbb)">
<path d="M 0 -3.54 L -3.54 3.54 L 3.54 3.54 z" transform="translate(866.66 286.08)" style="fill: #e67e22; stroke: #2c3e50; stroke-width: 0.7"/>
</g>
</g>
<g id="Path3DCollection_140">
<g clip-path="url(#p967771afbb)">
<path d="M 0 -3.54 L -3.54 3.54 L 3.54 3.54 z" transform="translate(866.66 472.01)" style="fill: #27ae60; stroke: #2c3e50; stroke-width: 0.7"/>
</g>
</g>
<g id="Path3DCollection_141">
<g clip-path="url(#p967771afbb)">
<path d="M 0 -3.54 L -3.54 3.54 L 3.54 3.54 z" transform="translate(866.66 311.67)" style="fill: #f39c12; stroke: #2c3e50; stroke-width: 0.7"/>
</g>
</g>
<g id="Path3DCollection_142">
<g clip-path="url(#p967771afbb)">
<path d="M 0 -3.54 L -3.54 3.54 L 3.54 3.54 z" transform="translate(866.66 325.86)" style="fill: #f1c40f; stroke: #2c3e50; stroke-width: 0.7"/>
</g>
</g>
<g id="Path3DCollection_143">
<g clip-path="url(#p967771afbb)">
<path d="M 0 -3.54 L -3.54 3.54 L 3.54 3.54 z" transform="translate(866.66 439.33)" style="fill: #2ecc71; stroke: #2c3e50; stroke-width: 0.7"/>
</g>
</g>
<g id="Path3DCollection_144">
<g clip-path="url(#p967771afbb)">
<path d="M 0 -3.54 L -3.54 3.54 L 3.54 3.54 z" transform="translate(866.66 340.83)" style="fill: #5dade2; stroke: #2c3e50; stroke-width: 0.7"/>
</g>
</g>
<g id="Path3DCollection_145">
<g clip-path="url(#p967771afbb)">
<path d="M 0 -3.54 L -3.54 3.54 L 3.54 3.54 z" transform="translate(866.66 405.8)" style="fill: #52be80; stroke: #2c3e50; stroke-width: 0.7"/>
</g>
</g>
<g id="Line3DCollection_8">
<path d="M 866.16 237.4  L 853.01 243.14  L 839.98 252  L 827.34 263.83  L 815.31 278.44  L 804.14 295.57  L 794.03 314.92  L 785.19 336.12  L 777.78 358.77  L 771.95 382.43  L 767.81 406.66  L 765.42 430.98  L 764.82 454.94
" clip-path="url(#p967771afbb)" style="fill: none; stroke: #3498db; stroke-opacity: 0.09; stroke-width: 0.5"/>
<path d="M 866.16 237.4  L 856.85 244.09  L 847.62 253.89  L 838.63 266.67  L 830.07 282.22  L 822.11 300.26  L 814.89 320.48  L 808.57 342.49  L 803.27 365.87  L 799.09 390.17  L 796.12 414.9  L 794.41 439.61  L 793.98 463.79
" clip-path="url(#p967771afbb)" style="fill: none; stroke: #3498db; stroke-opacity: 0.09; stroke-width: 0.5"/>
<path d="M 866.16 237.4  L 861.34 244.68  L 856.55 255.08  L 851.89 268.47  L 847.44 284.61  L 843.29 303.24  L 839.53 324.01  L 836.24 346.53  L 833.47 370.38  L 831.29 395.08  L 829.74 420.15  L 828.85 445.09  L 828.62 469.43
" clip-path="url(#p967771afbb)" style="fill: none; stroke: #3498db; stroke-opacity: 0.09; stroke-width: 0.5"/>
<path d="M 866.16 237.4  L 866.16 244.88  L 866.16 255.49  L 866.16 269.08  L 866.16 285.43  L 866.16 304.25  L 866.16 325.22  L 866.16 347.92  L 866.16 371.93  L 866.16 396.77  L 866.16 421.95  L 866.16 446.98  L 866.16 471.36
" clip-path="url(#p967771afbb)" style="fill: none; stroke: #3498db; stroke-opacity: 0.09; stroke-width: 0.5"/>
<path d="M 866.16 237.4  L 870.98 244.68  L 875.77 255.08  L 880.43 268.47  L 884.88 284.61  L 889.03 303.24  L 892.79 324.01  L 896.08 346.53  L 898.85 370.38  L 901.03 395.08  L 902.58 420.15  L 903.47 445.09  L 903.7 469.43
" clip-path="url(#p967771afbb)" style="fill: none; stroke: #3498db; stroke-opacity: 0.09; stroke-width: 0.5"/>
<path d="M 866.16 237.4  L 875.47 244.09  L 884.7 253.89  L 893.69 266.67  L 902.25 282.22  L 910.21 300.26  L 917.43 320.48  L 923.75 342.49  L 929.05 365.87  L 933.23 390.17  L 936.2 414.9  L 937.91 439.61  L 938.34 463.79
" clip-path="url(#p967771afbb)" style="fill: none; stroke: #3498db; stroke-opacity: 0.09; stroke-width: 0.5"/>
<path d="M 866.16 237.4  L 879.31 243.14  L 892.34 252  L 904.98 263.83  L 917.01 278.44  L 928.18 295.57  L 938.29 314.92  L 947.13 336.12  L 954.54 358.77  L 960.37 382.43  L 964.51 406.66  L 966.9 430.98  L 967.5 454.94
" clip-path="url(#p967771afbb)" style="fill: none; stroke: #3498db; stroke-opacity: 0.09; stroke-width: 0.5"/>
<path d="M 866.16 237.4  L 882.25 241.92  L 898.14 249.54  L 913.53 260.14  L 928.14 273.55  L 941.69 289.52  L 953.91 307.75  L 964.59 327.92  L 973.52 349.64  L 980.54 372.51  L 985.52 396.08  L 988.4 419.92  L 989.11 443.59
" clip-path="url(#p967771afbb)" style="fill: none; stroke: #3498db; stroke-opacity: 0.09; stroke-width: 0.5"/>
<path d="M 866.16 237.4  L 884.08 240.49  L 901.73 246.69  L 918.78 255.89  L 934.91 267.91  L 949.84 282.55  L 963.28 299.53  L 974.99 318.54  L 984.78 339.21  L 992.45 361.16  L 997.9 384  L 1001.03 407.3  L 1001.82 430.64
" clip-path="url(#p967771afbb)" style="fill: none; stroke: #3498db; stroke-opacity: 0.09; stroke-width: 0.5"/>
<path d="M 866.16 237.4  L 884.68 238.97  L 902.87 243.65  L 920.39 251.36  L 936.92 261.94  L 952.18 275.18  L 965.88 290.85  L 977.8 308.64  L 987.73 328.22  L 995.51 349.24  L 1001.03 371.32  L 1004.2 394.05  L 1005 417.05
" clip-path="url(#p967771afbb)" style="fill: none; stroke: #3498db; stroke-opacity: 0.09; stroke-width: 0.5"/>
<path d="M 866.16 237.4  L 884.03 237.45  L 901.51 240.64  L 918.31 246.87  L 934.12 256.03  L 948.66 267.92  L 961.7 282.31  L 973.01 298.92  L 982.42 317.46  L 989.79 337.57  L 995 358.91  L 998 381.1  L 998.75 403.77
" clip-path="url(#p967771afbb)" style="fill: none; stroke: #3498db; stroke-opacity: 0.09; stroke-width: 0.5"/>
<path d="M 866.16 237.4  L 882.16 236.04  L 897.77 237.84  L 912.72 242.73  L 926.76 250.58  L 939.65 261.24  L 951.17 274.47  L 961.15 290.03  L 969.44 307.61  L 975.92 326.92  L 980.51 347.59  L 983.14 369.29  L 983.8 391.66
" clip-path="url(#p967771afbb)" style="fill: none; stroke: #3498db; stroke-opacity: 0.09; stroke-width: 0.5"/>
<path d="M 866.16 237.4  L 879.2 234.83  L 891.91 235.45  L 904.04 239.19  L 915.41 245.95  L 925.83 255.57  L 935.12 267.83  L 943.16 282.51  L 949.83 299.31  L 955.04 317.93  L 958.72 338.06  L 960.83 359.35  L 961.36 381.46
" clip-path="url(#p967771afbb)" style="fill: none; stroke: #3498db; stroke-opacity: 0.09; stroke-width: 0.5"/>
<path d="M 866.16 237.4  L 875.38 233.91  L 884.33 233.62  L 892.88 236.5  L 900.86 242.43  L 908.17 251.26  L 914.69 262.8  L 920.31 276.81  L 924.97 293.02  L 928.61 311.14  L 931.18 330.85  L 932.65 351.84  L 933.02 373.76
" clip-path="url(#p967771afbb)" style="fill: none; stroke: #3498db; stroke-opacity: 0.09; stroke-width: 0.5"/>
<path d="M 866.16 237.4  L 870.93 233.33  L 875.56 232.48  L 879.97 234.81  L 884.08 240.23  L 887.85 248.58  L 891.2 259.66  L 894.1 273.26  L 896.49 289.1  L 898.36 306.91  L 899.68 326.37  L 900.43 347.16  L 900.62 368.97
" clip-path="url(#p967771afbb)" style="fill: none; stroke: #3498db; stroke-opacity: 0.09; stroke-width: 0.5"/>
<path d="M 866.16 237.4  L 866.16 233.13  L 866.16 232.09  L 866.16 234.24  L 866.16 239.48  L 866.16 247.66  L 866.16 258.6  L 866.16 272.05  L 866.16 287.77  L 866.16 305.47  L 866.16 324.85  L 866.16 345.58  L 866.16 367.34
" clip-path="url(#p967771afbb)" style="fill: none; stroke: #3498db; stroke-opacity: 0.09; stroke-width: 0.5"/>
<path d="M 866.16 237.4  L 861.39 233.33  L 856.76 232.48  L 852.35 234.81  L 848.24 240.23  L 844.47 248.58  L 841.12 259.66  L 838.22 273.26  L 835.83 289.1  L 833.96 306.91  L 832.64 326.37  L 831.89 347.16  L 831.7 368.97
" clip-path="url(#p967771afbb)" style="fill: none; stroke: #3498db; stroke-opacity: 0.09; stroke-width: 0.5"/>
<path d="M 866.16 237.4  L 856.94 233.91  L 847.99 233.62  L 839.44 236.5  L 831.46 242.43  L 824.15 251.26  L 817.63 262.8  L 812.01 276.81  L 807.35 293.02  L 803.71 311.14  L 801.14 330.85  L 799.67 351.84  L 799.3 373.76
" clip-path="url(#p967771afbb)" style="fill: none; stroke: #3498db; stroke-opacity: 0.09; stroke-width: 0.5"/>
<path d="M 866.16 237.4  L 853.12 234.83  L 840.41 235.45  L 828.28 239.19  L 816.91 245.95  L 806.49 255.57  L 797.2 267.83  L 789.16 282.51  L 782.49 299.31  L 777.28 317.93  L 773.6 338.06  L 771.49 359.35  L 770.96 381.46
" clip-path="url(#p967771afbb)" style="fill: none; stroke: #3498db; stroke-opacity: 0.09; stroke-width: 0.5"/>
<path d="M 866.16 237.4  L 850.16 236.04  L 834.55 237.84  L 819.6 242.73  L 805.56 250.58  L 792.67 261.24  L 781.15 274.47  L 771.17 290.03  L 762.88 307.61  L 756.4 326.92  L 751.81 347.59  L 749.18 369.29  L 748.52 391.66
" clip-path="url(#p967771afbb)" style="fill: none; stroke: #3498db; stroke-opacity: 0.09; stroke-width: 0.5"/>
<path d="M 866.16 237.4  L 848.29 237.45  L 830.81 240.64  L 814.01 246.87  L 798.2 256.03  L 783.66 267.92  L 770.62 282.31  L 759.31 298.92  L 749.9 317.46  L 742.53 337.57  L 737.32 358.91  L 734.32 381.1  L 733.57 403.77
" clip-path="url(#p967771afbb)" style="fill: none; stroke: #3498db; stroke-opacity: 0.09; stroke-width: 0.5"/>
<path d="M 866.16 237.4  L 847.64 238.97  L 829.45 243.65  L 811.93 251.36  L 795.4 261.94  L 780.14 275.18  L 766.44 290.85  L 754.52 308.64  L 744.59 328.22  L 736.81 349.24  L 731.29 371.32  L 728.12 394.05  L 727.32 417.05
" clip-path="url(#p967771afbb)" style="fill: none; stroke: #3498db; stroke-opacity: 0.09; stroke-width: 0.5"/>
<path d="M 866.16 237.4  L 848.24 240.49  L 830.59 246.69  L 813.54 255.89  L 797.41 267.91  L 782.48 282.55  L 769.04 299.53  L 757.33 318.54  L 747.54 339.21  L 739.87 361.16  L 734.42 384  L 731.29 407.3  L 730.5 430.64
" clip-path="url(#p967771afbb)" style="fill: none; stroke: #3498db; stroke-opacity: 0.09; stroke-width: 0.5"/>
<path d="M 866.16 237.4  L 850.07 241.92  L 834.18 249.54  L 818.79 260.14  L 804.18 273.55  L 790.63 289.52  L 778.41 307.75  L 767.73 327.92  L 758.8 349.64  L 751.78 372.51  L 746.8 396.08  L 743.92 419.92  L 743.21 443.59
" clip-path="url(#p967771afbb)" style="fill: none; stroke: #3498db; stroke-opacity: 0.09; stroke-width: 0.5"/>
<path d="M 866.16 237.4  L 853.01 243.14  L 839.98 252  L 827.34 263.83  L 815.31 278.44  L 804.14 295.57  L 794.03 314.92  L 785.19 336.12  L 777.78 358.77  L 771.95 382.43  L 767.81 406.66  L 765.42 430.98  L 764.82 454.94
" clip-path="url(#p967771afbb)" style="fill: none; stroke: #3498db; stroke-opacity: 0.09; stroke-width: 0.5"/>
<path d="M 866.16 237.4  L 866.16 237.4  L 866.16 237.4  L 866.16 237.4  L 866.16 237.4  L 866.16 237.4  L 866.16 237.4  L 866.16 237.4  L 866.16 237.4  L 866.16 237.4  L 866.16 237.4  L 866.16 237.4  L 866.16 237.4  L 866.16 237.4  L 866.16 237.4  L 866.16 237.4  L 866.16 237.4  L 866.16 237.4  L 866.16 237.4  L 866.16 237.4  L 866.16 237.4  L 866.16 237.4  L 866.16 237.4  L 866.16 237.4  L 866.16 237.4
" clip-path="url(#p967771afbb)" style="fill: none; stroke: #3498db; stroke-opacity: 0.09; stroke-width: 0.5"/>
<path d="M 853.01 243.14  L 856.85 244.09  L 861.34 244.68  L 866.16 244.88  L 870.98 244.68  L 875.47 244.09  L 879.31 243.14  L 882.25 241.92  L 884.08 240.49  L 884.68 238.97  L 884.03 237.45  L 882.16 236.04  L 879.2 234.83  L 875.38 233.91  L 870.93 233.33  L 866.16 233.13  L 861.39 233.33  L 856.94 233.91  L 853.12 234.83  L 850.16 236.04  L 848.29 237.45  L 847.64 238.97  L 848.24 240.49  L 850.07 241.92  L 853.01 243.14
" clip-path="url(#p967771afbb)" style="fill: none; stroke: #3498db; stroke-opacity: 0.09; stroke-width: 0.5"/>
<path d="M 839.98 252  L 847.62 253.89  L 856.55 255.08  L 866.16 255.49  L 875.77 255.08  L 884.7 253.89  L 892.34 252  L 898.14 249.54  L 901.73 246.69  L 902.87 243.65  L 901.51 240.64  L 897.77 237.84  L 891.91 235.45  L 884.33 233.62  L 875.56 232.48  L 866.16 232.09  L 856.76 232.48  L 847.99 233.62  L 840.41 235.45  L 834.55 237.84  L 830.81 240.64  L 829.45 243.65  L 830.59 246.69  L 834.18 249.54  L 839.98 252
" clip-path="url(#p967771afbb)" style="fill: none; stroke: #3498db; stroke-opacity: 0.09; stroke-width: 0.5"/>
<path d="M 827.34 263.83  L 838.63 266.67  L 851.89 268.47  L 866.16 269.08  L 880.43 268.47  L 893.69 266.67  L 904.98 263.83  L 913.53 260.14  L 918.78 255.89  L 920.39 251.36  L 918.31 246.87  L 912.72 242.73  L 904.04 239.19  L 892.88 236.5  L 879.97 234.81  L 866.16 234.24  L 852.35 234.81  L 839.44 236.5  L 828.28 239.19  L 819.6 242.73  L 814.01 246.87  L 811.93 251.36  L 813.54 255.89  L 818.79 260.14  L 827.34 263.83
" clip-path="url(#p967771afbb)" style="fill: none; stroke: #3498db; stroke-opacity: 0.09; stroke-width: 0.5"/>
<path d="M 815.31 278.44  L 830.07 282.22  L 847.44 284.61  L 866.16 285.43  L 884.88 284.61  L 902.25 282.22  L 917.01 278.44  L 928.14 273.55  L 934.91 267.91  L 936.92 261.94  L 934.12 256.03  L 926.76 250.58  L 915.41 245.95  L 900.86 242.43  L 884.08 240.23  L 866.16 239.48  L 848.24 240.23  L 831.46 242.43  L 816.91 245.95  L 805.56 250.58  L 798.2 256.03  L 795.4 261.94  L 797.41 267.91  L 804.18 273.55  L 815.31 278.44
" clip-path="url(#p967771afbb)" style="fill: none; stroke: #3498db; stroke-opacity: 0.09; stroke-width: 0.5"/>
<path d="M 804.14 295.57  L 822.11 300.26  L 843.29 303.24  L 866.16 304.25  L 889.03 303.24  L 910.21 300.26  L 928.18 295.57  L 941.69 289.52  L 949.84 282.55  L 952.18 275.18  L 948.66 267.92  L 939.65 261.24  L 925.83 255.57  L 908.17 251.26  L 887.85 248.58  L 866.16 247.66  L 844.47 248.58  L 824.15 251.26  L 806.49 255.57  L 792.67 261.24  L 783.66 267.92  L 780.14 275.18  L 782.48 282.55  L 790.63 289.52  L 804.14 295.57
" clip-path="url(#p967771afbb)" style="fill: none; stroke: #3498db; stroke-opacity: 0.09; stroke-width: 0.5"/>
<path d="M 794.03 314.92  L 814.89 320.48  L 839.53 324.01  L 866.16 325.22  L 892.79 324.01  L 917.43 320.48  L 938.29 314.92  L 953.91 307.75  L 963.28 299.53  L 965.88 290.85  L 961.7 282.31  L 951.17 274.47  L 935.12 267.83  L 914.69 262.8  L 891.2 259.66  L 866.16 258.6  L 841.12 259.66  L 817.63 262.8  L 797.2 267.83  L 781.15 274.47  L 770.62 282.31  L 766.44 290.85  L 769.04 299.53  L 778.41 307.75  L 794.03 314.92
" clip-path="url(#p967771afbb)" style="fill: none; stroke: #3498db; stroke-opacity: 0.09; stroke-width: 0.5"/>
<path d="M 785.19 336.12  L 808.57 342.49  L 836.24 346.53  L 866.16 347.92  L 896.08 346.53  L 923.75 342.49  L 947.13 336.12  L 964.59 327.92  L 974.99 318.54  L 977.8 308.64  L 973.01 298.92  L 961.15 290.03  L 943.16 282.51  L 920.31 276.81  L 894.1 273.26  L 866.16 272.05  L 838.22 273.26  L 812.01 276.81  L 789.16 282.51  L 771.17 290.03  L 759.31 298.92  L 754.52 308.64  L 757.33 318.54  L 767.73 327.92  L 785.19 336.12
" clip-path="url(#p967771afbb)" style="fill: none; stroke: #3498db; stroke-opacity: 0.09; stroke-width: 0.5"/>
<path d="M 777.78 358.77  L 803.27 365.87  L 833.47 370.38  L 866.16 371.93  L 898.85 370.38  L 929.05 365.87  L 954.54 358.77  L 973.52 349.64  L 984.78 339.21  L 987.73 328.22  L 982.42 317.46  L 969.44 307.61  L 949.83 299.31  L 924.97 293.02  L 896.49 289.1  L 866.16 287.77  L 835.83 289.1  L 807.35 293.02  L 782.49 299.31  L 762.88 307.61  L 749.9 317.46  L 744.59 328.22  L 747.54 339.21  L 758.8 349.64  L 777.78 358.77
" clip-path="url(#p967771afbb)" style="fill: none; stroke: #3498db; stroke-opacity: 0.09; stroke-width: 0.5"/>
<path d="M 771.95 382.43  L 799.09 390.17  L 831.29 395.08  L 866.16 396.77  L 901.03 395.08  L 933.23 390.17  L 960.37 382.43  L 980.54 372.51  L 992.45 361.16  L 995.51 349.24  L 989.79 337.57  L 975.92 326.92  L 955.04 317.93  L 928.61 311.14  L 898.36 306.91  L 866.16 305.47  L 833.96 306.91  L 803.71 311.14  L 777.28 317.93  L 756.4 326.92  L 742.53 337.57  L 736.81 349.24  L 739.87 361.16  L 751.78 372.51  L 771.95 382.43
" clip-path="url(#p967771afbb)" style="fill: none; stroke: #3498db; stroke-opacity: 0.09; stroke-width: 0.5"/>
<path d="M 767.81 406.66  L 796.12 414.9  L 829.74 420.15  L 866.16 421.95  L 902.58 420.15  L 936.2 414.9  L 964.51 406.66  L 985.52 396.08  L 997.9 384  L 1001.03 371.32  L 995 358.91  L 980.51 347.59  L 958.72 338.06  L 931.18 330.85  L 899.68 326.37  L 866.16 324.85  L 832.64 326.37  L 801.14 330.85  L 773.6 338.06  L 751.81 347.59  L 737.32 358.91  L 731.29 371.32  L 734.42 384  L 746.8 396.08  L 767.81 406.66
" clip-path="url(#p967771afbb)" style="fill: none; stroke: #3498db; stroke-opacity: 0.09; stroke-width: 0.5"/>
<path d="M 765.42 430.98  L 794.41 439.61  L 828.85 445.09  L 866.16 446.98  L 903.47 445.09  L 937.91 439.61  L 966.9 430.98  L 988.4 419.92  L 1001.03 407.3  L 1004.2 394.05  L 998 381.1  L 983.14 369.29  L 960.83 359.35  L 932.65 351.84  L 900.43 347.16  L 866.16 345.58  L 831.89 347.16  L 799.67 351.84  L 771.49 359.35  L 749.18 369.29  L 734.32 381.1  L 728.12 394.05  L 731.29 407.3  L 743.92 419.92  L 765.42 430.98
" clip-path="url(#p967771afbb)" style="fill: none; stroke: #3498db; stroke-opacity: 0.09; stroke-width: 0.5"/>
<path d="M 764.82 454.94  L 793.98 463.79  L 828.62 469.43  L 866.16 471.36  L 903.7 469.43  L 938.34 463.79  L 967.5 454.94  L 989.11 443.59  L 1001.82 430.64  L 1005 417.05  L 998.75 403.77  L 983.8 391.66  L 961.36 381.46  L 933.02 373.76  L 900.62 368.97  L 866.16 367.34  L 831.7 368.97  L 799.3 373.76  L 770.96 381.46  L 748.52 391.66  L 733.57 403.77  L 727.32 417.05  L 730.5 430.64  L 743.21 443.59  L 764.82 454.94
" clip-path="url(#p967771afbb)" style="fill: none; stroke: #3498db; stroke-opacity: 0.09; stroke-width: 0.5"/>
</g>
<g id="Path3DCollection_146">
<g clip-path="url(#p967771afbb)">
<path d="M 0 -3.54 L -3.54 3.54 L 3.54 3.54 z" transform="translate(866.66 372.58)" style="fill: #3498db; stroke: #2c3e50; stroke-width: 0.7"/>
</g>
</g>
<g id="Poly3DCollection_3">
<path d="M 866.16 331.94  L 620.73 417.05  L 866.16 516.59  L 1111.59 417.05  z
" clip-path="url(#p967771afbb)" style="fill: #8b4513; fill-opacity: 0.1"/>
</g>
</g>
<g id="axes_3">
<g id="patch_10">
<path d="M 1426.1 522.95  C 1478.77 522.95 1529.29 502.02 1566.53 464.78  C 1603.77 427.54 1624.69 377.03 1624.69 324.36  C 1624.69 271.69 1603.77 221.18 1566.53 183.94  C 1529.29 146.7 1478.77 125.77 1426.1 125.77  C 1373.44 125.77 1322.92 146.7 1285.68 183.94  C 1248.44 221.18 1227.51 271.69 1227.51 324.36  C 1227.51 377.03 1248.44 427.54 1285.68 464.78  C 1322.92 502.02 1373.44 522.95 1426.1 522.95  L 1426.1 522.95  z
" clip-path="url(#p2d98c31b42)" style="fill: none; opacity: 0.7; stroke: #27ae60; stroke-width: 3; stroke-linejoin: miter"/>
</g>
<g id="patch_11">
<path d="M 1426.1 519.93  C 1477.97 519.93 1527.72 499.33 1564.39 462.65  C 1601.07 425.98 1621.68 376.23 1621.68 324.36  C 1621.68 272.49 1601.07 222.74 1564.39 186.07  C 1527.72 149.39 1477.97 128.79 1426.1 128.79  C 1374.24 128.79 1324.49 149.39 1287.81 186.07  C 1251.14 222.74 1230.53 272.49 1230.53 324.36  C 1230.53 376.23 1251.14 425.98 1287.81 462.65  C 1324.49 499.33 1374.24 519.93 1426.1 519.93  L 1426.1 519.93  z
" clip-path="url(#p2d98c31b42)" style="fill: none; opacity: 0.7; stroke-dasharray: 9.25,4; stroke-dashoffset: 0; stroke: #2ecc71; stroke-width: 2.5; stroke-linejoin: miter"/>
</g>
<g id="patch_12">
<path d="M 1426.1 510.97  C 1475.59 510.97 1523.06 491.31 1558.06 456.32  C 1593.05 421.32 1612.72 373.85 1612.72 324.36  C 1612.72 274.87 1593.05 227.4 1558.06 192.4  C 1523.06 157.41 1475.59 137.75 1426.1 137.75  C 1376.61 137.75 1329.14 157.41 1294.15 192.4  C 1259.15 227.4 1239.49 274.87 1239.49 324.36  C 1239.49 373.85 1259.15 421.32 1294.15 456.32  C 1329.14 491.31 1376.61 510.97 1426.1 510.97  L 1426.1 510.97  z
" clip-path="url(#p2d98c31b42)" style="fill: none; opacity: 0.7; stroke-dasharray: 9.25,4; stroke-dashoffset: 0; stroke: #52be80; stroke-width: 2.5; stroke-linejoin: miter"/>
</g>
<g id="patch_13">
<path d="M 1426.1 496.34  C 1471.71 496.34 1515.46 478.22 1547.71 445.97  C 1579.97 413.72 1598.09 369.97 1598.09 324.36  C 1598.09 278.75 1579.97 235 1547.71 202.75  C 1515.46 170.5 1471.71 152.38 1426.1 152.38  C 1380.49 152.38 1336.74 170.5 1304.49 202.75  C 1272.24 235 1254.12 278.75 1254.12 324.36  C 1254.12 369.97 1272.24 413.72 1304.49 445.97  C 1336.74 478.22 1380.49 496.34 1426.1 496.34  L 1426.1 496.34  z
" clip-path="url(#p2d98c31b42)" style="fill: none; opacity: 0.7; stroke-dasharray: 9.25,4; stroke-dashoffset: 0; stroke: #3498db; stroke-width: 2.5; stroke-linejoin: miter"/>
</g>
<g id="patch_14">
<path d="M 1426.1 476.49  C 1466.45 476.49 1505.15 460.46 1533.67 431.93  C 1562.2 403.4 1578.23 364.7 1578.23 324.36  C 1578.23 284.02 1562.2 245.32 1533.67 216.79  C 1505.15 188.26 1466.45 172.23 1426.1 172.23  C 1385.76 172.23 1347.06 188.26 1318.53 216.79  C 1290.01 245.32 1273.98 284.02 1273.98 324.36  C 1273.98 364.7 1290.01 403.4 1318.53 431.93  C 1347.06 460.46 1385.76 476.49 1426.1 476.49  L 1426.1 476.49  z
" clip-path="url(#p2d98c31b42)" style="fill: none; opacity: 0.7; stroke-dasharray: 9.25,4; stroke-dashoffset: 0; stroke: #5dade2; stroke-width: 2.5; stroke-linejoin: miter"/>
</g>
<g id="patch_15">
<path d="M 1426.1 464.78  C 1463.34 464.78 1499.07 449.99 1525.4 423.65  C 1551.73 397.32 1566.53 361.6 1566.53 324.36  C 1566.53 287.12 1551.73 251.4 1525.4 225.07  C 1499.07 198.73 1463.34 183.94 1426.1 183.94  C 1388.86 183.94 1353.14 198.73 1326.81 225.07  C 1300.48 251.4 1285.68 287.12 1285.68 324.36  C 1285.68 361.6 1300.48 397.32 1326.81 423.65  C 1353.14 449.99 1388.86 464.78 1426.1 464.78  L 1426.1 464.78  z
" clip-path="url(#p2d98c31b42)" style="fill: none; opacity: 0.7; stroke: #f1c40f; stroke-width: 3; stroke-linejoin: miter"/>
</g>
<g id="patch_16">
<path d="M 1426.1 452.01  C 1459.96 452.01 1492.43 438.56 1516.37 414.62  C 1540.3 390.68 1553.75 358.21 1553.75 324.36  C 1553.75 290.51 1540.3 258.04 1516.37 234.1  C 1492.43 210.16 1459.96 196.71 1426.1 196.71  C 1392.25 196.71 1359.78 210.16 1335.84 234.1  C 1311.9 258.04 1298.45 290.51 1298.45 324.36  C 1298.45 358.21 1311.9 390.68 1335.84 414.62  C 1359.78 438.56 1392.25 452.01 1426.1 452.01  L 1426.1 452.01  z
" clip-path="url(#p2d98c31b42)" style="fill: none; opacity: 0.7; stroke-dasharray: 9.25,4; stroke-dashoffset: 0; stroke: #f39c12; stroke-width: 2.5; stroke-linejoin: miter"/>
</g>
<g id="patch_17">
<path d="M 1426.1 423.65  C 1452.44 423.65 1477.7 413.19 1496.32 394.57  C 1514.94 375.95 1525.4 350.69 1525.4 324.36  C 1525.4 298.03 1514.94 272.77 1496.32 254.15  C 1477.7 235.53 1452.44 225.07 1426.1 225.07  C 1399.77 225.07 1374.51 235.53 1355.89 254.15  C 1337.27 272.77 1326.81 298.03 1326.81 324.36  C 1326.81 350.69 1337.27 375.95 1355.89 394.57  C 1374.51 413.19 1399.77 423.65 1426.1 423.65  L 1426.1 423.65  z
" clip-path="url(#p2d98c31b42)" style="fill: none; opacity: 0.7; stroke-dasharray: 9.25,4; stroke-dashoffset: 0; stroke: #e67e22; stroke-width: 2.5; stroke-linejoin: miter"/>
</g>
<g id="patch_18">
<path d="M 1426.1 375.76  C 1439.74 375.76 1452.81 370.34 1462.45 360.7  C 1472.09 351.07 1477.5 337.99 1477.5 324.36  C 1477.5 310.73 1472.09 297.65 1462.45 288.02  C 1452.81 278.38 1439.74 272.96 1426.1 272.96  C 1412.47 272.96 1399.4 278.38 1389.76 288.02  C 1380.12 297.65 1374.71 310.73 1374.71 324.36  C 1374.71 337.99 1380.12 351.07 1389.76 360.7  C 1399.4 370.34 1412.47 375.76 1426.1 375.76  L 1426.1 375.76  z
" clip-path="url(#p2d98c31b42)" style="fill: none; opacity: 0.7; stroke-dasharray: 9.25,4; stroke-dashoffset: 0; stroke: #e74c3c; stroke-width: 2.5; stroke-linejoin: miter"/>
</g>
<g id="line2d_111">
<path d="M 1426.82 324.36  L 1426.82 125.77
" clip-path="url(#p2d98c31b42)" style="fill: none; stroke-dasharray: 2.22,0.96; stroke-dashoffset: 0; stroke: #27ae60; stroke-opacity: 0.3; stroke-width: 0.6"/>
</g>
<g id="line2d_112">
<path d="M 1426.1 324.36  L 1566.53 183.94
" clip-path="url(#p2d98c31b42)" style="fill: none; stroke-dasharray: 2.22,0.96; stroke-dashoffset: 0; stroke: #27ae60; stroke-opacity: 0.3; stroke-width: 0.6"/>
</g>
<g id="line2d_113">
<path d="M 1426.1 325.04  L 1624.69 325.04
" clip-path="url(#p2d98c31b42)" style="fill: none; stroke-dasharray: 2.22,0.96; stroke-dashoffset: 0; stroke: #27ae60; stroke-opacity: 0.3; stroke-width: 0.6"/>
</g>
<g id="line2d_114">
<path d="M 1426.1 324.36  L 1566.53 464.78
" clip-path="url(#p2d98c31b42)" style="fill: none; stroke-dasharray: 2.22,0.96; stroke-dashoffset: 0; stroke: #27ae60; stroke-opacity: 0.3; stroke-width: 0.6"/>
</g>
<g id="line2d_115">
<path d="M 1426.82 324.36  L 1426.82 522.95
" clip-path="url(#p2d98c31b42)" style="fill: none; stroke-dasharray: 2.22,0.96; stroke-dashoffset: 0; stroke: #27ae60; stroke-opacity: 0.3; stroke-width: 0.6"/>
</g>
<g id="line2d_116">
<path d="M 1426.1 324.36  L 1285.68 464.78
" clip-path="url(#p2d98c31b42)" style="fill: none; stroke-dasharray: 2.22,0.96; stroke-dashoffset: 0; stroke: #27ae60; stroke-opacity: 0.3; stroke-width: 0.6"/>
</g>
<g id="line2d_117">
<path d="M 1426.1 325.04  L 1227.51 325.04
" clip-path="url(#p2d98c31b42)" style="fill: none; stroke-dasharray: 2.22,0.96; stroke-dashoffset: 0; stroke: #27ae60; stroke-opacity: 0.3; stroke-width: 0.6"/>
</g>
<g id="line2d_118">
<path d="M 1426.1 324.36  L 1285.68 183.94
" clip-path="url(#p2d98c31b42)" style="fill: none; stroke-dasharray: 2.22,0.96; stroke-dashoffset: 0; stroke: #27ae60; stroke-opacity: 0.3; stroke-width: 0.6"/>
</g>
<g id="line2d_119">
<path d="M 1426.82 324.36  L 1426.82 128.79
" clip-path="url(#p2d98c31b42)" style="fill: none; stroke-dasharray: 2.22,0.96; stroke-dashoffset: 0; stroke: #2ecc71; stroke-opacity: 0.3; stroke-width: 0.6"/>
</g>
<g id="line2d_120">
<path d="M 1426.1 324.36  L 1564.39 186.07
" clip-path="url(#p2d98c31b42)" style="fill: none; stroke-dasharray: 2.22,0.96; stroke-dashoffset: 0; stroke: #2ecc71; stroke-opacity: 0.3; stroke-width: 0.6"/>
</g>
<g id="line2d_121">
<path d="M 1426.1 325.04  L 1621.68 325.04
" clip-path="url(#p2d98c31b42)" style="fill: none; stroke-dasharray: 2.22,0.96; stroke-dashoffset: 0; stroke: #2ecc71; stroke-opacity: 0.3; stroke-width: 0.6"/>
</g>
<g id="line2d_122">
<path d="M 1426.1 324.36  L 1564.39 462.65
" clip-path="url(#p2d98c31b42)" style="fill: none; stroke-dasharray: 2.22,0.96; stroke-dashoffset: 0; stroke: #2ecc71; stroke-opacity: 0.3; stroke-width: 0.6"/>
</g>
<g id="line2d_123">
<path d="M 1426.82 324.36  L 1426.82 519.93
" clip-path="url(#p2d98c31b42)" style="fill: none; stroke-dasharray: 2.22,0.96; stroke-dashoffset: 0; stroke: #2ecc71; stroke-opacity: 0.3; stroke-width: 0.6"/>
</g>
<g id="line2d_124">
<path d="M 1426.1 324.36  L 1287.81 462.65
" clip-path="url(#p2d98c31b42)" style="fill: none; stroke-dasharray: 2.22,0.96; stroke-dashoffset: 0; stroke: #2ecc71; stroke-opacity: 0.3; stroke-width: 0.6"/>
</g>
<g id="line2d_125">
<path d="M 1426.1 325.04  L 1230.53 325.04
" clip-path="url(#p2d98c31b42)" style="fill: none; stroke-dasharray: 2.22,0.96; stroke-dashoffset: 0; stroke: #2ecc71; stroke-opacity: 0.3; stroke-width: 0.6"/>
</g>
<g id="line2d_126">
<path d="M 1426.1 324.36  L 1287.81 186.07
" clip-path="url(#p2d98c31b42)" style="fill: none; stroke-dasharray: 2.22,0.96; stroke-dashoffset: 0; stroke: #2ecc71; stroke-opacity: 0.3; stroke-width: 0.6"/>
</g>
<g id="line2d_127">
<path d="M 1426.82 324.36  L 1426.82 137.75
" clip-path="url(#p2d98c31b42)" style="fill: none; stroke-dasharray: 2.22,0.96; stroke-dashoffset: 0; stroke: #52be80; stroke-opacity: 0.3; stroke-width: 0.6"/>
</g>
<g id="line2d_128">
<path d="M 1426.1 324.36  L 1558.06 192.4
" clip-path="url(#p2d98c31b42)" style="fill: none; stroke-dasharray: 2.22,0.96; stroke-dashoffset: 0; stroke: #52be80; stroke-opacity: 0.3; stroke-width: 0.6"/>
</g>
<g id="line2d_129">
<path d="M 1426.1 325.04  L 1612.72 325.04
" clip-path="url(#p2d98c31b42)" style="fill: none; stroke-dasharray: 2.22,0.96; stroke-dashoffset: 0; stroke: #52be80; stroke-opacity: 0.3; stroke-width: 0.6"/>
</g>
<g id="line2d_130">
<path d="M 1426.1 324.36  L 1558.06 456.32
" clip-path="url(#p2d98c31b42)" style="fill: none; stroke-dasharray: 2.22,0.96; stroke-dashoffset: 0; stroke: #52be80; stroke-opacity: 0.3; stroke-width: 0.6"/>
</g>
<g id="line2d_131">
<path d="M 1426.82 324.36  L 1426.82 510.97
" clip-path="url(#p2d98c31b42)" style="fill: none; stroke-dasharray: 2.22,0.96; stroke-dashoffset: 0; stroke: #52be80; stroke-opacity: 0.3; stroke-width: 0.6"/>
</g>
<g id="line2d_132">
<path d="M 1426.1 324.36  L 1294.15 456.32
" clip-path="url(#p2d98c31b42)" style="fill: none; stroke-dasharray: 2.22,0.96; stroke-dashoffset: 0; stroke: #52be80; stroke-opacity: 0.3; stroke-width: 0.6"/>
</g>
<g id="line2d_133">
<path d="M 1426.1 325.04  L 1239.49 325.04
" clip-path="url(#p2d98c31b42)" style="fill: none; stroke-dasharray: 2.22,0.96; stroke-dashoffset: 0; stroke: #52be80; stroke-opacity: 0.3; stroke-width: 0.6"/>
</g>
<g id="line2d_134">
<path d="M 1426.1 324.36  L 1294.15 192.4
" clip-path="url(#p2d98c31b42)" style="fill: none; stroke-dasharray: 2.22,0.96; stroke-dashoffset: 0; stroke: #52be80; stroke-opacity: 0.3; stroke-width: 0.6"/>
</g>
<g id="line2d_135">
<path d="M 1426.82 324.36  L 1426.82 152.38
" clip-path="url(#p2d98c31b42)" style="fill: none; stroke-dasharray: 2.22,0.96; stroke-dashoffset: 0; stroke: #3498db; stroke-opacity: 0.3; stroke-width: 0.6"/>
</g>
<g id="line2d_136">
<path d="M 1426.1 324.36  L 1547.71 202.75
" clip-path="url(#p2d98c31b42)" style="fill: none; stroke-dasharray: 2.22,0.96; stroke-dashoffset: 0; stroke: #3498db; stroke-opacity: 0.3; stroke-width: 0.6"/>
</g>
<g id="line2d_137">
<path d="M 1426.1 325.04  L 1598.09 325.04
" clip-path="url(#p2d98c31b42)" style="fill: none; stroke-dasharray: 2.22,0.96; stroke-dashoffset: 0; stroke: #3498db; stroke-opacity: 0.3; stroke-width: 0.6"/>
</g>
<g id="line2d_138">
<path d="M 1426.1 324.36  L 1547.71 445.97
" clip-path="url(#p2d98c31b42)" style="fill: none; stroke-dasharray: 2.22,0.96; stroke-dashoffset: 0; stroke: #3498db; stroke-opacity: 0.3; stroke-width: 0.6"/>
</g>
<g id="line2d_139">
<path d="M 1426.82 324.36  L 1426.82 496.34
" clip-path="url(#p2d98c31b42)" style="fill: none; stroke-dasharray: 2.22,0.96; stroke-dashoffset: 0; stroke: #3498db; stroke-opacity: 0.3; stroke-width: 0.6"/>
</g>
<g id="line2d_140">
<path d="M 1426.1 324.36  L 1304.49 445.97
" clip-path="url(#p2d98c31b42)" style="fill: none; stroke-dasharray: 2.22,0.96; stroke-dashoffset: 0; stroke: #3498db; stroke-opacity: 0.3; stroke-width: 0.6"/>
</g>
<g id="line2d_141">
<path d="M 1426.1 325.04  L 1254.12 325.04
" clip-path="url(#p2d98c31b42)" style="fill: none; stroke-dasharray: 2.22,0.96; stroke-dashoffset: 0; stroke: #3498db; stroke-opacity: 0.3; stroke-width: 0.6"/>
</g>
<g id="line2d_142">
<path d="M 1426.1 324.36  L 1304.49 202.75
" clip-path="url(#p2d98c31b42)" style="fill: none; stroke-dasharray: 2.22,0.96; stroke-dashoffset: 0; stroke: #3498db; stroke-opacity: 0.3; stroke-width: 0.6"/>
</g>
<g id="line2d_143">
<path d="M 1426.82 324.36  L 1426.82 172.23
" clip-path="url(#p2d98c31b42)" style="fill: none; stroke-dasharray: 2.22,0.96; stroke-dashoffset: 0; stroke: #5dade2; stroke-opacity: 0.3; stroke-width: 0.6"/>
</g>
<g id="line2d_144">
<path d="M 1426.1 324.36  L 1533.67 216.79
" clip-path="url(#p2d98c31b42)" style="fill: none; stroke-dasharray: 2.22,0.96; stroke-dashoffset: 0; stroke: #5dade2; stroke-opacity: 0.3; stroke-width: 0.6"/>
</g>
<g id="line2d_145">
<path d="M 1426.1 325.04  L 1578.23 325.04
" clip-path="url(#p2d98c31b42)" style="fill: none; stroke-dasharray: 2.22,0.96; stroke-dashoffset: 0; stroke: #5dade2; stroke-opacity: 0.3; stroke-width: 0.6"/>
</g>
<g id="line2d_146">
<path d="M 1426.1 324.36  L 1533.67 431.93
" clip-path="url(#p2d98c31b42)" style="fill: none; stroke-dasharray: 2.22,0.96; stroke-dashoffset: 0; stroke: #5dade2; stroke-opacity: 0.3; stroke-width: 0.6"/>
</g>
<g id="line2d_147">
<path d="M 1426.82 324.36  L 1426.82 476.49
" clip-path="url(#p2d98c31b42)" style="fill: none; stroke-dasharray: 2.22,0.96; stroke-dashoffset: 0; stroke: #5dade2; stroke-opacity: 0.3; stroke-width: 0.6"/>
</g>
<g id="line2d_148">
<path d="M 1426.1 324.36  L 1318.53 431.93
" clip-path="url(#p2d98c31b42)" style="fill: none; stroke-dasharray: 2.22,0.96; stroke-dashoffset: 0; stroke: #5dade2; stroke-opacity: 0.3; stroke-width: 0.6"/>
</g>
<g id="line2d_149">
<path d="M 1426.1 325.04  L 1273.98 325.04
" clip-path="url(#p2d98c31b42)" style="fill: none; stroke-dasharray: 2.22,0.96; stroke-dashoffset: 0; stroke: #5dade2; stroke-opacity: 0.3; stroke-width: 0.6"/>
</g>
<g id="line2d_150">
<path d="M 1426.1 324.36  L 1318.53 216.79
" clip-path="url(#p2d98c31b42)" style="fill: none; stroke-dasharray: 2.22,0.96; stroke-dashoffset: 0; stroke: #5dade2; stroke-opacity: 0.3; stroke-width: 0.6"/>
</g>
<g id="line2d_151">
<path d="M 1426.82 324.36  L 1426.82 183.94
" clip-path="url(#p2d98c31b42)" style="fill: none; stroke-dasharray: 2.22,0.96; stroke-dashoffset: 0; stroke: #f1c40f; stroke-opacity: 0.3; stroke-width: 0.6"/>
</g>
<g id="line2d_152">
<path d="M 1426.1 324.36  L 1525.4 225.07
" clip-path="url(#p2d98c31b42)" style="fill: none; stroke-dasharray: 2.22,0.96; stroke-dashoffset: 0; stroke: #f1c40f; stroke-opacity: 0.3; stroke-width: 0.6"/>
</g>
<g id="line2d_153">
<path d="M 1426.1 325.04  L 1566.53 325.04
" clip-path="url(#p2d98c31b42)" style="fill: none; stroke-dasharray: 2.22,0.96; stroke-dashoffset: 0; stroke: #f1c40f; stroke-opacity: 0.3; stroke-width: 0.6"/>
</g>
<g id="line2d_154">
<path d="M 1426.1 324.36  L 1525.4 423.65
" clip-path="url(#p2d98c31b42)" style="fill: none; stroke-dasharray: 2.22,0.96; stroke-dashoffset: 0; stroke: #f1c40f; stroke-opacity: 0.3; stroke-width: 0.6"/>
</g>
<g id="line2d_155">
<path d="M 1426.82 324.36  L 1426.82 464.78
" clip-path="url(#p2d98c31b42)" style="fill: none; stroke-dasharray: 2.22,0.96; stroke-dashoffset: 0; stroke: #f1c40f; stroke-opacity: 0.3; stroke-width: 0.6"/>
</g>
<g id="line2d_156">
<path d="M 1426.1 324.36  L 1326.81 423.65
" clip-path="url(#p2d98c31b42)" style="fill: none; stroke-dasharray: 2.22,0.96; stroke-dashoffset: 0; stroke: #f1c40f; stroke-opacity: 0.3; stroke-width: 0.6"/>
</g>
<g id="line2d_157">
<path d="M 1426.1 325.04  L 1285.68 325.04
" clip-path="url(#p2d98c31b42)" style="fill: none; stroke-dasharray: 2.22,0.96; stroke-dashoffset: 0; stroke: #f1c40f; stroke-opacity: 0.3; stroke-width: 0.6"/>
</g>
<g id="line2d_158">
<path d="M 1426.1 324.36  L 1326.81 225.07
" clip-path="url(#p2d98c31b42)" style="fill: none; stroke-dasharray: 2.22,0.96; stroke-dashoffset: 0; stroke: #f1c40f; stroke-opacity: 0.3; stroke-width: 0.6"/>
</g>
<g id="line2d_159">
<path d="M 1426.82 324.36  L 1426.82 196.71
" clip-path="url(#p2d98c31b42)" style="fill: none; stroke-dasharray: 2.22,0.96; stroke-dashoffset: 0; stroke: #f39c12; stroke-opacity: 0.3; stroke-width: 0.6"/>
</g>
<g id="line2d_160">
<path d="M 1426.1 324.36  L 1516.37 234.1
" clip-path="url(#p2d98c31b42)" style="fill: none; stroke-dasharray: 2.22,0.96; stroke-dashoffset: 0; stroke: #f39c12; stroke-opacity: 0.3; stroke-width: 0.6"/>
</g>
<g id="line2d_161">
<path d="M 1426.1 325.04  L 1553.75 325.04
" clip-path="url(#p2d98c31b42)" style="fill: none; stroke-dasharray: 2.22,0.96; stroke-dashoffset: 0; stroke: #f39c12; stroke-opacity: 0.3; stroke-width: 0.6"/>
</g>
<g id="line2d_162">
<path d="M 1426.1 324.36  L 1516.37 414.62
" clip-path="url(#p2d98c31b42)" style="fill: none; stroke-dasharray: 2.22,0.96; stroke-dashoffset: 0; stroke: #f39c12; stroke-opacity: 0.3; stroke-width: 0.6"/>
</g>
<g id="line2d_163">
<path d="M 1426.82 324.36  L 1426.82 452.01
" clip-path="url(#p2d98c31b42)" style="fill: none; stroke-dasharray: 2.22,0.96; stroke-dashoffset: 0; stroke: #f39c12; stroke-opacity: 0.3; stroke-width: 0.6"/>
</g>
<g id="line2d_164">
<path d="M 1426.1 324.36  L 1335.84 414.62
" clip-path="url(#p2d98c31b42)" style="fill: none; stroke-dasharray: 2.22,0.96; stroke-dashoffset: 0; stroke: #f39c12; stroke-opacity: 0.3; stroke-width: 0.6"/>
</g>
<g id="line2d_165">
<path d="M 1426.1 325.04  L 1298.45 325.04
" clip-path="url(#p2d98c31b42)" style="fill: none; stroke-dasharray: 2.22,0.96; stroke-dashoffset: 0; stroke: #f39c12; stroke-opacity: 0.3; stroke-width: 0.6"/>
</g>
<g id="line2d_166">
<path d="M 1426.1 324.36  L 1335.84 234.1
" clip-path="url(#p2d98c31b42)" style="fill: none; stroke-dasharray: 2.22,0.96; stroke-dashoffset: 0; stroke: #f39c12; stroke-opacity: 0.3; stroke-width: 0.6"/>
</g>
<g id="line2d_167">
<path d="M 1426.82 324.36  L 1426.82 225.07
" clip-path="url(#p2d98c31b42)" style="fill: none; stroke-dasharray: 2.22,0.96; stroke-dashoffset: 0; stroke: #e67e22; stroke-opacity: 0.3; stroke-width: 0.6"/>
</g>
<g id="line2d_168">
<path d="M 1426.1 324.36  L 1496.32 254.15
" clip-path="url(#p2d98c31b42)" style="fill: none; stroke-dasharray: 2.22,0.96; stroke-dashoffset: 0; stroke: #e67e22; stroke-opacity: 0.3; stroke-width: 0.6"/>
</g>
<g id="line2d_169">
<path d="M 1426.1 325.04  L 1525.4 325.04
" clip-path="url(#p2d98c31b42)" style="fill: none; stroke-dasharray: 2.22,0.96; stroke-dashoffset: 0; stroke: #e67e22; stroke-opacity: 0.3; stroke-width: 0.6"/>
</g>
<g id="line2d_170">
<path d="M 1426.1 324.36  L 1496.32 394.57
" clip-path="url(#p2d98c31b42)" style="fill: none; stroke-dasharray: 2.22,0.96; stroke-dashoffset: 0; stroke: #e67e22; stroke-opacity: 0.3; stroke-width: 0.6"/>
</g>
<g id="line2d_171">
<path d="M 1426.82 324.36  L 1426.82 423.65
" clip-path="url(#p2d98c31b42)" style="fill: none; stroke-dasharray: 2.22,0.96; stroke-dashoffset: 0; stroke: #e67e22; stroke-opacity: 0.3; stroke-width: 0.6"/>
</g>
<g id="line2d_172">
<path d="M 1426.1 324.36  L 1355.89 394.57
" clip-path="url(#p2d98c31b42)" style="fill: none; stroke-dasharray: 2.22,0.96; stroke-dashoffset: 0; stroke: #e67e22; stroke-opacity: 0.3; stroke-width: 0.6"/>
</g>
<g id="line2d_173">
<path d="M 1426.1 325.04  L 1326.81 325.04
" clip-path="url(#p2d98c31b42)" style="fill: none; stroke-dasharray: 2.22,0.96; stroke-dashoffset: 0; stroke: #e67e22; stroke-opacity: 0.3; stroke-width: 0.6"/>
</g>
<g id="line2d_174">
<path d="M 1426.1 324.36  L 1355.89 254.15
" clip-path="url(#p2d98c31b42)" style="fill: none; stroke-dasharray: 2.22,0.96; stroke-dashoffset: 0; stroke: #e67e22; stroke-opacity: 0.3; stroke-width: 0.6"/>
</g>
<g id="line2d_175">
<path d="M 1426.82 324.36  L 1426.82 272.96
" clip-path="url(#p2d98c31b42)" style="fill: none; stroke-dasharray: 2.22,0.96; stroke-dashoffset: 0; stroke: #e74c3c; stroke-opacity: 0.3; stroke-width: 0.6"/>
</g>
<g id="line2d_176">
<path d="M 1426.1 324.36  L 1462.45 288.02
" clip-path="url(#p2d98c31b42)" style="fill: none; stroke-dasharray: 2.22,0.96; stroke-dashoffset: 0; stroke: #e74c3c; stroke-opacity: 0.3; stroke-width: 0.6"/>
</g>
<g id="line2d_177">
<path d="M 1426.1 325.04  L 1477.5 325.04
" clip-path="url(#p2d98c31b42)" style="fill: none; stroke-dasharray: 2.22,0.96; stroke-dashoffset: 0; stroke: #e74c3c; stroke-opacity: 0.3; stroke-width: 0.6"/>
</g>
<g id="line2d_178">
<path d="M 1426.1 324.36  L 1462.45 360.7
" clip-path="url(#p2d98c31b42)" style="fill: none; stroke-dasharray: 2.22,0.96; stroke-dashoffset: 0; stroke: #e74c3c; stroke-opacity: 0.3; stroke-width: 0.6"/>
</g>
<g id="line2d_179">
<path d="M 1426.82 324.36  L 1426.82 375.76
" clip-path="url(#p2d98c31b42)" style="fill: none; stroke-dasharray: 2.22,0.96; stroke-dashoffset: 0; stroke: #e74c3c; stroke-opacity: 0.3; stroke-width: 0.6"/>
</g>
<g id="line2d_180">
<path d="M 1426.1 324.36  L 1389.76 360.7
" clip-path="url(#p2d98c31b42)" style="fill: none; stroke-dasharray: 2.22,0.96; stroke-dashoffset: 0; stroke: #e74c3c; stroke-opacity: 0.3; stroke-width: 0.6"/>
</g>
<g id="line2d_181">
<path d="M 1426.1 325.04  L 1374.71 325.04
" clip-path="url(#p2d98c31b42)" style="fill: none; stroke-dasharray: 2.22,0.96; stroke-dashoffset: 0; stroke: #e74c3c; stroke-opacity: 0.3; stroke-width: 0.6"/>
</g>
<g id="line2d_182">
<path d="M 1426.1 324.36  L 1389.76 288.02
" clip-path="url(#p2d98c31b42)" style="fill: none; stroke-dasharray: 2.22,0.96; stroke-dashoffset: 0; stroke: #e74c3c; stroke-opacity: 0.3; stroke-width: 0.6"/>
</g>
<g id="text_39">
<g id="patch_19">
<path d="M 1645.4 329.04  L 1704.57 329.04  Q 1707.72 329.04 1707.72 325.89  L 1707.72 303.97  Q 1707.72 300.82 1704.57 300.82  L 1645.4 300.82  Q 1642.25 300.82 1642.25 303.97  L 1642.25 325.89  Q 1642.25 329.04 1645.4 329.04  z
" style="fill: #ffffff; opacity: 0.9; stroke: #000000; stroke-linejoin: miter"/>
</g>
<text style="font-weight: 700; font-size: 10.5px; font-family: 'DejaVu Sans', 'Liberation Sans', sans-serif; fill: #27ae60" transform="translate(1645.4 311.95)">0°</text>
<text style="font-weight: 700; font-size: 10.5px; font-family: 'DejaVu Sans', 'Liberation Sans', sans-serif; fill: #27ae60" transform="translate(1645.4 323.7)">prof=4.00</text>
</g>
<g id="text_40">
<g id="patch_20">
<path d="M 1642.38 329.04  L 1701.56 329.04  Q 1704.71 329.04 1704.71 325.89  L 1704.71 303.97  Q 1704.71 300.82 1701.56 300.82  L 1642.38 300.82  Q 1639.23 300.82 1639.23 303.97  L 1639.23 325.89  Q 1639.23 329.04 1642.38 329.04  z
" style="fill: #ffffff; opacity: 0.9; stroke: #000000; stroke-linejoin: miter"/>
</g>
<text style="font-weight: 700; font-size: 10.5px; font-family: 'DejaVu Sans', 'Liberation Sans', sans-serif; fill: #2ecc71" transform="translate(1642.38 311.95)">10°</text>
<text style="font-weight: 700; font-size: 10.5px; font-family: 'DejaVu Sans', 'Liberation Sans', sans-serif; fill: #2ecc71" transform="translate(1642.38 323.7)">prof=3.94</text>
</g>
<g id="text_41">
<g id="patch_21">
<path d="M 1633.42 329.04  L 1692.6 329.04  Q 1695.75 329.04 1695.75 325.89  L 1695.75 303.97  Q 1695.75 300.82 1692.6 300.82  L 1633.42 300.82  Q 1630.27 300.82 1630.27 303.97  L 1630.27 325.89  Q 1630.27 329.04 1633.42 329.04  z
" style="fill: #ffffff; opacity: 0.9; stroke: #000000; stroke-linejoin: miter"/>
</g>
<text style="font-weight: 700; font-size: 10.5px; font-family: 'DejaVu Sans', 'Liberation Sans', sans-serif; fill: #52be80" transform="translate(1633.42 311.95)">20°</text>
<text style="font-weight: 700; font-size: 10.5px; font-family: 'DejaVu Sans', 'Liberation Sans', sans-serif; fill: #52be80" transform="translate(1633.42 323.7)">prof=3.76</text>
</g>
<g id="text_42">
<g id="patch_22">
<path d="M 1618.79 329.04  L 1677.97 329.04  Q 1681.12 329.04 1681.12 325.89  L 1681.12 303.97  Q 1681.12 300.82 1677.97 300.82  L 1618.79 300.82  Q 1615.64 300.82 1615.64 303.97  L 1615.64 325.89  Q 1615.64 329.04 1618.79 329.04  z
" style="fill: #ffffff; opacity: 0.9; stroke: #000000; stroke-linejoin: miter"/>
</g>
<text style="font-weight: 700; font-size: 10.5px; font-family: 'DejaVu Sans', 'Liberation Sans', sans-serif; fill: #3498db" transform="translate(1618.79 311.95)">30°</text>
<text style="font-weight: 700; font-size: 10.5px; font-family: 'DejaVu Sans', 'Liberation Sans', sans-serif; fill: #3498db" transform="translate(1618.79 323.7)">prof=3.46</text>
</g>
<g id="text_43">
<g id="patch_23">
<path d="M 1598.93 329.04  L 1658.11 329.04  Q 1661.26 329.04 1661.26 325.89  L 1661.26 303.97  Q 1661.26 300.82 1658.11 300.82  L 1598.93 300.82  Q 1595.78 300.82 1595.78 303.97  L 1595.78 325.89  Q 1595.78 329.04 1598.93 329.04  z
" style="fill: #ffffff; opacity: 0.9; stroke: #000000; stroke-linejoin: miter"/>
</g>
<text style="font-weight: 700; font-size: 10.5px; font-family: 'DejaVu Sans', 'Liberation Sans', sans-serif; fill: #5dade2" transform="translate(1598.93 311.95)">40°</text>
<text style="font-weight: 700; font-size: 10.5px; font-family: 'DejaVu Sans', 'Liberation Sans', sans-serif; fill: #5dade2" transform="translate(1598.93 323.7)">prof=3.06</text>
</g>
<g id="text_44">
<g id="patch_24">
<path d="M 1587.23 329.04  L 1646.41 329.04  Q 1649.56 329.04 1649.56 325.89  L 1649.56 303.97  Q 1649.56 300.82 1646.41 300.82  L 1587.23 300.82  Q 1584.08 300.82 1584.08 303.97  L 1584.08 325.89  Q 1584.08 329.04 1587.23 329.04  z
" style="fill: #ffffff; opacity: 0.9; stroke: #000000; stroke-linejoin: miter"/>
</g>
<text style="font-weight: 700; font-size: 10.5px; font-family: 'DejaVu Sans', 'Liberation Sans', sans-serif; fill: #f1c40f" transform="translate(1587.23 311.95)">45°</text>
<text style="font-weight: 700; font-size: 10.5px; font-family: 'DejaVu Sans', 'Liberation Sans', sans-serif; fill: #f1c40f" transform="translate(1587.23 323.7)">prof=2.83</text>
</g>
<g id="text_45">
<g id="patch_25">
<path d="M 1574.46 329.04  L 1633.64 329.04  Q 1636.79 329.04 1636.79 325.89  L 1636.79 303.97  Q 1636.79 300.82 1633.64 300.82  L 1574.46 300.82  Q 1571.31 300.82 1571.31 303.97  L 1571.31 325.89  Q 1571.31 329.04 1574.46 329.04  z
" style="fill: #ffffff; opacity: 0.9; stroke: #000000; stroke-linejoin: miter"/>
</g>
<text style="font-weight: 700; font-size: 10.5px; font-family: 'DejaVu Sans', 'Liberation Sans', sans-serif; fill: #f39c12" transform="translate(1574.46 311.95)">50°</text>
<text style="font-weight: 700; font-size: 10.5px; font-family: 'DejaVu Sans', 'Liberation Sans', sans-serif; fill: #f39c12" transform="translate(1574.46 323.7)">prof=2.57</text>
</g>
<g id="text_46">
<g id="patch_26">
<path d="M 1546.1 329.04  L 1605.28 329.04  Q 1608.43 329.04 1608.43 325.89  L 1608.43 303.97  Q 1608.43 300.82 1605.28 300.82  L 1546.1 300.82  Q 1542.95 300.82 1542.95 303.97  L 1542.95 325.89  Q 1542.95 329.04 1546.1 329.04  z
" style="fill: #ffffff; opacity: 0.9; stroke: #000000; stroke-linejoin: miter"/>
</g>
<text style="font-weight: 700; font-size: 10.5px; font-family: 'DejaVu Sans', 'Liberation Sans', sans-serif; fill: #e67e22" transform="translate(1546.1 311.95)">60°</text>
<text style="font-weight: 700; font-size: 10.5px; font-family: 'DejaVu Sans', 'Liberation Sans', sans-serif; fill: #e67e22" transform="translate(1546.1 323.7)">prof=2.00</text>
</g>
<g id="text_47">
<g id="patch_27">
<path d="M 1498.21 329.04  L 1557.38 329.04  Q 1560.53 329.04 1560.53 325.89  L 1560.53 303.97  Q 1560.53 300.82 1557.38 300.82  L 1498.21 300.82  Q 1495.06 300.82 1495.06 303.97  L 1495.06 325.89  Q 1495.06 329.04 1498.21 329.04  z
" style="fill: #ffffff; opacity: 0.9; stroke: #000000; stroke-linejoin: miter"/>
</g>
<text style="font-weight: 700; font-size: 10.5px; font-family: 'DejaVu Sans', 'Liberation Sans', sans-serif; fill: #e74c3c" transform="translate(1498.21 311.95)">75°</text>
<text style="font-weight: 700; font-size: 10.5px; font-family: 'DejaVu Sans', 'Liberation Sans', sans-serif; fill: #e74c3c" transform="translate(1498.21 323.7)">prof=1.04</text>
</g>
<g id="text_48">
<text style="font-weight: 700; font-size: 11px; font-family: 'DejaVu Sans', 'Liberation Sans', sans-serif; text-anchor: middle; fill: #2c3e50" x="1426.1" y="66.85" transform="rotate(-0 1426.1 66.85)">FRONT (0°)</text>
</g>
<g id="text_49">
<text style="font-weight: 700; font-size: 11px; font-family: 'DejaVu Sans', 'Liberation Sans', sans-serif; text-anchor: middle; fill: #2c3e50" x="1426.1" y="583.67" transform="rotate(-0 1426.1 583.67)">BACK (180°)</text>
</g>
<g id="text_50">
<text style="font-weight: 700; font-size: 11px; font-family: 'DejaVu Sans', 'Liberation Sans', sans-serif; fill: #2c3e50" transform="translate(1153.42 322.23)">LEFT</text>
<text style="font-weight: 700; font-size: 11px; font-family: 'DejaVu Sans', 'Liberation Sans', sans-serif; fill: #2c3e50" transform="translate(1148.93 334.55)">(270°)</text>
</g>
<g id="text_51">
<text style="font-weight: 700; font-size: 11px; font-family: 'DejaVu Sans', 'Liberation Sans', sans-serif; fill: #2c3e50" transform="translate(1665.12 322.23)">RIGHT</text>
<text style="font-weight: 700; font-size: 11px; font-family: 'DejaVu Sans', 'Liberation Sans', sans-serif; fill: #2c3e50" transform="translate(1668.84 334.55)">(90°)</text>
</g>
<g id="PathCollection_1">
<g clip-path="url(#p2d98c31b42)">
<path d="M 0 -4.95 L -4.95 4.95 L 4.95 4.95 z" transform="translate(1426.28 126.49)" style="fill: #27ae60; stroke: #2c3e50; stroke-width: 1.2; stroke-linejoin: miter"/>
<path d="M 0 -4.95 L -4.95 4.95 L 4.95 4.95 z" transform="translate(1566.71 184.66)" style="fill: #27ae60; stroke: #2c3e50; stroke-width: 1.2; stroke-linejoin: miter"/>
<path d="M 0 -4.95 L -4.95 4.95 L 4.95 4.95 z" transform="translate(1624.87 325.08)" style="fill: #27ae60; stroke: #2c3e50; stroke-width: 1.2; stroke-linejoin: miter"/>
<path d="M 0 -4.95 L -4.95 4.95 L 4.95 4.95 z" transform="translate(1566.71 465.5)" style="fill: #27ae60; stroke: #2c3e50; stroke-width: 1.2; stroke-linejoin: miter"/>
<path d="M 0 -4.95 L -4.95 4.95 L 4.95 4.95 z" transform="translate(1426.28 523.67)" style="fill: #27ae60; stroke: #2c3e50; stroke-width: 1.2; stroke-linejoin: miter"/>
<path d="M 0 -4.95 L -4.95 4.95 L 4.95 4.95 z" transform="translate(1285.86 465.5)" style="fill: #27ae60; stroke: #2c3e50; stroke-width: 1.2; stroke-linejoin: miter"/>
<path d="M 0 -4.95 L -4.95 4.95 L 4.95 4.95 z" transform="translate(1227.69 325.08)" style="fill: #27ae60; stroke: #2c3e50; stroke-width: 1.2; stroke-linejoin: miter"/>
<path d="M 0 -4.95 L -4.95 4.95 L 4.95 4.95 z" transform="translate(1285.86 184.66)" style="fill: #27ae60; stroke: #2c3e50; stroke-width: 1.2; stroke-linejoin: miter"/>
</g>
</g>
<g id="PathCollection_2">
<g clip-path="url(#p2d98c31b42)">
<path d="M 0 -5.24 L -5.24 5.24 L 5.24 5.24 z" transform="translate(1426.28 129.51)" style="fill: #2ecc71; stroke: #2c3e50; stroke-width: 1.2; stroke-linejoin: miter"/>
<path d="M 0 -5.24 L -5.24 5.24 L 5.24 5.24 z" transform="translate(1564.57 186.79)" style="fill: #2ecc71; stroke: #2c3e50; stroke-width: 1.2; stroke-linejoin: miter"/>
<path d="M 0 -5.24 L -5.24 5.24 L 5.24 5.24 z" transform="translate(1621.86 325.08)" style="fill: #2ecc71; stroke: #2c3e50; stroke-width: 1.2; stroke-linejoin: miter"/>
<path d="M 0 -5.24 L -5.24 5.24 L 5.24 5.24 z" transform="translate(1564.57 463.37)" style="fill: #2ecc71; stroke: #2c3e50; stroke-width: 1.2; stroke-linejoin: miter"/>
<path d="M 0 -5.24 L -5.24 5.24 L 5.24 5.24 z" transform="translate(1426.28 520.65)" style="fill: #2ecc71; stroke: #2c3e50; stroke-width: 1.2; stroke-linejoin: miter"/>
<path d="M 0 -5.24 L -5.24 5.24 L 5.24 5.24 z" transform="translate(1287.99 463.37)" style="fill: #2ecc71; stroke: #2c3e50; stroke-width: 1.2; stroke-linejoin: miter"/>
<path d="M 0 -5.24 L -5.24 5.24 L 5.24 5.24 z" transform="translate(1230.71 325.08)" style="fill: #2ecc71; stroke: #2c3e50; stroke-width: 1.2; stroke-linejoin: miter"/>
<path d="M 0 -5.24 L -5.24 5.24 L 5.24 5.24 z" transform="translate(1287.99 186.79)" style="fill: #2ecc71; stroke: #2c3e50; stroke-width: 1.2; stroke-linejoin: miter"/>
</g>
</g>
<g id="PathCollection_3">
<g clip-path="url(#p2d98c31b42)">
<path d="M 0 -5.57 L -5.57 5.57 L 5.57 5.57 z" transform="translate(1426.28 138.47)" style="fill: #52be80; stroke: #2c3e50; stroke-width: 1.2; stroke-linejoin: miter"/>
<path d="M 0 -5.57 L -5.57 5.57 L 5.57 5.57 z" transform="translate(1558.24 193.12)" style="fill: #52be80; stroke: #2c3e50; stroke-width: 1.2; stroke-linejoin: miter"/>
<path d="M 0 -5.57 L -5.57 5.57 L 5.57 5.57 z" transform="translate(1612.9 325.08)" style="fill: #52be80; stroke: #2c3e50; stroke-width: 1.2; stroke-linejoin: miter"/>
<path d="M 0 -5.57 L -5.57 5.57 L 5.57 5.57 z" transform="translate(1558.24 457.04)" style="fill: #52be80; stroke: #2c3e50; stroke-width: 1.2; stroke-linejoin: miter"/>
<path d="M 0 -5.57 L -5.57 5.57 L 5.57 5.57 z" transform="translate(1426.28 511.69)" style="fill: #52be80; stroke: #2c3e50; stroke-width: 1.2; stroke-linejoin: miter"/>
<path d="M 0 -5.57 L -5.57 5.57 L 5.57 5.57 z" transform="translate(1294.33 457.04)" style="fill: #52be80; stroke: #2c3e50; stroke-width: 1.2; stroke-linejoin: miter"/>
<path d="M 0 -5.57 L -5.57 5.57 L 5.57 5.57 z" transform="translate(1239.67 325.08)" style="fill: #52be80; stroke: #2c3e50; stroke-width: 1.2; stroke-linejoin: miter"/>
<path d="M 0 -5.57 L -5.57 5.57 L 5.57 5.57 z" transform="translate(1294.33 193.12)" style="fill: #52be80; stroke: #2c3e50; stroke-width: 1.2; stroke-linejoin: miter"/>
</g>
</g>
<g id="PathCollection_4">
<g clip-path="url(#p2d98c31b42)">
<path d="M 0 -6.32 L -6.32 6.32 L 6.32 6.32 z" transform="translate(1426.28 153.1)" style="fill: #3498db; stroke: #2c3e50; stroke-width: 1.2; stroke-linejoin: miter"/>
<path d="M 0 -6.32 L -6.32 6.32 L 6.32 6.32 z" transform="translate(1547.89 203.47)" style="fill: #3498db; stroke: #2c3e50; stroke-width: 1.2; stroke-linejoin: miter"/>
<path d="M 0 -6.32 L -6.32 6.32 L 6.32 6.32 z" transform="translate(1598.27 325.08)" style="fill: #3498db; stroke: #2c3e50; stroke-width: 1.2; stroke-linejoin: miter"/>
<path d="M 0 -6.32 L -6.32 6.32 L 6.32 6.32 z" transform="translate(1547.89 446.69)" style="fill: #3498db; stroke: #2c3e50; stroke-width: 1.2; stroke-linejoin: miter"/>
<path d="M 0 -6.32 L -6.32 6.32 L 6.32 6.32 z" transform="translate(1426.28 497.06)" style="fill: #3498db; stroke: #2c3e50; stroke-width: 1.2; stroke-linejoin: miter"/>
<path d="M 0 -6.32 L -6.32 6.32 L 6.32 6.32 z" transform="translate(1304.67 446.69)" style="fill: #3498db; stroke: #2c3e50; stroke-width: 1.2; stroke-linejoin: miter"/>
<path d="M 0 -6.32 L -6.32 6.32 L 6.32 6.32 z" transform="translate(1254.3 325.08)" style="fill: #3498db; stroke: #2c3e50; stroke-width: 1.2; stroke-linejoin: miter"/>
<path d="M 0 -6.32 L -6.32 6.32 L 6.32 6.32 z" transform="translate(1304.67 203.47)" style="fill: #3498db; stroke: #2c3e50; stroke-width: 1.2; stroke-linejoin: miter"/>
</g>
</g>
<g id="PathCollection_5">
<g clip-path="url(#p2d98c31b42)">
<path d="M 0 -6.96 L -6.96 6.96 L 6.96 6.96 z" transform="translate(1426.28 172.95)" style="fill: #5dade2; stroke: #2c3e50; stroke-width: 1.2; stroke-linejoin: miter"/>
<path d="M 0 -6.96 L -6.96 6.96 L 6.96 6.96 z" transform="translate(1533.85 217.51)" style="fill: #5dade2; stroke: #2c3e50; stroke-width: 1.2; stroke-linejoin: miter"/>
<path d="M 0 -6.96 L -6.96 6.96 L 6.96 6.96 z" transform="translate(1578.41 325.08)" style="fill: #5dade2; stroke: #2c3e50; stroke-width: 1.2; stroke-linejoin: miter"/>
<path d="M 0 -6.96 L -6.96 6.96 L 6.96 6.96 z" transform="translate(1533.85 432.65)" style="fill: #5dade2; stroke: #2c3e50; stroke-width: 1.2; stroke-linejoin: miter"/>
<path d="M 0 -6.96 L -6.96 6.96 L 6.96 6.96 z" transform="translate(1426.28 477.21)" style="fill: #5dade2; stroke: #2c3e50; stroke-width: 1.2; stroke-linejoin: miter"/>
<path d="M 0 -6.96 L -6.96 6.96 L 6.96 6.96 z" transform="translate(1318.71 432.65)" style="fill: #5dade2; stroke: #2c3e50; stroke-width: 1.2; stroke-linejoin: miter"/>
<path d="M 0 -6.96 L -6.96 6.96 L 6.96 6.96 z" transform="translate(1274.16 325.08)" style="fill: #5dade2; stroke: #2c3e50; stroke-width: 1.2; stroke-linejoin: miter"/>
<path d="M 0 -6.96 L -6.96 6.96 L 6.96 6.96 z" transform="translate(1318.71 217.51)" style="fill: #5dade2; stroke: #2c3e50; stroke-width: 1.2; stroke-linejoin: miter"/>
</g>
</g>
<g id="PathCollection_6">
<g clip-path="url(#p2d98c31b42)">
<path d="M 0 -6.96 L -6.96 6.96 L 6.96 6.96 z" transform="translate(1426.28 184.66)" style="fill: #f1c40f; stroke: #2c3e50; stroke-width: 1.2; stroke-linejoin: miter"/>
<path d="M 0 -6.96 L -6.96 6.96 L 6.96 6.96 z" transform="translate(1525.58 225.79)" style="fill: #f1c40f; stroke: #2c3e50; stroke-width: 1.2; stroke-linejoin: miter"/>
<path d="M 0 -6.96 L -6.96 6.96 L 6.96 6.96 z" transform="translate(1566.71 325.08)" style="fill: #f1c40f; stroke: #2c3e50; stroke-width: 1.2; stroke-linejoin: miter"/>
<path d="M 0 -6.96 L -6.96 6.96 L 6.96 6.96 z" transform="translate(1525.58 424.37)" style="fill: #f1c40f; stroke: #2c3e50; stroke-width: 1.2; stroke-linejoin: miter"/>
<path d="M 0 -6.96 L -6.96 6.96 L 6.96 6.96 z" transform="translate(1426.28 465.5)" style="fill: #f1c40f; stroke: #2c3e50; stroke-width: 1.2; stroke-linejoin: miter"/>
<path d="M 0 -6.96 L -6.96 6.96 L 6.96 6.96 z" transform="translate(1326.99 424.37)" style="fill: #f1c40f; stroke: #2c3e50; stroke-width: 1.2; stroke-linejoin: miter"/>
<path d="M 0 -6.96 L -6.96 6.96 L 6.96 6.96 z" transform="translate(1285.86 325.08)" style="fill: #f1c40f; stroke: #2c3e50; stroke-width: 1.2; stroke-linejoin: miter"/>
<path d="M 0 -6.96 L -6.96 6.96 L 6.96 6.96 z" transform="translate(1326.99 225.79)" style="fill: #f1c40f; stroke: #2c3e50; stroke-width: 1.2; stroke-linejoin: miter"/>
</g>
</g>
<g id="PathCollection_7">
<g clip-path="url(#p2d98c31b42)">
<path d="M 0 -7.63 L -7.63 7.63 L 7.63 7.63 z" transform="translate(1426.28 197.43)" style="fill: #f39c12; stroke: #2c3e50; stroke-width: 1.2; stroke-linejoin: miter"/>
<path d="M 0 -7.63 L -7.63 7.63 L 7.63 7.63 z" transform="translate(1516.55 234.82)" style="fill: #f39c12; stroke: #2c3e50; stroke-width: 1.2; stroke-linejoin: miter"/>
<path d="M 0 -7.63 L -7.63 7.63 L 7.63 7.63 z" transform="translate(1553.93 325.08)" style="fill: #f39c12; stroke: #2c3e50; stroke-width: 1.2; stroke-linejoin: miter"/>
<path d="M 0 -7.63 L -7.63 7.63 L 7.63 7.63 z" transform="translate(1516.55 415.34)" style="fill: #f39c12; stroke: #2c3e50; stroke-width: 1.2; stroke-linejoin: miter"/>
<path d="M 0 -7.63 L -7.63 7.63 L 7.63 7.63 z" transform="translate(1426.28 452.73)" style="fill: #f39c12; stroke: #2c3e50; stroke-width: 1.2; stroke-linejoin: miter"/>
<path d="M 0 -7.63 L -7.63 7.63 L 7.63 7.63 z" transform="translate(1336.02 415.34)" style="fill: #f39c12; stroke: #2c3e50; stroke-width: 1.2; stroke-linejoin: miter"/>
<path d="M 0 -7.63 L -7.63 7.63 L 7.63 7.63 z" transform="translate(1298.63 325.08)" style="fill: #f39c12; stroke: #2c3e50; stroke-width: 1.2; stroke-linejoin: miter"/>
<path d="M 0 -7.63 L -7.63 7.63 L 7.63 7.63 z" transform="translate(1336.02 234.82)" style="fill: #f39c12; stroke: #2c3e50; stroke-width: 1.2; stroke-linejoin: miter"/>
</g>
</g>
<g id="PathCollection_8">
<g clip-path="url(#p2d98c31b42)">
<path d="M 0 -8.38 L -8.38 8.38 L 8.38 8.38 z" transform="translate(1426.28 225.79)" style="fill: #e67e22; stroke: #2c3e50; stroke-width: 1.2; stroke-linejoin: miter"/>
<path d="M 0 -8.38 L -8.38 8.38 L 8.38 8.38 z" transform="translate(1496.5 254.87)" style="fill: #e67e22; stroke: #2c3e50; stroke-width: 1.2; stroke-linejoin: miter"/>
<path d="M 0 -8.38 L -8.38 8.38 L 8.38 8.38 z" transform="translate(1525.58 325.08)" style="fill: #e67e22; stroke: #2c3e50; stroke-width: 1.2; stroke-linejoin: miter"/>
<path d="M 0 -8.38 L -8.38 8.38 L 8.38 8.38 z" transform="translate(1496.5 395.29)" style="fill: #e67e22; stroke: #2c3e50; stroke-width: 1.2; stroke-linejoin: miter"/>
<path d="M 0 -8.38 L -8.38 8.38 L 8.38 8.38 z" transform="translate(1426.28 424.37)" style="fill: #e67e22; stroke: #2c3e50; stroke-width: 1.2; stroke-linejoin: miter"/>
<path d="M 0 -8.38 L -8.38 8.38 L 8.38 8.38 z" transform="translate(1356.07 395.29)" style="fill: #e67e22; stroke: #2c3e50; stroke-width: 1.2; stroke-linejoin: miter"/>
<path d="M 0 -8.38 L -8.38 8.38 L 8.38 8.38 z" transform="translate(1326.99 325.08)" style="fill: #e67e22; stroke: #2c3e50; stroke-width: 1.2; stroke-linejoin: miter"/>
<path d="M 0 -8.38 L -8.38 8.38 L 8.38 8.38 z" transform="translate(1356.07 254.87)" style="fill: #e67e22; stroke: #2c3e50; stroke-width: 1.2; stroke-linejoin: miter"/>
</g>
</g>
<g id="PathCollection_9">
<g clip-path="url(#p2d98c31b42)">
<path d="M 0 -9.15 L -9.15 9.15 L 9.15 9.15 z" transform="translate(1426.28 273.68)" style="fill: #e74c3c; stroke: #2c3e50; stroke-width: 1.2; stroke-linejoin: miter"/>
<path d="M 0 -9.15 L -9.15 9.15 L 9.15 9.15 z" transform="translate(1462.63 288.74)" style="fill: #e74c3c; stroke: #2c3e50; stroke-width: 1.2; stroke-linejoin: miter"/>
<path d="M 0 -9.15 L -9.15 9.15 L 9.15 9.15 z" transform="translate(1477.68 325.08)" style="fill: #e74c3c; stroke: #2c3e50; stroke-width: 1.2; stroke-linejoin: miter"/>
<path d="M 0 -9.15 L -9.15 9.15 L 9.15 9.15 z" transform="translate(1462.63 361.42)" style="fill: #e74c3c; stroke: #2c3e50; stroke-width: 1.2; stroke-linejoin: miter"/>
<path d="M 0 -9.15 L -9.15 9.15 L 9.15 9.15 z" transform="translate(1426.28 376.48)" style="fill: #e74c3c; stroke: #2c3e50; stroke-width: 1.2; stroke-linejoin: miter"/>
<path d="M 0 -9.15 L -9.15 9.15 L 9.15 9.15 z" transform="translate(1389.94 361.42)" style="fill: #e74c3c; stroke: #2c3e50; stroke-width: 1.2; stroke-linejoin: miter"/>
<path d="M 0 -9.15 L -9.15 9.15 L 9.15 9.15 z" transform="translate(1374.89 325.08)" style="fill: #e74c3c; stroke: #2c3e50; stroke-width: 1.2; stroke-linejoin: miter"/>
<path d="M 0 -9.15 L -9.15 9.15 L 9.15 9.15 z" transform="translate(1389.94 288.74)" style="fill: #e74c3c; stroke: #2c3e50; stroke-width: 1.2; stroke-linejoin: miter"/>
</g>
</g>
<g id="PathCollection_10">
<g clip-path="url(#p2d98c31b42)">
<path d="M 0 7.33 C 1.94 7.33 3.81 6.56 5.18 5.18 C 6.56 3.81 7.33 1.94 7.33 0 C 7.33 -1.94 6.56 -3.81 5.18 -5.18 C 3.81 -6.56 1.94 -7.33 0 -7.33 C -1.94 -7.33 -3.81 -6.56 -5.18 -5.18 C -6.56 -3.81 -7.33 -1.94 -7.33 0 C -7.33 1.94 -6.56 3.81 -5.18 5.18 C -3.81 6.56 -1.94 7.33 0 7.33 z" transform="translate(1425.92 324.73)" style="fill: #34495e; stroke: #000000; stroke-width: 2.5"/>
</g>
</g>
<g id="legend_1">
<g id="PathCollection_11">
<g>
<path d="M 0 -4.95 L -4.95 4.95 L 4.95 4.95 z" transform="translate(1202.44 101.36)" style="fill: #27ae60; stroke: #2c3e50; stroke-width: 1.2"/>
</g>
</g>
<g id="text_52">
<text style="font-size: 8.5px; font-family: 'DejaVu Sans', 'Liberation Sans', sans-serif; text-anchor: start; fill: #2c3e50" x="1227.52" y="104.52" transform="rotate(-0 1227.52 104.52)">0° (eye-level shot)</text>
</g>
<g id="PathCollection_12">
<g>
<path d="M 0 -5.24 L -5.24 5.24 L 5.24 5.24 z" transform="translate(1202.44 121.22)" style="fill: #2ecc71; stroke: #2c3e50; stroke-width: 1.2"/>
</g>
</g>
<g id="text_53">
<text style="font-size: 8.5px; font-family: 'DejaVu Sans', 'Liberation Sans', sans-serif; text-anchor: start; fill: #2c3e50" x="1227.52" y="124.39" transform="rotate(-0 1227.52 124.39)">10° (low-angle shot)</text>
</g>
<g id="PathCollection_13">
<g>
<path d="M 0 -5.57 L -5.57 5.57 L 5.57 5.57 z" transform="translate(1202.44 141.08)" style="fill: #52be80; stroke: #2c3e50; stroke-width: 1.2"/>
</g>
</g>
<g id="text_54">
<text style="font-size: 8.5px; font-family: 'DejaVu Sans', 'Liberation Sans', sans-serif; text-anchor: start; fill: #2c3e50" x="1227.52" y="144.25" transform="rotate(-0 1227.52 144.25)">20° (mid-low shot)</text>
</g>
<g id="PathCollection_14">
<g>
<path d="M 0 -6.32 L -6.32 6.32 L 6.32 6.32 z" transform="translate(1202.44 160.94)" style="fill: #3498db; stroke: #2c3e50; stroke-width: 1.2"/>
</g>
</g>
<g id="text_55">
<text style="font-size: 8.5px; font-family: 'DejaVu Sans', 'Liberation Sans', sans-serif; text-anchor: start; fill: #2c3e50" x="1227.52" y="164.11" transform="rotate(-0 1227.52 164.11)">30° (mid-angle shot)</text>
</g>
<g id="PathCollection_15">
<g>
<path d="M 0 -6.96 L -6.96 6.96 L 6.96 6.96 z" transform="translate(1202.44 180.81)" style="fill: #5dade2; stroke: #2c3e50; stroke-width: 1.2"/>
</g>
</g>
<g id="text_56">
<text style="font-size: 8.5px; font-family: 'DejaVu Sans', 'Liberation Sans', sans-serif; text-anchor: start; fill: #2c3e50" x="1227.52" y="183.97" transform="rotate(-0 1227.52 183.97)">40° (high-mid shot)</text>
</g>
<g id="PathCollection_16">
<g>
<path d="M 0 -6.96 L -6.96 6.96 L 6.96 6.96 z" transform="translate(1202.44 200.67)" style="fill: #f1c40f; stroke: #2c3e50; stroke-width: 1.2"/>
</g>
</g>
<g id="text_57">
<text style="font-size: 8.5px; font-family: 'DejaVu Sans', 'Liberation Sans', sans-serif; text-anchor: start; fill: #2c3e50" x="1227.52" y="203.84" transform="rotate(-0 1227.52 203.84)">45° (high-angle shot)</text>
</g>
<g id="PathCollection_17">
<g>
<path d="M 0 -7.63 L -7.63 7.63 L 7.63 7.63 z" transform="translate(1202.44 220.53)" style="fill: #f39c12; stroke: #2c3e50; stroke-width: 1.2"/>
</g>
</g>
<g id="text_58">
<text style="font-size: 8.5px; font-family: 'DejaVu Sans', 'Liberation Sans', sans-serif; text-anchor: start; fill: #2c3e50" x="1227.52" y="223.7" transform="rotate(-0 1227.52 223.7)">50° (steep-mid shot)</text>
</g>
<g id="PathCollection_18">
<g>
<path d="M 0 -8.38 L -8.38 8.38 L 8.38 8.38 z" transform="translate(1202.44 240.4)" style="fill: #e67e22; stroke: #2c3e50; stroke-width: 1.2"/>
</g>
</g>
<g id="text_59">
<text style="font-size: 8.5px; font-family: 'DejaVu Sans', 'Liberation Sans', sans-serif; text-anchor: start; fill: #2c3e50" x="1227.52" y="243.56" transform="rotate(-0 1227.52 243.56)">60° (steep-angle shot)</text>
</g>
<g id="PathCollection_19">
<g>
<path d="M 0 -9.15 L -9.15 9.15 L 9.15 9.15 z" transform="translate(1202.44 260.26)" style="fill: #e74c3c; stroke: #2c3e50; stroke-width: 1.2"/>
</g>
</g>
<g id="text_60">
<text style="font-size: 8.5px; font-family: 'DejaVu Sans', 'Liberation Sans', sans-serif; text-anchor: start; fill: #2c3e50" x="1227.52" y="263.43" transform="rotate(-0 1227.52 263.43)">75° (overhead shot)</text>
</g>
</g>
</g>
<g id="text_61">
<text style="font-weight: 700; font-size: 13.26px; font-family: 'DejaVu Sans', 'Liberation Sans', sans-serif; text-anchor: middle" x="291.42" y="27.36" transform="rotate(-0 291.42 27.36)">3D Hemisphere - 72 Camera Positions</text>
</g>
<g id="text_62">
<text style="font-weight: 700; font-size: 13.26px; font-family: 'DejaVu Sans', 'Liberation Sans', sans-serif; text-anchor: middle" x="291.42" y="42.26" transform="rotate(-0 291.42 42.26)">(8 azimuths × 9 elevations - MORE depth!)</text>
</g>
<g id="text_63">
<text style="font-weight: 700; font-size: 13.26px; font-family: 'DejaVu Sans', 'Liberation Sans', sans-serif; text-anchor: middle" x="858.78" y="27.36" transform="rotate(-0 858.78 27.36)">Isometric View - Shows Depth</text>
</g>
<g id="text_64">
<text style="font-weight: 700; font-size: 13.26px; font-family: 'DejaVu Sans', 'Liberation Sans', sans-serif; text-anchor: middle" x="858.78" y="42.26" transform="rotate(-0 858.78 42.26)">(all 72 positions with lines)</text>
</g>
<g id="text_65">
<text style="font-weight: 700; font-size: 13.26px; font-family: 'DejaVu Sans', 'Liberation Sans', sans-serif; text-anchor: middle" x="1425.96" y="27.36" transform="rotate(-0 1425.96 27.36)">Vue de Dessus - Cercles = PROFONDEUR Horizontale</text>
</g>
<g id="text_66">
<text style="font-weight: 700; font-size: 13.26px; font-family: 'DejaVu Sans', 'Liberation Sans', sans-serif; text-anchor: middle" x="1425.96" y="42.26" transform="rotate(-0 1425.96 42.26)">(plus petit cercle = moins de profondeur)</text>
</g>
</g>
<defs>
<clipPath id="pf00ca0ee67">
<rect x="18.36" y="51.3" width="546.12" height="546.12"/>
</clipPath>
<clipPath id="p967771afbb">
<rect x="585.72" y="51.3" width="546.12" height="546.12"/>
</clipPath>
<clipPath id="p2d98c31b42">
<rect x="1153.04" y="51.3" width="546.12" height="546.12"/>
</clipPath>
</defs>
</svg>

</body></html>
